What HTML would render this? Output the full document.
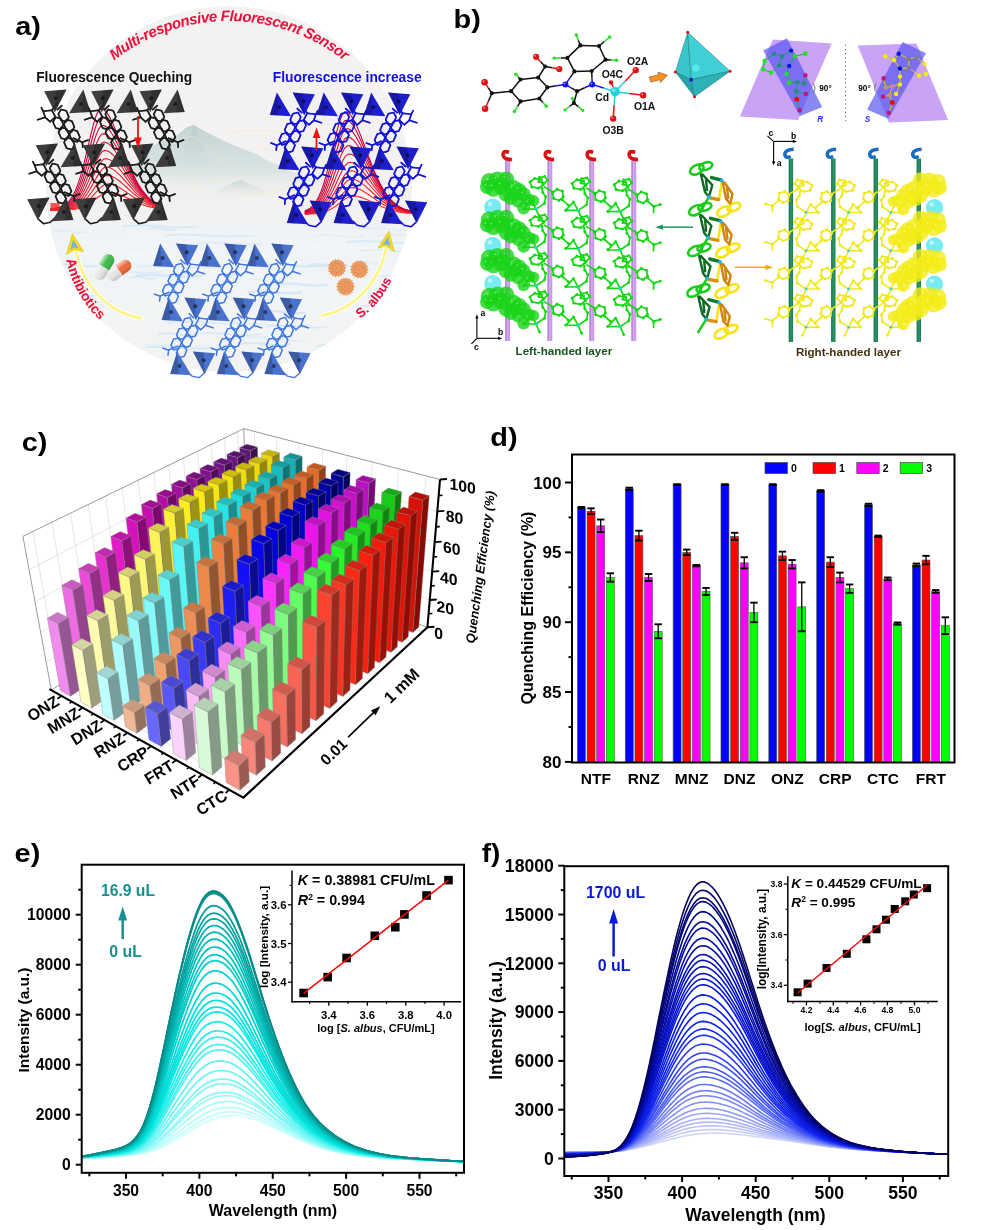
<!DOCTYPE html>
<html><head><meta charset="utf-8"><title>Figure</title>
<style>html,body{margin:0;padding:0;background:#fff;}svg{display:block;font-family:"Liberation Sans",sans-serif;}</style>
</head><body>
<svg width="986" height="1230" viewBox="0 0 986 1230">
<defs>
<clipPath id="clipE"><rect x="81.7" y="864.7" width="382.3" height="308.1"/></clipPath>
<clipPath id="clipF"><rect x="564.3" y="866.2" width="383.9" height="309.8"/></clipPath>
<clipPath id="clipA"><circle cx="229" cy="189" r="183"/></clipPath>
<linearGradient id="gA" x1="0" y1="0" x2="0" y2="1"><stop offset="0" stop-color="#f4f3f2"/><stop offset="1" stop-color="#f1f0ee"/></linearGradient>
<linearGradient id="gM" x1="0" y1="0" x2="0" y2="1"><stop offset="0" stop-color="#bfd2d1" stop-opacity="0.95"/><stop offset="0.6" stop-color="#d3e0df" stop-opacity="0.8"/><stop offset="1" stop-color="#eef1f0" stop-opacity="0"/></linearGradient>
<linearGradient id="gM2" x1="0" y1="0" x2="0" y2="1"><stop offset="0" stop-color="#b4cac9" stop-opacity="0.9"/><stop offset="1" stop-color="#e6eceb" stop-opacity="0"/></linearGradient>
<linearGradient id="gW" x1="0" y1="0" x2="0" y2="1"><stop offset="0" stop-color="#eef4f8" stop-opacity="0"/><stop offset="0.15" stop-color="#f0f4f6" stop-opacity="1"/><stop offset="0.7" stop-color="#f2f4f5" stop-opacity="1"/><stop offset="1" stop-color="#f3f2f1" stop-opacity="1"/></linearGradient>
<g id="lk" fill="none" stroke-linejoin="round" stroke-linecap="round"><polygon points="-11.7,-0.5 -3,-1.5 0.5,5.1 -4.6,10.1 -9.6,5.6"/><polygon points="0.78,5.55 6.05,6.86 8.69,12.91 6.06,17.66 0.8,16.35 -1.84,10.3"/><polygon points="6.3,15.7 11.56,17 14.2,23.06 11.58,27.8 6.32,26.5 3.68,20.44"/><polygon points="11.82,25.84 17.08,27.15 19.72,33.2 17.1,37.95 11.84,36.64 9.2,30.59"/><polygon points="6.12,-2.23 11.38,-0.93 14.02,5.13 11.4,9.87 6.14,8.57 3.5,2.51"/><polygon points="11.64,7.91 16.9,9.22 19.54,15.27 16.92,20.02 11.65,18.71 9.01,12.66"/><polygon points="17.15,18.06 22.42,19.36 25.06,25.42 22.43,30.16 17.17,28.86 14.53,22.8"/><path d="M-9.6 5.6 L-17.2 8.1 M-11.7 -0.5 L-13.5 -4 M18.5 26.5 L27.5 30.5 L33.3 28.4 M27.5 30.5 L28 35.5 M-3 -1.5 L2 -8 M2.5 -2 L7 -6"/></g>
<g id="dT" stroke="none"><polygon points="0,1.7 22.3,0 10.65,22.6"/><polygon points="11.6,0.8 22.3,0 10.65,22.6" fill="#000" opacity="0.2"/><circle cx="11.45" cy="8.59" r="2" fill="#000" opacity="0.5"/></g>
<g id="uT" stroke="none"><polygon points="13.65,0 20.8,22.4 -0.5,23.6"/><polygon points="13.65,0 20.8,22.4 12.27,22.9" fill="#000" opacity="0.2"/><circle cx="11.35" cy="14.46" r="2" fill="#000" opacity="0.5"/></g>
<g id="fw"><use href="#lk" x="10.65" y="22.1"/><use href="#lk" x="57.65" y="22.1"/><use href="#lk" x="106.05" y="22.1"/><use href="#lk" x="2.15" y="76.1"/><use href="#lk" x="49.15" y="76.1"/><use href="#lk" x="97.55" y="76.1"/><path d="M-5.85 129.6 l5 4.5 l7 -1.5 l4.5 -4.5 M41.15 129.6 l5 4.5 l7 -1.5 l4.5 -4.5 M89.55 129.6 l5 4.5 l7 -1.5 l4.5 -4.5" fill="none" stroke-linejoin="round"/><use href="#dT" x="0" y="0"/><use href="#dT" x="47" y="0"/><use href="#dT" x="95.4" y="0"/><use href="#uT" x="25.4" y="0"/><use href="#uT" x="72.9" y="0"/><use href="#uT" x="119.7" y="0"/><use href="#dT" x="-8.5" y="54"/><use href="#dT" x="38.5" y="54"/><use href="#dT" x="86.9" y="54"/><use href="#uT" x="16.9" y="54"/><use href="#uT" x="64.4" y="54"/><use href="#uT" x="111.2" y="54"/><use href="#dT" x="-17" y="108"/><use href="#dT" x="30" y="108"/><use href="#dT" x="78.4" y="108"/><use href="#uT" x="8.4" y="108"/><use href="#uT" x="55.9" y="108"/><use href="#uT" x="102.7" y="108"/><use href="#lk" x="10.65" y="22.1" opacity="0.6"/><use href="#lk" x="57.65" y="22.1" opacity="0.6"/><use href="#lk" x="106.05" y="22.1" opacity="0.6"/><use href="#lk" x="2.15" y="76.1" opacity="0.6"/><use href="#lk" x="49.15" y="76.1" opacity="0.6"/><use href="#lk" x="97.55" y="76.1" opacity="0.6"/></g>
<path id="arcT" d="M 112.33 61.86 A 187 187 0 0 1 345.67 61.86"/>
<path id="arcL" d="M66 258.5 Q 73.5 296 101 321"/>
<path id="arcR" d="M357.8 320.6 Q 382 303 393 277"/>
<linearGradient id="gPill" x1="0" y1="0" x2="0" y2="1"><stop offset="0" stop-color="#ffffff" stop-opacity="0.65"/><stop offset="0.45" stop-color="#ffffff" stop-opacity="0"/><stop offset="1" stop-color="#000" stop-opacity="0.18"/></linearGradient>
<linearGradient id="gRodP" x1="0" y1="0" x2="1" y2="0"><stop offset="0" stop-color="#9a68c4"/><stop offset="0.45" stop-color="#d9a8f2"/><stop offset="1" stop-color="#c48ee0"/></linearGradient>
<linearGradient id="gRodG" x1="0" y1="0" x2="1" y2="0"><stop offset="0" stop-color="#146a44"/><stop offset="0.5" stop-color="#2a9a68"/><stop offset="1" stop-color="#1a7a50"/></linearGradient>
<marker id="mG" markerWidth="4" markerHeight="4" refX="2" refY="2" markerUnits="userSpaceOnUse"><circle cx="2" cy="2" r="1.45" fill="#14d814"/></marker><marker id="mY" markerWidth="4" markerHeight="4" refX="2" refY="2" markerUnits="userSpaceOnUse"><circle cx="2" cy="2" r="1.4" fill="#f0e81a"/></marker>
<g id="uc" fill="none" stroke-linejoin="round" stroke-linecap="round"><polygon points="7.23,-24.54 2.45,-20.89 -4.18,-22.15 -6.03,-27.06 -1.25,-30.71 5.38,-29.45"/><polygon points="11.61,-28.84 7.91,-25.63 2.81,-27.36 3.37,-31.63 8.8,-32.55"/><polygon points="-14.75,-13.55 -19.12,-9.89 -24.47,-11.84 -25.45,-17.45 -21.08,-21.11 -15.73,-19.16"/><path d="M0 0 L8.5 -5.7 L9.7 -12.4 L6.7 -16.7 L6 -21 M0 0 L3.5 8 M-12.2 -0.2 L-4.6 -8.4 L0 0 Z M-9.7 -5.1 L-15.8 -10.6 M-25.4 -18.4 L-33.5 -23.4"/></g>
<g id="ue" fill="none" stroke-linejoin="round" stroke-linecap="round"><polygon points="-14.75,-13.55 -19.12,-9.89 -24.47,-11.84 -25.45,-17.45 -21.08,-21.11 -15.73,-19.16"/><path d="M-25.4 -18.4 L-33.5 -23.4 M-15 -12 L-8.5 -6.5 L-2 -8.5 M-8.5 -6.5 L-8.8 -0.5"/></g>
<g id="bl" stroke="none"><circle cx="-46.6" cy="-27.6" r="8.6" fill-opacity="0.8"/><circle cx="-38.4" cy="-28.8" r="8.8" fill-opacity="0.8"/><circle cx="-42.5" cy="-21" r="8.6" fill-opacity="0.8"/><circle cx="-34.3" cy="-23" r="8.6" fill-opacity="0.8"/><circle cx="-29.7" cy="-29.6" r="8" fill-opacity="0.8"/><circle cx="-49" cy="-22" r="7" fill-opacity="0.8"/><circle cx="-22.4" cy="-21.2" r="8" fill-opacity="0.8"/><circle cx="-16.9" cy="-18.5" r="7.6" fill-opacity="0.8"/><circle cx="-12.4" cy="-14.8" r="7" fill-opacity="0.8"/><circle cx="-25.2" cy="-11" r="7" fill-opacity="0.8"/><circle cx="-6.9" cy="-9.4" r="6.2" fill-opacity="0.8"/><circle cx="-2.3" cy="-8.4" r="5.6" fill-opacity="0.8"/><circle cx="-12.4" cy="-1.1" r="6.4" fill-opacity="0.8"/><circle cx="-30" cy="-15" r="7.5" fill-opacity="0.8"/><circle cx="-18" cy="-8" r="6.5" fill-opacity="0.8"/><circle cx="-48.75" cy="-30.18" r="0.7" fill="#fff" opacity="0.6"/><circle cx="-40.6" cy="-31.44" r="0.7" fill="#fff" opacity="0.6"/><circle cx="-44.65" cy="-23.58" r="0.7" fill="#fff" opacity="0.6"/><circle cx="-36.45" cy="-25.58" r="0.7" fill="#fff" opacity="0.6"/><circle cx="-31.7" cy="-32" r="0.7" fill="#fff" opacity="0.6"/><circle cx="-50.75" cy="-24.1" r="0.7" fill="#fff" opacity="0.6"/><circle cx="-24.4" cy="-23.6" r="0.7" fill="#fff" opacity="0.6"/><circle cx="-18.8" cy="-20.78" r="0.7" fill="#fff" opacity="0.6"/><circle cx="-14.15" cy="-16.9" r="0.7" fill="#fff" opacity="0.6"/></g>
<g id="curl" fill="none" stroke-linecap="butt"><path d="M7.5 2.2 Q1.2 0.2 1.6 5.2 Q2.2 9.2 10.4 9.6" stroke-width="3.6"/><polygon points="6.2,-1.8 11.6,2.3 6.4,5.8" stroke="none"/></g>
<g id="hx" fill="none" stroke-linecap="round" stroke-linejoin="round"><g stroke="#1ccc1c" stroke-width="2.6"><ellipse cx="26.8" cy="19.5" rx="7.4" ry="4.3" transform="rotate(-28 26.8 19.5)"/><ellipse cx="35.8" cy="16.2" rx="6.8" ry="3.6" transform="rotate(-18 35.8 16.2)"/><path d="M39 47 L31 60"/></g><path d="M31 24.5 L35 42 L39 47 M32.5 24.5 L42.3 35 L39 47 M36 30 L37 40" stroke="#0d6a22" stroke-width="2.4"/><path d="M41.5 27.6 L51 30" stroke="#0f7a2a" stroke-width="3.4"/><g stroke="#f6e418" stroke-width="2.6"><ellipse cx="54" cy="61.5" rx="7.4" ry="4.3" transform="rotate(-28 54 61.5)"/><ellipse cx="64" cy="57" rx="6.8" ry="3.6" transform="rotate(-22 64 57)"/><path d="M52 31 L49 49"/></g><path d="M52.8 32.5 L56 49 L60.2 53.6 M54.5 32.5 L62.5 44 L60.2 53.6 M57 38 L58.3 48" stroke="#cf840c" stroke-width="2.4"/><path d="M40.6 48 L48.8 49.6" stroke="#d8900e" stroke-width="3.4"/><circle cx="51.8" cy="30.6" r="1.9" fill="#1fb4f0" stroke="none"/><circle cx="39" cy="47" r="1.9" fill="#1fb4f0" stroke="none"/></g>
</defs>
<rect width="986" height="1230" fill="#fff"/>
<g style="will-change:opacity" opacity="0.9999">
<circle cx="229" cy="189" r="183" fill="url(#gA)" stroke="none" stroke-width="1" />
<g clip-path="url(#clipA)">
<path d="M95 200 L130 168 L158 142 L176 136 L187 127 L194 125 L204 131 L214 136 L226 142 L233 145 L246 150 L258 155 L268 161 L280 166 L292 172 L310 178 L335 186 L360 200 Z" fill="url(#gM)"/>
<path d="M172 200 L184 150 L194 125 L203 146 L212 172 L226 200 Z" fill="url(#gM2)" opacity="0.6"/>
<path d="M205 200 L222 188 L234 182 L241 180 L250 184 L262 189 L280 200 Z" fill="url(#gM2)" opacity="0.7"/>
<path d="M165 150 Q185 132 196 138 T230 170 T262 190" fill="none" stroke="#f5e6c8" stroke-width="0.8" opacity="0.8"/>
<path d="M230 132 Q260 128 300 134" fill="none" stroke="#f5e6c8" stroke-width="0.8" opacity="0.8"/>
<path d="M190 190 Q215 170 232 186 T290 186" fill="none" stroke="#f5e6c8" stroke-width="0.8" opacity="0.8"/>
<path d="M262 150 Q290 152 312 150" fill="none" stroke="#f5e6c8" stroke-width="0.8" opacity="0.8"/>
<rect x="40" y="212" width="380" height="160" fill="url(#gW)" stroke="none" stroke-width="0" />
<path d="M127.9 239 q11.7 -2 23.39 0 t23.39 0" fill="none" stroke="#f6f7f7" stroke-width="1.13" opacity="0.75"/>
<path d="M56.54 295.22 q10.23 -2 20.46 0 t20.46 0" fill="none" stroke="#d3e7f5" stroke-width="1.31" opacity="0.75"/>
<path d="M227.1 260.86 q8.62 -2 17.25 0 t17.25 0" fill="none" stroke="#d3e7f5" stroke-width="1.37" opacity="0.75"/>
<path d="M361.18 229.23 q15.06 -2 30.12 0 t30.12 0" fill="none" stroke="#dcecf7" stroke-width="2.12" opacity="0.75"/>
<path d="M113.83 265.04 q14.87 -2 29.74 0 t29.74 0" fill="none" stroke="#dcecf7" stroke-width="1.12" opacity="0.75"/>
<path d="M249.93 310.63 q13.21 -2 26.41 0 t26.41 0" fill="none" stroke="#f6f7f7" stroke-width="1.35" opacity="0.75"/>
<path d="M142.4 345.02 q17.5 -2 34.99 0 t34.99 0" fill="none" stroke="#dcecf7" stroke-width="1.01" opacity="0.75"/>
<path d="M146.34 314.82 q10.54 -2 21.07 0 t21.07 0" fill="none" stroke="#f6f7f7" stroke-width="1.58" opacity="0.75"/>
<path d="M247.64 280.31 q8.47 -2 16.94 0 t16.94 0" fill="none" stroke="#dcecf7" stroke-width="1.36" opacity="0.75"/>
<path d="M313.14 236.22 q12.61 -2 25.22 0 t25.22 0" fill="none" stroke="#dcecf7" stroke-width="1.73" opacity="0.75"/>
<path d="M263.84 314.31 q8.24 -2 16.49 0 t16.49 0" fill="none" stroke="#f6f7f7" stroke-width="1.09" opacity="0.75"/>
<path d="M351.47 306.01 q12.32 -2 24.63 0 t24.63 0" fill="none" stroke="#f6f7f7" stroke-width="1.5" opacity="0.75"/>
<path d="M296.49 266.4 q13.93 -2 27.86 0 t27.86 0" fill="none" stroke="#dcecf7" stroke-width="1.14" opacity="0.75"/>
<path d="M70.33 254.84 q16.77 -2 33.54 0 t33.54 0" fill="none" stroke="#f6f7f7" stroke-width="1.17" opacity="0.75"/>
<path d="M358.41 262.66 q6.6 -2 13.21 0 t13.21 0" fill="none" stroke="#dcecf7" stroke-width="1.98" opacity="0.75"/>
<path d="M345.66 346.3 q16.35 -2 32.71 0 t32.71 0" fill="none" stroke="#dcecf7" stroke-width="1.03" opacity="0.75"/>
<path d="M145.37 347.72 q16.91 -2 33.82 0 t33.82 0" fill="none" stroke="#cfe4f4" stroke-width="2.21" opacity="0.75"/>
<path d="M336.94 311.69 q7.32 -2 14.64 0 t14.64 0" fill="none" stroke="#f6f7f7" stroke-width="2.25" opacity="0.75"/>
<path d="M146.36 257.51 q14.48 -2 28.97 0 t28.97 0" fill="none" stroke="#f6f7f7" stroke-width="1.46" opacity="0.75"/>
<path d="M53.1 231.64 q8.58 -2 17.16 0 t17.16 0" fill="none" stroke="#dcecf7" stroke-width="2.4" opacity="0.75"/>
<path d="M238.58 281.36 q9.1 -2 18.2 0 t18.2 0" fill="none" stroke="#f6f7f7" stroke-width="1.16" opacity="0.75"/>
<path d="M70.53 318.88 q14.44 -2 28.88 0 t28.88 0" fill="none" stroke="#f6f7f7" stroke-width="1.85" opacity="0.75"/>
<path d="M230.26 299.42 q10.67 -2 21.34 0 t21.34 0" fill="none" stroke="#d3e7f5" stroke-width="1.17" opacity="0.75"/>
<path d="M224.65 323.5 q11.88 -2 23.76 0 t23.76 0" fill="none" stroke="#f6f7f7" stroke-width="1.67" opacity="0.75"/>
<path d="M129.81 277.74 q6.76 -2 13.51 0 t13.51 0" fill="none" stroke="#cfe4f4" stroke-width="1.62" opacity="0.75"/>
<path d="M263.65 279.91 q9.22 -2 18.43 0 t18.43 0" fill="none" stroke="#f6f7f7" stroke-width="1.04" opacity="0.75"/>
<path d="M133.95 256.54 q9.11 -2 18.22 0 t18.22 0" fill="none" stroke="#f6f7f7" stroke-width="1.58" opacity="0.75"/>
<path d="M136.36 266.95 q18.5 -2 37 0 t37 0" fill="none" stroke="#dcecf7" stroke-width="1.79" opacity="0.75"/>
<path d="M376.89 276.77 q18.64 -2 37.28 0 t37.28 0" fill="none" stroke="#d3e7f5" stroke-width="1.69" opacity="0.75"/>
<path d="M80.66 252.58 q18.26 -2 36.53 0 t36.53 0" fill="none" stroke="#f6f7f7" stroke-width="1.47" opacity="0.75"/>
<path d="M266.78 326.74 q15.08 -2 30.17 0 t30.17 0" fill="none" stroke="#cfe4f4" stroke-width="1.74" opacity="0.75"/>
<path d="M266.06 312.43 q9.94 -2 19.88 0 t19.88 0" fill="none" stroke="#cfe4f4" stroke-width="2.34" opacity="0.75"/>
<path d="M74.55 348.36 q19.47 -2 38.95 0 t38.95 0" fill="none" stroke="#f6f7f7" stroke-width="1.06" opacity="0.75"/>
<path d="M346.66 242.08 q19.57 -2 39.13 0 t39.13 0" fill="none" stroke="#d3e7f5" stroke-width="2.22" opacity="0.75"/>
<path d="M276.99 284.54 q12.74 -2 25.49 0 t25.49 0" fill="none" stroke="#cfe4f4" stroke-width="2.3" opacity="0.75"/>
<path d="M122.12 226.41 q18.93 -2 37.86 0 t37.86 0" fill="none" stroke="#d3e7f5" stroke-width="1.85" opacity="0.75"/>
<path d="M134.92 275.87 q16.83 -2 33.67 0 t33.67 0" fill="none" stroke="#cfe4f4" stroke-width="2.23" opacity="0.75"/>
<path d="M231.7 336.72 q9.02 -2 18.05 0 t18.05 0" fill="none" stroke="#dcecf7" stroke-width="2.15" opacity="0.75"/>
<path d="M235.58 324.83 q18.83 -2 37.67 0 t37.67 0" fill="none" stroke="#cfe4f4" stroke-width="1.04" opacity="0.75"/>
<path d="M61.28 300.91 q12.97 -2 25.94 0 t25.94 0" fill="none" stroke="#dcecf7" stroke-width="1.85" opacity="0.75"/>
<path d="M95.79 271.68 q16.8 -2 33.61 0 t33.61 0" fill="none" stroke="#d3e7f5" stroke-width="1.42" opacity="0.75"/>
<path d="M164.48 235.42 q19.45 -2 38.9 0 t38.9 0" fill="none" stroke="#cfe4f4" stroke-width="1.53" opacity="0.75"/>
<path d="M309.84 265.21 q9.46 -2 18.93 0 t18.93 0" fill="none" stroke="#cfe4f4" stroke-width="2.2" opacity="0.75"/>
<path d="M182.02 235.73 q18.84 -2 37.68 0 t37.68 0" fill="none" stroke="#dcecf7" stroke-width="1.72" opacity="0.75"/>
<path d="M193.2 334.09 q16.93 -2 33.86 0 t33.86 0" fill="none" stroke="#d3e7f5" stroke-width="1.88" opacity="0.75"/>
<path d="M360.44 306.25 q19.03 -2 38.07 0 t38.07 0" fill="none" stroke="#cfe4f4" stroke-width="1.59" opacity="0.75"/>
<path d="M313.46 247.09 q18.27 -2 36.54 0 t36.54 0" fill="none" stroke="#f6f7f7" stroke-width="1.99" opacity="0.75"/>
<path d="M157.76 334.34 q9.81 -2 19.61 0 t19.61 0" fill="none" stroke="#d3e7f5" stroke-width="1.99" opacity="0.75"/>
<path d="M51.84 265.29 q13.74 -2 27.49 0 t27.49 0" fill="none" stroke="#cfe4f4" stroke-width="2.1" opacity="0.75"/>
<path d="M248.33 292.31 q13.41 -2 26.82 0 t26.82 0" fill="none" stroke="#cfe4f4" stroke-width="2.19" opacity="0.75"/>
<path d="M167.74 322.6 q19.8 -2 39.61 0 t39.61 0" fill="none" stroke="#d3e7f5" stroke-width="1.95" opacity="0.75"/>
<path d="M251.15 265.47 q18.8 -2 37.6 0 t37.6 0" fill="none" stroke="#cfe4f4" stroke-width="2.1" opacity="0.75"/>
<path d="M237.55 344.03 q13.22 -2 26.43 0 t26.43 0" fill="none" stroke="#cfe4f4" stroke-width="1.86" opacity="0.75"/>
<path d="M195.88 243.72 q16.85 -2 33.7 0 t33.7 0" fill="none" stroke="#dcecf7" stroke-width="2.38" opacity="0.75"/>
<path d="M162.21 280.61 q14.58 -2 29.15 0 t29.15 0" fill="none" stroke="#f6f7f7" stroke-width="1.4" opacity="0.75"/>
<path d="M360.04 250.88 q17.17 -2 34.33 0 t34.33 0" fill="none" stroke="#d3e7f5" stroke-width="1.11" opacity="0.75"/>
<path d="M263.08 339.94 q10.78 -2 21.57 0 t21.57 0" fill="none" stroke="#dcecf7" stroke-width="1.46" opacity="0.75"/>
<path d="M149.19 228.92 q6.53 -2 13.05 0 t13.05 0" fill="none" stroke="#d3e7f5" stroke-width="2.12" opacity="0.75"/>
<path d="M316.39 346.12 q8.43 -2 16.86 0 t16.86 0" fill="none" stroke="#cfe4f4" stroke-width="1.93" opacity="0.75"/>
<path d="M377.53 235.69 q18.98 -2 37.96 0 t37.96 0" fill="none" stroke="#d3e7f5" stroke-width="1.24" opacity="0.75"/>
</g>
<path d="M50.5 210.3 L53.2 210.3 L55.9 210.2 L58.6 210.2 L61.2 210.1 L63.9 210.1 L66.6 209.9 L69.3 209.8 L72 209.5 L74.7 209.1 L77.4 208.6 L80.1 207.9 L82.8 207 L85.4 205.8 L88.1 204.3 L90.8 202.5 L93.5 200.6 L96.2 198.5 L98.9 196.5 L101.6 194.6 L104.2 193.1 L106.9 192.3 L109.6 192.2 L112.3 192.5 L115 193 L117.7 193.8 L120.4 194.9 L123.1 196 L125.8 197.2 L128.4 198.5 L131.1 199.8 L133.8 201.1 L136.5 202.3 L139.2 203.4 L141.9 204.4 L144.6 205.4 L147.2 206.2 L149.9 206.9 L152.6 207.5 L155.3 208.1 L158 208.5" fill="none" stroke="#ff2828" stroke-width="1.1"/>
<path d="M50.5 210.2 L53.2 210.1 L55.9 210.1 L58.6 210 L61.2 209.9 L63.9 209.8 L66.6 209.6 L69.3 209.3 L72 208.9 L74.7 208.3 L77.4 207.5 L80.1 206.4 L82.8 204.9 L85.4 203 L88.1 200.8 L90.8 198.1 L93.5 195.2 L96.2 192.2 L98.9 189.3 L101.6 186.7 L104.2 184.8 L106.9 183.8 L109.6 183.9 L112.3 184.4 L115 185.4 L117.7 186.6 L120.4 188.2 L123.1 189.9 L125.8 191.7 L128.4 193.6 L131.1 195.5 L133.8 197.3 L136.5 199 L139.2 200.6 L141.9 202 L144.6 203.4 L147.2 204.5 L149.9 205.5 L152.6 206.4 L155.3 207.1 L158 207.8" fill="none" stroke="#f9242a" stroke-width="1.1"/>
<path d="M50.5 210 L53.2 210 L55.9 209.9 L58.6 209.8 L61.2 209.7 L63.9 209.5 L66.6 209.3 L69.3 208.8 L72 208.3 L74.7 207.4 L77.4 206.2 L80.1 204.6 L82.8 202.5 L85.4 199.9 L88.1 196.8 L90.8 193.2 L93.5 189.4 L96.2 185.4 L98.9 181.6 L101.6 178.4 L104.2 176.2 L106.9 175.4 L109.6 175.7 L112.3 176.6 L115 177.9 L117.7 179.7 L120.4 181.8 L123.1 184.1 L125.8 186.5 L128.4 189 L131.1 191.4 L133.8 193.8 L136.5 196 L139.2 198 L141.9 199.9 L144.6 201.6 L147.2 203.1 L149.9 204.3 L152.6 205.4 L155.3 206.3 L158 207.1" fill="none" stroke="#f3202c" stroke-width="1.1"/>
<path d="M50.5 209.9 L53.2 209.9 L55.9 209.8 L58.6 209.6 L61.2 209.5 L63.9 209.2 L66.6 208.8 L69.3 208.3 L72 207.5 L74.7 206.3 L77.4 204.7 L80.1 202.5 L82.8 199.8 L85.4 196.4 L88.1 192.3 L90.8 187.8 L93.5 183 L96.2 178.1 L98.9 173.6 L101.6 169.9 L104.2 167.6 L106.9 167.1 L109.6 167.6 L112.3 168.9 L115 170.7 L117.7 173.1 L120.4 175.7 L123.1 178.6 L125.8 181.7 L128.4 184.7 L131.1 187.7 L133.8 190.6 L136.5 193.3 L139.2 195.7 L141.9 198 L144.6 200 L147.2 201.8 L149.9 203.3 L152.6 204.6 L155.3 205.6 L158 206.5" fill="none" stroke="#ed1c2e" stroke-width="1.1"/>
<path d="M50.5 209.8 L53.2 209.7 L55.9 209.6 L58.6 209.4 L61.2 209.2 L63.9 208.9 L66.6 208.4 L69.3 207.6 L72 206.5 L74.7 205 L77.4 202.9 L80.1 200.2 L82.8 196.7 L85.4 192.4 L88.1 187.4 L90.8 181.9 L93.5 176 L96.2 170.3 L98.9 165.1 L101.6 161.1 L104.2 158.9 L106.9 158.8 L109.6 159.7 L112.3 161.4 L115 163.8 L117.7 166.7 L120.4 170 L123.1 173.5 L125.8 177.1 L128.4 180.8 L131.1 184.3 L133.8 187.6 L136.5 190.8 L139.2 193.7 L141.9 196.3 L144.6 198.6 L147.2 200.6 L149.9 202.3 L152.6 203.8 L155.3 205 L158 206" fill="none" stroke="#e71830" stroke-width="1.1"/>
<path d="M50.5 209.7 L53.2 209.5 L55.9 209.4 L58.6 209.2 L61.2 208.9 L63.9 208.5 L66.6 207.8 L69.3 206.8 L72 205.5 L74.7 203.5 L77.4 200.9 L80.1 197.4 L82.8 193.1 L85.4 187.9 L88.1 181.9 L90.8 175.3 L93.5 168.5 L96.2 162 L98.9 156.3 L101.6 152.2 L104.2 150.4 L106.9 150.7 L109.6 152 L112.3 154.2 L115 157.2 L117.7 160.7 L120.4 164.6 L123.1 168.7 L125.8 172.9 L128.4 177.1 L131.1 181.2 L133.8 185 L136.5 188.6 L139.2 191.8 L141.9 194.8 L144.6 197.4 L147.2 199.6 L149.9 201.5 L152.6 203.1 L155.3 204.5 L158 205.6" fill="none" stroke="#e11432" stroke-width="1.1"/>
<path d="M50.5 209.5 L53.2 209.4 L55.9 209.2 L58.6 208.9 L61.2 208.5 L63.9 208 L66.6 207.2 L69.3 205.9 L72 204.2 L74.7 201.8 L77.4 198.5 L80.1 194.4 L82.8 189.1 L85.4 182.9 L88.1 175.9 L90.8 168.3 L93.5 160.6 L96.2 153.3 L98.9 147.2 L101.6 143.2 L104.2 142 L106.9 142.7 L109.6 144.5 L112.3 147.2 L115 150.8 L117.7 155 L120.4 159.5 L123.1 164.2 L125.8 169 L128.4 173.8 L131.1 178.3 L133.8 182.6 L136.5 186.6 L139.2 190.2 L141.9 193.4 L144.6 196.3 L147.2 198.7 L149.9 200.8 L152.6 202.6 L155.3 204 L158 205.2" fill="none" stroke="#db1034" stroke-width="1.1"/>
<path d="M50.5 209.3 L53.2 209.2 L55.9 209 L58.6 208.6 L61.2 208.2 L63.9 207.5 L66.6 206.4 L69.3 204.9 L72 202.8 L74.7 199.8 L77.4 195.9 L80.1 190.9 L82.8 184.7 L85.4 177.5 L88.1 169.3 L90.8 160.7 L93.5 152.1 L96.2 144.2 L98.9 138 L101.6 134.3 L104.2 133.7 L106.9 134.8 L109.6 137.2 L112.3 140.6 L115 144.8 L117.7 149.6 L120.4 154.8 L123.1 160.1 L125.8 165.5 L128.4 170.8 L131.1 175.8 L133.8 180.5 L136.5 184.9 L139.2 188.8 L141.9 192.3 L144.6 195.4 L147.2 198 L149.9 200.2 L152.6 202.1 L155.3 203.6 L158 204.9" fill="none" stroke="#d50c36" stroke-width="1.1"/>
<path d="M50.5 209.2 L53.2 209 L55.9 208.7 L58.6 208.3 L61.2 207.7 L63.9 206.8 L66.6 205.6 L69.3 203.7 L72 201.1 L74.7 197.5 L77.4 192.9 L80.1 186.9 L82.8 179.8 L85.4 171.4 L88.1 162.2 L90.8 152.6 L93.5 143.2 L96.2 134.9 L98.9 128.6 L101.6 125.5 L104.2 125.5 L106.9 127.2 L109.6 130.2 L112.3 134.2 L115 139.1 L117.7 144.5 L120.4 150.3 L123.1 156.3 L125.8 162.2 L128.4 168 L131.1 173.5 L133.8 178.7 L136.5 183.4 L139.2 187.6 L141.9 191.3 L144.6 194.6 L147.2 197.4 L149.9 199.7 L152.6 201.7 L155.3 203.3 L158 204.6" fill="none" stroke="#cf0838" stroke-width="1.1"/>
<path d="M50.5 209 L53.2 208.8 L55.9 208.4 L58.6 207.9 L61.2 207.2 L63.9 206.1 L66.6 204.6 L69.3 202.3 L72 199.2 L74.7 195 L77.4 189.5 L80.1 182.6 L82.8 174.3 L85.4 164.8 L88.1 154.5 L90.8 144 L93.5 133.9 L96.2 125.3 L98.9 119.2 L101.6 116.9 L104.2 117.6 L106.9 119.8 L109.6 123.4 L112.3 128.1 L115 133.7 L117.7 139.8 L120.4 146.3 L123.1 152.8 L125.8 159.3 L128.4 165.6 L131.1 171.5 L133.8 177 L136.5 182 L139.2 186.5 L141.9 190.5 L144.6 193.9 L147.2 196.8 L149.9 199.3 L152.6 201.3 L155.3 203 L158 204.4" fill="none" stroke="#c9043a" stroke-width="1.1"/>
<path d="M50.5 208.8 L53.2 208.5 L55.9 208.1 L58.6 207.5 L61.2 206.6 L63.9 205.3 L66.6 203.5 L69.3 200.8 L72 197 L74.7 192 L77.4 185.6 L80.1 177.7 L82.8 168.3 L85.4 157.7 L88.1 146.3 L90.8 134.9 L93.5 124.2 L96.2 115.5 L98.9 109.9 L101.6 108.5 L104.2 109.8 L106.9 112.7 L109.6 117 L112.3 122.4 L115 128.7 L117.7 135.4 L120.4 142.5 L123.1 149.7 L125.8 156.7 L128.4 163.4 L131.1 169.8 L133.8 175.6 L136.5 180.9 L139.2 185.7 L141.9 189.8 L144.6 193.4 L147.2 196.4 L149.9 199 L152.6 201.1 L155.3 202.8 L158 204.2" fill="none" stroke="#c4003c" stroke-width="1.1"/>
<path d="M304.8 214.1 L307.5 214.1 L310.2 214 L312.8 213.8 L315.5 213.6 L318.2 213.3 L320.9 212.8 L323.6 212.2 L326.2 211.3 L328.9 210.1 L331.6 208.7 L334.3 207.1 L337 205.2 L339.6 203.1 L342.3 201 L345 199.1 L347.7 197.4 L350.4 196.3 L353 196 L355.7 196.2 L358.4 196.7 L361.1 197.4 L363.8 198.4 L366.4 199.5 L369.1 200.7 L371.8 202 L374.5 203.3 L377.2 204.6 L379.8 205.8 L382.5 207 L385.2 208 L387.9 209 L390.6 209.9 L393.2 210.7 L395.9 211.3 L398.6 211.9 L401.3 212.4 L404 212.7 L406.6 213.1 L409.3 213.3 L412 213.5" fill="none" stroke="#ff2828" stroke-width="1.1"/>
<path d="M304.8 214 L307.5 213.8 L310.2 213.7 L312.8 213.4 L315.5 213.1 L318.2 212.5 L320.9 211.8 L323.6 210.8 L326.2 209.4 L328.9 207.6 L331.6 205.5 L334.3 202.9 L337 200.1 L339.6 197.1 L342.3 194.1 L345 191.3 L347.7 189.1 L350.4 187.8 L353 187.6 L355.7 188 L358.4 188.8 L361.1 190 L363.8 191.5 L366.4 193.2 L369.1 195 L371.8 196.9 L374.5 198.7 L377.2 200.6 L379.8 202.3 L382.5 204 L385.2 205.5 L387.9 206.9 L390.6 208.1 L393.2 209.2 L395.9 210.1 L398.6 210.9 L401.3 211.6 L404 212.1 L406.6 212.5 L409.3 212.9 L412 213.2" fill="none" stroke="#f9242a" stroke-width="1.1"/>
<path d="M304.8 213.8 L307.5 213.6 L310.2 213.3 L312.8 213 L315.5 212.5 L318.2 211.7 L320.9 210.6 L323.6 209.1 L326.2 207.2 L328.9 204.7 L331.6 201.8 L334.3 198.3 L337 194.5 L339.6 190.5 L342.3 186.6 L345 183.1 L347.7 180.5 L350.4 179.2 L353 179.3 L355.7 180 L358.4 181.2 L361.1 182.9 L363.8 184.9 L366.4 187.1 L369.1 189.5 L371.8 192 L374.5 194.5 L377.2 196.9 L379.8 199.2 L382.5 201.3 L385.2 203.2 L387.9 205 L390.6 206.5 L393.2 207.9 L395.9 209.1 L398.6 210 L401.3 210.8 L404 211.5 L406.6 212.1 L409.3 212.5 L412 212.8" fill="none" stroke="#f3202c" stroke-width="1.1"/>
<path d="M304.8 213.5 L307.5 213.3 L310.2 213 L312.8 212.5 L315.5 211.7 L318.2 210.7 L320.9 209.2 L323.6 207.2 L326.2 204.7 L328.9 201.4 L331.6 197.6 L334.3 193.1 L337 188.3 L339.6 183.4 L342.3 178.7 L345 174.6 L347.7 171.8 L350.4 170.7 L353 171 L355.7 172.1 L358.4 173.8 L361.1 176 L363.8 178.6 L366.4 181.4 L369.1 184.5 L371.8 187.5 L374.5 190.6 L377.2 193.5 L379.8 196.3 L382.5 198.8 L385.2 201.2 L387.9 203.3 L390.6 205.1 L393.2 206.7 L395.9 208.1 L398.6 209.3 L401.3 210.2 L404 211 L406.6 211.6 L409.3 212.1 L412 212.5" fill="none" stroke="#ed1c2e" stroke-width="1.1"/>
<path d="M304.8 213.3 L307.5 213 L310.2 212.5 L312.8 211.9 L315.5 210.9 L318.2 209.5 L320.9 207.6 L323.6 205.1 L326.2 201.8 L328.9 197.7 L331.6 192.9 L334.3 187.5 L337 181.6 L339.6 175.8 L342.3 170.3 L345 165.8 L347.7 163 L350.4 162.3 L353 162.9 L355.7 164.4 L358.4 166.6 L361.1 169.4 L363.8 172.6 L366.4 176.1 L369.1 179.7 L371.8 183.4 L374.5 186.9 L377.2 190.4 L379.8 193.6 L382.5 196.6 L385.2 199.4 L387.9 201.8 L390.6 203.9 L393.2 205.7 L395.9 207.3 L398.6 208.6 L401.3 209.7 L404 210.6 L406.6 211.3 L409.3 211.8 L412 212.3" fill="none" stroke="#e71830" stroke-width="1.1"/>
<path d="M304.8 213 L307.5 212.6 L310.2 212 L312.8 211.2 L315.5 209.9 L318.2 208.2 L320.9 205.7 L323.6 202.6 L326.2 198.5 L328.9 193.5 L331.6 187.7 L334.3 181.2 L337 174.4 L339.6 167.7 L342.3 161.6 L345 156.8 L347.7 154.2 L350.4 154 L353 155 L355.7 157 L358.4 159.7 L361.1 163.1 L363.8 166.9 L366.4 171 L369.1 175.3 L371.8 179.5 L374.5 183.6 L377.2 187.6 L379.8 191.3 L382.5 194.7 L385.2 197.7 L387.9 200.5 L390.6 202.8 L393.2 204.9 L395.9 206.6 L398.6 208 L401.3 209.2 L404 210.2 L406.6 210.9 L409.3 211.6 L412 212" fill="none" stroke="#e11432" stroke-width="1.1"/>
<path d="M304.8 212.7 L307.5 212.2 L310.2 211.4 L312.8 210.4 L315.5 208.8 L318.2 206.6 L320.9 203.6 L323.6 199.7 L326.2 194.8 L328.9 188.8 L331.6 182 L334.3 174.5 L337 166.7 L339.6 159.1 L342.3 152.5 L345 147.7 L347.7 145.5 L350.4 145.8 L353 147.2 L355.7 149.8 L358.4 153.1 L361.1 157.1 L363.8 161.6 L366.4 166.3 L369.1 171.2 L371.8 176 L374.5 180.6 L377.2 185.1 L379.8 189.2 L382.5 192.9 L385.2 196.3 L387.9 199.3 L390.6 201.9 L393.2 204.1 L395.9 206 L398.6 207.5 L401.3 208.8 L404 209.8 L406.6 210.7 L409.3 211.3 L412 211.8" fill="none" stroke="#db1034" stroke-width="1.1"/>
<path d="M304.8 212.3 L307.5 211.7 L310.2 210.8 L312.8 209.4 L315.5 207.5 L318.2 204.8 L320.9 201.2 L323.6 196.5 L326.2 190.6 L328.9 183.6 L331.6 175.7 L334.3 167.1 L337 158.4 L339.6 150.1 L342.3 143.2 L345 138.5 L347.7 137 L350.4 137.7 L353 139.7 L355.7 142.8 L358.4 146.8 L361.1 151.5 L363.8 156.6 L366.4 162 L369.1 167.4 L371.8 172.8 L374.5 177.9 L377.2 182.8 L379.8 187.3 L382.5 191.4 L385.2 195.1 L387.9 198.3 L390.6 201.1 L393.2 203.5 L395.9 205.5 L398.6 207.1 L401.3 208.4 L404 209.5 L406.6 210.4 L409.3 211.1 L412 211.6" fill="none" stroke="#d50c36" stroke-width="1.1"/>
<path d="M304.8 211.9 L307.5 211.1 L310.2 210 L312.8 208.3 L315.5 206 L318.2 202.7 L320.9 198.4 L323.6 192.8 L326.2 186 L328.9 177.9 L331.6 168.9 L334.3 159.3 L337 149.6 L339.6 140.8 L342.3 133.7 L345 129.4 L347.7 128.6 L350.4 129.9 L353 132.4 L355.7 136.2 L358.4 140.9 L361.1 146.2 L363.8 152 L366.4 157.9 L369.1 164 L371.8 169.8 L374.5 175.5 L377.2 180.8 L379.8 185.7 L382.5 190.1 L385.2 194 L387.9 197.4 L390.6 200.4 L393.2 202.9 L395.9 205 L398.6 206.7 L401.3 208.2 L404 209.3 L406.6 210.2 L409.3 210.9 L412 211.5" fill="none" stroke="#cf0838" stroke-width="1.1"/>
<path d="M304.8 211.5 L307.5 210.5 L310.2 209.1 L312.8 207.1 L315.5 204.2 L318.2 200.3 L320.9 195.2 L323.6 188.7 L326.2 180.8 L328.9 171.7 L331.6 161.5 L334.3 150.9 L337 140.4 L339.6 131.1 L342.3 124.1 L345 120.5 L347.7 120.4 L350.4 122.2 L353 125.4 L355.7 129.8 L358.4 135.2 L361.1 141.2 L363.8 147.7 L366.4 154.3 L369.1 160.8 L371.8 167.2 L374.5 173.3 L377.2 179 L379.8 184.3 L382.5 189 L385.2 193.1 L387.9 196.7 L390.6 199.8 L393.2 202.5 L395.9 204.7 L398.6 206.5 L401.3 207.9 L404 209.1 L406.6 210 L409.3 210.7 L412 211.3" fill="none" stroke="#c9043a" stroke-width="1.1"/>
<path d="M304.8 210.9 L307.5 209.8 L310.2 208.1 L312.8 205.7 L315.5 202.3 L318.2 197.7 L320.9 191.7 L323.6 184.2 L326.2 175.2 L328.9 164.8 L331.6 153.5 L334.3 141.9 L337 130.8 L339.6 121.3 L342.3 114.5 L345 111.7 L347.7 112.4 L350.4 114.8 L353 118.7 L355.7 123.8 L358.4 129.9 L361.1 136.6 L363.8 143.7 L366.4 150.9 L369.1 158 L371.8 164.9 L374.5 171.4 L377.2 177.5 L379.8 183 L382.5 188 L385.2 192.4 L387.9 196.2 L390.6 199.4 L393.2 202.1 L395.9 204.4 L398.6 206.2 L401.3 207.7 L404 208.9 L406.6 209.9 L409.3 210.6 L412 211.2" fill="none" stroke="#c4003c" stroke-width="1.1"/>
<rect x="50.5" y="203" width="9" height="7.5" fill="#ff2a2a" stroke="none" stroke-width="0" opacity="0.8"/>
<use href="#fw" transform="translate(44.2 89.6) scale(1 1)" fill="#3d3d3d" stroke="#1a1a1a" stroke-width="1.6"/>
<use href="#fw" transform="translate(410.3 92.6) scale(-1 1)" fill="#1e1ecc" stroke="#1212d8" stroke-width="1.6"/>
<use href="#fw" transform="translate(293.6 243.6) scale(-1 1)" fill="#4a72cf" stroke="#3f78e2" stroke-width="1.3"/>
<line x1="138" y1="116" x2="138" y2="140" stroke="#f01010" stroke-width="1.8" />
<polygon points="138,148 134.2,137.5 141.8,137.5" fill="#f01010" stroke="none" stroke-width="1" />
<line x1="316.5" y1="150.5" x2="316.5" y2="136" stroke="#f01010" stroke-width="1.8" />
<polygon points="316.5,127.5 312.7,138 320.3,138" fill="#f01010" stroke="none" stroke-width="1" />
<text x="36.2" y="82.3" font-size="13.75" font-weight="bold" font-style="normal" text-anchor="start" fill="#101010" >Fluorescence Queching</text>
<text x="272.8" y="82.3" font-size="13.8" font-weight="bold" font-style="normal" text-anchor="start" fill="#1010e6" >Fluorescence increase</text>
<text font-size="15" letter-spacing="-0.47" font-weight="bold" font-style="italic" fill="#e8103a"><textPath href="#arcT" startOffset="50%" text-anchor="middle">Multi-responsive Fluorescent Sensor</textPath></text>
<path d="M141 318.2 C 112 313, 82 290, 75 246" fill="none" stroke="#fff" stroke-width="5" opacity="0.8" stroke-linecap="round"/>
<path d="M141 318.2 C 112 313, 82 290, 75 246" fill="none" stroke="#fdf48c" stroke-width="2.8" stroke-linecap="round"/>
<path d="M321.8 315.6 C 352 310, 380 285, 386.8 244" fill="none" stroke="#fff" stroke-width="5" opacity="0.8" stroke-linecap="round"/>
<path d="M321.8 315.6 C 352 310, 380 285, 386.8 244" fill="none" stroke="#fdf48c" stroke-width="2.8" stroke-linecap="round"/>
<polygon points="72.4,233.8 83.6,251.6 74.4,249.7 66.5,254.3" fill="#f4dc1e" stroke="#d8b800" stroke-width="0.5" />
<polygon points="73.18,239.64 78.78,248.54 74.18,247.59 70.22,249.89" fill="#7fb0e6" stroke="none" stroke-width="1" />
<polygon points="389,231.2 394.3,251.6 385.7,245.7 377.8,248.3" fill="#f4dc1e" stroke="#d8b800" stroke-width="0.5" />
<polygon points="387.96,236.74 390.61,246.94 386.31,243.99 382.36,245.29" fill="#7fb0e6" stroke="none" stroke-width="1" />
<text font-size="13.6" font-weight="bold" fill="#e8102e"><textPath href="#arcL" startOffset="50%" text-anchor="middle">Antibiotics</textPath></text>
<text font-size="13.2" font-weight="bold" fill="#e01040"><textPath href="#arcR" startOffset="50%" text-anchor="middle">S. albus</textPath></text>
<g transform="translate(99.8 274) rotate(-58.37)">
<rect x="-6" y="-6" width="28.21" height="12" rx="6" fill="#e4e4e2"/>
<path d="M8.1 -6 H16.21 A6 6 0 0 1 16.21 6 H8.1 Z" fill="#3dbb4a"/>
<rect x="-6" y="-6" width="28.21" height="12" rx="6" fill="url(#gPill)"/>
</g>
<g transform="translate(113 275) rotate(-36.57)">
<rect x="-6" y="-6" width="27.44" height="12" rx="6" fill="#e4e4e2"/>
<path d="M7.72 -6 H15.44 A6 6 0 0 1 15.44 6 H7.72 Z" fill="#ea6a3a"/>
<rect x="-6" y="-6" width="27.44" height="12" rx="6" fill="url(#gPill)"/>
</g>
<polygon points="346.5,268.1 344.38,269.42 345.92,271.38 343.48,271.9 344.25,274.27 341.79,273.92 341.7,276.41 339.5,275.24 338.57,277.55 336.9,275.7 335.23,277.55 334.3,275.24 332.1,276.41 332.01,273.92 329.55,274.27 330.32,271.9 327.88,271.38 329.42,269.42 327.3,268.1 329.42,266.78 327.88,264.82 330.32,264.3 329.55,261.93 332.01,262.28 332.1,259.79 334.3,260.96 335.23,258.65 336.9,260.5 338.57,258.65 339.5,260.96 341.7,259.79 341.79,262.28 344.25,261.93 343.48,264.3 345.92,264.82 344.38,266.78" fill="#e9975c" stroke="none" stroke-width="1" />
<circle cx="336.9" cy="268.1" r="7.8" fill="#ea9a60" stroke="none" stroke-width="1" />
<circle cx="341.29" cy="269.46" r="0.55" fill="#c9733a" stroke="none" stroke-width="1" />
<circle cx="339.39" cy="271.97" r="0.55" fill="#c9733a" stroke="none" stroke-width="1" />
<circle cx="336.32" cy="272.66" r="0.55" fill="#c9733a" stroke="none" stroke-width="1" />
<circle cx="333.53" cy="271.23" r="0.55" fill="#c9733a" stroke="none" stroke-width="1" />
<circle cx="332.31" cy="268.33" r="0.55" fill="#c9733a" stroke="none" stroke-width="1" />
<circle cx="333.24" cy="265.32" r="0.55" fill="#c9733a" stroke="none" stroke-width="1" />
<circle cx="335.88" cy="263.61" r="0.55" fill="#c9733a" stroke="none" stroke-width="1" />
<circle cx="339" cy="264.01" r="0.55" fill="#c9733a" stroke="none" stroke-width="1" />
<circle cx="341.14" cy="266.32" r="0.55" fill="#c9733a" stroke="none" stroke-width="1" />
<circle cx="336.9" cy="268.1" r="0.55" fill="#c9733a" stroke="none" stroke-width="1" />
<polygon points="368.9,269.4 366.78,270.72 368.32,272.68 365.88,273.2 366.65,275.57 364.19,275.22 364.1,277.71 361.9,276.54 360.97,278.85 359.3,277 357.63,278.85 356.7,276.54 354.5,277.71 354.41,275.22 351.95,275.57 352.72,273.2 350.28,272.68 351.82,270.72 349.7,269.4 351.82,268.08 350.28,266.12 352.72,265.6 351.95,263.23 354.41,263.58 354.5,261.09 356.7,262.26 357.63,259.95 359.3,261.8 360.97,259.95 361.9,262.26 364.1,261.09 364.19,263.58 366.65,263.23 365.88,265.6 368.32,266.12 366.78,268.08" fill="#e9975c" stroke="none" stroke-width="1" />
<circle cx="359.3" cy="269.4" r="7.8" fill="#ea9a60" stroke="none" stroke-width="1" />
<circle cx="363.69" cy="270.76" r="0.55" fill="#c9733a" stroke="none" stroke-width="1" />
<circle cx="361.79" cy="273.27" r="0.55" fill="#c9733a" stroke="none" stroke-width="1" />
<circle cx="358.72" cy="273.96" r="0.55" fill="#c9733a" stroke="none" stroke-width="1" />
<circle cx="355.93" cy="272.53" r="0.55" fill="#c9733a" stroke="none" stroke-width="1" />
<circle cx="354.71" cy="269.63" r="0.55" fill="#c9733a" stroke="none" stroke-width="1" />
<circle cx="355.64" cy="266.62" r="0.55" fill="#c9733a" stroke="none" stroke-width="1" />
<circle cx="358.28" cy="264.91" r="0.55" fill="#c9733a" stroke="none" stroke-width="1" />
<circle cx="361.4" cy="265.31" r="0.55" fill="#c9733a" stroke="none" stroke-width="1" />
<circle cx="363.54" cy="267.62" r="0.55" fill="#c9733a" stroke="none" stroke-width="1" />
<circle cx="359.3" cy="269.4" r="0.55" fill="#c9733a" stroke="none" stroke-width="1" />
<polygon points="355.1,286.6 352.98,287.92 354.52,289.88 352.08,290.4 352.85,292.77 350.39,292.42 350.3,294.91 348.1,293.74 347.17,296.05 345.5,294.2 343.83,296.05 342.9,293.74 340.7,294.91 340.61,292.42 338.15,292.77 338.92,290.4 336.48,289.88 338.02,287.92 335.9,286.6 338.02,285.28 336.48,283.32 338.92,282.8 338.15,280.43 340.61,280.78 340.7,278.29 342.9,279.46 343.83,277.15 345.5,279 347.17,277.15 348.1,279.46 350.3,278.29 350.39,280.78 352.85,280.43 352.08,282.8 354.52,283.32 352.98,285.28" fill="#e9975c" stroke="none" stroke-width="1" />
<circle cx="345.5" cy="286.6" r="7.8" fill="#ea9a60" stroke="none" stroke-width="1" />
<circle cx="349.89" cy="287.96" r="0.55" fill="#c9733a" stroke="none" stroke-width="1" />
<circle cx="347.99" cy="290.47" r="0.55" fill="#c9733a" stroke="none" stroke-width="1" />
<circle cx="344.92" cy="291.16" r="0.55" fill="#c9733a" stroke="none" stroke-width="1" />
<circle cx="342.13" cy="289.73" r="0.55" fill="#c9733a" stroke="none" stroke-width="1" />
<circle cx="340.91" cy="286.83" r="0.55" fill="#c9733a" stroke="none" stroke-width="1" />
<circle cx="341.84" cy="283.82" r="0.55" fill="#c9733a" stroke="none" stroke-width="1" />
<circle cx="344.48" cy="282.11" r="0.55" fill="#c9733a" stroke="none" stroke-width="1" />
<circle cx="347.6" cy="282.51" r="0.55" fill="#c9733a" stroke="none" stroke-width="1" />
<circle cx="349.74" cy="284.82" r="0.55" fill="#c9733a" stroke="none" stroke-width="1" />
<circle cx="345.5" cy="286.6" r="0.55" fill="#c9733a" stroke="none" stroke-width="1" />
<text transform="translate(15.2 34.8) scale(1.1 1)" font-size="26.3" font-weight="bold" font-style="normal" text-anchor="start" fill="#000" >a)</text>
<text transform="translate(453.6 27.6) scale(1.1 1)" font-size="26.3" font-weight="bold" font-style="normal" text-anchor="start" fill="#000" >b)</text>
<line x1="484.6" y1="82.3" x2="488.25" y2="87.8" stroke="#e01010" stroke-width="1.5" />
<line x1="488.25" y1="87.8" x2="491.9" y2="93.3" stroke="#111" stroke-width="1.5" />
<line x1="485.1" y1="108.7" x2="488.5" y2="101" stroke="#e01010" stroke-width="1.5" />
<line x1="488.5" y1="101" x2="491.9" y2="93.3" stroke="#111" stroke-width="1.5" />
<line x1="491.9" y1="93.3" x2="511.1" y2="91.2" stroke="#111" stroke-width="1.5" />
<line x1="511.1" y1="91.2" x2="520.6" y2="79.5" stroke="#111" stroke-width="1.5" />
<line x1="520.6" y1="79.5" x2="538.2" y2="77.6" stroke="#111" stroke-width="1.5" />
<line x1="538.2" y1="77.6" x2="547.4" y2="87.3" stroke="#111" stroke-width="1.5" />
<line x1="547.4" y1="87.3" x2="539.3" y2="98.5" stroke="#111" stroke-width="1.5" />
<line x1="539.3" y1="98.5" x2="520.6" y2="101.4" stroke="#111" stroke-width="1.5" />
<line x1="520.6" y1="101.4" x2="511.1" y2="91.2" stroke="#111" stroke-width="1.5" />
<line x1="520.6" y1="79.5" x2="518.2" y2="76.9" stroke="#111" stroke-width="1.5" />
<line x1="518.2" y1="76.9" x2="515.8" y2="74.3" stroke="#22e022" stroke-width="1.5" />
<line x1="520.6" y1="101.4" x2="517.55" y2="106.45" stroke="#111" stroke-width="1.5" />
<line x1="517.55" y1="106.45" x2="514.5" y2="111.5" stroke="#22e022" stroke-width="1.5" />
<line x1="539.3" y1="98.5" x2="542.8" y2="102.4" stroke="#111" stroke-width="1.5" />
<line x1="542.8" y1="102.4" x2="546.3" y2="106.3" stroke="#22e022" stroke-width="1.5" />
<line x1="538.2" y1="77.6" x2="545.2" y2="66.5" stroke="#111" stroke-width="1.5" />
<line x1="545.2" y1="66.5" x2="540.65" y2="61.65" stroke="#111" stroke-width="1.5" />
<line x1="540.65" y1="61.65" x2="536.1" y2="56.8" stroke="#e01010" stroke-width="1.5" />
<line x1="545.2" y1="66.5" x2="552.25" y2="67.75" stroke="#111" stroke-width="1.5" />
<line x1="552.25" y1="67.75" x2="559.3" y2="69" stroke="#e01010" stroke-width="1.5" />
<line x1="547.4" y1="87.3" x2="556.4" y2="85.85" stroke="#111" stroke-width="1.5" />
<line x1="556.4" y1="85.85" x2="565.4" y2="84.4" stroke="#1010f0" stroke-width="1.5" />
<line x1="565.4" y1="84.4" x2="569.9" y2="77.9" stroke="#1010f0" stroke-width="1.5" />
<line x1="569.9" y1="77.9" x2="574.4" y2="71.4" stroke="#111" stroke-width="1.5" />
<line x1="574.4" y1="71.4" x2="591.7" y2="71" stroke="#111" stroke-width="1.5" />
<line x1="591.7" y1="71" x2="591.95" y2="77.7" stroke="#111" stroke-width="1.5" />
<line x1="591.95" y1="77.7" x2="592.2" y2="84.4" stroke="#1010f0" stroke-width="1.5" />
<line x1="592.2" y1="84.4" x2="584.65" y2="87.8" stroke="#1010f0" stroke-width="1.5" />
<line x1="584.65" y1="87.8" x2="577.1" y2="91.2" stroke="#111" stroke-width="1.5" />
<line x1="577.1" y1="91.2" x2="571.25" y2="87.8" stroke="#111" stroke-width="1.5" />
<line x1="571.25" y1="87.8" x2="565.4" y2="84.4" stroke="#1010f0" stroke-width="1.5" />
<line x1="577.1" y1="91.2" x2="573.9" y2="103" stroke="#111" stroke-width="1.5" />
<line x1="573.9" y1="103" x2="569.45" y2="106.5" stroke="#111" stroke-width="1.5" />
<line x1="569.45" y1="106.5" x2="565" y2="110" stroke="#22e022" stroke-width="1.5" />
<line x1="573.9" y1="103" x2="578.35" y2="106.65" stroke="#111" stroke-width="1.5" />
<line x1="578.35" y1="106.65" x2="582.8" y2="110.3" stroke="#22e022" stroke-width="1.5" />
<line x1="573.9" y1="103" x2="573.1" y2="100.6" stroke="#111" stroke-width="1.5" />
<line x1="573.1" y1="100.6" x2="572.3" y2="98.2" stroke="#22e022" stroke-width="1.5" />
<line x1="574.4" y1="71.4" x2="567.4" y2="57.9" stroke="#111" stroke-width="1.5" />
<line x1="567.4" y1="57.9" x2="580.4" y2="45.4" stroke="#111" stroke-width="1.5" />
<line x1="580.4" y1="45.4" x2="599" y2="46" stroke="#111" stroke-width="1.5" />
<line x1="599" y1="46" x2="605.5" y2="59.7" stroke="#111" stroke-width="1.5" />
<line x1="605.5" y1="59.7" x2="591.7" y2="71" stroke="#111" stroke-width="1.5" />
<line x1="567.4" y1="57.9" x2="560.75" y2="58" stroke="#111" stroke-width="1.5" />
<line x1="560.75" y1="58" x2="554.1" y2="58.1" stroke="#22e022" stroke-width="1.5" />
<line x1="580.4" y1="45.4" x2="578.35" y2="40.15" stroke="#111" stroke-width="1.5" />
<line x1="578.35" y1="40.15" x2="576.3" y2="34.9" stroke="#22e022" stroke-width="1.5" />
<line x1="599" y1="46" x2="604.35" y2="41.5" stroke="#111" stroke-width="1.5" />
<line x1="604.35" y1="41.5" x2="609.7" y2="37" stroke="#22e022" stroke-width="1.5" />
<line x1="605.5" y1="59.7" x2="611" y2="60" stroke="#111" stroke-width="1.5" />
<line x1="611" y1="60" x2="616.5" y2="60.3" stroke="#22e022" stroke-width="1.5" />
<line x1="592.2" y1="84.4" x2="603.65" y2="88.05" stroke="#1010f0" stroke-width="1.5" />
<line x1="603.65" y1="88.05" x2="615.1" y2="91.7" stroke="#22d0dc" stroke-width="1.5" />
<line x1="615.1" y1="91.7" x2="613.05" y2="87.05" stroke="#22d0dc" stroke-width="1.5" />
<line x1="613.05" y1="87.05" x2="611" y2="82.4" stroke="#e01010" stroke-width="1.5" />
<line x1="615.1" y1="91.7" x2="625.4" y2="80.9" stroke="#22d0dc" stroke-width="1.5" />
<line x1="625.4" y1="80.9" x2="635.7" y2="70.1" stroke="#e01010" stroke-width="1.5" />
<line x1="615.1" y1="91.7" x2="629.1" y2="93.5" stroke="#22d0dc" stroke-width="1.5" />
<line x1="629.1" y1="93.5" x2="643.1" y2="95.3" stroke="#e01010" stroke-width="1.5" />
<line x1="615.1" y1="91.7" x2="614.15" y2="105.15" stroke="#22d0dc" stroke-width="1.5" />
<line x1="614.15" y1="105.15" x2="613.2" y2="118.6" stroke="#e01010" stroke-width="1.5" />
<circle cx="484.6" cy="82.3" r="3.3" fill="#e01010" stroke="none" stroke-width="1" />
<circle cx="483.61" cy="81.31" r="1.15" fill="#fff" stroke="none" stroke-width="0" opacity="0.45"/>
<circle cx="485.1" cy="108.7" r="3.3" fill="#e01010" stroke="none" stroke-width="1" />
<circle cx="484.11" cy="107.71" r="1.15" fill="#fff" stroke="none" stroke-width="0" opacity="0.45"/>
<circle cx="491.9" cy="93.3" r="2" fill="#111" stroke="none" stroke-width="1" />
<circle cx="511.1" cy="91.2" r="2.1" fill="#111" stroke="none" stroke-width="1" />
<circle cx="520.6" cy="79.5" r="2.1" fill="#111" stroke="none" stroke-width="1" />
<circle cx="538.2" cy="77.6" r="2.1" fill="#111" stroke="none" stroke-width="1" />
<circle cx="547.4" cy="87.3" r="2.1" fill="#111" stroke="none" stroke-width="1" />
<circle cx="539.3" cy="98.5" r="2.1" fill="#111" stroke="none" stroke-width="1" />
<circle cx="520.6" cy="101.4" r="2.1" fill="#111" stroke="none" stroke-width="1" />
<circle cx="515.8" cy="74.3" r="1.7" fill="#22e022" stroke="none" stroke-width="1" />
<circle cx="514.5" cy="111.5" r="1.7" fill="#22e022" stroke="none" stroke-width="1" />
<circle cx="546.3" cy="106.3" r="1.7" fill="#22e022" stroke="none" stroke-width="1" />
<circle cx="545.2" cy="66.5" r="2" fill="#111" stroke="none" stroke-width="1" />
<circle cx="536.1" cy="56.8" r="3.1" fill="#e01010" stroke="none" stroke-width="1" />
<circle cx="535.17" cy="55.87" r="1.08" fill="#fff" stroke="none" stroke-width="0" opacity="0.45"/>
<circle cx="559.3" cy="69" r="3.1" fill="#e01010" stroke="none" stroke-width="1" />
<circle cx="558.37" cy="68.07" r="1.08" fill="#fff" stroke="none" stroke-width="0" opacity="0.45"/>
<circle cx="565.4" cy="84.4" r="3" fill="#1010f0" stroke="none" stroke-width="1" />
<circle cx="564.5" cy="83.5" r="1.05" fill="#fff" stroke="none" stroke-width="0" opacity="0.45"/>
<circle cx="592.2" cy="84.4" r="3" fill="#1010f0" stroke="none" stroke-width="1" />
<circle cx="591.3" cy="83.5" r="1.05" fill="#fff" stroke="none" stroke-width="0" opacity="0.45"/>
<circle cx="574.4" cy="71.4" r="2.1" fill="#111" stroke="none" stroke-width="1" />
<circle cx="591.7" cy="71" r="2.1" fill="#111" stroke="none" stroke-width="1" />
<circle cx="577.1" cy="91.2" r="2.1" fill="#111" stroke="none" stroke-width="1" />
<circle cx="573.9" cy="103" r="2" fill="#111" stroke="none" stroke-width="1" />
<circle cx="565" cy="110" r="1.6" fill="#22e022" stroke="none" stroke-width="1" />
<circle cx="582.8" cy="110.3" r="1.6" fill="#22e022" stroke="none" stroke-width="1" />
<circle cx="572.3" cy="98.2" r="1.5" fill="#22e022" stroke="none" stroke-width="1" />
<circle cx="567.4" cy="57.9" r="2.1" fill="#111" stroke="none" stroke-width="1" />
<circle cx="580.4" cy="45.4" r="2.1" fill="#111" stroke="none" stroke-width="1" />
<circle cx="599" cy="46" r="2.1" fill="#111" stroke="none" stroke-width="1" />
<circle cx="605.5" cy="59.7" r="2.1" fill="#111" stroke="none" stroke-width="1" />
<circle cx="554.1" cy="58.1" r="1.7" fill="#22e022" stroke="none" stroke-width="1" />
<circle cx="576.3" cy="34.9" r="1.7" fill="#22e022" stroke="none" stroke-width="1" />
<circle cx="609.7" cy="37" r="1.7" fill="#22e022" stroke="none" stroke-width="1" />
<circle cx="616.5" cy="60.3" r="1.7" fill="#22e022" stroke="none" stroke-width="1" />
<circle cx="615.1" cy="91.7" r="4.8" fill="#22d0dc" stroke="none" stroke-width="1" />
<circle cx="613.66" cy="90.26" r="1.68" fill="#fff" stroke="none" stroke-width="0" opacity="0.45"/>
<circle cx="611" cy="82.4" r="2.2" fill="#e01010" stroke="none" stroke-width="1" />
<circle cx="635.7" cy="70.1" r="3.2" fill="#e01010" stroke="none" stroke-width="1" />
<circle cx="634.74" cy="69.14" r="1.12" fill="#fff" stroke="none" stroke-width="0" opacity="0.45"/>
<circle cx="643.1" cy="95.3" r="3.2" fill="#e01010" stroke="none" stroke-width="1" />
<circle cx="642.14" cy="94.34" r="1.12" fill="#fff" stroke="none" stroke-width="0" opacity="0.45"/>
<circle cx="613.2" cy="118.6" r="3.2" fill="#e01010" stroke="none" stroke-width="1" />
<circle cx="612.24" cy="117.64" r="1.12" fill="#fff" stroke="none" stroke-width="0" opacity="0.45"/>
<text x="637.6" y="64.9" font-size="10.4" font-weight="bold" font-style="normal" text-anchor="middle" fill="#111" >O2A</text>
<text x="612.4" y="77.7" font-size="10.4" font-weight="bold" font-style="normal" text-anchor="middle" fill="#111" >O4C</text>
<text x="602.3" y="101" font-size="10.4" font-weight="bold" font-style="normal" text-anchor="middle" fill="#111" >Cd</text>
<text x="644.7" y="110.1" font-size="10.4" font-weight="bold" font-style="normal" text-anchor="middle" fill="#111" >O1A</text>
<text x="613.2" y="134.2" font-size="10.4" font-weight="bold" font-style="normal" text-anchor="middle" fill="#111" >O3B</text>
<g transform="translate(650 79.6) rotate(-14)"><polygon points="0,-2.6 9.5,-2.6 9.5,-5.4 18,0 9.5,5.4 9.5,2.6 0,2.6" fill="#f5921e" stroke="#7a4a10" stroke-width="0.5"/></g>
<polygon points="687.7,32.3 675.4,72 691.2,79.7" fill="#38c6cc" stroke="#1a6f74" stroke-width="0.5" />
<polygon points="687.7,32.3 691.2,79.7 730.1,71.2" fill="#3fd0d6" stroke="#1a6f74" stroke-width="0.5" />
<polygon points="675.4,72 691.2,79.7 694.5,96.7" fill="#27a3a9" stroke="#1a6f74" stroke-width="0.5" />
<polygon points="691.2,79.7 730.1,71.2 694.5,96.7" fill="#2db2b8" stroke="#1a6f74" stroke-width="0.5" />
<circle cx="695.9" cy="67.9" r="3.6" fill="#5ae6ee" stroke="none" stroke-width="1" />
<circle cx="687.7" cy="32.3" r="1.5" fill="#e01010" stroke="none" stroke-width="1" />
<circle cx="675.4" cy="72" r="1.5" fill="#e01010" stroke="none" stroke-width="1" />
<circle cx="730.1" cy="71.2" r="1.5" fill="#e01010" stroke="none" stroke-width="1" />
<circle cx="694.5" cy="96.7" r="1.5" fill="#e01010" stroke="none" stroke-width="1" />
<circle cx="691.2" cy="79.7" r="1.9" fill="#1010e0" stroke="none" stroke-width="1" />
<polygon points="772.8,39.5 831.8,43.4 798,120 739.9,116.6" fill="#c9a3f6" stroke="none" stroke-width="1" />
<polygon points="763.2,50.6 787.1,38.2 822.2,107 800.1,116.1" fill="#5b5bf0" stroke="none" stroke-width="0" opacity="0.72"/>
<polygon points="857.7,45.4 916.4,43.4 948.1,120 888.9,122.5" fill="#c9a3f6" stroke="none" stroke-width="1" />
<polygon points="902.6,42.1 926,53.2 888.4,118.7 867.1,109.6" fill="#5b5bf0" stroke="none" stroke-width="0" opacity="0.72"/>
<line x1="764.5" y1="61" x2="763.2" y2="69.3" stroke="#1aa84a" stroke-width="1" />
<line x1="763.2" y1="69.3" x2="771" y2="72.7" stroke="#1aa84a" stroke-width="1" />
<line x1="771" y1="72.7" x2="779.3" y2="65.4" stroke="#1aa84a" stroke-width="1" />
<line x1="779.3" y1="65.4" x2="781.9" y2="56.3" stroke="#1aa84a" stroke-width="1" />
<line x1="781.9" y1="56.3" x2="774.1" y2="53.7" stroke="#1aa84a" stroke-width="1" />
<line x1="774.1" y1="53.7" x2="764.5" y2="61" stroke="#1aa84a" stroke-width="1" />
<line x1="781.9" y1="56.3" x2="791" y2="50.6" stroke="#1aa84a" stroke-width="1" />
<line x1="791" y1="50.6" x2="794.9" y2="56.3" stroke="#1aa84a" stroke-width="1" />
<line x1="794.9" y1="56.3" x2="805.3" y2="53.7" stroke="#1aa84a" stroke-width="1" />
<line x1="794.9" y1="56.3" x2="789.2" y2="66" stroke="#1aa84a" stroke-width="1" />
<line x1="789.2" y1="66" x2="779.3" y2="65.4" stroke="#1aa84a" stroke-width="1" />
<line x1="789.2" y1="66" x2="786.6" y2="74" stroke="#1aa84a" stroke-width="1" />
<line x1="786.6" y1="74" x2="789.2" y2="82.8" stroke="#1aa84a" stroke-width="1" />
<line x1="789.2" y1="82.8" x2="797.5" y2="82.3" stroke="#1aa84a" stroke-width="1" />
<line x1="797.5" y1="82.3" x2="804" y2="83.6" stroke="#1aa84a" stroke-width="1" />
<line x1="804" y1="83.6" x2="805.3" y2="75.3" stroke="#1aa84a" stroke-width="1" />
<line x1="797.5" y1="82.3" x2="796.2" y2="91.4" stroke="#1aa84a" stroke-width="1" />
<line x1="796.2" y1="91.4" x2="805.8" y2="94" stroke="#1aa84a" stroke-width="1" />
<line x1="796.2" y1="91.4" x2="796.7" y2="99.2" stroke="#1aa84a" stroke-width="1" />
<line x1="796.7" y1="99.2" x2="799.6" y2="110.3" stroke="#1aa84a" stroke-width="1" />
<circle cx="764.5" cy="61" r="2.2" fill="#22e022" stroke="none" stroke-width="1" />
<circle cx="763.2" cy="69.3" r="2.2" fill="#22e022" stroke="none" stroke-width="1" />
<circle cx="771" cy="72.7" r="2.2" fill="#22e022" stroke="none" stroke-width="1" />
<circle cx="779.3" cy="65.4" r="2.2" fill="#2a8a8a" stroke="none" stroke-width="1" />
<circle cx="781.9" cy="56.3" r="2.2" fill="#2a8a8a" stroke="none" stroke-width="1" />
<circle cx="774.1" cy="53.7" r="2.2" fill="#2a8a8a" stroke="none" stroke-width="1" />
<circle cx="791" cy="50.6" r="2.2" fill="#1010e0" stroke="none" stroke-width="1" />
<circle cx="794.9" cy="56.3" r="2.2" fill="#22e022" stroke="none" stroke-width="1" />
<circle cx="805.3" cy="53.7" r="2.4" fill="#22e022" stroke="none" stroke-width="1" />
<circle cx="789.2" cy="66" r="2.2" fill="#1010e0" stroke="none" stroke-width="1" />
<circle cx="786.6" cy="74" r="2.2" fill="#22e022" stroke="none" stroke-width="1" />
<circle cx="789.2" cy="82.8" r="2.2" fill="#22e022" stroke="none" stroke-width="1" />
<circle cx="797.5" cy="82.3" r="2.3" fill="#2a8a8a" stroke="none" stroke-width="1" />
<circle cx="804" cy="83.6" r="2.3" fill="#2a8a8a" stroke="none" stroke-width="1" />
<circle cx="796.2" cy="91.4" r="2.3" fill="#2a8a8a" stroke="none" stroke-width="1" />
<circle cx="805.3" cy="75.3" r="2.3" fill="#c0187a" stroke="none" stroke-width="1" />
<circle cx="805.8" cy="94" r="2.3" fill="#c0187a" stroke="none" stroke-width="1" />
<circle cx="796.7" cy="99.2" r="2.5" fill="#e01010" stroke="none" stroke-width="1" />
<circle cx="799.6" cy="110.3" r="2.3" fill="#c0187a" stroke="none" stroke-width="1" />
<line x1="885.2" y1="56.3" x2="894.1" y2="60.2" stroke="#d8c818" stroke-width="1" />
<line x1="894.1" y1="60.2" x2="898.7" y2="53.7" stroke="#d8c818" stroke-width="1" />
<line x1="898.7" y1="53.7" x2="908.6" y2="58.9" stroke="#d8c818" stroke-width="1" />
<line x1="908.6" y1="58.9" x2="916.4" y2="57.1" stroke="#d8c818" stroke-width="1" />
<line x1="916.4" y1="57.1" x2="924.7" y2="64.1" stroke="#d8c818" stroke-width="1" />
<line x1="924.7" y1="64.1" x2="926" y2="74" stroke="#d8c818" stroke-width="1" />
<line x1="926" y1="74" x2="919" y2="75.8" stroke="#d8c818" stroke-width="1" />
<line x1="919" y1="75.8" x2="909.1" y2="68" stroke="#d8c818" stroke-width="1" />
<line x1="909.1" y1="68" x2="908.6" y2="58.9" stroke="#d8c818" stroke-width="1" />
<line x1="909.1" y1="68" x2="900" y2="68.5" stroke="#d8c818" stroke-width="1" />
<line x1="900" y1="68.5" x2="894.1" y2="60.2" stroke="#d8c818" stroke-width="1" />
<line x1="900" y1="68.5" x2="900" y2="76.6" stroke="#d8c818" stroke-width="1" />
<line x1="900" y1="76.6" x2="900" y2="84.4" stroke="#d8c818" stroke-width="1" />
<line x1="900" y1="84.4" x2="896.1" y2="94" stroke="#d8c818" stroke-width="1" />
<line x1="900" y1="84.4" x2="892.3" y2="86.2" stroke="#d8c818" stroke-width="1" />
<line x1="892.3" y1="86.2" x2="885.8" y2="87.5" stroke="#d8c818" stroke-width="1" />
<line x1="885.8" y1="87.5" x2="883.7" y2="78.4" stroke="#d8c818" stroke-width="1" />
<line x1="892.3" y1="86.2" x2="889.7" y2="95.3" stroke="#d8c818" stroke-width="1" />
<line x1="889.7" y1="95.3" x2="883.2" y2="96.6" stroke="#d8c818" stroke-width="1" />
<line x1="889.7" y1="95.3" x2="892.3" y2="102.6" stroke="#d8c818" stroke-width="1" />
<line x1="892.3" y1="102.6" x2="888.9" y2="112.7" stroke="#d8c818" stroke-width="1" />
<circle cx="885.2" cy="56.3" r="2.2" fill="#f2ea10" stroke="none" stroke-width="1" />
<circle cx="894.1" cy="60.2" r="2.2" fill="#f2ea10" stroke="none" stroke-width="1" />
<circle cx="898.7" cy="53.7" r="2.2" fill="#1010e0" stroke="none" stroke-width="1" />
<circle cx="908.6" cy="58.9" r="2.2" fill="#7d7d88" stroke="none" stroke-width="1" />
<circle cx="916.4" cy="57.1" r="2.2" fill="#7d7d88" stroke="none" stroke-width="1" />
<circle cx="924.7" cy="64.1" r="2.2" fill="#f2ea10" stroke="none" stroke-width="1" />
<circle cx="926" cy="74" r="2.2" fill="#f2ea10" stroke="none" stroke-width="1" />
<circle cx="919" cy="75.8" r="2.2" fill="#f2ea10" stroke="none" stroke-width="1" />
<circle cx="909.1" cy="68" r="2.2" fill="#7d7d88" stroke="none" stroke-width="1" />
<circle cx="900" cy="68.5" r="2.2" fill="#1010e0" stroke="none" stroke-width="1" />
<circle cx="900" cy="76.6" r="2.2" fill="#f2ea10" stroke="none" stroke-width="1" />
<circle cx="900" cy="84.4" r="2.2" fill="#f2ea10" stroke="none" stroke-width="1" />
<circle cx="896.1" cy="94" r="2.2" fill="#f2ea10" stroke="none" stroke-width="1" />
<circle cx="892.3" cy="86.2" r="2.3" fill="#c78a9a" stroke="none" stroke-width="1" />
<circle cx="885.8" cy="87.5" r="2.3" fill="#c78a9a" stroke="none" stroke-width="1" />
<circle cx="889.7" cy="95.3" r="2.3" fill="#c78a9a" stroke="none" stroke-width="1" />
<circle cx="883.7" cy="78.4" r="2.3" fill="#c0187a" stroke="none" stroke-width="1" />
<circle cx="883.2" cy="96.6" r="2.3" fill="#c0187a" stroke="none" stroke-width="1" />
<circle cx="892.3" cy="102.6" r="2.5" fill="#e01010" stroke="none" stroke-width="1" />
<circle cx="888.9" cy="112.7" r="2.3" fill="#c0187a" stroke="none" stroke-width="1" />
<text x="825.5" y="91.2" font-size="8.2" font-weight="bold" font-style="normal" text-anchor="middle" fill="#000" >90°</text>
<text x="864.5" y="91.2" font-size="8.2" font-weight="bold" font-style="normal" text-anchor="middle" fill="#000" >90°</text>
<path d="M813.2 83.5 q3.6 4.5 0 9" fill="none" stroke="#222" stroke-width="0.6"/><path d="M876.3 83.5 q-3.6 4.5 0 9" fill="none" stroke="#222" stroke-width="0.6"/>
<text x="820.3" y="122.4" font-size="8.2" font-weight="bold" font-style="italic" text-anchor="middle" fill="#2a2aff" >R</text>
<text x="867.6" y="122.4" font-size="8.2" font-weight="bold" font-style="italic" text-anchor="middle" fill="#2a2aff" >S</text>
<line x1="845.5" y1="44.7" x2="845.5" y2="121" stroke="#333" stroke-width="0.9" stroke-dasharray="1 3.2"/>
<line x1="773.6" y1="141.4" x2="794.48" y2="141.4" stroke="#000" stroke-width="1.1" />
<polygon points="797,141.4 792.8,139.8 792.8,143" fill="#000" stroke="none" stroke-width="1" />
<line x1="773.6" y1="141.4" x2="773.6" y2="162.98" stroke="#000" stroke-width="1.1" />
<polygon points="773.6,165.5 775.2,161.3 772,161.3" fill="#000" stroke="none" stroke-width="1" />
<line x1="773.6" y1="141.4" x2="767.4" y2="135.8" stroke="#000" stroke-width="1.1" />
<text x="770.9" y="136.2" font-size="8.6" font-weight="bold" font-style="normal" text-anchor="middle" fill="#000" >c</text>
<text x="793.6" y="139.2" font-size="8.6" font-weight="bold" font-style="normal" text-anchor="middle" fill="#000" >b</text>
<text x="779.2" y="165.6" font-size="8.6" font-weight="bold" font-style="normal" text-anchor="middle" fill="#000" >a</text>
<line x1="476.9" y1="338.3" x2="476.9" y2="316.72" stroke="#000" stroke-width="1.1" />
<polygon points="476.9,314.2 475.3,318.4 478.5,318.4" fill="#000" stroke="none" stroke-width="1" />
<line x1="476.9" y1="338.3" x2="499.68" y2="338.3" stroke="#000" stroke-width="1.1" />
<polygon points="502.2,338.3 498,336.7 498,339.9" fill="#000" stroke="none" stroke-width="1" />
<line x1="476.9" y1="338.3" x2="471.4" y2="343.8" stroke="#000" stroke-width="1.1" />
<text x="482.9" y="316.2" font-size="8.6" font-weight="bold" font-style="normal" text-anchor="middle" fill="#000" >a</text>
<text x="500.6" y="335.2" font-size="8.6" font-weight="bold" font-style="normal" text-anchor="middle" fill="#000" >b</text>
<text x="476.3" y="349.5" font-size="8.6" font-weight="bold" font-style="normal" text-anchor="middle" fill="#000" >c</text>
<circle cx="492.8" cy="207" r="8.6" fill="#5fe8f0" stroke="none" stroke-width="0" opacity="0.85"/>
<circle cx="490" cy="204" r="2.2" fill="#fff" stroke="none" stroke-width="0" opacity="0.5"/>
<circle cx="492.8" cy="245.3" r="8.6" fill="#5fe8f0" stroke="none" stroke-width="0" opacity="0.85"/>
<circle cx="490" cy="242.3" r="2.2" fill="#fff" stroke="none" stroke-width="0" opacity="0.5"/>
<circle cx="492.8" cy="283.6" r="8.6" fill="#5fe8f0" stroke="none" stroke-width="0" opacity="0.85"/>
<circle cx="490" cy="280.6" r="2.2" fill="#fff" stroke="none" stroke-width="0" opacity="0.5"/>
<rect x="505.3" y="158" width="4.8" height="183" fill="url(#gRodP)" stroke="none" stroke-width="1" />
<rect x="547.5" y="158" width="4.8" height="183" fill="url(#gRodP)" stroke="none" stroke-width="1" />
<rect x="589.4" y="158" width="4.8" height="183" fill="url(#gRodP)" stroke="none" stroke-width="1" />
<rect x="631.4" y="158" width="4.8" height="183" fill="url(#gRodP)" stroke="none" stroke-width="1" />
<use href="#uc" x="536" y="209.1" stroke="#14d814" stroke-width="1.7" marker-start="url(#mG)" marker-mid="url(#mG)"/>
<circle cx="536" cy="209.1" r="1.3" fill="#22d8ee" stroke="none" stroke-width="1" />
<use href="#uc" x="578.1" y="210.4" stroke="#14d814" stroke-width="1.7" marker-start="url(#mG)" marker-mid="url(#mG)"/>
<circle cx="578.1" cy="210.4" r="1.3" fill="#22d8ee" stroke="none" stroke-width="1" />
<use href="#uc" x="620.2" y="211.7" stroke="#14d814" stroke-width="1.7" marker-start="url(#mG)" marker-mid="url(#mG)"/>
<circle cx="620.2" cy="211.7" r="1.3" fill="#22d8ee" stroke="none" stroke-width="1" />
<use href="#ue" x="662.3" y="213" stroke="#14d814" stroke-width="1.7" marker-start="url(#mG)" marker-mid="url(#mG)"/>
<use href="#uc" x="0" y="0" stroke="#14d814" stroke-width="1.7" opacity="0"/>
<use href="#bl" x="536" y="209.1" fill="#19d419"/>
<use href="#uc" x="536" y="247.4" stroke="#14d814" stroke-width="1.7" marker-start="url(#mG)" marker-mid="url(#mG)"/>
<circle cx="536" cy="247.4" r="1.3" fill="#22d8ee" stroke="none" stroke-width="1" />
<use href="#uc" x="578.1" y="248.7" stroke="#14d814" stroke-width="1.7" marker-start="url(#mG)" marker-mid="url(#mG)"/>
<circle cx="578.1" cy="248.7" r="1.3" fill="#22d8ee" stroke="none" stroke-width="1" />
<use href="#uc" x="620.2" y="250" stroke="#14d814" stroke-width="1.7" marker-start="url(#mG)" marker-mid="url(#mG)"/>
<circle cx="620.2" cy="250" r="1.3" fill="#22d8ee" stroke="none" stroke-width="1" />
<use href="#ue" x="662.3" y="251.3" stroke="#14d814" stroke-width="1.7" marker-start="url(#mG)" marker-mid="url(#mG)"/>
<use href="#uc" x="0" y="0" stroke="#14d814" stroke-width="1.7" opacity="0"/>
<use href="#bl" x="536" y="247.4" fill="#19d419"/>
<use href="#uc" x="536" y="285.7" stroke="#14d814" stroke-width="1.7" marker-start="url(#mG)" marker-mid="url(#mG)"/>
<circle cx="536" cy="285.7" r="1.3" fill="#22d8ee" stroke="none" stroke-width="1" />
<use href="#uc" x="578.1" y="287" stroke="#14d814" stroke-width="1.7" marker-start="url(#mG)" marker-mid="url(#mG)"/>
<circle cx="578.1" cy="287" r="1.3" fill="#22d8ee" stroke="none" stroke-width="1" />
<use href="#uc" x="620.2" y="288.3" stroke="#14d814" stroke-width="1.7" marker-start="url(#mG)" marker-mid="url(#mG)"/>
<circle cx="620.2" cy="288.3" r="1.3" fill="#22d8ee" stroke="none" stroke-width="1" />
<use href="#ue" x="662.3" y="289.6" stroke="#14d814" stroke-width="1.7" marker-start="url(#mG)" marker-mid="url(#mG)"/>
<use href="#uc" x="0" y="0" stroke="#14d814" stroke-width="1.7" opacity="0"/>
<use href="#bl" x="536" y="285.7" fill="#19d419"/>
<use href="#uc" x="536" y="324" stroke="#14d814" stroke-width="1.7" marker-start="url(#mG)" marker-mid="url(#mG)"/>
<circle cx="536" cy="324" r="1.3" fill="#22d8ee" stroke="none" stroke-width="1" />
<use href="#uc" x="578.1" y="325.3" stroke="#14d814" stroke-width="1.7" marker-start="url(#mG)" marker-mid="url(#mG)"/>
<circle cx="578.1" cy="325.3" r="1.3" fill="#22d8ee" stroke="none" stroke-width="1" />
<use href="#uc" x="620.2" y="326.6" stroke="#14d814" stroke-width="1.7" marker-start="url(#mG)" marker-mid="url(#mG)"/>
<circle cx="620.2" cy="326.6" r="1.3" fill="#22d8ee" stroke="none" stroke-width="1" />
<use href="#ue" x="662.3" y="327.9" stroke="#14d814" stroke-width="1.7" marker-start="url(#mG)" marker-mid="url(#mG)"/>
<use href="#uc" x="0" y="0" stroke="#14d814" stroke-width="1.7" opacity="0"/>
<use href="#bl" x="536" y="324" fill="#19d419"/>
<use href="#curl" x="501.5" y="150" stroke="#d81010" fill="#d81010"/>
<use href="#curl" x="543.7" y="150" stroke="#d81010" fill="#d81010"/>
<use href="#curl" x="585.6" y="150" stroke="#d81010" fill="#d81010"/>
<use href="#curl" x="627.6" y="150" stroke="#d81010" fill="#d81010"/>
<text x="563.9" y="355.3" font-size="11.6" font-weight="bold" font-style="normal" text-anchor="middle" fill="#17541f" >Left-handed layer</text>
<circle cx="934.5" cy="207.5" r="8.6" fill="#5fe8f0" stroke="none" stroke-width="0" opacity="0.85"/>
<circle cx="931.7" cy="204.5" r="2.2" fill="#fff" stroke="none" stroke-width="0" opacity="0.5"/>
<circle cx="934.5" cy="245.8" r="8.6" fill="#5fe8f0" stroke="none" stroke-width="0" opacity="0.85"/>
<circle cx="931.7" cy="242.8" r="2.2" fill="#fff" stroke="none" stroke-width="0" opacity="0.5"/>
<circle cx="934.5" cy="284.1" r="8.6" fill="#5fe8f0" stroke="none" stroke-width="0" opacity="0.85"/>
<circle cx="931.7" cy="281.1" r="2.2" fill="#fff" stroke="none" stroke-width="0" opacity="0.5"/>
<rect x="788.7" y="158.5" width="4.4" height="183.5" fill="url(#gRodG)" stroke="none" stroke-width="1" />
<rect x="831.1" y="158.5" width="4.4" height="183.5" fill="url(#gRodG)" stroke="none" stroke-width="1" />
<rect x="873.6" y="158.5" width="4.4" height="183.5" fill="url(#gRodG)" stroke="none" stroke-width="1" />
<rect x="916.6" y="158.5" width="4.4" height="183.5" fill="url(#gRodG)" stroke="none" stroke-width="1" />
<use href="#uc" transform="translate(890.9 212.5) scale(-1 1)" stroke="#f0e81a" stroke-width="1.6" marker-start="url(#mY)" marker-mid="url(#mY)"/>
<circle cx="890.9" cy="212.5" r="1.3" fill="#22d8ee" stroke="none" stroke-width="1" />
<use href="#uc" transform="translate(848.5 212.5) scale(-1 1)" stroke="#f0e81a" stroke-width="1.6" marker-start="url(#mY)" marker-mid="url(#mY)"/>
<circle cx="848.5" cy="212.5" r="1.3" fill="#22d8ee" stroke="none" stroke-width="1" />
<use href="#uc" transform="translate(806.1 212.5) scale(-1 1)" stroke="#f0e81a" stroke-width="1.6" marker-start="url(#mY)" marker-mid="url(#mY)"/>
<circle cx="806.1" cy="212.5" r="1.3" fill="#22d8ee" stroke="none" stroke-width="1" />
<use href="#ue" transform="translate(763.7 212.5) scale(-1 1)" stroke="#f0e81a" stroke-width="1.6" marker-start="url(#mY)" marker-mid="url(#mY)"/>
<use href="#bl" transform="translate(890.9 210) scale(-1 1)" fill="#f4ec18"/>
<use href="#uc" transform="translate(890.9 250.8) scale(-1 1)" stroke="#f0e81a" stroke-width="1.6" marker-start="url(#mY)" marker-mid="url(#mY)"/>
<circle cx="890.9" cy="250.8" r="1.3" fill="#22d8ee" stroke="none" stroke-width="1" />
<use href="#uc" transform="translate(848.5 250.8) scale(-1 1)" stroke="#f0e81a" stroke-width="1.6" marker-start="url(#mY)" marker-mid="url(#mY)"/>
<circle cx="848.5" cy="250.8" r="1.3" fill="#22d8ee" stroke="none" stroke-width="1" />
<use href="#uc" transform="translate(806.1 250.8) scale(-1 1)" stroke="#f0e81a" stroke-width="1.6" marker-start="url(#mY)" marker-mid="url(#mY)"/>
<circle cx="806.1" cy="250.8" r="1.3" fill="#22d8ee" stroke="none" stroke-width="1" />
<use href="#ue" transform="translate(763.7 250.8) scale(-1 1)" stroke="#f0e81a" stroke-width="1.6" marker-start="url(#mY)" marker-mid="url(#mY)"/>
<use href="#bl" transform="translate(890.9 248.3) scale(-1 1)" fill="#f4ec18"/>
<use href="#uc" transform="translate(890.9 289) scale(-1 1)" stroke="#f0e81a" stroke-width="1.6" marker-start="url(#mY)" marker-mid="url(#mY)"/>
<circle cx="890.9" cy="289" r="1.3" fill="#22d8ee" stroke="none" stroke-width="1" />
<use href="#uc" transform="translate(848.5 289) scale(-1 1)" stroke="#f0e81a" stroke-width="1.6" marker-start="url(#mY)" marker-mid="url(#mY)"/>
<circle cx="848.5" cy="289" r="1.3" fill="#22d8ee" stroke="none" stroke-width="1" />
<use href="#uc" transform="translate(806.1 289) scale(-1 1)" stroke="#f0e81a" stroke-width="1.6" marker-start="url(#mY)" marker-mid="url(#mY)"/>
<circle cx="806.1" cy="289" r="1.3" fill="#22d8ee" stroke="none" stroke-width="1" />
<use href="#ue" transform="translate(763.7 289) scale(-1 1)" stroke="#f0e81a" stroke-width="1.6" marker-start="url(#mY)" marker-mid="url(#mY)"/>
<use href="#bl" transform="translate(890.9 286.5) scale(-1 1)" fill="#f4ec18"/>
<use href="#uc" transform="translate(890.9 327.3) scale(-1 1)" stroke="#f0e81a" stroke-width="1.6" marker-start="url(#mY)" marker-mid="url(#mY)"/>
<circle cx="890.9" cy="327.3" r="1.3" fill="#22d8ee" stroke="none" stroke-width="1" />
<use href="#uc" transform="translate(848.5 327.3) scale(-1 1)" stroke="#f0e81a" stroke-width="1.6" marker-start="url(#mY)" marker-mid="url(#mY)"/>
<circle cx="848.5" cy="327.3" r="1.3" fill="#22d8ee" stroke="none" stroke-width="1" />
<use href="#uc" transform="translate(806.1 327.3) scale(-1 1)" stroke="#f0e81a" stroke-width="1.6" marker-start="url(#mY)" marker-mid="url(#mY)"/>
<circle cx="806.1" cy="327.3" r="1.3" fill="#22d8ee" stroke="none" stroke-width="1" />
<use href="#ue" transform="translate(763.7 327.3) scale(-1 1)" stroke="#f0e81a" stroke-width="1.6" marker-start="url(#mY)" marker-mid="url(#mY)"/>
<use href="#bl" transform="translate(890.9 324.8) scale(-1 1)" fill="#f4ec18"/>
<use href="#curl" transform="translate(783.3 158.8) scale(1 -1)" stroke="#1a6ec0" fill="#1a6ec0"/>
<use href="#curl" transform="translate(825.7 158.8) scale(1 -1)" stroke="#1a6ec0" fill="#1a6ec0"/>
<use href="#curl" transform="translate(868.2 158.8) scale(1 -1)" stroke="#1a6ec0" fill="#1a6ec0"/>
<use href="#curl" transform="translate(911.2 158.8) scale(1 -1)" stroke="#1a6ec0" fill="#1a6ec0"/>
<text x="848.4" y="355.6" font-size="11.6" font-weight="bold" font-style="normal" text-anchor="middle" fill="#45320f" >Right-handed layer</text>
<line x1="693" y1="227.2" x2="661" y2="227.2" stroke="#1f9a5e" stroke-width="1.5" />
<polygon points="655.2,227.2 663,224.6 663,229.8" fill="#1f9a5e" stroke="none" stroke-width="1" />
<line x1="734.8" y1="267.3" x2="767" y2="267.3" stroke="#f0a818" stroke-width="1.5" />
<polygon points="773.2,267.3 765.4,264.7 765.4,269.9" fill="#f0a818" stroke="none" stroke-width="1" />
<use href="#hx" x="670" y="150"/>
<use href="#hx" x="669.1" y="190.7"/>
<use href="#hx" x="668.2" y="231.4"/>
<use href="#hx" x="667.3" y="272.1"/>
<text transform="translate(21.7 450.6) scale(1.1 1)" font-size="26.3" font-weight="bold" font-style="normal" text-anchor="start" fill="#000" >c)</text>
<polygon points="51.33,690.18 243.39,797.6 427.43,627.3 248.71,561.94" fill="#fff" stroke="none" stroke-width="1" />
<line x1="59.97" y1="684.57" x2="32.78" y2="531.55" stroke="#d4d4d4" stroke-width="0.6" />
<line x1="59.97" y1="684.57" x2="251.72" y2="789.89" stroke="#d4d4d4" stroke-width="0.6" />
<line x1="76.82" y1="673.62" x2="51.96" y2="522.19" stroke="#d4d4d4" stroke-width="0.6" />
<line x1="76.82" y1="673.62" x2="267.89" y2="774.93" stroke="#d4d4d4" stroke-width="0.6" />
<line x1="93.13" y1="663.02" x2="70.46" y2="513.18" stroke="#d4d4d4" stroke-width="0.6" />
<line x1="93.13" y1="663.02" x2="283.44" y2="760.54" stroke="#d4d4d4" stroke-width="0.6" />
<line x1="108.92" y1="652.77" x2="88.31" y2="504.47" stroke="#d4d4d4" stroke-width="0.6" />
<line x1="108.92" y1="652.77" x2="298.42" y2="746.68" stroke="#d4d4d4" stroke-width="0.6" />
<line x1="124.21" y1="642.83" x2="105.54" y2="496.07" stroke="#d4d4d4" stroke-width="0.6" />
<line x1="124.21" y1="642.83" x2="312.84" y2="733.33" stroke="#d4d4d4" stroke-width="0.6" />
<line x1="139.03" y1="633.2" x2="122.18" y2="487.96" stroke="#d4d4d4" stroke-width="0.6" />
<line x1="139.03" y1="633.2" x2="326.75" y2="720.46" stroke="#d4d4d4" stroke-width="0.6" />
<line x1="153.41" y1="623.86" x2="138.27" y2="480.11" stroke="#d4d4d4" stroke-width="0.6" />
<line x1="153.41" y1="623.86" x2="340.17" y2="708.05" stroke="#d4d4d4" stroke-width="0.6" />
<line x1="167.35" y1="614.8" x2="153.83" y2="472.53" stroke="#d4d4d4" stroke-width="0.6" />
<line x1="167.35" y1="614.8" x2="353.12" y2="696.07" stroke="#d4d4d4" stroke-width="0.6" />
<line x1="180.88" y1="606.01" x2="168.89" y2="465.18" stroke="#d4d4d4" stroke-width="0.6" />
<line x1="180.88" y1="606.01" x2="365.62" y2="684.49" stroke="#d4d4d4" stroke-width="0.6" />
<line x1="194.02" y1="597.48" x2="183.47" y2="458.08" stroke="#d4d4d4" stroke-width="0.6" />
<line x1="194.02" y1="597.48" x2="377.71" y2="673.31" stroke="#d4d4d4" stroke-width="0.6" />
<line x1="206.78" y1="589.18" x2="197.59" y2="451.19" stroke="#d4d4d4" stroke-width="0.6" />
<line x1="206.78" y1="589.18" x2="389.4" y2="662.49" stroke="#d4d4d4" stroke-width="0.6" />
<line x1="219.19" y1="581.13" x2="211.28" y2="444.52" stroke="#d4d4d4" stroke-width="0.6" />
<line x1="219.19" y1="581.13" x2="400.71" y2="652.03" stroke="#d4d4d4" stroke-width="0.6" />
<line x1="231.24" y1="573.29" x2="224.55" y2="438.05" stroke="#d4d4d4" stroke-width="0.6" />
<line x1="231.24" y1="573.29" x2="411.65" y2="641.9" stroke="#d4d4d4" stroke-width="0.6" />
<line x1="242.97" y1="565.67" x2="237.42" y2="431.77" stroke="#d4d4d4" stroke-width="0.6" />
<line x1="242.97" y1="565.67" x2="422.26" y2="632.09" stroke="#d4d4d4" stroke-width="0.6" />
<line x1="258.55" y1="565.54" x2="254.39" y2="431.46" stroke="#d4d4d4" stroke-width="0.6" />
<line x1="61.55" y1="695.9" x2="258.55" y2="565.54" stroke="#d4d4d4" stroke-width="0.6" />
<line x1="278.69" y1="572.9" x2="276.29" y2="437.13" stroke="#d4d4d4" stroke-width="0.6" />
<line x1="82.62" y1="707.68" x2="278.69" y2="572.9" stroke="#d4d4d4" stroke-width="0.6" />
<line x1="299.5" y1="580.51" x2="298.99" y2="442.99" stroke="#d4d4d4" stroke-width="0.6" />
<line x1="104.56" y1="719.95" x2="299.5" y2="580.51" stroke="#d4d4d4" stroke-width="0.6" />
<line x1="321.01" y1="588.38" x2="322.51" y2="449.08" stroke="#d4d4d4" stroke-width="0.6" />
<line x1="127.41" y1="732.74" x2="321.01" y2="588.38" stroke="#d4d4d4" stroke-width="0.6" />
<line x1="343.25" y1="596.51" x2="346.92" y2="455.39" stroke="#d4d4d4" stroke-width="0.6" />
<line x1="151.25" y1="746.07" x2="343.25" y2="596.51" stroke="#d4d4d4" stroke-width="0.6" />
<line x1="366.26" y1="604.93" x2="372.25" y2="461.94" stroke="#d4d4d4" stroke-width="0.6" />
<line x1="176.13" y1="759.98" x2="366.26" y2="604.93" stroke="#d4d4d4" stroke-width="0.6" />
<line x1="390.08" y1="613.64" x2="398.57" y2="468.75" stroke="#d4d4d4" stroke-width="0.6" />
<line x1="202.13" y1="774.52" x2="390.08" y2="613.64" stroke="#d4d4d4" stroke-width="0.6" />
<line x1="414.76" y1="622.66" x2="425.93" y2="475.83" stroke="#d4d4d4" stroke-width="0.6" />
<line x1="229.32" y1="789.73" x2="414.76" y2="622.66" stroke="#d4d4d4" stroke-width="0.6" />
<line x1="46.11" y1="661.94" x2="247.78" y2="537.06" stroke="#d4d4d4" stroke-width="0.6" />
<line x1="247.78" y1="537.06" x2="429.76" y2="599.98" stroke="#d4d4d4" stroke-width="0.6" />
<line x1="40.68" y1="632.52" x2="246.82" y2="511.34" stroke="#d4d4d4" stroke-width="0.6" />
<line x1="246.82" y1="511.34" x2="432.18" y2="571.61" stroke="#d4d4d4" stroke-width="0.6" />
<line x1="35.01" y1="601.84" x2="245.82" y2="484.74" stroke="#d4d4d4" stroke-width="0.6" />
<line x1="245.82" y1="484.74" x2="434.69" y2="542.11" stroke="#d4d4d4" stroke-width="0.6" />
<line x1="29.1" y1="569.82" x2="244.79" y2="457.21" stroke="#d4d4d4" stroke-width="0.6" />
<line x1="244.79" y1="457.21" x2="437.3" y2="511.42" stroke="#d4d4d4" stroke-width="0.6" />
<line x1="22.92" y1="536.36" x2="243.72" y2="428.7" stroke="#707070" stroke-width="0.7" />
<line x1="243.72" y1="428.7" x2="440.02" y2="479.47" stroke="#707070" stroke-width="0.7" />
<line x1="51.33" y1="690.18" x2="22.92" y2="536.36" stroke="#707070" stroke-width="0.7" />
<line x1="248.71" y1="561.94" x2="243.72" y2="428.7" stroke="#707070" stroke-width="0.7" />
<line x1="51.33" y1="690.18" x2="248.71" y2="561.94" stroke="#707070" stroke-width="0.7" />
<line x1="248.71" y1="561.94" x2="427.43" y2="627.3" stroke="#707070" stroke-width="0.7" />
<polygon points="244.63,569.62 254.58,573.33 250.43,450.69 239.71,447.74" fill="#601678" stroke="#808080" stroke-width="0.35" stroke-linejoin="round"/>
<polygon points="254.58,573.33 261.02,569.03 257.43,447.06 250.43,450.69" fill="#3c0e4a" stroke="#808080" stroke-width="0.35" stroke-linejoin="round"/>
<polygon points="239.71,447.74 250.43,450.69 257.43,447.06 246.73,444.17" fill="#511265" stroke="#909090" stroke-width="0.35" stroke-linejoin="round"/>
<polygon points="232.84,577.35 242.83,581.18 237.64,457.61 226.87,454.56" fill="#6b1581" stroke="#808080" stroke-width="0.35" stroke-linejoin="round"/>
<polygon points="242.83,581.18 249.45,576.76 244.85,453.87 237.64,457.61" fill="#420d50" stroke="#808080" stroke-width="0.35" stroke-linejoin="round"/>
<polygon points="226.87,454.56 237.64,457.61 244.85,453.87 234.11,450.88" fill="#5a126d" stroke="#909090" stroke-width="0.35" stroke-linejoin="round"/>
<polygon points="220.7,585.31 230.74,589.26 224.48,465.04 213.66,461.87" fill="#76148a" stroke="#808080" stroke-width="0.35" stroke-linejoin="round"/>
<polygon points="230.74,589.26 237.55,584.71 231.91,461.18 224.48,465.04" fill="#490c56" stroke="#808080" stroke-width="0.35" stroke-linejoin="round"/>
<polygon points="213.66,461.87 224.48,465.04 231.91,461.18 221.12,458.08" fill="#631174" stroke="#909090" stroke-width="0.35" stroke-linejoin="round"/>
<polygon points="208.22,593.49 218.29,597.57 210.85,471.8 199.99,468.52" fill="#841290" stroke="#808080" stroke-width="0.35" stroke-linejoin="round"/>
<polygon points="218.29,597.57 225.31,592.88 218.53,467.82 210.85,471.8" fill="#520b59" stroke="#808080" stroke-width="0.35" stroke-linejoin="round"/>
<polygon points="199.99,468.52 210.85,471.8 218.53,467.82 207.69,464.61" fill="#6e1079" stroke="#909090" stroke-width="0.35" stroke-linejoin="round"/>
<polygon points="195.37,601.92 205.48,606.13 196.84,479.54 185.94,476.14" fill="#911194" stroke="#808080" stroke-width="0.35" stroke-linejoin="round"/>
<polygon points="205.48,606.13 212.7,601.3 204.76,475.43 196.84,479.54" fill="#5a0a5c" stroke="#808080" stroke-width="0.35" stroke-linejoin="round"/>
<polygon points="185.94,476.14 196.84,479.54 204.76,475.43 193.88,472.1" fill="#7a0e7d" stroke="#909090" stroke-width="0.35" stroke-linejoin="round"/>
<polygon points="182.14,610.59 192.29,614.94 182.4,487.83 171.46,484.3" fill="#a20f9c" stroke="#808080" stroke-width="0.35" stroke-linejoin="round"/>
<polygon points="192.29,614.94 199.73,609.97 190.57,483.59 182.4,487.83" fill="#650a61" stroke="#808080" stroke-width="0.35" stroke-linejoin="round"/>
<polygon points="171.46,484.3 182.4,487.83 190.57,483.59 179.66,480.12" fill="#880d83" stroke="#909090" stroke-width="0.35" stroke-linejoin="round"/>
<polygon points="168.51,619.53 178.69,624.02 167.59,497.48 156.63,493.8" fill="#b50ea5" stroke="#808080" stroke-width="0.35" stroke-linejoin="round"/>
<polygon points="178.69,624.02 186.36,618.9 176.02,493.08 167.59,497.48" fill="#700967" stroke="#808080" stroke-width="0.35" stroke-linejoin="round"/>
<polygon points="156.63,493.8 167.59,497.48 176.02,493.08 165.08,489.48" fill="#980c8b" stroke="#909090" stroke-width="0.35" stroke-linejoin="round"/>
<polygon points="154.47,628.74 164.68,633.38 152.41,508.37 141.43,504.53" fill="#c60fb0" stroke="#808080" stroke-width="0.35" stroke-linejoin="round"/>
<polygon points="164.68,633.38 172.58,628.1 161.11,503.8 152.41,508.37" fill="#7b096d" stroke="#808080" stroke-width="0.35" stroke-linejoin="round"/>
<polygon points="141.43,504.53 152.41,508.37 161.11,503.8 150.15,500.04" fill="#a70d94" stroke="#909090" stroke-width="0.35" stroke-linejoin="round"/>
<polygon points="139.98,638.23 150.22,643.04 137.03,521.94 126.05,517.92" fill="#d711bc" stroke="#808080" stroke-width="0.35" stroke-linejoin="round"/>
<polygon points="150.22,643.04 158.37,637.59 145.99,517.18 137.03,521.94" fill="#850a75" stroke="#808080" stroke-width="0.35" stroke-linejoin="round"/>
<polygon points="126.05,517.92 137.03,521.94 145.99,517.18 135.03,513.25" fill="#b50e9e" stroke="#909090" stroke-width="0.35" stroke-linejoin="round"/>
<polygon points="125.04,648.03 135.31,653 121.81,540.77 110.86,536.52" fill="#e41ac7" stroke="#808080" stroke-width="0.35" stroke-linejoin="round"/>
<polygon points="135.31,653 143.72,647.38 131.01,535.78 121.81,540.77" fill="#8d107b" stroke="#808080" stroke-width="0.35" stroke-linejoin="round"/>
<polygon points="110.86,536.52 121.81,540.77 131.01,535.78 120.08,531.62" fill="#bf16a7" stroke="#909090" stroke-width="0.35" stroke-linejoin="round"/>
<polygon points="109.62,658.14 119.91,663.29 105.88,557.18 94.96,552.71" fill="#e832cf" stroke="#808080" stroke-width="0.35" stroke-linejoin="round"/>
<polygon points="119.91,663.29 128.59,657.49 115.35,551.97 105.88,557.18" fill="#901f80" stroke="#808080" stroke-width="0.35" stroke-linejoin="round"/>
<polygon points="94.96,552.71 105.88,557.18 115.35,551.97 104.45,547.6" fill="#c32aae" stroke="#909090" stroke-width="0.35" stroke-linejoin="round"/>
<polygon points="93.69,668.58 104,673.91 89.46,573.38 78.56,568.69" fill="#ec4bd8" stroke="#808080" stroke-width="0.35" stroke-linejoin="round"/>
<polygon points="104,673.91 112.97,667.92 99.22,567.95 89.46,573.38" fill="#932f86" stroke="#808080" stroke-width="0.35" stroke-linejoin="round"/>
<polygon points="78.56,568.69 89.46,573.38 99.22,567.95 88.33,563.35" fill="#c63fb5" stroke="#909090" stroke-width="0.35" stroke-linejoin="round"/>
<polygon points="77.24,679.37 87.56,684.9 72.62,590.18 61.76,585.25" fill="#ee6ce3" stroke="#808080" stroke-width="0.35" stroke-linejoin="round"/>
<polygon points="87.56,684.9 96.83,678.7 82.67,584.5 72.62,590.18" fill="#94438d" stroke="#808080" stroke-width="0.35" stroke-linejoin="round"/>
<polygon points="61.76,585.25 72.62,590.18 82.67,584.5 71.81,579.68" fill="#c85abf" stroke="#909090" stroke-width="0.35" stroke-linejoin="round"/>
<polygon points="60.23,690.52 70.56,696.25 58.09,623.51 47.35,618.23" fill="#f08cee" stroke="#808080" stroke-width="0.35" stroke-linejoin="round"/>
<polygon points="70.56,696.25 80.15,689.84 68.31,617.49 58.09,623.51" fill="#955794" stroke="#808080" stroke-width="0.35" stroke-linejoin="round"/>
<polygon points="47.35,618.23 58.09,623.51 68.31,617.49 57.57,612.32" fill="#ca76c8" stroke="#909090" stroke-width="0.35" stroke-linejoin="round"/>
<polygon points="264.69,577.1 274.97,580.94 272.44,456.45 261.33,453.4" fill="#ecd60a" stroke="#808080" stroke-width="0.35" stroke-linejoin="round"/>
<polygon points="274.97,580.94 281.35,576.51 279.38,452.71 272.44,456.45" fill="#928506" stroke="#808080" stroke-width="0.35" stroke-linejoin="round"/>
<polygon points="261.33,453.4 272.44,456.45 279.38,452.71 268.3,449.72" fill="#c6b408" stroke="#909090" stroke-width="0.35" stroke-linejoin="round"/>
<polygon points="252.98,585.07 263.31,589.03 259.76,463.59 248.59,460.42" fill="#eeda09" stroke="#808080" stroke-width="0.35" stroke-linejoin="round"/>
<polygon points="263.31,589.03 269.88,584.47 266.91,459.73 259.76,463.59" fill="#938706" stroke="#808080" stroke-width="0.35" stroke-linejoin="round"/>
<polygon points="248.59,460.42 259.76,463.59 266.91,459.73 255.78,456.63" fill="#c8b708" stroke="#909090" stroke-width="0.35" stroke-linejoin="round"/>
<polygon points="240.94,593.27 251.31,597.36 246.64,469.74 235.41,466.47" fill="#f0dd08" stroke="#808080" stroke-width="0.35" stroke-linejoin="round"/>
<polygon points="251.31,597.36 258.07,592.66 254.02,465.76 246.64,469.74" fill="#958905" stroke="#808080" stroke-width="0.35" stroke-linejoin="round"/>
<polygon points="235.41,466.47 246.64,469.74 254.02,465.76 242.83,462.56" fill="#c9ba07" stroke="#909090" stroke-width="0.35" stroke-linejoin="round"/>
<polygon points="228.54,601.71 238.96,605.93 233.12,477.01 221.84,473.62" fill="#f4e209" stroke="#808080" stroke-width="0.35" stroke-linejoin="round"/>
<polygon points="238.96,605.93 245.92,601.1 240.74,472.91 233.12,477.01" fill="#978c05" stroke="#808080" stroke-width="0.35" stroke-linejoin="round"/>
<polygon points="221.84,473.62 233.12,477.01 240.74,472.91 229.49,469.59" fill="#cdbe07" stroke="#909090" stroke-width="0.35" stroke-linejoin="round"/>
<polygon points="215.77,610.41 226.24,614.76 219.17,484.84 207.84,481.32" fill="#f8e60a" stroke="#808080" stroke-width="0.35" stroke-linejoin="round"/>
<polygon points="226.24,614.76 233.41,609.78 227.04,480.6 219.17,484.84" fill="#9a8f06" stroke="#808080" stroke-width="0.35" stroke-linejoin="round"/>
<polygon points="207.84,481.32 219.17,484.84 227.04,480.6 215.74,477.15" fill="#d1c208" stroke="#909090" stroke-width="0.35" stroke-linejoin="round"/>
<polygon points="202.62,619.36 213.13,623.86 204.71,491.98 193.33,488.33" fill="#fbea13" stroke="#808080" stroke-width="0.35" stroke-linejoin="round"/>
<polygon points="213.13,623.86 220.52,618.73 212.85,487.6 204.71,491.98" fill="#9b910c" stroke="#808080" stroke-width="0.35" stroke-linejoin="round"/>
<polygon points="193.33,488.33 204.71,491.98 212.85,487.6 201.49,484.03" fill="#d3c510" stroke="#909090" stroke-width="0.35" stroke-linejoin="round"/>
<polygon points="189.06,628.59 199.61,633.25 189.95,502.22 178.54,498.41" fill="#fcee21" stroke="#808080" stroke-width="0.35" stroke-linejoin="round"/>
<polygon points="199.61,633.25 207.23,627.96 198.36,497.68 189.95,502.22" fill="#9c9415" stroke="#808080" stroke-width="0.35" stroke-linejoin="round"/>
<polygon points="178.54,498.41 189.95,502.22 198.36,497.68 186.97,493.95" fill="#d3c81c" stroke="#909090" stroke-width="0.35" stroke-linejoin="round"/>
<polygon points="175.08,638.11 185.67,642.92 174.76,513.09 163.32,509.13" fill="#fcf138" stroke="#808080" stroke-width="0.35" stroke-linejoin="round"/>
<polygon points="185.67,642.92 193.53,637.47 183.44,508.38 174.76,513.09" fill="#9c9623" stroke="#808080" stroke-width="0.35" stroke-linejoin="round"/>
<polygon points="163.32,509.13 174.76,513.09 183.44,508.38 172.02,504.5" fill="#d3cb2f" stroke="#909090" stroke-width="0.35" stroke-linejoin="round"/>
<polygon points="160.65,647.93 171.28,652.91 159.84,532.3 148.44,528.1" fill="#fbf458" stroke="#808080" stroke-width="0.35" stroke-linejoin="round"/>
<polygon points="171.28,652.91 179.39,647.28 168.75,527.35 159.84,532.3" fill="#9b9737" stroke="#808080" stroke-width="0.35" stroke-linejoin="round"/>
<polygon points="148.44,528.1 159.84,532.3 168.75,527.35 157.37,523.24" fill="#d3cd4a" stroke="#909090" stroke-width="0.35" stroke-linejoin="round"/>
<polygon points="145.77,658.06 156.42,663.22 145.4,559.33 134.07,554.83" fill="#faf774" stroke="#808080" stroke-width="0.35" stroke-linejoin="round"/>
<polygon points="156.42,663.22 164.8,657.41 154.5,554.09 145.4,559.33" fill="#9b9948" stroke="#808080" stroke-width="0.35" stroke-linejoin="round"/>
<polygon points="134.07,554.83 145.4,559.33 154.5,554.09 143.19,549.69" fill="#d2cf62" stroke="#909090" stroke-width="0.35" stroke-linejoin="round"/>
<polygon points="130.39,668.53 141.08,673.88 129.67,577.15 118.36,572.42" fill="#fbf887" stroke="#808080" stroke-width="0.35" stroke-linejoin="round"/>
<polygon points="141.08,673.88 149.73,667.87 139.03,571.67 129.67,577.15" fill="#9c9a53" stroke="#808080" stroke-width="0.35" stroke-linejoin="round"/>
<polygon points="118.36,572.42 129.67,577.15 139.03,571.67 127.74,567.04" fill="#d3d171" stroke="#909090" stroke-width="0.35" stroke-linejoin="round"/>
<polygon points="114.5,679.35 125.21,684.89 114.2,600.41 102.95,595.4" fill="#fcfa9a" stroke="#808080" stroke-width="0.35" stroke-linejoin="round"/>
<polygon points="125.21,684.89 134.16,678.68 123.8,594.66 114.2,600.41" fill="#9c9b5f" stroke="#808080" stroke-width="0.35" stroke-linejoin="round"/>
<polygon points="102.95,595.4 114.2,600.41 123.8,594.66 112.56,589.76" fill="#d4d281" stroke="#909090" stroke-width="0.35" stroke-linejoin="round"/>
<polygon points="98.08,690.53 108.81,696.27 97.99,620.84 86.78,615.56" fill="#fefdaf" stroke="#808080" stroke-width="0.35" stroke-linejoin="round"/>
<polygon points="108.81,696.27 118.06,689.85 107.85,614.82 97.99,620.84" fill="#9d9d6c" stroke="#808080" stroke-width="0.35" stroke-linejoin="round"/>
<polygon points="86.78,615.56 97.99,620.84 107.85,614.82 96.66,609.65" fill="#d5d493" stroke="#909090" stroke-width="0.35" stroke-linejoin="round"/>
<polygon points="81.09,702.09 91.84,708.06 82.76,650.35 71.66,644.74" fill="#ffffc4" stroke="#808080" stroke-width="0.35" stroke-linejoin="round"/>
<polygon points="91.84,708.06 101.41,701.41 92.83,644 82.76,650.35" fill="#9e9e7a" stroke="#808080" stroke-width="0.35" stroke-linejoin="round"/>
<polygon points="71.66,644.74 82.76,650.35 92.83,644 81.74,638.51" fill="#d6d6a5" stroke="#909090" stroke-width="0.35" stroke-linejoin="round"/>
<polygon points="285.41,584.84 296.03,588.8 295.25,460.02 283.71,456.88" fill="#14b0b4" stroke="#808080" stroke-width="0.35" stroke-linejoin="round"/>
<polygon points="296.03,588.8 302.35,584.23 302.12,456.18 295.25,460.02" fill="#0c6d70" stroke="#808080" stroke-width="0.35" stroke-linejoin="round"/>
<polygon points="283.71,456.88 295.25,460.02 302.12,456.18 290.63,453.09" fill="#119497" stroke="#909090" stroke-width="0.35" stroke-linejoin="round"/>
<polygon points="273.81,593.05 284.49,597.14 282.67,467.66 271.08,464.4" fill="#16bbbf" stroke="#808080" stroke-width="0.35" stroke-linejoin="round"/>
<polygon points="284.49,597.14 290.99,592.44 289.76,463.69 282.67,467.66" fill="#0e7476" stroke="#808080" stroke-width="0.35" stroke-linejoin="round"/>
<polygon points="271.08,464.4 282.67,467.66 289.76,463.69 278.21,460.49" fill="#129da1" stroke="#909090" stroke-width="0.35" stroke-linejoin="round"/>
<polygon points="261.86,601.51 272.6,605.73 269.78,479.22 258.15,475.81" fill="#18c6ca" stroke="#808080" stroke-width="0.35" stroke-linejoin="round"/>
<polygon points="272.6,605.73 279.3,600.89 277.08,475.09 269.78,479.22" fill="#0f7b7d" stroke="#808080" stroke-width="0.35" stroke-linejoin="round"/>
<polygon points="258.15,475.81 269.78,479.22 277.08,475.09 265.49,471.75" fill="#14a6aa" stroke="#909090" stroke-width="0.35" stroke-linejoin="round"/>
<polygon points="249.56,610.22 260.35,614.58 256.45,488.01 244.76,484.46" fill="#1ad1d4" stroke="#808080" stroke-width="0.35" stroke-linejoin="round"/>
<polygon points="260.35,614.58 267.25,609.6 263.98,483.74 256.45,488.01" fill="#108284" stroke="#808080" stroke-width="0.35" stroke-linejoin="round"/>
<polygon points="244.76,484.46 256.45,488.01 263.98,483.74 252.33,480.26" fill="#16b0b2" stroke="#909090" stroke-width="0.35" stroke-linejoin="round"/>
<polygon points="236.89,619.19 247.73,623.7 242.66,496.3 230.92,492.62" fill="#1ddcdf" stroke="#808080" stroke-width="0.35" stroke-linejoin="round"/>
<polygon points="247.73,623.7 254.84,618.56 250.44,491.89 242.66,496.3" fill="#12898a" stroke="#808080" stroke-width="0.35" stroke-linejoin="round"/>
<polygon points="230.92,492.62 242.66,496.3 250.44,491.89 238.74,488.28" fill="#18b9bb" stroke="#909090" stroke-width="0.35" stroke-linejoin="round"/>
<polygon points="223.82,628.44 234.71,633.11 228.43,505.34 216.64,501.51" fill="#27e5e6" stroke="#808080" stroke-width="0.35" stroke-linejoin="round"/>
<polygon points="234.71,633.11 242.05,627.81 236.48,500.77 228.43,505.34" fill="#188e8f" stroke="#808080" stroke-width="0.35" stroke-linejoin="round"/>
<polygon points="216.64,501.51 228.43,505.34 236.48,500.77 224.72,497.02" fill="#21c0c1" stroke="#909090" stroke-width="0.35" stroke-linejoin="round"/>
<polygon points="210.35,637.98 221.29,642.81 213.87,516.91 202.04,512.9" fill="#35eced" stroke="#808080" stroke-width="0.35" stroke-linejoin="round"/>
<polygon points="221.29,642.81 228.86,637.34 222.17,512.16 213.87,516.91" fill="#219393" stroke="#808080" stroke-width="0.35" stroke-linejoin="round"/>
<polygon points="202.04,512.9 213.87,516.91 222.17,512.16 210.38,508.24" fill="#2dc6c7" stroke="#909090" stroke-width="0.35" stroke-linejoin="round"/>
<polygon points="196.45,647.83 207.44,652.82 198.84,528.51 186.98,524.33" fill="#45f2f2" stroke="#808080" stroke-width="0.35" stroke-linejoin="round"/>
<polygon points="207.44,652.82 215.25,647.18 207.41,523.57 198.84,528.51" fill="#2b9696" stroke="#808080" stroke-width="0.35" stroke-linejoin="round"/>
<polygon points="186.98,524.33 198.84,528.51 207.41,523.57 195.59,519.48" fill="#3acbcb" stroke="#909090" stroke-width="0.35" stroke-linejoin="round"/>
<polygon points="182.1,657.99 193.13,663.16 183.8,546.42 171.96,542.01" fill="#58f6f6" stroke="#808080" stroke-width="0.35" stroke-linejoin="round"/>
<polygon points="193.13,663.16 201.2,657.33 192.63,541.25 183.8,546.42" fill="#369898" stroke="#808080" stroke-width="0.35" stroke-linejoin="round"/>
<polygon points="171.96,542.01 183.8,546.42 192.63,541.25 180.81,536.93" fill="#4acece" stroke="#909090" stroke-width="0.35" stroke-linejoin="round"/>
<polygon points="167.28,668.48 178.35,673.84 169.78,579.82 158.06,575.06" fill="#6cf8f8" stroke="#808080" stroke-width="0.35" stroke-linejoin="round"/>
<polygon points="178.35,673.84 186.69,667.81 178.76,574.31 169.78,579.82" fill="#439a9a" stroke="#808080" stroke-width="0.35" stroke-linejoin="round"/>
<polygon points="158.06,575.06 169.78,579.82 178.76,574.31 167.06,569.65" fill="#5ad1d1" stroke="#909090" stroke-width="0.35" stroke-linejoin="round"/>
<polygon points="151.97,679.32 163.07,684.88 154.64,602.97 142.97,597.93" fill="#83f9f9" stroke="#808080" stroke-width="0.35" stroke-linejoin="round"/>
<polygon points="163.07,684.88 171.69,678.65 163.85,597.19 154.64,602.97" fill="#519b9b" stroke="#808080" stroke-width="0.35" stroke-linejoin="round"/>
<polygon points="142.97,597.93 154.64,602.97 163.85,597.19 152.2,592.25" fill="#6ed1d1" stroke="#909090" stroke-width="0.35" stroke-linejoin="round"/>
<polygon points="136.13,690.54 147.27,696.3 138.56,620.8 126.91,615.51" fill="#99fafa" stroke="#808080" stroke-width="0.35" stroke-linejoin="round"/>
<polygon points="147.27,696.3 156.19,689.85 148.05,614.76 138.56,620.8" fill="#5f9b9b" stroke="#808080" stroke-width="0.35" stroke-linejoin="round"/>
<polygon points="126.91,615.51 138.56,620.8 148.05,614.76 136.41,609.58" fill="#81d2d2" stroke="#909090" stroke-width="0.35" stroke-linejoin="round"/>
<polygon points="119.75,702.13 130.92,708.11 122.85,645.31 111.26,639.72" fill="#acfdfd" stroke="#808080" stroke-width="0.35" stroke-linejoin="round"/>
<polygon points="130.92,708.11 140.15,701.45 132.59,638.97 122.85,645.31" fill="#6a9d9d" stroke="#808080" stroke-width="0.35" stroke-linejoin="round"/>
<polygon points="111.26,639.72 122.85,645.31 132.59,638.97 121.01,633.5" fill="#90d4d4" stroke="#909090" stroke-width="0.35" stroke-linejoin="round"/>
<polygon points="102.8,714.14 113.99,720.35 108.06,678.64 96.59,672.68" fill="#beffff" stroke="#808080" stroke-width="0.35" stroke-linejoin="round"/>
<polygon points="113.99,720.35 123.54,713.44 117.97,671.95 108.06,678.64" fill="#769e9e" stroke="#808080" stroke-width="0.35" stroke-linejoin="round"/>
<polygon points="96.59,672.68 108.06,678.64 117.97,671.95 106.51,666.12" fill="#a0d6d6" stroke="#909090" stroke-width="0.35" stroke-linejoin="round"/>
<polygon points="306.83,592.83 317.82,596.93 318.92,470.29 306.99,467" fill="#e86a24" stroke="#808080" stroke-width="0.35" stroke-linejoin="round"/>
<polygon points="317.82,596.93 324.07,592.22 325.7,466.29 318.92,470.29" fill="#904216" stroke="#808080" stroke-width="0.35" stroke-linejoin="round"/>
<polygon points="306.99,467 318.92,470.29 325.7,466.29 313.8,463.07" fill="#c3591e" stroke="#909090" stroke-width="0.35" stroke-linejoin="round"/>
<polygon points="295.35,601.3 306.4,605.54 306.51,478.52 294.51,475.1" fill="#e96d28" stroke="#808080" stroke-width="0.35" stroke-linejoin="round"/>
<polygon points="306.4,605.54 312.83,600.68 313.5,474.39 306.51,478.52" fill="#904319" stroke="#808080" stroke-width="0.35" stroke-linejoin="round"/>
<polygon points="294.51,475.1 306.51,478.52 313.5,474.39 301.54,471.04" fill="#c45b21" stroke="#909090" stroke-width="0.35" stroke-linejoin="round"/>
<polygon points="283.52,610.03 294.63,614.4 293.7,485.16 281.62,481.62" fill="#ea702b" stroke="#808080" stroke-width="0.35" stroke-linejoin="round"/>
<polygon points="294.63,614.4 301.26,609.41 300.93,480.9 293.7,485.16" fill="#91451b" stroke="#808080" stroke-width="0.35" stroke-linejoin="round"/>
<polygon points="281.62,481.62 293.7,485.16 300.93,480.9 288.88,477.43" fill="#c45e24" stroke="#909090" stroke-width="0.35" stroke-linejoin="round"/>
<polygon points="271.33,619.03 282.5,623.55 280.45,492.81 268.3,489.14" fill="#eb732f" stroke="#808080" stroke-width="0.35" stroke-linejoin="round"/>
<polygon points="282.5,623.55 289.34,618.39 287.92,488.4 280.45,492.81" fill="#92471d" stroke="#808080" stroke-width="0.35" stroke-linejoin="round"/>
<polygon points="268.3,489.14 280.45,492.81 287.92,488.4 275.81,484.81" fill="#c56128" stroke="#909090" stroke-width="0.35" stroke-linejoin="round"/>
<polygon points="258.76,628.3 270,632.97 266.75,500.4 254.52,496.6" fill="#ec7733" stroke="#808080" stroke-width="0.35" stroke-linejoin="round"/>
<polygon points="270,632.97 277.05,627.66 274.48,495.85 266.75,500.4" fill="#924a1f" stroke="#808080" stroke-width="0.35" stroke-linejoin="round"/>
<polygon points="254.52,496.6 266.75,500.4 274.48,495.85 262.28,492.13" fill="#c6642b" stroke="#909090" stroke-width="0.35" stroke-linejoin="round"/>
<polygon points="245.8,637.86 257.1,642.69 252.62,510.2 240.33,506.23" fill="#ec7a38" stroke="#808080" stroke-width="0.35" stroke-linejoin="round"/>
<polygon points="257.1,642.69 264.37,637.21 260.61,505.48 252.62,510.2" fill="#924c23" stroke="#808080" stroke-width="0.35" stroke-linejoin="round"/>
<polygon points="240.33,506.23 252.62,510.2 260.61,505.48 248.36,501.6" fill="#c6672f" stroke="#909090" stroke-width="0.35" stroke-linejoin="round"/>
<polygon points="232.43,647.72 243.78,652.73 238.26,525.65 225.96,521.47" fill="#ec7e3d" stroke="#808080" stroke-width="0.35" stroke-linejoin="round"/>
<polygon points="243.78,652.73 251.29,647.07 246.49,520.72 238.26,525.65" fill="#924e26" stroke="#808080" stroke-width="0.35" stroke-linejoin="round"/>
<polygon points="225.96,521.47 238.26,525.65 246.49,520.72 234.23,516.63" fill="#c66a33" stroke="#909090" stroke-width="0.35" stroke-linejoin="round"/>
<polygon points="218.63,657.91 230.03,663.09 223.63,543.61 211.33,539.2" fill="#ec8344" stroke="#808080" stroke-width="0.35" stroke-linejoin="round"/>
<polygon points="230.03,663.09 237.79,657.25 232.1,538.44 223.63,543.61" fill="#93512a" stroke="#808080" stroke-width="0.35" stroke-linejoin="round"/>
<polygon points="211.33,539.2 223.63,543.61 232.1,538.44 219.84,534.13" fill="#c76e39" stroke="#909090" stroke-width="0.35" stroke-linejoin="round"/>
<polygon points="204.37,668.43 215.82,673.8 208.96,566.81 196.7,562.13" fill="#ed884b" stroke="#808080" stroke-width="0.35" stroke-linejoin="round"/>
<polygon points="215.82,673.8 223.84,667.76 217.65,561.38 208.96,566.81" fill="#93552f" stroke="#808080" stroke-width="0.35" stroke-linejoin="round"/>
<polygon points="196.7,562.13 208.96,566.81 217.65,561.38 205.42,556.8" fill="#c7723f" stroke="#909090" stroke-width="0.35" stroke-linejoin="round"/>
<polygon points="189.63,679.3 201.14,684.87 195.71,612.81 183.66,607.69" fill="#ee8f55" stroke="#808080" stroke-width="0.35" stroke-linejoin="round"/>
<polygon points="201.14,684.87 209.42,678.63 204.47,606.96 195.71,612.81" fill="#945934" stroke="#808080" stroke-width="0.35" stroke-linejoin="round"/>
<polygon points="183.66,607.69 195.71,612.81 204.47,606.96 192.46,601.94" fill="#c87847" stroke="#909090" stroke-width="0.35" stroke-linejoin="round"/>
<polygon points="174.4,690.54 185.95,696.32 180.91,638.52 168.93,633.09" fill="#ef9862" stroke="#808080" stroke-width="0.35" stroke-linejoin="round"/>
<polygon points="185.95,696.32 194.52,689.86 189.89,632.36 180.91,638.52" fill="#945e3d" stroke="#808080" stroke-width="0.35" stroke-linejoin="round"/>
<polygon points="168.93,633.09 180.91,638.52 189.89,632.36 177.94,627.05" fill="#c98053" stroke="#909090" stroke-width="0.35" stroke-linejoin="round"/>
<polygon points="158.63,702.17 170.22,708.17 165.85,664.16 153.93,658.43" fill="#f0a271" stroke="#808080" stroke-width="0.35" stroke-linejoin="round"/>
<polygon points="170.22,708.17 179.1,701.48 175.05,657.7 165.85,664.16" fill="#956446" stroke="#808080" stroke-width="0.35" stroke-linejoin="round"/>
<polygon points="153.93,658.43 165.85,664.16 175.05,657.7 163.15,652.09" fill="#ca885f" stroke="#909090" stroke-width="0.35" stroke-linejoin="round"/>
<polygon points="142.31,714.21 153.94,720.44 150.02,685.56 138.13,679.54" fill="#f0ad84" stroke="#808080" stroke-width="0.35" stroke-linejoin="round"/>
<polygon points="153.94,720.44 163.13,713.52 159.48,678.81 150.02,685.56" fill="#956b52" stroke="#808080" stroke-width="0.35" stroke-linejoin="round"/>
<polygon points="138.13,679.54 150.02,685.56 159.48,678.81 147.62,672.92" fill="#ca916e" stroke="#909090" stroke-width="0.35" stroke-linejoin="round"/>
<polygon points="125.41,726.69 137.07,733.16 134.47,712.53 122.66,706.18" fill="#f0b896" stroke="#808080" stroke-width="0.35" stroke-linejoin="round"/>
<polygon points="137.07,733.16 146.6,725.98 144.16,705.45 134.47,712.53" fill="#95725d" stroke="#808080" stroke-width="0.35" stroke-linejoin="round"/>
<polygon points="122.66,706.18 134.47,712.53 144.16,705.45 132.37,699.24" fill="#ca9b7e" stroke="#909090" stroke-width="0.35" stroke-linejoin="round"/>
<polygon points="328.99,601.1 340.36,605.34 343.47,476.74 331.08,473.33" fill="#000096" stroke="#808080" stroke-width="0.35" stroke-linejoin="round"/>
<polygon points="340.36,605.34 346.53,600.48 350.15,472.61 343.47,476.74" fill="#00005d" stroke="#808080" stroke-width="0.35" stroke-linejoin="round"/>
<polygon points="331.08,473.33 343.47,476.74 350.15,472.61 337.81,469.27" fill="#00007e" stroke="#909090" stroke-width="0.35" stroke-linejoin="round"/>
<polygon points="317.64,609.84 329.08,614.23 331.2,485.71 318.74,482.16" fill="#0000a4" stroke="#808080" stroke-width="0.35" stroke-linejoin="round"/>
<polygon points="329.08,614.23 335.43,609.22 338.1,481.43 331.2,485.71" fill="#000066" stroke="#808080" stroke-width="0.35" stroke-linejoin="round"/>
<polygon points="318.74,482.16 331.2,485.71 338.1,481.43 325.69,477.95" fill="#00008a" stroke="#909090" stroke-width="0.35" stroke-linejoin="round"/>
<polygon points="305.94,618.86 317.45,623.39 318.54,496.05 306.01,492.35" fill="#0000b2" stroke="#808080" stroke-width="0.35" stroke-linejoin="round"/>
<polygon points="317.45,623.39 324,618.22 325.66,491.62 318.54,496.05" fill="#00006e" stroke="#808080" stroke-width="0.35" stroke-linejoin="round"/>
<polygon points="306.01,492.35 318.54,496.05 325.66,491.62 313.18,487.99" fill="#000095" stroke="#909090" stroke-width="0.35" stroke-linejoin="round"/>
<polygon points="293.88,628.15 305.46,632.83 305.49,505.13 292.89,501.28" fill="#0000c1" stroke="#808080" stroke-width="0.35" stroke-linejoin="round"/>
<polygon points="305.46,632.83 312.22,627.51 312.85,500.54 305.49,505.13" fill="#000078" stroke="#808080" stroke-width="0.35" stroke-linejoin="round"/>
<polygon points="292.89,501.28 305.49,505.13 312.85,500.54 300.29,496.77" fill="#0000a3" stroke="#909090" stroke-width="0.35" stroke-linejoin="round"/>
<polygon points="281.44,637.73 293.08,642.58 292.02,516.75 279.36,512.73" fill="#0000d2" stroke="#808080" stroke-width="0.35" stroke-linejoin="round"/>
<polygon points="293.08,642.58 300.06,637.08 299.62,511.98 292.02,516.75" fill="#000082" stroke="#808080" stroke-width="0.35" stroke-linejoin="round"/>
<polygon points="279.36,512.73 292.02,516.75 299.62,511.98 287.01,508.04" fill="#0000b0" stroke="#909090" stroke-width="0.35" stroke-linejoin="round"/>
<polygon points="268.6,647.62 280.31,652.64 278.17,530.34 265.47,526.12" fill="#0303df" stroke="#808080" stroke-width="0.35" stroke-linejoin="round"/>
<polygon points="280.31,652.64 287.52,646.97 286.01,525.37 278.17,530.34" fill="#02028a" stroke="#808080" stroke-width="0.35" stroke-linejoin="round"/>
<polygon points="265.47,526.12 278.17,530.34 286.01,525.37 273.35,521.24" fill="#0303bb" stroke="#909090" stroke-width="0.35" stroke-linejoin="round"/>
<polygon points="255.34,657.83 267.13,663.03 263.89,543.68 251.15,539.26" fill="#0808ea" stroke="#808080" stroke-width="0.35" stroke-linejoin="round"/>
<polygon points="267.13,663.03 274.56,657.17 271.99,538.5 263.89,543.68" fill="#050591" stroke="#808080" stroke-width="0.35" stroke-linejoin="round"/>
<polygon points="251.15,539.26 263.89,543.68 271.99,538.5 259.29,534.18" fill="#0606c5" stroke="#909090" stroke-width="0.35" stroke-linejoin="round"/>
<polygon points="241.65,668.38 253.5,673.76 249.44,564.21 236.71,559.54" fill="#1111f1" stroke="#808080" stroke-width="0.35" stroke-linejoin="round"/>
<polygon points="253.5,673.76 261.19,667.71 257.76,558.78 249.44,564.21" fill="#0a0a96" stroke="#808080" stroke-width="0.35" stroke-linejoin="round"/>
<polygon points="236.71,559.54 249.44,564.21 257.76,558.78 245.07,554.2" fill="#0e0ecb" stroke="#909090" stroke-width="0.35" stroke-linejoin="round"/>
<polygon points="227.5,679.28 239.41,684.86 234.95,591.11 222.28,586.12" fill="#1f1ff3" stroke="#808080" stroke-width="0.35" stroke-linejoin="round"/>
<polygon points="239.41,684.86 247.36,678.6 243.47,585.36 234.95,591.11" fill="#131397" stroke="#808080" stroke-width="0.35" stroke-linejoin="round"/>
<polygon points="222.28,586.12 234.95,591.11 243.47,585.36 230.85,580.49" fill="#1a1acd" stroke="#909090" stroke-width="0.35" stroke-linejoin="round"/>
<polygon points="212.87,690.55 224.84,696.34 220.55,623.22 207.99,617.89" fill="#2d2df6" stroke="#808080" stroke-width="0.35" stroke-linejoin="round"/>
<polygon points="224.84,696.34 233.06,689.87 229.25,617.14 220.55,623.22" fill="#1c1c98" stroke="#808080" stroke-width="0.35" stroke-linejoin="round"/>
<polygon points="207.99,617.89 220.55,623.22 229.25,617.14 216.73,611.92" fill="#2525ce" stroke="#909090" stroke-width="0.35" stroke-linejoin="round"/>
<polygon points="197.73,702.21 209.75,708.23 205.12,642.41 192.57,636.8" fill="#3a3af8" stroke="#808080" stroke-width="0.35" stroke-linejoin="round"/>
<polygon points="209.75,708.23 218.26,701.52 214.09,636.05 205.12,642.41" fill="#24249a" stroke="#808080" stroke-width="0.35" stroke-linejoin="round"/>
<polygon points="192.57,636.8 205.12,642.41 214.09,636.05 201.57,630.57" fill="#3131d0" stroke="#909090" stroke-width="0.35" stroke-linejoin="round"/>
<polygon points="182.05,714.29 194.13,720.53 189.17,660.53 176.62,654.65" fill="#4949fa" stroke="#808080" stroke-width="0.35" stroke-linejoin="round"/>
<polygon points="194.13,720.53 202.95,713.59 198.43,653.9 189.17,660.53" fill="#2d2d9b" stroke="#808080" stroke-width="0.35" stroke-linejoin="round"/>
<polygon points="176.62,654.65 189.17,660.53 198.43,653.9 185.91,648.15" fill="#3d3dd2" stroke="#909090" stroke-width="0.35" stroke-linejoin="round"/>
<polygon points="165.82,726.8 177.94,733.29 173.66,688.5 161.18,682.27" fill="#5858fa" stroke="#808080" stroke-width="0.35" stroke-linejoin="round"/>
<polygon points="177.94,733.29 187.08,726.09 183.15,681.52 173.66,688.5" fill="#37379b" stroke="#808080" stroke-width="0.35" stroke-linejoin="round"/>
<polygon points="161.18,682.27 173.66,688.5 183.15,681.52 170.69,675.44" fill="#4a4ad2" stroke="#909090" stroke-width="0.35" stroke-linejoin="round"/>
<polygon points="148.98,739.76 161.15,746.51 157.6,713.98 145.17,707.42" fill="#6868fa" stroke="#808080" stroke-width="0.35" stroke-linejoin="round"/>
<polygon points="161.15,746.51 170.63,739.05 167.34,706.67 157.6,713.98" fill="#40409b" stroke="#808080" stroke-width="0.35" stroke-linejoin="round"/>
<polygon points="145.17,707.42 157.6,713.98 167.34,706.67 154.94,700.26" fill="#5757d2" stroke="#909090" stroke-width="0.35" stroke-linejoin="round"/>
<polygon points="351.92,609.65 363.69,614.04 368.98,483.14 356.11,479.6" fill="#be0ec4" stroke="#808080" stroke-width="0.35" stroke-linejoin="round"/>
<polygon points="363.69,614.04 369.77,609.02 375.56,478.87 368.98,483.14" fill="#76097a" stroke="#808080" stroke-width="0.35" stroke-linejoin="round"/>
<polygon points="356.11,479.6 368.98,483.14 375.56,478.87 362.75,475.4" fill="#a00ca5" stroke="#909090" stroke-width="0.35" stroke-linejoin="round"/>
<polygon points="340.72,618.69 352.57,623.23 356.84,493.49 343.9,489.79" fill="#c90fcc" stroke="#808080" stroke-width="0.35" stroke-linejoin="round"/>
<polygon points="352.57,623.23 358.84,618.05 363.63,489.06 356.84,493.49" fill="#7d097f" stroke="#808080" stroke-width="0.35" stroke-linejoin="round"/>
<polygon points="343.9,489.79 356.84,493.49 363.63,489.06 350.74,485.44" fill="#a90dac" stroke="#909090" stroke-width="0.35" stroke-linejoin="round"/>
<polygon points="329.16,628 341.09,632.69 344.36,503.04 331.33,499.19" fill="#d410d5" stroke="#808080" stroke-width="0.35" stroke-linejoin="round"/>
<polygon points="341.09,632.69 347.56,627.36 351.38,498.45 344.36,503.04" fill="#840a84" stroke="#808080" stroke-width="0.35" stroke-linejoin="round"/>
<polygon points="331.33,499.19 344.36,503.04 351.38,498.45 338.4,494.69" fill="#b20db3" stroke="#909090" stroke-width="0.35" stroke-linejoin="round"/>
<polygon points="317.25,637.6 329.26,642.46 331.46,512.91 318.35,508.9" fill="#e012e0" stroke="#808080" stroke-width="0.35" stroke-linejoin="round"/>
<polygon points="329.26,642.46 335.93,636.95 338.72,508.15 331.46,512.91" fill="#8b0b8b" stroke="#808080" stroke-width="0.35" stroke-linejoin="round"/>
<polygon points="318.35,508.9 331.46,512.91 338.72,508.15 325.66,504.23" fill="#bc0fbc" stroke="#909090" stroke-width="0.35" stroke-linejoin="round"/>
<polygon points="304.95,647.52 317.04,652.55 318.12,525.7 304.94,521.5" fill="#ec13ec" stroke="#808080" stroke-width="0.35" stroke-linejoin="round"/>
<polygon points="317.04,652.55 323.93,646.86 325.61,520.74 318.12,525.7" fill="#920c92" stroke="#808080" stroke-width="0.35" stroke-linejoin="round"/>
<polygon points="304.94,521.5 318.12,525.7 325.61,520.74 312.49,516.64" fill="#c610c6" stroke="#909090" stroke-width="0.35" stroke-linejoin="round"/>
<polygon points="292.25,657.75 304.42,662.96 304.37,547.46 291.21,543.01" fill="#f41af4" stroke="#808080" stroke-width="0.35" stroke-linejoin="round"/>
<polygon points="304.42,662.96 311.54,657.09 312.07,542.25 304.37,547.46" fill="#971097" stroke="#808080" stroke-width="0.35" stroke-linejoin="round"/>
<polygon points="291.21,543.01 304.37,547.46 312.07,542.25 298.96,537.89" fill="#cd16cd" stroke="#909090" stroke-width="0.35" stroke-linejoin="round"/>
<polygon points="279.14,668.33 291.38,673.73 290.3,564.34 277.12,559.65" fill="#fb23fb" stroke="#808080" stroke-width="0.35" stroke-linejoin="round"/>
<polygon points="291.38,673.73 298.73,667.65 298.24,558.89 290.3,564.34" fill="#9b169b" stroke="#808080" stroke-width="0.35" stroke-linejoin="round"/>
<polygon points="277.12,559.65 290.3,564.34 298.24,558.89 285.11,554.3" fill="#d31ed3" stroke="#909090" stroke-width="0.35" stroke-linejoin="round"/>
<polygon points="265.58,679.25 277.89,684.85 275.9,583.6 262.71,578.66" fill="#fe36fd" stroke="#808080" stroke-width="0.35" stroke-linejoin="round"/>
<polygon points="277.89,684.85 285.5,678.58 284.08,577.89 275.9,583.6" fill="#9d219d" stroke="#808080" stroke-width="0.35" stroke-linejoin="round"/>
<polygon points="262.71,578.66 275.9,583.6 284.08,577.89 270.94,573.05" fill="#d52dd5" stroke="#909090" stroke-width="0.35" stroke-linejoin="round"/>
<polygon points="251.55,690.56 263.94,696.37 261.24,606.55 248.08,601.31" fill="#fd52fb" stroke="#808080" stroke-width="0.35" stroke-linejoin="round"/>
<polygon points="263.94,696.37 271.81,689.87 269.65,600.55 261.24,606.55" fill="#9d339c" stroke="#808080" stroke-width="0.35" stroke-linejoin="round"/>
<polygon points="248.08,601.31 261.24,606.55 269.65,600.55 256.53,595.42" fill="#d444d3" stroke="#909090" stroke-width="0.35" stroke-linejoin="round"/>
<polygon points="237.04,702.25 249.5,708.28 246.39,632.34 233.28,626.78" fill="#fc6df9" stroke="#808080" stroke-width="0.35" stroke-linejoin="round"/>
<polygon points="249.5,708.28 257.65,701.56 255.02,626.02 246.39,632.34" fill="#9c449b" stroke="#808080" stroke-width="0.35" stroke-linejoin="round"/>
<polygon points="233.28,626.78 246.39,632.34 255.02,626.02 241.95,620.59" fill="#d35cd1" stroke="#909090" stroke-width="0.35" stroke-linejoin="round"/>
<polygon points="222.02,714.36 234.55,720.63 231.06,654.15 217.96,648.3" fill="#fb89f8" stroke="#808080" stroke-width="0.35" stroke-linejoin="round"/>
<polygon points="234.55,720.63 242.99,713.66 239.95,647.53 231.06,654.15" fill="#9b5599" stroke="#808080" stroke-width="0.35" stroke-linejoin="round"/>
<polygon points="217.96,648.3 231.06,654.15 239.95,647.53 226.89,641.81" fill="#d373d0" stroke="#909090" stroke-width="0.35" stroke-linejoin="round"/>
<polygon points="206.46,726.91 219.04,733.42 215.41,677.26 202.34,671.09" fill="#faa4f6" stroke="#808080" stroke-width="0.35" stroke-linejoin="round"/>
<polygon points="219.04,733.42 227.79,726.2 224.57,670.33 215.41,677.26" fill="#9b6699" stroke="#808080" stroke-width="0.35" stroke-linejoin="round"/>
<polygon points="202.34,671.09 215.41,677.26 224.57,670.33 211.53,664.3" fill="#d28acf" stroke="#909090" stroke-width="0.35" stroke-linejoin="round"/>
<polygon points="190.32,739.92 202.97,746.69 199.08,696.5 186,690.02" fill="#fabcf8" stroke="#808080" stroke-width="0.35" stroke-linejoin="round"/>
<polygon points="202.97,746.69 212.04,739.2 208.54,689.26 199.08,696.5" fill="#9b759a" stroke="#808080" stroke-width="0.35" stroke-linejoin="round"/>
<polygon points="186,690.02 199.08,696.5 208.54,689.26 195.49,682.94" fill="#d29ed0" stroke="#909090" stroke-width="0.35" stroke-linejoin="round"/>
<polygon points="173.58,753.41 186.28,760.46 182.53,719.29 169.47,712.48" fill="#fad4fa" stroke="#808080" stroke-width="0.35" stroke-linejoin="round"/>
<polygon points="186.28,760.46 195.7,752.69 192.29,711.71 182.53,719.29" fill="#9b839b" stroke="#808080" stroke-width="0.35" stroke-linejoin="round"/>
<polygon points="169.47,712.48 182.53,719.29 192.29,711.71 179.26,705.06" fill="#d2b2d2" stroke="#909090" stroke-width="0.35" stroke-linejoin="round"/>
<polygon points="375.67,618.51 387.86,623.06 395.16,496.11 381.83,492.39" fill="#16cc16" stroke="#808080" stroke-width="0.35" stroke-linejoin="round"/>
<polygon points="387.86,623.06 393.84,617.88 401.59,491.66 395.16,496.11" fill="#0e7e0e" stroke="#808080" stroke-width="0.35" stroke-linejoin="round"/>
<polygon points="381.83,492.39 395.16,496.11 401.59,491.66 388.33,488.02" fill="#12ab12" stroke="#909090" stroke-width="0.35" stroke-linejoin="round"/>
<polygon points="364.63,627.85 376.91,632.55 382.99,511.42 369.62,507.51" fill="#19d619" stroke="#808080" stroke-width="0.35" stroke-linejoin="round"/>
<polygon points="376.91,632.55 383.09,627.2 389.63,506.77 382.99,511.42" fill="#0f850f" stroke="#808080" stroke-width="0.35" stroke-linejoin="round"/>
<polygon points="369.62,507.51 382.99,511.42 389.63,506.77 376.31,502.93" fill="#15b415" stroke="#909090" stroke-width="0.35" stroke-linejoin="round"/>
<polygon points="353.24,637.47 365.62,642.35 370.64,524.42 357.2,520.32" fill="#1ce01c" stroke="#808080" stroke-width="0.35" stroke-linejoin="round"/>
<polygon points="365.62,642.35 371.99,636.82 377.49,519.57 370.64,524.42" fill="#118b11" stroke="#808080" stroke-width="0.35" stroke-linejoin="round"/>
<polygon points="357.2,520.32 370.64,524.42 377.49,519.57 364.11,515.56" fill="#17bc17" stroke="#909090" stroke-width="0.35" stroke-linejoin="round"/>
<polygon points="341.49,647.41 353.95,652.45 357.99,535.88 344.47,531.6" fill="#21eb21" stroke="#808080" stroke-width="0.35" stroke-linejoin="round"/>
<polygon points="353.95,652.45 360.53,646.75 365.07,530.84 357.99,535.88" fill="#149214" stroke="#808080" stroke-width="0.35" stroke-linejoin="round"/>
<polygon points="344.47,531.6 357.99,535.88 365.07,530.84 351.6,526.66" fill="#1bc61b" stroke="#909090" stroke-width="0.35" stroke-linejoin="round"/>
<polygon points="329.36,657.67 341.91,662.9 344.91,548.83 331.31,544.36" fill="#26f626" stroke="#808080" stroke-width="0.35" stroke-linejoin="round"/>
<polygon points="341.91,662.9 348.7,657.01 352.22,543.6 344.91,548.83" fill="#189918" stroke="#808080" stroke-width="0.35" stroke-linejoin="round"/>
<polygon points="331.31,544.36 344.91,548.83 352.22,543.6 338.68,539.22" fill="#20cf20" stroke="#909090" stroke-width="0.35" stroke-linejoin="round"/>
<polygon points="316.82,668.27 329.46,673.69 331.4,563.01 317.74,558.32" fill="#37fb37" stroke="#808080" stroke-width="0.35" stroke-linejoin="round"/>
<polygon points="329.46,673.69 336.48,667.6 338.96,557.55 331.4,563.01" fill="#229c22" stroke="#808080" stroke-width="0.35" stroke-linejoin="round"/>
<polygon points="317.74,558.32 331.4,563.01 338.96,557.55 325.36,552.96" fill="#2fd32f" stroke="#909090" stroke-width="0.35" stroke-linejoin="round"/>
<polygon points="303.86,679.23 316.59,684.85 317.49,577.12 303.77,572.21" fill="#4efd4e" stroke="#808080" stroke-width="0.35" stroke-linejoin="round"/>
<polygon points="316.59,684.85 323.85,678.55 325.3,571.44 317.49,577.12" fill="#319d31" stroke="#808080" stroke-width="0.35" stroke-linejoin="round"/>
<polygon points="303.77,572.21 317.49,577.12 325.3,571.44 311.64,566.63" fill="#42d542" stroke="#909090" stroke-width="0.35" stroke-linejoin="round"/>
<polygon points="290.45,690.56 303.27,696.39 303.13,593.81 289.37,588.65" fill="#66fe66" stroke="#808080" stroke-width="0.35" stroke-linejoin="round"/>
<polygon points="303.27,696.39 310.78,689.88 311.21,587.88 303.13,593.81" fill="#3f9d3f" stroke="#808080" stroke-width="0.35" stroke-linejoin="round"/>
<polygon points="289.37,588.65 303.13,593.81 311.21,587.88 297.5,582.83" fill="#55d555" stroke="#909090" stroke-width="0.35" stroke-linejoin="round"/>
<polygon points="276.58,702.29 289.48,708.34 288.4,614.43 274.63,608.99" fill="#7dfd7d" stroke="#808080" stroke-width="0.35" stroke-linejoin="round"/>
<polygon points="289.48,708.34 297.26,701.6 296.73,608.21 288.4,614.43" fill="#4d9d4d" stroke="#808080" stroke-width="0.35" stroke-linejoin="round"/>
<polygon points="274.63,608.99 288.4,614.43 296.73,608.21 283.01,602.88" fill="#69d469" stroke="#909090" stroke-width="0.35" stroke-linejoin="round"/>
<polygon points="262.22,714.44 275.2,720.72 273.29,635.07 259.51,629.33" fill="#93fc93" stroke="#808080" stroke-width="0.35" stroke-linejoin="round"/>
<polygon points="275.2,720.72 283.26,713.74 281.88,628.55 273.29,635.07" fill="#5b9c5b" stroke="#808080" stroke-width="0.35" stroke-linejoin="round"/>
<polygon points="259.51,629.33 273.29,635.07 281.88,628.55 268.16,622.94" fill="#7bd37b" stroke="#909090" stroke-width="0.35" stroke-linejoin="round"/>
<polygon points="247.33,727.02 260.39,733.56 257.69,652.98 243.88,646.95" fill="#a7fba7" stroke="#808080" stroke-width="0.35" stroke-linejoin="round"/>
<polygon points="260.39,733.56 268.75,726.31 266.57,646.16 257.69,652.98" fill="#689b68" stroke="#808080" stroke-width="0.35" stroke-linejoin="round"/>
<polygon points="243.88,646.95 257.69,652.98 266.57,646.16 252.81,640.28" fill="#8cd38c" stroke="#909090" stroke-width="0.35" stroke-linejoin="round"/>
<polygon points="231.9,740.07 245.04,746.87 241.52,669.8 227.67,663.48" fill="#bafaba" stroke="#808080" stroke-width="0.35" stroke-linejoin="round"/>
<polygon points="245.04,746.87 253.7,739.35 250.73,662.69 241.52,669.8" fill="#749b74" stroke="#808080" stroke-width="0.35" stroke-linejoin="round"/>
<polygon points="227.67,663.48 241.52,669.8 250.73,662.69 236.92,656.52" fill="#9dd29d" stroke="#909090" stroke-width="0.35" stroke-linejoin="round"/>
<polygon points="215.89,753.61 229.1,760.68 225.08,691.79 211.23,685.14" fill="#c9fac9" stroke="#808080" stroke-width="0.35" stroke-linejoin="round"/>
<polygon points="229.1,760.68 238.1,752.88 234.6,684.34 225.08,691.79" fill="#7d9b7d" stroke="#808080" stroke-width="0.35" stroke-linejoin="round"/>
<polygon points="211.23,685.14 225.08,691.79 234.6,684.34 220.79,677.85" fill="#a9d2a9" stroke="#909090" stroke-width="0.35" stroke-linejoin="round"/>
<polygon points="199.27,767.66 212.54,775.03 208.01,711.93 194.15,704.94" fill="#d8fad8" stroke="#808080" stroke-width="0.35" stroke-linejoin="round"/>
<polygon points="212.54,775.03 221.89,766.93 217.87,704.14 208.01,711.93" fill="#869b86" stroke="#808080" stroke-width="0.35" stroke-linejoin="round"/>
<polygon points="194.15,704.94 208.01,711.93 217.87,704.14 204.04,697.32" fill="#b5d2b5" stroke="#909090" stroke-width="0.35" stroke-linejoin="round"/>
<polygon points="400.27,627.7 412.91,632.41 422.87,500.25 408.98,496.41" fill="#d61206" stroke="#808080" stroke-width="0.35" stroke-linejoin="round"/>
<polygon points="412.91,632.41 418.79,627.05 429.19,495.66 422.87,500.25" fill="#850b04" stroke="#808080" stroke-width="0.35" stroke-linejoin="round"/>
<polygon points="408.98,496.41 422.87,500.25 429.19,495.66 415.36,491.9" fill="#b40f05" stroke="#909090" stroke-width="0.35" stroke-linejoin="round"/>
<polygon points="389.42,637.35 402.16,642.23 410.8,515.79 396.85,511.75" fill="#e01507" stroke="#808080" stroke-width="0.35" stroke-linejoin="round"/>
<polygon points="402.16,642.23 408.23,636.69 417.31,510.99 410.8,515.79" fill="#8b0d04" stroke="#808080" stroke-width="0.35" stroke-linejoin="round"/>
<polygon points="396.85,511.75 410.8,515.79 417.31,510.99 403.43,507.03" fill="#bc1106" stroke="#909090" stroke-width="0.35" stroke-linejoin="round"/>
<polygon points="378.22,647.31 391.06,652.36 398.57,529.16 384.54,524.91" fill="#ea1808" stroke="#808080" stroke-width="0.35" stroke-linejoin="round"/>
<polygon points="391.06,652.36 397.32,646.65 405.3,524.15 398.57,529.16" fill="#910f05" stroke="#808080" stroke-width="0.35" stroke-linejoin="round"/>
<polygon points="384.54,524.91 398.57,529.16 405.3,524.15 391.34,520" fill="#c51407" stroke="#909090" stroke-width="0.35" stroke-linejoin="round"/>
<polygon points="366.66,657.59 379.6,662.83 386,542.43 371.89,537.98" fill="#f21c0b" stroke="#808080" stroke-width="0.35" stroke-linejoin="round"/>
<polygon points="379.6,662.83 386.07,656.92 392.96,537.22 386,542.43" fill="#961107" stroke="#808080" stroke-width="0.35" stroke-linejoin="round"/>
<polygon points="371.89,537.98 386,542.43 392.96,537.22 378.91,532.87" fill="#cb1709" stroke="#909090" stroke-width="0.35" stroke-linejoin="round"/>
<polygon points="354.7,668.22 367.75,673.65 373.09,555.29 358.89,550.64" fill="#fa200f" stroke="#808080" stroke-width="0.35" stroke-linejoin="round"/>
<polygon points="367.75,673.65 374.43,667.54 380.28,549.86 373.09,555.29" fill="#9b1409" stroke="#808080" stroke-width="0.35" stroke-linejoin="round"/>
<polygon points="358.89,550.64 373.09,555.29 380.28,549.86 366.15,545.32" fill="#d21b0c" stroke="#909090" stroke-width="0.35" stroke-linejoin="round"/>
<polygon points="342.35,679.21 355.49,684.84 359.67,570.71 345.4,565.83" fill="#fb2a17" stroke="#808080" stroke-width="0.35" stroke-linejoin="round"/>
<polygon points="355.49,684.84 362.41,678.52 367.1,565.05 359.67,570.71" fill="#9c1a0e" stroke="#808080" stroke-width="0.35" stroke-linejoin="round"/>
<polygon points="345.4,565.83 359.67,570.71 367.1,565.05 352.91,560.28" fill="#d32314" stroke="#909090" stroke-width="0.35" stroke-linejoin="round"/>
<polygon points="329.57,690.57 342.81,696.41 345.89,584.95 331.54,579.84" fill="#fa3622" stroke="#808080" stroke-width="0.35" stroke-linejoin="round"/>
<polygon points="342.81,696.41 349.97,689.88 353.59,579.05 345.89,584.95" fill="#9b2115" stroke="#808080" stroke-width="0.35" stroke-linejoin="round"/>
<polygon points="331.54,579.84 345.89,584.95 353.59,579.05 339.31,574.05" fill="#d22d1d" stroke="#909090" stroke-width="0.35" stroke-linejoin="round"/>
<polygon points="316.34,702.33 329.68,708.4 331.74,595.29 317.27,589.97" fill="#fa4431" stroke="#808080" stroke-width="0.35" stroke-linejoin="round"/>
<polygon points="329.68,708.4 337.09,701.64 339.74,589.17 331.74,595.29" fill="#9b2a1f" stroke="#808080" stroke-width="0.35" stroke-linejoin="round"/>
<polygon points="317.27,589.97 331.74,595.29 339.74,589.17 325.34,583.97" fill="#d23929" stroke="#909090" stroke-width="0.35" stroke-linejoin="round"/>
<polygon points="302.64,714.52 316.08,720.82 316.85,627.35 302.48,621.64" fill="#f95544" stroke="#808080" stroke-width="0.35" stroke-linejoin="round"/>
<polygon points="316.08,720.82 323.76,713.81 325.05,620.85 316.85,627.35" fill="#9a352a" stroke="#808080" stroke-width="0.35" stroke-linejoin="round"/>
<polygon points="302.48,621.64 316.85,627.35 325.05,620.85 310.74,615.28" fill="#d14739" stroke="#909090" stroke-width="0.35" stroke-linejoin="round"/>
<polygon points="288.45,727.14 301.98,733.69 301.84,669.71 287.66,663.55" fill="#f86454" stroke="#808080" stroke-width="0.35" stroke-linejoin="round"/>
<polygon points="301.98,733.69 309.94,726.42 310.17,662.78 301.84,669.71" fill="#9a3e34" stroke="#808080" stroke-width="0.35" stroke-linejoin="round"/>
<polygon points="287.66,663.55 301.84,669.71 310.17,662.78 296.06,656.76" fill="#d05447" stroke="#909090" stroke-width="0.35" stroke-linejoin="round"/>
<polygon points="273.73,740.23 287.36,747.04 286.66,695.44 272.52,688.94" fill="#f86f60" stroke="#808080" stroke-width="0.35" stroke-linejoin="round"/>
<polygon points="287.36,747.04 295.61,739.51 295.25,688.16 286.66,695.44" fill="#9a453c" stroke="#808080" stroke-width="0.35" stroke-linejoin="round"/>
<polygon points="272.52,688.94 286.66,695.44 295.25,688.16 281.16,681.81" fill="#d05d51" stroke="#909090" stroke-width="0.35" stroke-linejoin="round"/>
<polygon points="258.46,753.81 272.18,760.9 271.2,722.32 257.09,715.45" fill="#f87a6c" stroke="#808080" stroke-width="0.35" stroke-linejoin="round"/>
<polygon points="272.18,760.9 280.75,753.08 280.04,714.68 271.2,722.32" fill="#9a4c43" stroke="#808080" stroke-width="0.35" stroke-linejoin="round"/>
<polygon points="257.09,715.45 271.2,722.32 280.04,714.68 265.98,707.97" fill="#d0665b" stroke="#909090" stroke-width="0.35" stroke-linejoin="round"/>
<polygon points="242.6,767.91 256.4,775.3 255.17,742.53 241.03,735.33" fill="#f9867a" stroke="#808080" stroke-width="0.35" stroke-linejoin="round"/>
<polygon points="256.4,775.3 265.31,767.17 264.31,734.56 255.17,742.53" fill="#9a534c" stroke="#808080" stroke-width="0.35" stroke-linejoin="round"/>
<polygon points="241.03,735.33 255.17,742.53 264.31,734.56 250.22,727.52" fill="#d17167" stroke="#909090" stroke-width="0.35" stroke-linejoin="round"/>
<polygon points="226.12,782.56 240.01,790.27 238.76,765.72 224.62,758.15" fill="#fa9288" stroke="#808080" stroke-width="0.35" stroke-linejoin="round"/>
<polygon points="240.01,790.27 249.27,781.82 248.21,757.38 238.76,765.72" fill="#9b5b54" stroke="#808080" stroke-width="0.35" stroke-linejoin="round"/>
<polygon points="224.62,758.15 238.76,765.72 248.21,757.38 234.12,749.99" fill="#d27b72" stroke="#909090" stroke-width="0.35" stroke-linejoin="round"/>
<path d="M49.39 689.09 L243.39 797.6 L427.43 627.3 L440.02 479.47" fill="none" stroke="#000" stroke-width="2.1" stroke-linejoin="miter"/>
<line x1="61.55" y1="695.9" x2="57.38" y2="698.66" stroke="#000" stroke-width="1.8" />
<text transform="translate(56.97 698.93) rotate(-31.5)" font-size="16" font-weight="bold" text-anchor="end" y="6.3">ONZ</text>
<line x1="71.98" y1="701.73" x2="69.66" y2="703.3" stroke="#000" stroke-width="1.5" />
<line x1="82.62" y1="707.68" x2="78.5" y2="710.52" stroke="#000" stroke-width="1.8" />
<text transform="translate(78.09 710.8) rotate(-31.5)" font-size="16" font-weight="bold" text-anchor="end" y="6.3">MNZ</text>
<line x1="93.48" y1="713.75" x2="91.19" y2="715.36" stroke="#000" stroke-width="1.5" />
<line x1="104.56" y1="719.95" x2="100.49" y2="722.86" stroke="#000" stroke-width="1.8" />
<text transform="translate(100.08 723.15) rotate(-31.5)" font-size="16" font-weight="bold" text-anchor="end" y="6.3">DNZ</text>
<line x1="115.87" y1="726.28" x2="113.61" y2="727.93" stroke="#000" stroke-width="1.5" />
<line x1="127.41" y1="732.74" x2="123.41" y2="735.72" stroke="#000" stroke-width="1.8" />
<text transform="translate(123.01 736.02) rotate(-31.5)" font-size="16" font-weight="bold" text-anchor="end" y="6.3">RNZ</text>
<line x1="139.21" y1="739.33" x2="136.98" y2="741.03" stroke="#000" stroke-width="1.5" />
<line x1="151.25" y1="746.07" x2="147.31" y2="749.14" stroke="#000" stroke-width="1.8" />
<text transform="translate(146.91 749.45) rotate(-31.5)" font-size="16" font-weight="bold" text-anchor="end" y="6.3">CRP</text>
<line x1="163.56" y1="752.95" x2="161.37" y2="754.7" stroke="#000" stroke-width="1.5" />
<line x1="176.13" y1="759.98" x2="172.26" y2="763.14" stroke="#000" stroke-width="1.8" />
<text transform="translate(171.87 763.46) rotate(-31.5)" font-size="16" font-weight="bold" text-anchor="end" y="6.3">FRT</text>
<line x1="188.99" y1="767.17" x2="186.84" y2="768.97" stroke="#000" stroke-width="1.5" />
<line x1="202.13" y1="774.52" x2="198.33" y2="777.78" stroke="#000" stroke-width="1.8" />
<text transform="translate(197.95 778.1) rotate(-31.5)" font-size="16" font-weight="bold" text-anchor="end" y="6.3">NTF</text>
<line x1="215.57" y1="782.04" x2="213.47" y2="783.89" stroke="#000" stroke-width="1.5" />
<line x1="229.32" y1="789.73" x2="225.61" y2="793.08" stroke="#000" stroke-width="1.8" />
<text transform="translate(225.24 793.41) rotate(-31.5)" font-size="16" font-weight="bold" text-anchor="end" y="6.3">CTC</text>
<line x1="427.43" y1="627.3" x2="434.43" y2="626.8" stroke="#000" stroke-width="1.9" />
<text transform="translate(438.7 633.2) skewY(11)" font-size="15.8" font-weight="bold" text-anchor="middle" y="5.6">0</text>
<line x1="428.59" y1="613.77" x2="432.39" y2="613.47" stroke="#000" stroke-width="1.6" />
<line x1="429.76" y1="599.98" x2="436.76" y2="599.48" stroke="#000" stroke-width="1.9" />
<text transform="translate(445.2 607.6) skewY(11)" font-size="15.8" font-weight="bold" text-anchor="middle" y="5.6">20</text>
<line x1="430.96" y1="585.93" x2="434.76" y2="585.63" stroke="#000" stroke-width="1.6" />
<line x1="432.18" y1="571.61" x2="439.18" y2="571.11" stroke="#000" stroke-width="1.9" />
<text transform="translate(448.8 578.4) skewY(11)" font-size="15.8" font-weight="bold" text-anchor="middle" y="5.6">40</text>
<line x1="433.42" y1="557" x2="437.22" y2="556.7" stroke="#000" stroke-width="1.6" />
<line x1="434.69" y1="542.11" x2="441.69" y2="541.61" stroke="#000" stroke-width="1.9" />
<text transform="translate(451.7 548.1) skewY(11)" font-size="15.8" font-weight="bold" text-anchor="middle" y="5.6">60</text>
<line x1="435.98" y1="526.92" x2="439.78" y2="526.62" stroke="#000" stroke-width="1.6" />
<line x1="437.3" y1="511.42" x2="444.3" y2="510.92" stroke="#000" stroke-width="1.9" />
<text transform="translate(454.5 517.2) skewY(11)" font-size="15.8" font-weight="bold" text-anchor="middle" y="5.6">80</text>
<line x1="438.65" y1="495.61" x2="442.45" y2="495.31" stroke="#000" stroke-width="1.6" />
<line x1="440.02" y1="479.47" x2="447.02" y2="478.97" stroke="#000" stroke-width="1.9" />
<text transform="translate(462.6 486) skewY(11)" font-size="15.8" font-weight="bold" text-anchor="middle" y="5.6">100</text>
<text transform="translate(480.6 567) rotate(-82.3)" font-size="12.75" font-weight="bold" font-style="italic" text-anchor="middle" y="4.3">Quenching Efficiency (%)</text>
<g transform="translate(333.4 751.5) rotate(-44.1)">
<text x="0" y="5.8" font-size="15.6" font-weight="bold" text-anchor="middle">0.01</text>
<line x1="20.6" y1="0" x2="58" y2="0" stroke="#000" stroke-width="1.6" />
<polygon points="65.2,0 55.5,-3.4 55.5,3.4" fill="#000" stroke="none" stroke-width="1" />
<text x="94.8" y="5.8" font-size="16.4" font-weight="bold" text-anchor="middle">1 mM</text>
</g>
<text transform="translate(490.3 446.3) scale(1.1 1)" font-size="26.3" font-weight="bold" font-style="normal" text-anchor="start" fill="#000" >d)</text>
<rect x="577.4" y="507.65" width="8" height="254.85" fill="#0000ff" stroke="#555" stroke-width="0.6" />
<line x1="581.4" y1="506.95" x2="581.4" y2="508.34" stroke="#000" stroke-width="1.3" />
<line x1="577.7" y1="506.95" x2="585.1" y2="506.95" stroke="#000" stroke-width="1.9" />
<line x1="577.7" y1="508.34" x2="585.1" y2="508.34" stroke="#000" stroke-width="1.9" />
<rect x="587.05" y="511.14" width="8" height="251.36" fill="#ff0000" stroke="#555" stroke-width="0.6" />
<line x1="591.05" y1="508.34" x2="591.05" y2="513.93" stroke="#000" stroke-width="1.3" />
<line x1="587.35" y1="508.34" x2="594.75" y2="508.34" stroke="#000" stroke-width="1.9" />
<line x1="587.35" y1="513.93" x2="594.75" y2="513.93" stroke="#000" stroke-width="1.9" />
<rect x="596.7" y="525.81" width="8" height="236.69" fill="#ff00ff" stroke="#555" stroke-width="0.6" />
<line x1="600.7" y1="519.52" x2="600.7" y2="532.09" stroke="#000" stroke-width="1.3" />
<line x1="597" y1="519.52" x2="604.4" y2="519.52" stroke="#000" stroke-width="1.9" />
<line x1="597" y1="532.09" x2="604.4" y2="532.09" stroke="#000" stroke-width="1.9" />
<rect x="606.35" y="577.5" width="8" height="185" fill="#00ff00" stroke="#555" stroke-width="0.6" />
<line x1="610.35" y1="573.31" x2="610.35" y2="581.69" stroke="#000" stroke-width="1.3" />
<line x1="606.65" y1="573.31" x2="614.05" y2="573.31" stroke="#000" stroke-width="1.9" />
<line x1="606.65" y1="581.69" x2="614.05" y2="581.69" stroke="#000" stroke-width="1.9" />
<rect x="625.25" y="488.79" width="8" height="273.71" fill="#0000ff" stroke="#555" stroke-width="0.6" />
<line x1="629.25" y1="487.67" x2="629.25" y2="489.9" stroke="#000" stroke-width="1.3" />
<line x1="625.55" y1="487.67" x2="632.95" y2="487.67" stroke="#000" stroke-width="1.9" />
<line x1="625.55" y1="489.9" x2="632.95" y2="489.9" stroke="#000" stroke-width="1.9" />
<rect x="634.9" y="535.59" width="8" height="226.91" fill="#ff0000" stroke="#555" stroke-width="0.6" />
<line x1="638.9" y1="530.7" x2="638.9" y2="540.48" stroke="#000" stroke-width="1.3" />
<line x1="635.2" y1="530.7" x2="642.6" y2="530.7" stroke="#000" stroke-width="1.9" />
<line x1="635.2" y1="540.48" x2="642.6" y2="540.48" stroke="#000" stroke-width="1.9" />
<rect x="644.55" y="577.5" width="8" height="185" fill="#ff00ff" stroke="#555" stroke-width="0.6" />
<line x1="648.55" y1="574" x2="648.55" y2="580.99" stroke="#000" stroke-width="1.3" />
<line x1="644.85" y1="574" x2="652.25" y2="574" stroke="#000" stroke-width="1.9" />
<line x1="644.85" y1="580.99" x2="652.25" y2="580.99" stroke="#000" stroke-width="1.9" />
<rect x="654.2" y="631.28" width="8" height="131.22" fill="#00ff00" stroke="#555" stroke-width="0.6" />
<line x1="658.2" y1="624.3" x2="658.2" y2="638.27" stroke="#000" stroke-width="1.3" />
<line x1="654.5" y1="624.3" x2="661.9" y2="624.3" stroke="#000" stroke-width="1.9" />
<line x1="654.5" y1="638.27" x2="661.9" y2="638.27" stroke="#000" stroke-width="1.9" />
<rect x="673.1" y="484.6" width="8" height="277.9" fill="#0000ff" stroke="#555" stroke-width="0.6" />
<line x1="677.1" y1="484.18" x2="677.1" y2="485.01" stroke="#000" stroke-width="1.3" />
<line x1="673.4" y1="484.18" x2="680.8" y2="484.18" stroke="#000" stroke-width="1.9" />
<line x1="673.4" y1="485.01" x2="680.8" y2="485.01" stroke="#000" stroke-width="1.9" />
<rect x="682.75" y="552.35" width="8" height="210.15" fill="#ff0000" stroke="#555" stroke-width="0.6" />
<line x1="686.75" y1="549.56" x2="686.75" y2="555.14" stroke="#000" stroke-width="1.3" />
<line x1="683.05" y1="549.56" x2="690.45" y2="549.56" stroke="#000" stroke-width="1.9" />
<line x1="683.05" y1="555.14" x2="690.45" y2="555.14" stroke="#000" stroke-width="1.9" />
<rect x="692.4" y="565.62" width="8" height="196.88" fill="#ff00ff" stroke="#555" stroke-width="0.6" />
<line x1="696.4" y1="564.92" x2="696.4" y2="566.32" stroke="#000" stroke-width="1.3" />
<line x1="692.7" y1="564.92" x2="700.1" y2="564.92" stroke="#000" stroke-width="1.9" />
<line x1="692.7" y1="566.32" x2="700.1" y2="566.32" stroke="#000" stroke-width="1.9" />
<rect x="702.05" y="591.47" width="8" height="171.03" fill="#00ff00" stroke="#555" stroke-width="0.6" />
<line x1="706.05" y1="587.97" x2="706.05" y2="594.96" stroke="#000" stroke-width="1.3" />
<line x1="702.35" y1="587.97" x2="709.75" y2="587.97" stroke="#000" stroke-width="1.9" />
<line x1="702.35" y1="594.96" x2="709.75" y2="594.96" stroke="#000" stroke-width="1.9" />
<rect x="720.95" y="484.6" width="8" height="277.9" fill="#0000ff" stroke="#555" stroke-width="0.6" />
<line x1="724.95" y1="484.18" x2="724.95" y2="485.01" stroke="#000" stroke-width="1.3" />
<line x1="721.25" y1="484.18" x2="728.65" y2="484.18" stroke="#000" stroke-width="1.9" />
<line x1="721.25" y1="485.01" x2="728.65" y2="485.01" stroke="#000" stroke-width="1.9" />
<rect x="730.6" y="536.28" width="8" height="226.22" fill="#ff0000" stroke="#555" stroke-width="0.6" />
<line x1="734.6" y1="532.79" x2="734.6" y2="539.78" stroke="#000" stroke-width="1.3" />
<line x1="730.9" y1="532.79" x2="738.3" y2="532.79" stroke="#000" stroke-width="1.9" />
<line x1="730.9" y1="539.78" x2="738.3" y2="539.78" stroke="#000" stroke-width="1.9" />
<rect x="740.25" y="562.83" width="8" height="199.67" fill="#ff00ff" stroke="#555" stroke-width="0.6" />
<line x1="744.25" y1="557.24" x2="744.25" y2="568.42" stroke="#000" stroke-width="1.3" />
<line x1="740.55" y1="557.24" x2="747.95" y2="557.24" stroke="#000" stroke-width="1.9" />
<line x1="740.55" y1="568.42" x2="747.95" y2="568.42" stroke="#000" stroke-width="1.9" />
<rect x="749.9" y="612.42" width="8" height="150.08" fill="#00ff00" stroke="#555" stroke-width="0.6" />
<line x1="753.9" y1="602.64" x2="753.9" y2="622.2" stroke="#000" stroke-width="1.3" />
<line x1="750.2" y1="602.64" x2="757.6" y2="602.64" stroke="#000" stroke-width="1.9" />
<line x1="750.2" y1="622.2" x2="757.6" y2="622.2" stroke="#000" stroke-width="1.9" />
<rect x="768.8" y="484.6" width="8" height="277.9" fill="#0000ff" stroke="#555" stroke-width="0.6" />
<line x1="772.8" y1="484.18" x2="772.8" y2="485.01" stroke="#000" stroke-width="1.3" />
<line x1="769.1" y1="484.18" x2="776.5" y2="484.18" stroke="#000" stroke-width="1.9" />
<line x1="769.1" y1="485.01" x2="776.5" y2="485.01" stroke="#000" stroke-width="1.9" />
<rect x="778.45" y="555.84" width="8" height="206.66" fill="#ff0000" stroke="#555" stroke-width="0.6" />
<line x1="782.45" y1="551.65" x2="782.45" y2="560.03" stroke="#000" stroke-width="1.3" />
<line x1="778.75" y1="551.65" x2="786.15" y2="551.65" stroke="#000" stroke-width="1.9" />
<line x1="778.75" y1="560.03" x2="786.15" y2="560.03" stroke="#000" stroke-width="1.9" />
<rect x="788.1" y="564.22" width="8" height="198.28" fill="#ff00ff" stroke="#555" stroke-width="0.6" />
<line x1="792.1" y1="560.03" x2="792.1" y2="568.42" stroke="#000" stroke-width="1.3" />
<line x1="788.4" y1="560.03" x2="795.8" y2="560.03" stroke="#000" stroke-width="1.9" />
<line x1="788.4" y1="568.42" x2="795.8" y2="568.42" stroke="#000" stroke-width="1.9" />
<rect x="797.75" y="606.83" width="8" height="155.67" fill="#00ff00" stroke="#555" stroke-width="0.6" />
<line x1="801.75" y1="582.39" x2="801.75" y2="631.28" stroke="#000" stroke-width="1.3" />
<line x1="798.05" y1="582.39" x2="805.45" y2="582.39" stroke="#000" stroke-width="1.9" />
<line x1="798.05" y1="631.28" x2="805.45" y2="631.28" stroke="#000" stroke-width="1.9" />
<rect x="816.65" y="490.88" width="8" height="271.62" fill="#0000ff" stroke="#555" stroke-width="0.6" />
<line x1="820.65" y1="490.18" x2="820.65" y2="491.58" stroke="#000" stroke-width="1.3" />
<line x1="816.95" y1="490.18" x2="824.35" y2="490.18" stroke="#000" stroke-width="1.9" />
<line x1="816.95" y1="491.58" x2="824.35" y2="491.58" stroke="#000" stroke-width="1.9" />
<rect x="826.3" y="562.13" width="8" height="200.37" fill="#ff0000" stroke="#555" stroke-width="0.6" />
<line x1="830.3" y1="557.24" x2="830.3" y2="567.02" stroke="#000" stroke-width="1.3" />
<line x1="826.6" y1="557.24" x2="834" y2="557.24" stroke="#000" stroke-width="1.9" />
<line x1="826.6" y1="567.02" x2="834" y2="567.02" stroke="#000" stroke-width="1.9" />
<rect x="835.95" y="577.5" width="8" height="185" fill="#ff00ff" stroke="#555" stroke-width="0.6" />
<line x1="839.95" y1="572.61" x2="839.95" y2="582.39" stroke="#000" stroke-width="1.3" />
<line x1="836.25" y1="572.61" x2="843.65" y2="572.61" stroke="#000" stroke-width="1.9" />
<line x1="836.25" y1="582.39" x2="843.65" y2="582.39" stroke="#000" stroke-width="1.9" />
<rect x="845.6" y="588.67" width="8" height="173.83" fill="#00ff00" stroke="#555" stroke-width="0.6" />
<line x1="849.6" y1="584.48" x2="849.6" y2="592.86" stroke="#000" stroke-width="1.3" />
<line x1="845.9" y1="584.48" x2="853.3" y2="584.48" stroke="#000" stroke-width="1.9" />
<line x1="845.9" y1="592.86" x2="853.3" y2="592.86" stroke="#000" stroke-width="1.9" />
<rect x="864.5" y="504.85" width="8" height="257.65" fill="#0000ff" stroke="#555" stroke-width="0.6" />
<line x1="868.5" y1="503.73" x2="868.5" y2="505.97" stroke="#000" stroke-width="1.3" />
<line x1="864.8" y1="503.73" x2="872.2" y2="503.73" stroke="#000" stroke-width="1.9" />
<line x1="864.8" y1="505.97" x2="872.2" y2="505.97" stroke="#000" stroke-width="1.9" />
<rect x="874.15" y="536.28" width="8" height="226.22" fill="#ff0000" stroke="#555" stroke-width="0.6" />
<line x1="878.15" y1="535.59" x2="878.15" y2="536.98" stroke="#000" stroke-width="1.3" />
<line x1="874.45" y1="535.59" x2="881.85" y2="535.59" stroke="#000" stroke-width="1.9" />
<line x1="874.45" y1="536.98" x2="881.85" y2="536.98" stroke="#000" stroke-width="1.9" />
<rect x="883.8" y="578.89" width="8" height="183.61" fill="#ff00ff" stroke="#555" stroke-width="0.6" />
<line x1="887.8" y1="577.5" x2="887.8" y2="580.29" stroke="#000" stroke-width="1.3" />
<line x1="884.1" y1="577.5" x2="891.5" y2="577.5" stroke="#000" stroke-width="1.9" />
<line x1="884.1" y1="580.29" x2="891.5" y2="580.29" stroke="#000" stroke-width="1.9" />
<rect x="893.45" y="623.6" width="8" height="138.9" fill="#00ff00" stroke="#555" stroke-width="0.6" />
<line x1="897.45" y1="622.48" x2="897.45" y2="624.71" stroke="#000" stroke-width="1.3" />
<line x1="893.75" y1="622.48" x2="901.15" y2="622.48" stroke="#000" stroke-width="1.9" />
<line x1="893.75" y1="624.71" x2="901.15" y2="624.71" stroke="#000" stroke-width="1.9" />
<rect x="912.35" y="564.92" width="8" height="197.58" fill="#0000ff" stroke="#555" stroke-width="0.6" />
<line x1="916.35" y1="563.53" x2="916.35" y2="566.32" stroke="#000" stroke-width="1.3" />
<line x1="912.65" y1="563.53" x2="920.05" y2="563.53" stroke="#000" stroke-width="1.9" />
<line x1="912.65" y1="566.32" x2="920.05" y2="566.32" stroke="#000" stroke-width="1.9" />
<rect x="922" y="560.03" width="8" height="202.47" fill="#ff0000" stroke="#555" stroke-width="0.6" />
<line x1="926" y1="555.84" x2="926" y2="564.22" stroke="#000" stroke-width="1.3" />
<line x1="922.3" y1="555.84" x2="929.7" y2="555.84" stroke="#000" stroke-width="1.9" />
<line x1="922.3" y1="564.22" x2="929.7" y2="564.22" stroke="#000" stroke-width="1.9" />
<rect x="931.65" y="591.47" width="8" height="171.03" fill="#ff00ff" stroke="#555" stroke-width="0.6" />
<line x1="935.65" y1="590.07" x2="935.65" y2="592.86" stroke="#000" stroke-width="1.3" />
<line x1="931.95" y1="590.07" x2="939.35" y2="590.07" stroke="#000" stroke-width="1.9" />
<line x1="931.95" y1="592.86" x2="939.35" y2="592.86" stroke="#000" stroke-width="1.9" />
<rect x="941.3" y="625.69" width="8" height="136.81" fill="#00ff00" stroke="#555" stroke-width="0.6" />
<line x1="945.3" y1="617.31" x2="945.3" y2="634.07" stroke="#000" stroke-width="1.3" />
<line x1="941.6" y1="617.31" x2="949" y2="617.31" stroke="#000" stroke-width="1.9" />
<line x1="941.6" y1="634.07" x2="949" y2="634.07" stroke="#000" stroke-width="1.9" />
<rect x="572" y="454.5" width="382.5" height="308" fill="none" stroke="#000" stroke-width="2" />
<line x1="565" y1="761.9" x2="572" y2="761.9" stroke="#000" stroke-width="2" />
<text x="561.5" y="768" font-size="17" font-weight="bold" font-style="normal" text-anchor="end" fill="#000" >80</text>
<line x1="565" y1="692.05" x2="572" y2="692.05" stroke="#000" stroke-width="2" />
<text x="561.5" y="698.15" font-size="17" font-weight="bold" font-style="normal" text-anchor="end" fill="#000" >85</text>
<line x1="565" y1="622.2" x2="572" y2="622.2" stroke="#000" stroke-width="2" />
<text x="561.5" y="628.3" font-size="17" font-weight="bold" font-style="normal" text-anchor="end" fill="#000" >90</text>
<line x1="565" y1="552.35" x2="572" y2="552.35" stroke="#000" stroke-width="2" />
<text x="561.5" y="558.45" font-size="17" font-weight="bold" font-style="normal" text-anchor="end" fill="#000" >95</text>
<line x1="565" y1="482.5" x2="572" y2="482.5" stroke="#000" stroke-width="2" />
<text x="561.5" y="488.6" font-size="17" font-weight="bold" font-style="normal" text-anchor="end" fill="#000" >100</text>
<line x1="568.5" y1="726.98" x2="572" y2="726.98" stroke="#000" stroke-width="2" />
<line x1="568.5" y1="657.12" x2="572" y2="657.12" stroke="#000" stroke-width="2" />
<line x1="568.5" y1="587.27" x2="572" y2="587.27" stroke="#000" stroke-width="2" />
<line x1="568.5" y1="517.42" x2="572" y2="517.42" stroke="#000" stroke-width="2" />
<text x="595.88" y="784.3" font-size="15.5" font-weight="bold" font-style="normal" text-anchor="middle" fill="#000" >NTF</text>
<text x="643.73" y="784.3" font-size="15.5" font-weight="bold" font-style="normal" text-anchor="middle" fill="#000" >RNZ</text>
<text x="691.58" y="784.3" font-size="15.5" font-weight="bold" font-style="normal" text-anchor="middle" fill="#000" >MNZ</text>
<text x="739.43" y="784.3" font-size="15.5" font-weight="bold" font-style="normal" text-anchor="middle" fill="#000" >DNZ</text>
<text x="787.27" y="784.3" font-size="15.5" font-weight="bold" font-style="normal" text-anchor="middle" fill="#000" >ONZ</text>
<text x="835.12" y="784.3" font-size="15.5" font-weight="bold" font-style="normal" text-anchor="middle" fill="#000" >CRP</text>
<text x="882.98" y="784.3" font-size="15.5" font-weight="bold" font-style="normal" text-anchor="middle" fill="#000" >CTC</text>
<text x="930.82" y="784.3" font-size="15.5" font-weight="bold" font-style="normal" text-anchor="middle" fill="#000" >FRT</text>
<text x="532.5" y="608" font-size="16" font-weight="bold" font-style="normal" text-anchor="middle" fill="#000" transform="rotate(-90 532.5 608)" >Quenching Efficiency (%)</text>
<rect x="765" y="462.6" width="22.4" height="11" fill="#0000ff" stroke="#444" stroke-width="0.7" />
<text x="791" y="472.1" font-size="10.5" font-weight="bold" font-style="normal" text-anchor="start" fill="#000" >0</text>
<rect x="813" y="462.6" width="22.4" height="11" fill="#ff0000" stroke="#444" stroke-width="0.7" />
<text x="839" y="472.1" font-size="10.5" font-weight="bold" font-style="normal" text-anchor="start" fill="#000" >1</text>
<rect x="856.8" y="462.6" width="22.4" height="11" fill="#ff00ff" stroke="#444" stroke-width="0.7" />
<text x="882.8" y="472.1" font-size="10.5" font-weight="bold" font-style="normal" text-anchor="start" fill="#000" >2</text>
<rect x="900.2" y="462.6" width="22.4" height="11" fill="#00ff00" stroke="#444" stroke-width="0.7" />
<text x="926.2" y="472.1" font-size="10.5" font-weight="bold" font-style="normal" text-anchor="start" fill="#000" >3</text>
<g clip-path="url(#clipE)">
<path d="M82 1157.8 L84.9 1157.8 L87.8 1157.8 L90.8 1157.7 L93.7 1157.6 L96.6 1157.5 L99.6 1157.4 L102.5 1157.3 L105.5 1157.1 L108.4 1157 L111.3 1156.8 L114.3 1156.6 L117.2 1156.4 L120.1 1156.2 L123.1 1156 L126 1155.7 L128.9 1155.4 L131.9 1155.1 L134.8 1154.7 L137.7 1154.3 L140.7 1153.7 L143.6 1153.1 L146.5 1152.4 L149.5 1151.7 L152.4 1150.8 L155.4 1149.8 L158.3 1148.7 L161.2 1147.4 L164.2 1146 L167.1 1144.5 L170 1142.9 L173 1141.2 L175.9 1139.5 L178.8 1137.8 L181.8 1136.1 L184.7 1134.3 L187.6 1132.4 L190.6 1130.6 L193.5 1128.7 L196.4 1127 L199.4 1125.3 L202.3 1123.7 L205.2 1122.3 L208.2 1120.9 L211.1 1119.6 L214 1118.6 L217 1117.7 L219.9 1116.9 L222.9 1116.3 L225.8 1115.8 L228.7 1115.5 L231.7 1115.3 L234.6 1115.3 L237.5 1115.6 L240.5 1116 L243.4 1116.5 L246.3 1117.2 L249.3 1117.9 L252.2 1118.7 L255.1 1119.7 L258.1 1120.7 L261 1121.8 L263.9 1123.1 L266.9 1124.4 L269.8 1125.8 L272.8 1127.2 L275.7 1128.6 L278.6 1130 L281.6 1131.3 L284.5 1132.7 L287.4 1134.1 L290.4 1135.4 L293.3 1136.8 L296.2 1138.2 L299.2 1139.6 L302.1 1140.9 L305 1142.2 L308 1143.3 L310.9 1144.5 L313.8 1145.5 L316.8 1146.5 L319.7 1147.5 L322.6 1148.5 L325.6 1149.4 L328.5 1150.2 L331.5 1151 L334.4 1151.7 L337.3 1152.3 L340.3 1152.9 L343.2 1153.4 L346.1 1154 L349.1 1154.4 L352 1154.9 L354.9 1155.3 L357.9 1155.7 L360.8 1156 L363.7 1156.3 L366.7 1156.6 L369.6 1156.9 L372.5 1157.1 L375.5 1157.3 L378.4 1157.5 L381.3 1157.7 L384.3 1157.9 L387.2 1158.1 L390.2 1158.3 L393.1 1158.4 L396 1158.6 L399 1158.7 L401.9 1158.9 L404.8 1159 L407.8 1159.2 L410.7 1159.3 L413.6 1159.5 L416.6 1159.6 L419.5 1159.8 L422.4 1159.9 L425.4 1160 L428.3 1160.2 L431.2 1160.3 L434.2 1160.4 L437.1 1160.6 L440 1160.7 L443 1160.8 L445.9 1160.9 L448.8 1161 L451.8 1161.2 L454.7 1161.3 L457.7 1161.4 L460.6 1161.4 L463.5 1161.5" fill="none" stroke="#d0fffd" stroke-width="1.75" stroke-linejoin="round"/>
<path d="M82 1157.8 L84.9 1157.8 L87.8 1157.7 L90.8 1157.6 L93.7 1157.6 L96.6 1157.5 L99.6 1157.3 L102.5 1157.2 L105.5 1157.1 L108.4 1156.9 L111.3 1156.7 L114.3 1156.5 L117.2 1156.3 L120.1 1156.1 L123.1 1155.8 L126 1155.6 L128.9 1155.3 L131.9 1154.9 L134.8 1154.5 L137.7 1153.9 L140.7 1153.3 L143.6 1152.6 L146.5 1151.8 L149.5 1150.9 L152.4 1149.9 L155.4 1148.8 L158.3 1147.5 L161.2 1146 L164.2 1144.4 L167.1 1142.6 L170 1140.8 L173 1138.9 L175.9 1137.1 L178.8 1135.2 L181.8 1133.2 L184.7 1131.3 L187.6 1129.3 L190.6 1127.3 L193.5 1125.3 L196.4 1123.5 L199.4 1121.7 L202.3 1120 L205.2 1118.5 L208.2 1117.1 L211.1 1115.9 L214 1114.8 L217 1113.9 L219.9 1113.2 L222.9 1112.6 L225.8 1112.2 L228.7 1112 L231.7 1111.9 L234.6 1112 L237.5 1112.4 L240.5 1112.9 L243.4 1113.6 L246.3 1114.4 L249.3 1115.2 L252.2 1116.2 L255.1 1117.2 L258.1 1118.4 L261 1119.7 L263.9 1121.1 L266.9 1122.5 L269.8 1124 L272.8 1125.6 L275.7 1127.1 L278.6 1128.6 L281.6 1130 L284.5 1131.5 L287.4 1133 L290.4 1134.4 L293.3 1135.9 L296.2 1137.4 L299.2 1138.8 L302.1 1140.2 L305 1141.5 L308 1142.8 L310.9 1143.9 L313.8 1145 L316.8 1146.1 L319.7 1147.1 L322.6 1148.1 L325.6 1149 L328.5 1149.9 L331.5 1150.7 L334.4 1151.4 L337.3 1152.1 L340.3 1152.7 L343.2 1153.2 L346.1 1153.8 L349.1 1154.3 L352 1154.7 L354.9 1155.2 L357.9 1155.5 L360.8 1155.9 L363.7 1156.2 L366.7 1156.5 L369.6 1156.8 L372.5 1157 L375.5 1157.2 L378.4 1157.5 L381.3 1157.7 L384.3 1157.9 L387.2 1158 L390.2 1158.2 L393.1 1158.4 L396 1158.6 L399 1158.7 L401.9 1158.9 L404.8 1159 L407.8 1159.2 L410.7 1159.3 L413.6 1159.5 L416.6 1159.6 L419.5 1159.7 L422.4 1159.9 L425.4 1160 L428.3 1160.2 L431.2 1160.3 L434.2 1160.4 L437.1 1160.6 L440 1160.7 L443 1160.8 L445.9 1160.9 L448.8 1161 L451.8 1161.2 L454.7 1161.3 L457.7 1161.4 L460.6 1161.4 L463.5 1161.5" fill="none" stroke="#c4fefc" stroke-width="1.75" stroke-linejoin="round"/>
<path d="M82 1157.7 L84.9 1157.7 L87.8 1157.7 L90.8 1157.6 L93.7 1157.5 L96.6 1157.4 L99.6 1157.2 L102.5 1157.1 L105.5 1156.9 L108.4 1156.8 L111.3 1156.6 L114.3 1156.4 L117.2 1156.1 L120.1 1155.9 L123.1 1155.6 L126 1155.3 L128.9 1155 L131.9 1154.6 L134.8 1154.1 L137.7 1153.5 L140.7 1152.8 L143.6 1152 L146.5 1151.1 L149.5 1150 L152.4 1148.8 L155.4 1147.4 L158.3 1145.8 L161.2 1144.1 L164.2 1142.2 L167.1 1140.2 L170 1138.1 L173 1135.9 L175.9 1133.8 L178.8 1131.7 L181.8 1129.5 L184.7 1127.3 L187.6 1125.1 L190.6 1122.9 L193.5 1120.8 L196.4 1118.8 L199.4 1116.9 L202.3 1115.2 L205.2 1113.6 L208.2 1112.1 L211.1 1110.9 L214 1109.8 L217 1109 L219.9 1108.3 L222.9 1107.8 L225.8 1107.5 L228.7 1107.3 L231.7 1107.4 L234.6 1107.6 L237.5 1108.1 L240.5 1108.8 L243.4 1109.6 L246.3 1110.6 L249.3 1111.6 L252.2 1112.8 L255.1 1114 L258.1 1115.4 L261 1116.9 L263.9 1118.4 L266.9 1120.1 L269.8 1121.7 L272.8 1123.4 L275.7 1125.1 L278.6 1126.7 L281.6 1128.4 L284.5 1129.9 L287.4 1131.5 L290.4 1133.1 L293.3 1134.7 L296.2 1136.3 L299.2 1137.8 L302.1 1139.3 L305 1140.7 L308 1142 L310.9 1143.2 L313.8 1144.4 L316.8 1145.5 L319.7 1146.6 L322.6 1147.6 L325.6 1148.5 L328.5 1149.4 L331.5 1150.3 L334.4 1151 L337.3 1151.7 L340.3 1152.4 L343.2 1153 L346.1 1153.5 L349.1 1154 L352 1154.5 L354.9 1155 L357.9 1155.4 L360.8 1155.7 L363.7 1156.1 L366.7 1156.4 L369.6 1156.6 L372.5 1156.9 L375.5 1157.1 L378.4 1157.4 L381.3 1157.6 L384.3 1157.8 L387.2 1158 L390.2 1158.2 L393.1 1158.3 L396 1158.5 L399 1158.7 L401.9 1158.8 L404.8 1159 L407.8 1159.1 L410.7 1159.3 L413.6 1159.4 L416.6 1159.6 L419.5 1159.7 L422.4 1159.9 L425.4 1160 L428.3 1160.1 L431.2 1160.3 L434.2 1160.4 L437.1 1160.5 L440 1160.7 L443 1160.8 L445.9 1160.9 L448.8 1161 L451.8 1161.1 L454.7 1161.3 L457.7 1161.4 L460.6 1161.4 L463.5 1161.5" fill="none" stroke="#b8fdfa" stroke-width="1.75" stroke-linejoin="round"/>
<path d="M82 1157.7 L84.9 1157.7 L87.8 1157.6 L90.8 1157.5 L93.7 1157.4 L96.6 1157.3 L99.6 1157.1 L102.5 1157 L105.5 1156.8 L108.4 1156.6 L111.3 1156.4 L114.3 1156.2 L117.2 1155.9 L120.1 1155.7 L123.1 1155.4 L126 1155.1 L128.9 1154.7 L131.9 1154.3 L134.8 1153.7 L137.7 1153 L140.7 1152.2 L143.6 1151.2 L146.5 1150.1 L149.5 1148.8 L152.4 1147.3 L155.4 1145.7 L158.3 1143.8 L161.2 1141.7 L164.2 1139.5 L167.1 1137.1 L170 1134.7 L173 1132.2 L175.9 1129.7 L178.8 1127.3 L181.8 1124.8 L184.7 1122.4 L187.6 1119.9 L190.6 1117.5 L193.5 1115.2 L196.4 1113 L199.4 1110.9 L202.3 1109.1 L205.2 1107.4 L208.2 1105.9 L211.1 1104.7 L214 1103.6 L217 1102.8 L219.9 1102.2 L222.9 1101.8 L225.8 1101.6 L228.7 1101.5 L231.7 1101.7 L234.6 1102.1 L237.5 1102.8 L240.5 1103.7 L243.4 1104.7 L246.3 1105.9 L249.3 1107.2 L252.2 1108.5 L255.1 1110 L258.1 1111.6 L261 1113.3 L263.9 1115.1 L266.9 1117 L269.8 1118.9 L272.8 1120.7 L275.7 1122.6 L278.6 1124.4 L281.6 1126.2 L284.5 1128 L287.4 1129.8 L290.4 1131.5 L293.3 1133.2 L296.2 1134.9 L299.2 1136.6 L302.1 1138.1 L305 1139.6 L308 1141 L310.9 1142.3 L313.8 1143.6 L316.8 1144.8 L319.7 1145.9 L322.6 1147 L325.6 1148 L328.5 1148.9 L331.5 1149.8 L334.4 1150.6 L337.3 1151.3 L340.3 1152 L343.2 1152.6 L346.1 1153.2 L349.1 1153.7 L352 1154.3 L354.9 1154.7 L357.9 1155.2 L360.8 1155.5 L363.7 1155.9 L366.7 1156.2 L369.6 1156.5 L372.5 1156.8 L375.5 1157 L378.4 1157.3 L381.3 1157.5 L384.3 1157.7 L387.2 1157.9 L390.2 1158.1 L393.1 1158.3 L396 1158.5 L399 1158.6 L401.9 1158.8 L404.8 1158.9 L407.8 1159.1 L410.7 1159.2 L413.6 1159.4 L416.6 1159.5 L419.5 1159.7 L422.4 1159.8 L425.4 1160 L428.3 1160.1 L431.2 1160.3 L434.2 1160.4 L437.1 1160.5 L440 1160.7 L443 1160.8 L445.9 1160.9 L448.8 1161 L451.8 1161.1 L454.7 1161.2 L457.7 1161.3 L460.6 1161.4 L463.5 1161.5" fill="none" stroke="#abfcf9" stroke-width="1.75" stroke-linejoin="round"/>
<path d="M82 1157.7 L84.9 1157.6 L87.8 1157.5 L90.8 1157.4 L93.7 1157.3 L96.6 1157.2 L99.6 1157 L102.5 1156.8 L105.5 1156.6 L108.4 1156.4 L111.3 1156.2 L114.3 1156 L117.2 1155.7 L120.1 1155.5 L123.1 1155.1 L126 1154.8 L128.9 1154.4 L131.9 1153.9 L134.8 1153.3 L137.7 1152.5 L140.7 1151.6 L143.6 1150.5 L146.5 1149.1 L149.5 1147.6 L152.4 1145.9 L155.4 1143.9 L158.3 1141.7 L161.2 1139.3 L164.2 1136.7 L167.1 1134 L170 1131.3 L173 1128.5 L175.9 1125.7 L178.8 1122.9 L181.8 1120.2 L184.7 1117.4 L187.6 1114.7 L190.6 1112.1 L193.5 1109.5 L196.4 1107.1 L199.4 1105 L202.3 1103 L205.2 1101.3 L208.2 1099.7 L211.1 1098.5 L214 1097.5 L217 1096.7 L219.9 1096.1 L222.9 1095.8 L225.8 1095.7 L228.7 1095.7 L231.7 1096.1 L234.6 1096.7 L237.5 1097.5 L240.5 1098.6 L243.4 1099.8 L246.3 1101.2 L249.3 1102.7 L252.2 1104.3 L255.1 1106 L258.1 1107.9 L261 1109.8 L263.9 1111.8 L266.9 1113.9 L269.8 1116 L272.8 1118.1 L275.7 1120.1 L278.6 1122.2 L281.6 1124.1 L284.5 1126.1 L287.4 1128 L290.4 1129.9 L293.3 1131.7 L296.2 1133.5 L299.2 1135.3 L302.1 1137 L305 1138.6 L308 1140.1 L310.9 1141.5 L313.8 1142.8 L316.8 1144 L319.7 1145.2 L322.6 1146.3 L325.6 1147.4 L328.5 1148.4 L331.5 1149.3 L334.4 1150.1 L337.3 1150.9 L340.3 1151.6 L343.2 1152.3 L346.1 1152.9 L349.1 1153.5 L352 1154 L354.9 1154.5 L357.9 1154.9 L360.8 1155.3 L363.7 1155.7 L366.7 1156 L369.6 1156.3 L372.5 1156.6 L375.5 1156.9 L378.4 1157.1 L381.3 1157.4 L384.3 1157.6 L387.2 1157.8 L390.2 1158 L393.1 1158.2 L396 1158.4 L399 1158.6 L401.9 1158.7 L404.8 1158.9 L407.8 1159 L410.7 1159.2 L413.6 1159.4 L416.6 1159.5 L419.5 1159.7 L422.4 1159.8 L425.4 1159.9 L428.3 1160.1 L431.2 1160.2 L434.2 1160.4 L437.1 1160.5 L440 1160.6 L443 1160.8 L445.9 1160.9 L448.8 1161 L451.8 1161.1 L454.7 1161.2 L457.7 1161.3 L460.6 1161.4 L463.5 1161.5" fill="none" stroke="#9ffaf8" stroke-width="1.75" stroke-linejoin="round"/>
<path d="M82 1157.6 L84.9 1157.6 L87.8 1157.5 L90.8 1157.4 L93.7 1157.3 L96.6 1157.1 L99.6 1156.9 L102.5 1156.8 L105.5 1156.6 L108.4 1156.3 L111.3 1156.1 L114.3 1155.9 L117.2 1155.6 L120.1 1155.3 L123.1 1155 L126 1154.6 L128.9 1154.2 L131.9 1153.7 L134.8 1153 L137.7 1152.2 L140.7 1151.2 L143.6 1150 L146.5 1148.6 L149.5 1146.9 L152.4 1145 L155.4 1142.9 L158.3 1140.5 L161.2 1137.9 L164.2 1135.1 L167.1 1132.2 L170 1129.3 L173 1126.3 L175.9 1123.3 L178.8 1120.3 L181.8 1117.4 L184.7 1114.5 L187.6 1111.7 L190.6 1108.9 L193.5 1106.2 L196.4 1103.7 L199.4 1101.4 L202.3 1099.4 L205.2 1097.6 L208.2 1096.1 L211.1 1094.8 L214 1093.8 L217 1093.1 L219.9 1092.6 L222.9 1092.3 L225.8 1092.2 L228.7 1092.3 L231.7 1092.8 L234.6 1093.4 L237.5 1094.4 L240.5 1095.6 L243.4 1096.9 L246.3 1098.5 L249.3 1100.1 L252.2 1101.8 L255.1 1103.7 L258.1 1105.6 L261 1107.7 L263.9 1109.9 L266.9 1112.1 L269.8 1114.3 L272.8 1116.5 L275.7 1118.7 L278.6 1120.8 L281.6 1122.9 L284.5 1124.9 L287.4 1126.9 L290.4 1128.9 L293.3 1130.8 L296.2 1132.7 L299.2 1134.6 L302.1 1136.3 L305 1138 L308 1139.5 L310.9 1141 L313.8 1142.3 L316.8 1143.6 L319.7 1144.8 L322.6 1146 L325.6 1147.1 L328.5 1148.1 L331.5 1149 L334.4 1149.9 L337.3 1150.7 L340.3 1151.4 L343.2 1152.1 L346.1 1152.7 L349.1 1153.3 L352 1153.8 L354.9 1154.3 L357.9 1154.8 L360.8 1155.2 L363.7 1155.6 L366.7 1155.9 L369.6 1156.3 L372.5 1156.5 L375.5 1156.8 L378.4 1157.1 L381.3 1157.3 L384.3 1157.6 L387.2 1157.8 L390.2 1158 L393.1 1158.2 L396 1158.4 L399 1158.5 L401.9 1158.7 L404.8 1158.9 L407.8 1159 L410.7 1159.2 L413.6 1159.3 L416.6 1159.5 L419.5 1159.6 L422.4 1159.8 L425.4 1159.9 L428.3 1160.1 L431.2 1160.2 L434.2 1160.4 L437.1 1160.5 L440 1160.6 L443 1160.8 L445.9 1160.9 L448.8 1161 L451.8 1161.1 L454.7 1161.2 L457.7 1161.3 L460.6 1161.4 L463.5 1161.5" fill="none" stroke="#93f9f6" stroke-width="1.75" stroke-linejoin="round"/>
<path d="M82 1157.6 L84.9 1157.5 L87.8 1157.4 L90.8 1157.3 L93.7 1157.1 L96.6 1157 L99.6 1156.8 L102.5 1156.6 L105.5 1156.3 L108.4 1156.1 L111.3 1155.9 L114.3 1155.6 L117.2 1155.3 L120.1 1155 L123.1 1154.7 L126 1154.3 L128.9 1153.8 L131.9 1153.2 L134.8 1152.4 L137.7 1151.5 L140.7 1150.3 L143.6 1148.9 L146.5 1147.2 L149.5 1145.2 L152.4 1143 L155.4 1140.4 L158.3 1137.6 L161.2 1134.6 L164.2 1131.3 L167.1 1127.9 L170 1124.5 L173 1121 L175.9 1117.6 L178.8 1114.2 L181.8 1110.8 L184.7 1107.6 L187.6 1104.3 L190.6 1101.2 L193.5 1098.3 L196.4 1095.5 L199.4 1093 L202.3 1090.8 L205.2 1088.9 L208.2 1087.3 L211.1 1086.1 L214 1085.1 L217 1084.4 L219.9 1084 L222.9 1083.8 L225.8 1083.9 L228.7 1084.2 L231.7 1084.8 L234.6 1085.7 L237.5 1086.9 L240.5 1088.4 L243.4 1090 L246.3 1091.9 L249.3 1093.8 L252.2 1095.9 L255.1 1098 L258.1 1100.3 L261 1102.7 L263.9 1105.2 L266.9 1107.7 L269.8 1110.3 L272.8 1112.8 L275.7 1115.2 L278.6 1117.6 L281.6 1119.9 L284.5 1122.2 L287.4 1124.4 L290.4 1126.6 L293.3 1128.7 L296.2 1130.8 L299.2 1132.8 L302.1 1134.7 L305 1136.5 L308 1138.2 L310.9 1139.7 L313.8 1141.2 L316.8 1142.6 L319.7 1143.9 L322.6 1145.1 L325.6 1146.2 L328.5 1147.3 L331.5 1148.3 L334.4 1149.2 L337.3 1150.1 L340.3 1150.9 L343.2 1151.6 L346.1 1152.3 L349.1 1152.9 L352 1153.5 L354.9 1154 L357.9 1154.5 L360.8 1154.9 L363.7 1155.3 L366.7 1155.7 L369.6 1156 L372.5 1156.4 L375.5 1156.6 L378.4 1156.9 L381.3 1157.2 L384.3 1157.4 L387.2 1157.7 L390.2 1157.9 L393.1 1158.1 L396 1158.3 L399 1158.5 L401.9 1158.6 L404.8 1158.8 L407.8 1159 L410.7 1159.1 L413.6 1159.3 L416.6 1159.4 L419.5 1159.6 L422.4 1159.7 L425.4 1159.9 L428.3 1160 L431.2 1160.2 L434.2 1160.3 L437.1 1160.5 L440 1160.6 L443 1160.7 L445.9 1160.9 L448.8 1161 L451.8 1161.1 L454.7 1161.2 L457.7 1161.3 L460.6 1161.4 L463.5 1161.5" fill="none" stroke="#86f8f5" stroke-width="1.75" stroke-linejoin="round"/>
<path d="M82 1157.5 L84.9 1157.5 L87.8 1157.3 L90.8 1157.2 L93.7 1157 L96.6 1156.9 L99.6 1156.7 L102.5 1156.5 L105.5 1156.2 L108.4 1156 L111.3 1155.7 L114.3 1155.5 L117.2 1155.2 L120.1 1154.8 L123.1 1154.5 L126 1154 L128.9 1153.5 L131.9 1152.9 L134.8 1152.1 L137.7 1151.1 L140.7 1149.8 L143.6 1148.3 L146.5 1146.5 L149.5 1144.3 L152.4 1141.9 L155.4 1139.1 L158.3 1136 L161.2 1132.7 L164.2 1129.2 L167.1 1125.5 L170 1121.8 L173 1118.1 L175.9 1114.4 L178.8 1110.7 L181.8 1107.2 L184.7 1103.7 L187.6 1100.3 L190.6 1097 L193.5 1093.8 L196.4 1090.9 L199.4 1088.3 L202.3 1086 L205.2 1084.1 L208.2 1082.5 L211.1 1081.2 L214 1080.2 L217 1079.6 L219.9 1079.2 L222.9 1079.1 L225.8 1079.2 L228.7 1079.6 L231.7 1080.4 L234.6 1081.4 L237.5 1082.7 L240.5 1084.4 L243.4 1086.2 L246.3 1088.2 L249.3 1090.3 L252.2 1092.5 L255.1 1094.9 L258.1 1097.4 L261 1100 L263.9 1102.6 L266.9 1105.3 L269.8 1108 L272.8 1110.7 L275.7 1113.3 L278.6 1115.8 L281.6 1118.3 L284.5 1120.6 L287.4 1123 L290.4 1125.3 L293.3 1127.5 L296.2 1129.7 L299.2 1131.8 L302.1 1133.8 L305 1135.7 L308 1137.4 L310.9 1139 L313.8 1140.5 L316.8 1142 L319.7 1143.3 L322.6 1144.6 L325.6 1145.8 L328.5 1146.9 L331.5 1147.9 L334.4 1148.9 L337.3 1149.8 L340.3 1150.6 L343.2 1151.3 L346.1 1152 L349.1 1152.7 L352 1153.3 L354.9 1153.8 L357.9 1154.3 L360.8 1154.8 L363.7 1155.2 L366.7 1155.6 L369.6 1155.9 L372.5 1156.2 L375.5 1156.6 L378.4 1156.8 L381.3 1157.1 L384.3 1157.4 L387.2 1157.6 L390.2 1157.8 L393.1 1158 L396 1158.2 L399 1158.4 L401.9 1158.6 L404.8 1158.8 L407.8 1158.9 L410.7 1159.1 L413.6 1159.3 L416.6 1159.4 L419.5 1159.6 L422.4 1159.7 L425.4 1159.9 L428.3 1160 L431.2 1160.2 L434.2 1160.3 L437.1 1160.5 L440 1160.6 L443 1160.7 L445.9 1160.9 L448.8 1161 L451.8 1161.1 L454.7 1161.2 L457.7 1161.3 L460.6 1161.4 L463.5 1161.5" fill="none" stroke="#7af7f3" stroke-width="1.75" stroke-linejoin="round"/>
<path d="M82 1157.5 L84.9 1157.4 L87.8 1157.2 L90.8 1157.1 L93.7 1156.9 L96.6 1156.7 L99.6 1156.5 L102.5 1156.3 L105.5 1156 L108.4 1155.8 L111.3 1155.5 L114.3 1155.2 L117.2 1154.9 L120.1 1154.5 L123.1 1154.1 L126 1153.7 L128.9 1153.1 L131.9 1152.4 L134.8 1151.5 L137.7 1150.3 L140.7 1148.9 L143.6 1147.2 L146.5 1145.1 L149.5 1142.6 L152.4 1139.8 L155.4 1136.6 L158.3 1133.1 L161.2 1129.3 L164.2 1125.3 L167.1 1121.2 L170 1117 L173 1112.8 L175.9 1108.7 L178.8 1104.6 L181.8 1100.6 L184.7 1096.7 L187.6 1092.9 L190.6 1089.3 L193.5 1085.9 L196.4 1082.7 L199.4 1079.9 L202.3 1077.5 L205.2 1075.4 L208.2 1073.7 L211.1 1072.4 L214 1071.5 L217 1070.9 L219.9 1070.6 L222.9 1070.6 L225.8 1070.9 L228.7 1071.5 L231.7 1072.4 L234.6 1073.7 L237.5 1075.3 L240.5 1077.2 L243.4 1079.3 L246.3 1081.6 L249.3 1084 L252.2 1086.6 L255.1 1089.3 L258.1 1092.1 L261 1095 L263.9 1098 L266.9 1101 L269.8 1104 L272.8 1106.9 L275.7 1109.8 L278.6 1112.6 L281.6 1115.3 L284.5 1117.9 L287.4 1120.5 L290.4 1123 L293.3 1125.4 L296.2 1127.8 L299.2 1130 L302.1 1132.2 L305 1134.2 L308 1136.1 L310.9 1137.8 L313.8 1139.4 L316.8 1140.9 L319.7 1142.4 L322.6 1143.7 L325.6 1145 L328.5 1146.2 L331.5 1147.2 L334.4 1148.3 L337.3 1149.2 L340.3 1150 L343.2 1150.8 L346.1 1151.6 L349.1 1152.3 L352 1152.9 L354.9 1153.5 L357.9 1154 L360.8 1154.5 L363.7 1154.9 L366.7 1155.3 L369.6 1155.7 L372.5 1156.1 L375.5 1156.4 L378.4 1156.7 L381.3 1157 L384.3 1157.2 L387.2 1157.5 L390.2 1157.7 L393.1 1157.9 L396 1158.1 L399 1158.3 L401.9 1158.5 L404.8 1158.7 L407.8 1158.9 L410.7 1159 L413.6 1159.2 L416.6 1159.4 L419.5 1159.5 L422.4 1159.7 L425.4 1159.8 L428.3 1160 L431.2 1160.1 L434.2 1160.3 L437.1 1160.4 L440 1160.6 L443 1160.7 L445.9 1160.8 L448.8 1161 L451.8 1161.1 L454.7 1161.2 L457.7 1161.3 L460.6 1161.4 L463.5 1161.5" fill="none" stroke="#6ef6f2" stroke-width="1.75" stroke-linejoin="round"/>
<path d="M82 1157.4 L84.9 1157.3 L87.8 1157.1 L90.8 1157 L93.7 1156.8 L96.6 1156.5 L99.6 1156.3 L102.5 1156.1 L105.5 1155.8 L108.4 1155.5 L111.3 1155.2 L114.3 1154.9 L117.2 1154.6 L120.1 1154.2 L123.1 1153.7 L126 1153.2 L128.9 1152.6 L131.9 1151.8 L134.8 1150.8 L137.7 1149.5 L140.7 1147.9 L143.6 1146 L146.5 1143.6 L149.5 1140.8 L152.4 1137.5 L155.4 1133.9 L158.3 1129.9 L161.2 1125.6 L164.2 1121 L167.1 1116.3 L170 1111.6 L173 1106.9 L175.9 1102.2 L178.8 1097.6 L181.8 1093.2 L184.7 1088.9 L187.6 1084.7 L190.6 1080.7 L193.5 1076.9 L196.4 1073.5 L199.4 1070.4 L202.3 1067.8 L205.2 1065.6 L208.2 1063.9 L211.1 1062.5 L214 1061.6 L217 1061.1 L219.9 1060.9 L222.9 1061.1 L225.8 1061.5 L228.7 1062.3 L231.7 1063.5 L234.6 1065 L237.5 1066.9 L240.5 1069 L243.4 1071.5 L246.3 1074.1 L249.3 1076.9 L252.2 1079.8 L255.1 1082.9 L258.1 1086.1 L261 1089.4 L263.9 1092.7 L266.9 1096.1 L269.8 1099.4 L272.8 1102.7 L275.7 1105.9 L278.6 1108.9 L281.6 1111.9 L284.5 1114.8 L287.4 1117.6 L290.4 1120.4 L293.3 1123 L296.2 1125.6 L299.2 1128.1 L302.1 1130.4 L305 1132.5 L308 1134.5 L310.9 1136.4 L313.8 1138.1 L316.8 1139.8 L319.7 1141.3 L322.6 1142.7 L325.6 1144.1 L328.5 1145.3 L331.5 1146.5 L334.4 1147.5 L337.3 1148.5 L340.3 1149.4 L343.2 1150.3 L346.1 1151.1 L349.1 1151.8 L352 1152.5 L354.9 1153.1 L357.9 1153.7 L360.8 1154.2 L363.7 1154.7 L366.7 1155.1 L369.6 1155.5 L372.5 1155.8 L375.5 1156.2 L378.4 1156.5 L381.3 1156.8 L384.3 1157.1 L387.2 1157.4 L390.2 1157.6 L393.1 1157.8 L396 1158 L399 1158.2 L401.9 1158.4 L404.8 1158.6 L407.8 1158.8 L410.7 1159 L413.6 1159.1 L416.6 1159.3 L419.5 1159.5 L422.4 1159.6 L425.4 1159.8 L428.3 1160 L431.2 1160.1 L434.2 1160.3 L437.1 1160.4 L440 1160.5 L443 1160.7 L445.9 1160.8 L448.8 1160.9 L451.8 1161.1 L454.7 1161.2 L457.7 1161.3 L460.6 1161.4 L463.5 1161.5" fill="none" stroke="#60f4f0" stroke-width="1.75" stroke-linejoin="round"/>
<path d="M82 1157.3 L84.9 1157.2 L87.8 1157 L90.8 1156.8 L93.7 1156.6 L96.6 1156.4 L99.6 1156.1 L102.5 1155.8 L105.5 1155.5 L108.4 1155.2 L111.3 1154.9 L114.3 1154.6 L117.2 1154.2 L120.1 1153.8 L123.1 1153.3 L126 1152.7 L128.9 1152 L131.9 1151.2 L134.8 1150 L137.7 1148.6 L140.7 1146.8 L143.6 1144.6 L146.5 1141.8 L149.5 1138.6 L152.4 1134.9 L155.4 1130.7 L158.3 1126.2 L161.2 1121.3 L164.2 1116.1 L167.1 1110.8 L170 1105.5 L173 1100.1 L175.9 1094.9 L178.8 1089.8 L181.8 1084.8 L184.7 1080 L187.6 1075.3 L190.6 1070.9 L193.5 1066.7 L196.4 1063 L199.4 1059.7 L202.3 1056.8 L205.2 1054.5 L208.2 1052.7 L211.1 1051.4 L214 1050.5 L217 1050 L219.9 1050 L222.9 1050.2 L225.8 1050.8 L228.7 1051.9 L231.7 1053.3 L234.6 1055.1 L237.5 1057.3 L240.5 1059.8 L243.4 1062.6 L246.3 1065.7 L249.3 1068.9 L252.2 1072.2 L255.1 1075.7 L258.1 1079.3 L261 1083 L263.9 1086.8 L266.9 1090.5 L269.8 1094.2 L272.8 1097.9 L275.7 1101.4 L278.6 1104.8 L281.6 1108.1 L284.5 1111.3 L287.4 1114.4 L290.4 1117.4 L293.3 1120.3 L296.2 1123.1 L299.2 1125.8 L302.1 1128.3 L305 1130.6 L308 1132.8 L310.9 1134.8 L313.8 1136.7 L316.8 1138.4 L319.7 1140.1 L322.6 1141.6 L325.6 1143 L328.5 1144.4 L331.5 1145.6 L334.4 1146.7 L337.3 1147.8 L340.3 1148.8 L343.2 1149.7 L346.1 1150.5 L349.1 1151.3 L352 1152 L354.9 1152.7 L357.9 1153.3 L360.8 1153.8 L363.7 1154.3 L366.7 1154.8 L369.6 1155.2 L372.5 1155.6 L375.5 1156 L378.4 1156.3 L381.3 1156.6 L384.3 1156.9 L387.2 1157.2 L390.2 1157.5 L393.1 1157.7 L396 1157.9 L399 1158.1 L401.9 1158.4 L404.8 1158.5 L407.8 1158.7 L410.7 1158.9 L413.6 1159.1 L416.6 1159.3 L419.5 1159.4 L422.4 1159.6 L425.4 1159.8 L428.3 1159.9 L431.2 1160.1 L434.2 1160.2 L437.1 1160.4 L440 1160.5 L443 1160.7 L445.9 1160.8 L448.8 1160.9 L451.8 1161.1 L454.7 1161.2 L457.7 1161.3 L460.6 1161.4 L463.5 1161.4" fill="none" stroke="#52f2ee" stroke-width="1.75" stroke-linejoin="round"/>
<path d="M82 1157.3 L84.9 1157.1 L87.8 1157 L90.8 1156.8 L93.7 1156.5 L96.6 1156.3 L99.6 1156 L102.5 1155.7 L105.5 1155.4 L108.4 1155.1 L111.3 1154.7 L114.3 1154.4 L117.2 1154 L120.1 1153.6 L123.1 1153.1 L126 1152.5 L128.9 1151.8 L131.9 1150.8 L134.8 1149.7 L137.7 1148.1 L140.7 1146.2 L143.6 1143.9 L146.5 1141 L149.5 1137.6 L152.4 1133.6 L155.4 1129.2 L158.3 1124.4 L161.2 1119.2 L164.2 1113.7 L167.1 1108.1 L170 1102.5 L173 1096.8 L175.9 1091.3 L178.8 1085.9 L181.8 1080.7 L184.7 1075.6 L187.6 1070.7 L190.6 1066.1 L193.5 1061.8 L196.4 1057.8 L199.4 1054.4 L202.3 1051.4 L205.2 1049 L208.2 1047.2 L211.1 1045.9 L214 1045 L217 1044.6 L219.9 1044.6 L222.9 1044.9 L225.8 1045.6 L228.7 1046.8 L231.7 1048.3 L234.6 1050.3 L237.5 1052.6 L240.5 1055.3 L243.4 1058.3 L246.3 1061.5 L249.3 1064.9 L252.2 1068.5 L255.1 1072.2 L258.1 1076 L261 1079.9 L263.9 1083.9 L266.9 1087.8 L269.8 1091.7 L272.8 1095.5 L275.7 1099.2 L278.6 1102.8 L281.6 1106.3 L284.5 1109.6 L287.4 1112.8 L290.4 1116 L293.3 1119 L296.2 1121.9 L299.2 1124.7 L302.1 1127.3 L305 1129.7 L308 1132 L310.9 1134 L313.8 1136 L316.8 1137.8 L319.7 1139.5 L322.6 1141 L325.6 1142.5 L328.5 1143.9 L331.5 1145.2 L334.4 1146.3 L337.3 1147.4 L340.3 1148.4 L343.2 1149.4 L346.1 1150.2 L349.1 1151 L352 1151.8 L354.9 1152.4 L357.9 1153.1 L360.8 1153.6 L363.7 1154.2 L366.7 1154.6 L369.6 1155.1 L372.5 1155.5 L375.5 1155.9 L378.4 1156.2 L381.3 1156.5 L384.3 1156.8 L387.2 1157.1 L390.2 1157.4 L393.1 1157.7 L396 1157.9 L399 1158.1 L401.9 1158.3 L404.8 1158.5 L407.8 1158.7 L410.7 1158.9 L413.6 1159.1 L416.6 1159.2 L419.5 1159.4 L422.4 1159.6 L425.4 1159.7 L428.3 1159.9 L431.2 1160.1 L434.2 1160.2 L437.1 1160.4 L440 1160.5 L443 1160.7 L445.9 1160.8 L448.8 1160.9 L451.8 1161 L454.7 1161.2 L457.7 1161.3 L460.6 1161.4 L463.5 1161.4" fill="none" stroke="#45f1ec" stroke-width="1.75" stroke-linejoin="round"/>
<path d="M82 1157.2 L84.9 1157.1 L87.8 1156.9 L90.8 1156.7 L93.7 1156.4 L96.6 1156.1 L99.6 1155.8 L102.5 1155.5 L105.5 1155.2 L108.4 1154.9 L111.3 1154.5 L114.3 1154.2 L117.2 1153.8 L120.1 1153.3 L123.1 1152.8 L126 1152.2 L128.9 1151.4 L131.9 1150.4 L134.8 1149.1 L137.7 1147.5 L140.7 1145.5 L143.6 1142.9 L146.5 1139.8 L149.5 1136.2 L152.4 1131.9 L155.4 1127.1 L158.3 1121.9 L161.2 1116.3 L164.2 1110.5 L167.1 1104.5 L170 1098.4 L173 1092.4 L175.9 1086.4 L178.8 1080.7 L181.8 1075.1 L184.7 1069.7 L187.6 1064.5 L190.6 1059.6 L193.5 1055 L196.4 1050.9 L199.4 1047.2 L202.3 1044.2 L205.2 1041.7 L208.2 1039.8 L211.1 1038.4 L214 1037.6 L217 1037.2 L219.9 1037.3 L222.9 1037.7 L225.8 1038.6 L228.7 1039.8 L231.7 1041.6 L234.6 1043.7 L237.5 1046.3 L240.5 1049.2 L243.4 1052.4 L246.3 1055.9 L249.3 1059.6 L252.2 1063.4 L255.1 1067.4 L258.1 1071.5 L261 1075.7 L263.9 1079.9 L266.9 1084.1 L269.8 1088.3 L272.8 1092.3 L275.7 1096.3 L278.6 1100.1 L281.6 1103.7 L284.5 1107.3 L287.4 1110.7 L290.4 1114 L293.3 1117.2 L296.2 1120.3 L299.2 1123.2 L302.1 1125.9 L305 1128.5 L308 1130.8 L310.9 1133 L313.8 1135 L316.8 1136.9 L319.7 1138.6 L322.6 1140.3 L325.6 1141.8 L328.5 1143.3 L331.5 1144.6 L334.4 1145.8 L337.3 1146.9 L340.3 1148 L343.2 1148.9 L346.1 1149.8 L349.1 1150.7 L352 1151.4 L354.9 1152.2 L357.9 1152.8 L360.8 1153.4 L363.7 1153.9 L366.7 1154.4 L369.6 1154.9 L372.5 1155.3 L375.5 1155.7 L378.4 1156.1 L381.3 1156.4 L384.3 1156.7 L387.2 1157 L390.2 1157.3 L393.1 1157.6 L396 1157.8 L399 1158 L401.9 1158.2 L404.8 1158.4 L407.8 1158.6 L410.7 1158.8 L413.6 1159 L416.6 1159.2 L419.5 1159.4 L422.4 1159.5 L425.4 1159.7 L428.3 1159.9 L431.2 1160 L434.2 1160.2 L437.1 1160.3 L440 1160.5 L443 1160.6 L445.9 1160.8 L448.8 1160.9 L451.8 1161 L454.7 1161.2 L457.7 1161.3 L460.6 1161.4 L463.5 1161.4" fill="none" stroke="#37efea" stroke-width="1.75" stroke-linejoin="round"/>
<path d="M82 1157.2 L84.9 1157 L87.8 1156.8 L90.8 1156.6 L93.7 1156.3 L96.6 1156 L99.6 1155.7 L102.5 1155.4 L105.5 1155.1 L108.4 1154.7 L111.3 1154.4 L114.3 1154 L117.2 1153.6 L120.1 1153.1 L123.1 1152.6 L126 1151.9 L128.9 1151.1 L131.9 1150 L134.8 1148.7 L137.7 1147 L140.7 1144.8 L143.6 1142.1 L146.5 1138.9 L149.5 1134.9 L152.4 1130.4 L155.4 1125.3 L158.3 1119.8 L161.2 1113.9 L164.2 1107.7 L167.1 1101.3 L170 1094.9 L173 1088.5 L175.9 1082.2 L178.8 1076.1 L181.8 1070.3 L184.7 1064.6 L187.6 1059.2 L190.6 1054 L193.5 1049.2 L196.4 1044.9 L199.4 1041.1 L202.3 1037.9 L205.2 1035.3 L208.2 1033.4 L211.1 1032 L214 1031.2 L217 1030.9 L219.9 1031 L222.9 1031.5 L225.8 1032.5 L228.7 1033.9 L231.7 1035.7 L234.6 1038 L237.5 1040.8 L240.5 1043.9 L243.4 1047.4 L246.3 1051.1 L249.3 1055 L252.2 1059 L255.1 1063.3 L258.1 1067.6 L261 1072 L263.9 1076.5 L266.9 1080.9 L269.8 1085.3 L272.8 1089.6 L275.7 1093.7 L278.6 1097.7 L281.6 1101.5 L284.5 1105.3 L287.4 1108.8 L290.4 1112.3 L293.3 1115.7 L296.2 1118.9 L299.2 1121.9 L302.1 1124.7 L305 1127.4 L308 1129.8 L310.9 1132.1 L313.8 1134.2 L316.8 1136.1 L319.7 1137.9 L322.6 1139.6 L325.6 1141.2 L328.5 1142.7 L331.5 1144.1 L334.4 1145.3 L337.3 1146.5 L340.3 1147.6 L343.2 1148.6 L346.1 1149.5 L349.1 1150.4 L352 1151.2 L354.9 1151.9 L357.9 1152.6 L360.8 1153.2 L363.7 1153.8 L366.7 1154.3 L369.6 1154.7 L372.5 1155.2 L375.5 1155.6 L378.4 1156 L381.3 1156.3 L384.3 1156.6 L387.2 1157 L390.2 1157.2 L393.1 1157.5 L396 1157.7 L399 1158 L401.9 1158.2 L404.8 1158.4 L407.8 1158.6 L410.7 1158.8 L413.6 1159 L416.6 1159.2 L419.5 1159.3 L422.4 1159.5 L425.4 1159.7 L428.3 1159.8 L431.2 1160 L434.2 1160.2 L437.1 1160.3 L440 1160.5 L443 1160.6 L445.9 1160.8 L448.8 1160.9 L451.8 1161 L454.7 1161.2 L457.7 1161.3 L460.6 1161.4 L463.5 1161.4" fill="none" stroke="#29ede8" stroke-width="1.75" stroke-linejoin="round"/>
<path d="M82 1157.1 L84.9 1156.9 L87.8 1156.7 L90.8 1156.5 L93.7 1156.2 L96.6 1155.9 L99.6 1155.5 L102.5 1155.2 L105.5 1154.8 L108.4 1154.5 L111.3 1154.1 L114.3 1153.7 L117.2 1153.3 L120.1 1152.8 L123.1 1152.2 L126 1151.5 L128.9 1150.6 L131.9 1149.5 L134.8 1148.1 L137.7 1146.2 L140.7 1143.9 L143.6 1141 L146.5 1137.4 L149.5 1133.2 L152.4 1128.3 L155.4 1122.8 L158.3 1116.7 L161.2 1110.3 L164.2 1103.6 L167.1 1096.7 L170 1089.8 L173 1083 L175.9 1076.2 L178.8 1069.6 L181.8 1063.3 L184.7 1057.2 L187.6 1051.4 L190.6 1045.9 L193.5 1040.8 L196.4 1036.2 L199.4 1032.2 L202.3 1028.8 L205.2 1026.1 L208.2 1024.1 L211.1 1022.8 L214 1022 L217 1021.7 L219.9 1021.9 L222.9 1022.6 L225.8 1023.7 L228.7 1025.2 L231.7 1027.3 L234.6 1029.9 L237.5 1032.9 L240.5 1036.3 L243.4 1040.1 L246.3 1044.1 L249.3 1048.3 L252.2 1052.7 L255.1 1057.3 L258.1 1062 L261 1066.8 L263.9 1071.6 L266.9 1076.3 L269.8 1081 L272.8 1085.6 L275.7 1090 L278.6 1094.3 L281.6 1098.4 L284.5 1102.4 L287.4 1106.2 L290.4 1109.9 L293.3 1113.4 L296.2 1116.8 L299.2 1120 L302.1 1123 L305 1125.8 L308 1128.4 L310.9 1130.8 L313.8 1133 L316.8 1135 L319.7 1136.9 L322.6 1138.7 L325.6 1140.4 L328.5 1141.9 L331.5 1143.4 L334.4 1144.7 L337.3 1145.9 L340.3 1147 L343.2 1148.1 L346.1 1149 L349.1 1149.9 L352 1150.8 L354.9 1151.5 L357.9 1152.3 L360.8 1152.9 L363.7 1153.5 L366.7 1154 L369.6 1154.5 L372.5 1155 L375.5 1155.4 L378.4 1155.8 L381.3 1156.2 L384.3 1156.5 L387.2 1156.8 L390.2 1157.1 L393.1 1157.4 L396 1157.7 L399 1157.9 L401.9 1158.1 L404.8 1158.3 L407.8 1158.5 L410.7 1158.7 L413.6 1158.9 L416.6 1159.1 L419.5 1159.3 L422.4 1159.5 L425.4 1159.6 L428.3 1159.8 L431.2 1160 L434.2 1160.1 L437.1 1160.3 L440 1160.5 L443 1160.6 L445.9 1160.7 L448.8 1160.9 L451.8 1161 L454.7 1161.1 L457.7 1161.3 L460.6 1161.4 L463.5 1161.4" fill="none" stroke="#1cece6" stroke-width="1.75" stroke-linejoin="round"/>
<path d="M82 1157 L84.9 1156.8 L87.8 1156.6 L90.8 1156.3 L93.7 1156 L96.6 1155.7 L99.6 1155.3 L102.5 1155 L105.5 1154.6 L108.4 1154.2 L111.3 1153.8 L114.3 1153.4 L117.2 1152.9 L120.1 1152.4 L123.1 1151.8 L126 1151.1 L128.9 1150.1 L131.9 1148.9 L134.8 1147.4 L137.7 1145.4 L140.7 1142.9 L143.6 1139.8 L146.5 1135.9 L149.5 1131.3 L152.4 1126 L155.4 1120 L158.3 1113.5 L161.2 1106.5 L164.2 1099.3 L167.1 1091.9 L170 1084.4 L173 1077 L175.9 1069.7 L178.8 1062.7 L181.8 1055.9 L184.7 1049.4 L187.6 1043.2 L190.6 1037.3 L193.5 1031.8 L196.4 1026.9 L199.4 1022.7 L202.3 1019.1 L205.2 1016.3 L208.2 1014.3 L211.1 1012.9 L214 1012.1 L217 1011.9 L219.9 1012.2 L222.9 1013 L225.8 1014.3 L228.7 1016 L231.7 1018.4 L234.6 1021.2 L237.5 1024.5 L240.5 1028.2 L243.4 1032.3 L246.3 1036.6 L249.3 1041.2 L252.2 1046 L255.1 1050.9 L258.1 1056 L261 1061.2 L263.9 1066.3 L266.9 1071.5 L269.8 1076.5 L272.8 1081.4 L275.7 1086.1 L278.6 1090.7 L281.6 1095 L284.5 1099.3 L287.4 1103.3 L290.4 1107.3 L293.3 1111 L296.2 1114.6 L299.2 1118 L302.1 1121.2 L305 1124.2 L308 1126.9 L310.9 1129.4 L313.8 1131.7 L316.8 1133.9 L319.7 1135.9 L322.6 1137.7 L325.6 1139.5 L328.5 1141.1 L331.5 1142.6 L334.4 1144 L337.3 1145.2 L340.3 1146.4 L343.2 1147.5 L346.1 1148.5 L349.1 1149.5 L352 1150.4 L354.9 1151.2 L357.9 1151.9 L360.8 1152.6 L363.7 1153.2 L366.7 1153.8 L369.6 1154.3 L372.5 1154.8 L375.5 1155.2 L378.4 1155.6 L381.3 1156 L384.3 1156.4 L387.2 1156.7 L390.2 1157 L393.1 1157.3 L396 1157.6 L399 1157.8 L401.9 1158 L404.8 1158.3 L407.8 1158.5 L410.7 1158.7 L413.6 1158.9 L416.6 1159.1 L419.5 1159.2 L422.4 1159.4 L425.4 1159.6 L428.3 1159.8 L431.2 1159.9 L434.2 1160.1 L437.1 1160.3 L440 1160.4 L443 1160.6 L445.9 1160.7 L448.8 1160.9 L451.8 1161 L454.7 1161.1 L457.7 1161.2 L460.6 1161.3 L463.5 1161.4" fill="none" stroke="#0eeae4" stroke-width="1.75" stroke-linejoin="round"/>
<path d="M82 1157 L84.9 1156.8 L87.8 1156.6 L90.8 1156.3 L93.7 1155.9 L96.6 1155.6 L99.6 1155.2 L102.5 1154.9 L105.5 1154.5 L108.4 1154.1 L111.3 1153.7 L114.3 1153.3 L117.2 1152.8 L120.1 1152.3 L123.1 1151.6 L126 1150.8 L128.9 1149.9 L131.9 1148.6 L134.8 1147 L137.7 1145 L140.7 1142.4 L143.6 1139.1 L146.5 1135.1 L149.5 1130.3 L152.4 1124.8 L155.4 1118.6 L158.3 1111.8 L161.2 1104.6 L164.2 1097.1 L167.1 1089.4 L170 1081.7 L173 1074 L175.9 1066.5 L178.8 1059.2 L181.8 1052.1 L184.7 1045.4 L187.6 1039 L190.6 1032.9 L193.5 1027.3 L196.4 1022.2 L199.4 1017.9 L202.3 1014.2 L205.2 1011.4 L208.2 1009.3 L211.1 1007.9 L214 1007.2 L217 1007 L219.9 1007.4 L222.9 1008.2 L225.8 1009.5 L228.7 1011.4 L231.7 1013.8 L234.6 1016.8 L237.5 1020.2 L240.5 1024.1 L243.4 1028.3 L246.3 1032.9 L249.3 1037.7 L252.2 1042.6 L255.1 1047.7 L258.1 1053 L261 1058.3 L263.9 1063.7 L266.9 1069 L269.8 1074.2 L272.8 1079.2 L275.7 1084.1 L278.6 1088.8 L281.6 1093.4 L284.5 1097.7 L287.4 1101.9 L290.4 1105.9 L293.3 1109.8 L296.2 1113.5 L299.2 1117 L302.1 1120.3 L305 1123.3 L308 1126.1 L310.9 1128.7 L313.8 1131.1 L316.8 1133.3 L319.7 1135.3 L322.6 1137.2 L325.6 1139 L328.5 1140.7 L331.5 1142.2 L334.4 1143.6 L337.3 1144.9 L340.3 1146.1 L343.2 1147.2 L346.1 1148.3 L349.1 1149.3 L352 1150.2 L354.9 1151 L357.9 1151.7 L360.8 1152.4 L363.7 1153 L366.7 1153.6 L369.6 1154.2 L372.5 1154.6 L375.5 1155.1 L378.4 1155.5 L381.3 1155.9 L384.3 1156.3 L387.2 1156.6 L390.2 1157 L393.1 1157.2 L396 1157.5 L399 1157.8 L401.9 1158 L404.8 1158.2 L407.8 1158.4 L410.7 1158.6 L413.6 1158.8 L416.6 1159 L419.5 1159.2 L422.4 1159.4 L425.4 1159.6 L428.3 1159.8 L431.2 1159.9 L434.2 1160.1 L437.1 1160.3 L440 1160.4 L443 1160.6 L445.9 1160.7 L448.8 1160.9 L451.8 1161 L454.7 1161.1 L457.7 1161.2 L460.6 1161.3 L463.5 1161.4" fill="none" stroke="#00e8e2" stroke-width="1.75" stroke-linejoin="round"/>
<path d="M82 1156.9 L84.9 1156.7 L87.8 1156.5 L90.8 1156.2 L93.7 1155.8 L96.6 1155.5 L99.6 1155.1 L102.5 1154.7 L105.5 1154.3 L108.4 1153.9 L111.3 1153.5 L114.3 1153.1 L117.2 1152.6 L120.1 1152 L123.1 1151.4 L126 1150.6 L128.9 1149.5 L131.9 1148.3 L134.8 1146.6 L137.7 1144.4 L140.7 1141.7 L143.6 1138.3 L146.5 1134.1 L149.5 1129.1 L152.4 1123.2 L155.4 1116.7 L158.3 1109.6 L161.2 1102 L164.2 1094.2 L167.1 1086.1 L170 1078 L173 1070 L175.9 1062.1 L178.8 1054.4 L181.8 1047.1 L184.7 1040.1 L187.6 1033.4 L190.6 1027 L193.5 1021.2 L196.4 1015.9 L199.4 1011.4 L202.3 1007.7 L205.2 1004.7 L208.2 1002.6 L211.1 1001.2 L214 1000.5 L217 1000.4 L219.9 1000.8 L222.9 1001.7 L225.8 1003.1 L228.7 1005.1 L231.7 1007.7 L234.6 1010.8 L237.5 1014.5 L240.5 1018.6 L243.4 1023 L246.3 1027.8 L249.3 1032.8 L252.2 1038 L255.1 1043.4 L258.1 1048.9 L261 1054.5 L263.9 1060.1 L266.9 1065.6 L269.8 1071.1 L272.8 1076.4 L275.7 1081.4 L278.6 1086.4 L281.6 1091.1 L284.5 1095.6 L287.4 1100 L290.4 1104.2 L293.3 1108.2 L296.2 1112 L299.2 1115.7 L302.1 1119 L305 1122.2 L308 1125.1 L310.9 1127.7 L313.8 1130.2 L316.8 1132.5 L319.7 1134.6 L322.6 1136.5 L325.6 1138.4 L328.5 1140.1 L331.5 1141.7 L334.4 1143.1 L337.3 1144.5 L340.3 1145.7 L343.2 1146.9 L346.1 1147.9 L349.1 1148.9 L352 1149.9 L354.9 1150.7 L357.9 1151.5 L360.8 1152.2 L363.7 1152.8 L366.7 1153.4 L369.6 1154 L372.5 1154.5 L375.5 1155 L378.4 1155.4 L381.3 1155.8 L384.3 1156.2 L387.2 1156.6 L390.2 1156.9 L393.1 1157.2 L396 1157.5 L399 1157.7 L401.9 1157.9 L404.8 1158.2 L407.8 1158.4 L410.7 1158.6 L413.6 1158.8 L416.6 1159 L419.5 1159.2 L422.4 1159.4 L425.4 1159.6 L428.3 1159.7 L431.2 1159.9 L434.2 1160.1 L437.1 1160.2 L440 1160.4 L443 1160.6 L445.9 1160.7 L448.8 1160.8 L451.8 1161 L454.7 1161.1 L457.7 1161.2 L460.6 1161.3 L463.5 1161.4" fill="none" stroke="#00e3dd" stroke-width="1.75" stroke-linejoin="round"/>
<path d="M82 1156.9 L84.9 1156.7 L87.8 1156.4 L90.8 1156.1 L93.7 1155.7 L96.6 1155.4 L99.6 1155 L102.5 1154.6 L105.5 1154.2 L108.4 1153.7 L111.3 1153.3 L114.3 1152.8 L117.2 1152.3 L120.1 1151.8 L123.1 1151.1 L126 1150.2 L128.9 1149.2 L131.9 1147.8 L134.8 1146.1 L137.7 1143.8 L140.7 1141 L143.6 1137.4 L146.5 1132.9 L149.5 1127.6 L152.4 1121.5 L155.4 1114.6 L158.3 1107.2 L161.2 1099.2 L164.2 1090.9 L167.1 1082.5 L170 1074 L173 1065.5 L175.9 1057.2 L178.8 1049.2 L181.8 1041.5 L184.7 1034.2 L187.6 1027.2 L190.6 1020.6 L193.5 1014.4 L196.4 1009 L199.4 1004.3 L202.3 1000.4 L205.2 997.3 L208.2 995.1 L211.1 993.7 L214 993.1 L217 993 L219.9 993.5 L222.9 994.5 L225.8 996.1 L228.7 998.2 L231.7 1001 L234.6 1004.3 L237.5 1008.1 L240.5 1012.5 L243.4 1017.2 L246.3 1022.2 L249.3 1027.5 L252.2 1033 L255.1 1038.6 L258.1 1044.4 L261 1050.3 L263.9 1056.2 L266.9 1062 L269.8 1067.6 L272.8 1073.2 L275.7 1078.5 L278.6 1083.6 L281.6 1088.5 L284.5 1093.3 L287.4 1097.8 L290.4 1102.2 L293.3 1106.4 L296.2 1110.4 L299.2 1114.2 L302.1 1117.7 L305 1120.9 L308 1123.9 L310.9 1126.7 L313.8 1129.2 L316.8 1131.6 L319.7 1133.8 L322.6 1135.8 L325.6 1137.7 L328.5 1139.4 L331.5 1141.1 L334.4 1142.6 L337.3 1144 L340.3 1145.3 L343.2 1146.5 L346.1 1147.6 L349.1 1148.6 L352 1149.6 L354.9 1150.4 L357.9 1151.2 L360.8 1152 L363.7 1152.6 L366.7 1153.2 L369.6 1153.8 L372.5 1154.3 L375.5 1154.8 L378.4 1155.3 L381.3 1155.7 L384.3 1156.1 L387.2 1156.5 L390.2 1156.8 L393.1 1157.1 L396 1157.4 L399 1157.6 L401.9 1157.9 L404.8 1158.1 L407.8 1158.3 L410.7 1158.6 L413.6 1158.8 L416.6 1159 L419.5 1159.1 L422.4 1159.3 L425.4 1159.5 L428.3 1159.7 L431.2 1159.9 L434.2 1160.1 L437.1 1160.2 L440 1160.4 L443 1160.5 L445.9 1160.7 L448.8 1160.8 L451.8 1161 L454.7 1161.1 L457.7 1161.2 L460.6 1161.3 L463.5 1161.4" fill="none" stroke="#00ded8" stroke-width="1.75" stroke-linejoin="round"/>
<path d="M82 1156.8 L84.9 1156.6 L87.8 1156.3 L90.8 1156 L93.7 1155.6 L96.6 1155.2 L99.6 1154.8 L102.5 1154.4 L105.5 1153.9 L108.4 1153.5 L111.3 1153 L114.3 1152.5 L117.2 1152 L120.1 1151.4 L123.1 1150.7 L126 1149.8 L128.9 1148.7 L131.9 1147.2 L134.8 1145.4 L137.7 1143 L140.7 1140 L143.6 1136.1 L146.5 1131.4 L149.5 1125.8 L152.4 1119.2 L155.4 1111.9 L158.3 1103.9 L161.2 1095.4 L164.2 1086.6 L167.1 1077.6 L170 1068.6 L173 1059.6 L175.9 1050.8 L178.8 1042.3 L181.8 1034.1 L184.7 1026.3 L187.6 1018.9 L190.6 1011.9 L193.5 1005.5 L196.4 999.7 L199.4 994.8 L202.3 990.7 L205.2 987.5 L208.2 985.3 L211.1 983.9 L214 983.2 L217 983.2 L219.9 983.8 L222.9 984.9 L225.8 986.7 L228.7 989 L231.7 992 L234.6 995.6 L237.5 999.7 L240.5 1004.3 L243.4 1009.4 L246.3 1014.8 L249.3 1020.4 L252.2 1026.3 L255.1 1032.3 L258.1 1038.4 L261 1044.7 L263.9 1050.9 L266.9 1057.1 L269.8 1063.1 L272.8 1068.9 L275.7 1074.6 L278.6 1080 L281.6 1085.2 L284.5 1090.2 L287.4 1095 L290.4 1099.6 L293.3 1104 L296.2 1108.2 L299.2 1112.2 L302.1 1115.9 L305 1119.3 L308 1122.4 L310.9 1125.3 L313.8 1127.9 L316.8 1130.4 L319.7 1132.7 L322.6 1134.8 L325.6 1136.8 L328.5 1138.6 L331.5 1140.3 L334.4 1141.9 L337.3 1143.3 L340.3 1144.7 L343.2 1145.9 L346.1 1147.1 L349.1 1148.1 L352 1149.1 L354.9 1150 L357.9 1150.9 L360.8 1151.6 L363.7 1152.3 L366.7 1153 L369.6 1153.6 L372.5 1154.1 L375.5 1154.6 L378.4 1155.1 L381.3 1155.5 L384.3 1155.9 L387.2 1156.3 L390.2 1156.7 L393.1 1157 L396 1157.3 L399 1157.6 L401.9 1157.8 L404.8 1158 L407.8 1158.3 L410.7 1158.5 L413.6 1158.7 L416.6 1158.9 L419.5 1159.1 L422.4 1159.3 L425.4 1159.5 L428.3 1159.7 L431.2 1159.8 L434.2 1160 L437.1 1160.2 L440 1160.4 L443 1160.5 L445.9 1160.7 L448.8 1160.8 L451.8 1161 L454.7 1161.1 L457.7 1161.2 L460.6 1161.3 L463.5 1161.4" fill="none" stroke="#00d8d3" stroke-width="1.75" stroke-linejoin="round"/>
<path d="M82 1156.7 L84.9 1156.5 L87.8 1156.2 L90.8 1155.8 L93.7 1155.4 L96.6 1155 L99.6 1154.5 L102.5 1154.1 L105.5 1153.6 L108.4 1153.2 L111.3 1152.7 L114.3 1152.2 L117.2 1151.6 L120.1 1151 L123.1 1150.2 L126 1149.3 L128.9 1148.1 L131.9 1146.5 L134.8 1144.5 L137.7 1142 L140.7 1138.7 L143.6 1134.6 L146.5 1129.5 L149.5 1123.4 L152.4 1116.3 L155.4 1108.4 L158.3 1099.8 L161.2 1090.7 L164.2 1081.2 L167.1 1071.5 L170 1061.8 L173 1052.1 L175.9 1042.7 L178.8 1033.5 L181.8 1024.8 L184.7 1016.5 L187.6 1008.5 L190.6 1001.1 L193.5 994.2 L196.4 988.1 L199.4 982.8 L202.3 978.5 L205.2 975.2 L208.2 972.9 L211.1 971.5 L214 970.8 L217 970.9 L219.9 971.6 L222.9 972.9 L225.8 974.9 L228.7 977.5 L231.7 980.7 L234.6 984.6 L237.5 989.1 L240.5 994.1 L243.4 999.6 L246.3 1005.4 L249.3 1011.5 L252.2 1017.8 L255.1 1024.3 L258.1 1030.9 L261 1037.6 L263.9 1044.3 L266.9 1050.9 L269.8 1057.4 L272.8 1063.6 L275.7 1069.6 L278.6 1075.4 L281.6 1081 L284.5 1086.3 L287.4 1091.4 L290.4 1096.3 L293.3 1101 L296.2 1105.5 L299.2 1109.7 L302.1 1113.6 L305 1117.2 L308 1120.5 L310.9 1123.5 L313.8 1126.3 L316.8 1128.9 L319.7 1131.3 L322.6 1133.6 L325.6 1135.6 L328.5 1137.5 L331.5 1139.3 L334.4 1141 L337.3 1142.5 L340.3 1143.9 L343.2 1145.2 L346.1 1146.4 L349.1 1147.6 L352 1148.6 L354.9 1149.6 L357.9 1150.4 L360.8 1151.2 L363.7 1152 L366.7 1152.6 L369.6 1153.3 L372.5 1153.8 L375.5 1154.4 L378.4 1154.9 L381.3 1155.3 L384.3 1155.8 L387.2 1156.2 L390.2 1156.5 L393.1 1156.9 L396 1157.2 L399 1157.4 L401.9 1157.7 L404.8 1158 L407.8 1158.2 L410.7 1158.4 L413.6 1158.6 L416.6 1158.8 L419.5 1159 L422.4 1159.2 L425.4 1159.4 L428.3 1159.6 L431.2 1159.8 L434.2 1160 L437.1 1160.2 L440 1160.3 L443 1160.5 L445.9 1160.6 L448.8 1160.8 L451.8 1160.9 L454.7 1161.1 L457.7 1161.2 L460.6 1161.3 L463.5 1161.4" fill="none" stroke="#00d3ce" stroke-width="1.75" stroke-linejoin="round"/>
<path d="M82 1156.6 L84.9 1156.4 L87.8 1156.1 L90.8 1155.7 L93.7 1155.3 L96.6 1154.8 L99.6 1154.3 L102.5 1153.9 L105.5 1153.4 L108.4 1152.9 L111.3 1152.4 L114.3 1151.9 L117.2 1151.3 L120.1 1150.6 L123.1 1149.8 L126 1148.8 L128.9 1147.6 L131.9 1145.9 L134.8 1143.8 L137.7 1141.1 L140.7 1137.7 L143.6 1133.3 L146.5 1127.9 L149.5 1121.5 L152.4 1114 L155.4 1105.6 L158.3 1096.4 L161.2 1086.8 L164.2 1076.7 L167.1 1066.5 L170 1056.2 L173 1046 L175.9 1036 L178.8 1026.4 L181.8 1017.1 L184.7 1008.4 L187.6 1000 L190.6 992.2 L193.5 985 L196.4 978.6 L199.4 973.1 L202.3 968.6 L205.2 965.1 L208.2 962.7 L211.1 961.3 L214 960.7 L217 960.9 L219.9 961.7 L222.9 963.1 L225.8 965.2 L228.7 968 L231.7 971.5 L234.6 975.7 L237.5 980.4 L240.5 985.8 L243.4 991.5 L246.3 997.7 L249.3 1004.2 L252.2 1010.9 L255.1 1017.7 L258.1 1024.8 L261 1031.8 L263.9 1038.9 L266.9 1045.9 L269.8 1052.7 L272.8 1059.2 L275.7 1065.6 L278.6 1071.7 L281.6 1077.5 L284.5 1083.1 L287.4 1088.5 L290.4 1093.6 L293.3 1098.6 L296.2 1103.2 L299.2 1107.6 L302.1 1111.7 L305 1115.5 L308 1118.9 L310.9 1122.1 L313.8 1125 L316.8 1127.7 L319.7 1130.2 L322.6 1132.5 L325.6 1134.7 L328.5 1136.7 L331.5 1138.5 L334.4 1140.2 L337.3 1141.8 L340.3 1143.3 L343.2 1144.7 L346.1 1145.9 L349.1 1147.1 L352 1148.2 L354.9 1149.2 L357.9 1150.1 L360.8 1150.9 L363.7 1151.7 L366.7 1152.4 L369.6 1153 L372.5 1153.6 L375.5 1154.2 L378.4 1154.7 L381.3 1155.2 L384.3 1155.6 L387.2 1156 L390.2 1156.4 L393.1 1156.8 L396 1157.1 L399 1157.4 L401.9 1157.6 L404.8 1157.9 L407.8 1158.1 L410.7 1158.4 L413.6 1158.6 L416.6 1158.8 L419.5 1159 L422.4 1159.2 L425.4 1159.4 L428.3 1159.6 L431.2 1159.8 L434.2 1160 L437.1 1160.1 L440 1160.3 L443 1160.5 L445.9 1160.6 L448.8 1160.8 L451.8 1160.9 L454.7 1161.1 L457.7 1161.2 L460.6 1161.3 L463.5 1161.4" fill="none" stroke="#00cec9" stroke-width="1.75" stroke-linejoin="round"/>
<path d="M82 1156.6 L84.9 1156.3 L87.8 1156 L90.8 1155.6 L93.7 1155.2 L96.6 1154.7 L99.6 1154.2 L102.5 1153.7 L105.5 1153.2 L108.4 1152.7 L111.3 1152.2 L114.3 1151.7 L117.2 1151.1 L120.1 1150.4 L123.1 1149.6 L126 1148.6 L128.9 1147.3 L131.9 1145.6 L134.8 1143.4 L137.7 1140.6 L140.7 1137.1 L143.6 1132.6 L146.5 1127 L149.5 1120.3 L152.4 1112.6 L155.4 1103.9 L158.3 1094.5 L161.2 1084.5 L164.2 1074.1 L167.1 1063.5 L170 1052.9 L173 1042.4 L175.9 1032.1 L178.8 1022.1 L181.8 1012.6 L184.7 1003.6 L187.6 995 L190.6 986.9 L193.5 979.5 L196.4 972.9 L199.4 967.3 L202.3 962.7 L205.2 959.2 L208.2 956.7 L211.1 955.3 L214 954.7 L217 954.9 L219.9 955.8 L222.9 957.3 L225.8 959.5 L228.7 962.4 L231.7 966 L234.6 970.4 L237.5 975.3 L240.5 980.8 L243.4 986.8 L246.3 993.2 L249.3 999.9 L252.2 1006.8 L255.1 1013.9 L258.1 1021.1 L261 1028.4 L263.9 1035.7 L266.9 1042.9 L269.8 1049.9 L272.8 1056.7 L275.7 1063.2 L278.6 1069.5 L281.6 1075.5 L284.5 1081.2 L287.4 1086.8 L290.4 1092 L293.3 1097.1 L296.2 1101.9 L299.2 1106.4 L302.1 1110.6 L305 1114.4 L308 1118 L310.9 1121.2 L313.8 1124.2 L316.8 1127 L319.7 1129.6 L322.6 1131.9 L325.6 1134.1 L328.5 1136.2 L331.5 1138.1 L334.4 1139.8 L337.3 1141.4 L340.3 1142.9 L343.2 1144.3 L346.1 1145.6 L349.1 1146.8 L352 1147.9 L354.9 1148.9 L357.9 1149.9 L360.8 1150.7 L363.7 1151.5 L366.7 1152.2 L369.6 1152.9 L372.5 1153.5 L375.5 1154.1 L378.4 1154.6 L381.3 1155.1 L384.3 1155.5 L387.2 1156 L390.2 1156.3 L393.1 1156.7 L396 1157 L399 1157.3 L401.9 1157.6 L404.8 1157.8 L407.8 1158.1 L410.7 1158.3 L413.6 1158.5 L416.6 1158.8 L419.5 1159 L422.4 1159.2 L425.4 1159.4 L428.3 1159.6 L431.2 1159.7 L434.2 1159.9 L437.1 1160.1 L440 1160.3 L443 1160.5 L445.9 1160.6 L448.8 1160.8 L451.8 1160.9 L454.7 1161.1 L457.7 1161.2 L460.6 1161.3 L463.5 1161.4" fill="none" stroke="#00c8c4" stroke-width="1.75" stroke-linejoin="round"/>
<path d="M82 1156.5 L84.9 1156.3 L87.8 1155.9 L90.8 1155.5 L93.7 1155 L96.6 1154.6 L99.6 1154.1 L102.5 1153.6 L105.5 1153.1 L108.4 1152.5 L111.3 1152 L114.3 1151.4 L117.2 1150.8 L120.1 1150.1 L123.1 1149.3 L126 1148.2 L128.9 1146.9 L131.9 1145.1 L134.8 1142.9 L137.7 1140 L140.7 1136.3 L143.6 1131.6 L146.5 1125.8 L149.5 1118.8 L152.4 1110.8 L155.4 1101.7 L158.3 1091.9 L161.2 1081.5 L164.2 1070.7 L167.1 1059.7 L170 1048.7 L173 1037.7 L175.9 1027 L178.8 1016.7 L181.8 1006.8 L184.7 997.4 L187.6 988.5 L190.6 980.2 L193.5 972.5 L196.4 965.7 L199.4 959.8 L202.3 955.1 L205.2 951.5 L208.2 949 L211.1 947.5 L214 947 L217 947.3 L219.9 948.2 L222.9 949.8 L225.8 952.1 L228.7 955.2 L231.7 959 L234.6 963.5 L237.5 968.7 L240.5 974.5 L243.4 980.7 L246.3 987.3 L249.3 994.3 L252.2 1001.5 L255.1 1008.9 L258.1 1016.4 L261 1024 L263.9 1031.6 L266.9 1039 L269.8 1046.3 L272.8 1053.3 L275.7 1060.1 L278.6 1066.6 L281.6 1072.8 L284.5 1078.8 L287.4 1084.5 L290.4 1090 L293.3 1095.2 L296.2 1100.2 L299.2 1104.8 L302.1 1109.1 L305 1113.1 L308 1116.8 L310.9 1120.2 L313.8 1123.2 L316.8 1126.1 L319.7 1128.7 L322.6 1131.1 L325.6 1133.4 L328.5 1135.5 L331.5 1137.4 L334.4 1139.3 L337.3 1140.9 L340.3 1142.5 L343.2 1143.9 L346.1 1145.2 L349.1 1146.5 L352 1147.6 L354.9 1148.6 L357.9 1149.6 L360.8 1150.5 L363.7 1151.3 L366.7 1152 L369.6 1152.7 L372.5 1153.3 L375.5 1153.9 L378.4 1154.4 L381.3 1155 L384.3 1155.4 L387.2 1155.9 L390.2 1156.2 L393.1 1156.6 L396 1156.9 L399 1157.2 L401.9 1157.5 L404.8 1157.8 L407.8 1158 L410.7 1158.3 L413.6 1158.5 L416.6 1158.7 L419.5 1158.9 L422.4 1159.1 L425.4 1159.3 L428.3 1159.5 L431.2 1159.7 L434.2 1159.9 L437.1 1160.1 L440 1160.3 L443 1160.4 L445.9 1160.6 L448.8 1160.8 L451.8 1160.9 L454.7 1161 L457.7 1161.2 L460.6 1161.3 L463.5 1161.4" fill="none" stroke="#00c3bf" stroke-width="1.75" stroke-linejoin="round"/>
<path d="M82 1156.5 L84.9 1156.2 L87.8 1155.8 L90.8 1155.4 L93.7 1154.9 L96.6 1154.4 L99.6 1153.9 L102.5 1153.4 L105.5 1152.9 L108.4 1152.3 L111.3 1151.8 L114.3 1151.2 L117.2 1150.6 L120.1 1149.8 L123.1 1149 L126 1147.9 L128.9 1146.5 L131.9 1144.7 L134.8 1142.3 L137.7 1139.3 L140.7 1135.5 L143.6 1130.6 L146.5 1124.6 L149.5 1117.3 L152.4 1108.9 L155.4 1099.5 L158.3 1089.3 L161.2 1078.5 L164.2 1067.2 L167.1 1055.8 L170 1044.3 L173 1033 L175.9 1021.9 L178.8 1011.1 L181.8 1000.9 L184.7 991.1 L187.6 981.9 L190.6 973.2 L193.5 965.3 L196.4 958.2 L199.4 952.2 L202.3 947.3 L205.2 943.6 L208.2 941.1 L211.1 939.6 L214 939.1 L217 939.4 L219.9 940.4 L222.9 942.1 L225.8 944.6 L228.7 947.8 L231.7 951.8 L234.6 956.5 L237.5 961.9 L240.5 967.9 L243.4 974.4 L246.3 981.4 L249.3 988.6 L252.2 996.1 L255.1 1003.8 L258.1 1011.6 L261 1019.5 L263.9 1027.4 L266.9 1035.1 L269.8 1042.6 L272.8 1049.9 L275.7 1057 L278.6 1063.7 L281.6 1070.1 L284.5 1076.3 L287.4 1082.2 L290.4 1087.9 L293.3 1093.3 L296.2 1098.4 L299.2 1103.2 L302.1 1107.7 L305 1111.8 L308 1115.6 L310.9 1119 L313.8 1122.2 L316.8 1125.1 L319.7 1127.8 L322.6 1130.3 L325.6 1132.7 L328.5 1134.8 L331.5 1136.8 L334.4 1138.7 L337.3 1140.4 L340.3 1142 L343.2 1143.4 L346.1 1144.8 L349.1 1146.1 L352 1147.3 L354.9 1148.3 L357.9 1149.3 L360.8 1150.2 L363.7 1151 L366.7 1151.8 L369.6 1152.5 L372.5 1153.1 L375.5 1153.7 L378.4 1154.3 L381.3 1154.8 L384.3 1155.3 L387.2 1155.8 L390.2 1156.2 L393.1 1156.5 L396 1156.9 L399 1157.2 L401.9 1157.5 L404.8 1157.7 L407.8 1158 L410.7 1158.2 L413.6 1158.4 L416.6 1158.7 L419.5 1158.9 L422.4 1159.1 L425.4 1159.3 L428.3 1159.5 L431.2 1159.7 L434.2 1159.9 L437.1 1160.1 L440 1160.3 L443 1160.4 L445.9 1160.6 L448.8 1160.7 L451.8 1160.9 L454.7 1161 L457.7 1161.2 L460.6 1161.3 L463.5 1161.3" fill="none" stroke="#00beba" stroke-width="1.75" stroke-linejoin="round"/>
<path d="M82 1156.4 L84.9 1156.1 L87.8 1155.8 L90.8 1155.3 L93.7 1154.8 L96.6 1154.3 L99.6 1153.8 L102.5 1153.2 L105.5 1152.7 L108.4 1152.2 L111.3 1151.6 L114.3 1151 L117.2 1150.3 L120.1 1149.6 L123.1 1148.7 L126 1147.6 L128.9 1146.1 L131.9 1144.3 L134.8 1141.9 L137.7 1138.8 L140.7 1134.8 L143.6 1129.7 L146.5 1123.5 L149.5 1116 L152.4 1107.3 L155.4 1097.6 L158.3 1087 L161.2 1075.8 L164.2 1064.2 L167.1 1052.4 L170 1040.5 L173 1028.8 L175.9 1017.3 L178.8 1006.2 L181.8 995.7 L184.7 985.6 L187.6 976.1 L190.6 967.2 L193.5 959 L196.4 951.7 L199.4 945.6 L202.3 940.5 L205.2 936.8 L208.2 934.2 L211.1 932.7 L214 932.2 L217 932.5 L219.9 933.6 L222.9 935.4 L225.8 938 L228.7 941.4 L231.7 945.5 L234.6 950.4 L237.5 956 L240.5 962.2 L243.4 969 L246.3 976.1 L249.3 983.6 L252.2 991.4 L255.1 999.3 L258.1 1007.4 L261 1015.6 L263.9 1023.7 L266.9 1031.7 L269.8 1039.5 L272.8 1047 L275.7 1054.2 L278.6 1061.1 L281.6 1067.8 L284.5 1074.2 L287.4 1080.3 L290.4 1086.1 L293.3 1091.6 L296.2 1096.9 L299.2 1101.8 L302.1 1106.4 L305 1110.6 L308 1114.5 L310.9 1118.1 L313.8 1121.3 L316.8 1124.3 L319.7 1127.1 L322.6 1129.7 L325.6 1132 L328.5 1134.2 L331.5 1136.3 L334.4 1138.2 L337.3 1139.9 L340.3 1141.6 L343.2 1143.1 L346.1 1144.5 L349.1 1145.8 L352 1147 L354.9 1148.1 L357.9 1149.1 L360.8 1150 L363.7 1150.8 L366.7 1151.6 L369.6 1152.3 L372.5 1153 L375.5 1153.6 L378.4 1154.2 L381.3 1154.7 L384.3 1155.2 L387.2 1155.7 L390.2 1156.1 L393.1 1156.4 L396 1156.8 L399 1157.1 L401.9 1157.4 L404.8 1157.7 L407.8 1157.9 L410.7 1158.2 L413.6 1158.4 L416.6 1158.6 L419.5 1158.9 L422.4 1159.1 L425.4 1159.3 L428.3 1159.5 L431.2 1159.7 L434.2 1159.9 L437.1 1160.1 L440 1160.2 L443 1160.4 L445.9 1160.6 L448.8 1160.7 L451.8 1160.9 L454.7 1161 L457.7 1161.2 L460.6 1161.3 L463.5 1161.3" fill="none" stroke="#01b8b4" stroke-width="1.75" stroke-linejoin="round"/>
<path d="M82 1156.4 L84.9 1156.1 L87.8 1155.7 L90.8 1155.2 L93.7 1154.7 L96.6 1154.2 L99.6 1153.7 L102.5 1153.1 L105.5 1152.5 L108.4 1152 L111.3 1151.4 L114.3 1150.8 L117.2 1150.1 L120.1 1149.4 L123.1 1148.4 L126 1147.3 L128.9 1145.8 L131.9 1143.9 L134.8 1141.4 L137.7 1138.2 L140.7 1134.1 L143.6 1128.9 L146.5 1122.5 L149.5 1114.7 L152.4 1105.7 L155.4 1095.7 L158.3 1084.8 L161.2 1073.2 L164.2 1061.2 L167.1 1049.1 L170 1036.9 L173 1024.8 L175.9 1012.9 L178.8 1001.5 L181.8 990.6 L184.7 980.3 L187.6 970.5 L190.6 961.3 L193.5 952.9 L196.4 945.5 L199.4 939.1 L202.3 934 L205.2 930.1 L208.2 927.4 L211.1 926 L214 925.5 L217 925.9 L219.9 927 L222.9 928.9 L225.8 931.6 L228.7 935.1 L231.7 939.4 L234.6 944.5 L237.5 950.3 L240.5 956.7 L243.4 963.7 L246.3 971.1 L249.3 978.8 L252.2 986.8 L255.1 995 L258.1 1003.4 L261 1011.8 L263.9 1020.1 L266.9 1028.3 L269.8 1036.4 L272.8 1044.1 L275.7 1051.5 L278.6 1058.7 L281.6 1065.5 L284.5 1072.1 L287.4 1078.3 L290.4 1084.3 L293.3 1090 L296.2 1095.4 L299.2 1100.5 L302.1 1105.2 L305 1109.5 L308 1113.5 L310.9 1117.1 L313.8 1120.5 L316.8 1123.5 L319.7 1126.4 L322.6 1129 L325.6 1131.4 L328.5 1133.7 L331.5 1135.8 L334.4 1137.7 L337.3 1139.5 L340.3 1141.1 L343.2 1142.7 L346.1 1144.1 L349.1 1145.5 L352 1146.7 L354.9 1147.8 L357.9 1148.8 L360.8 1149.8 L363.7 1150.6 L366.7 1151.4 L369.6 1152.2 L372.5 1152.8 L375.5 1153.5 L378.4 1154.1 L381.3 1154.6 L384.3 1155.1 L387.2 1155.6 L390.2 1156 L393.1 1156.4 L396 1156.7 L399 1157 L401.9 1157.3 L404.8 1157.6 L407.8 1157.9 L410.7 1158.1 L413.6 1158.4 L416.6 1158.6 L419.5 1158.8 L422.4 1159 L425.4 1159.2 L428.3 1159.5 L431.2 1159.7 L434.2 1159.8 L437.1 1160 L440 1160.2 L443 1160.4 L445.9 1160.6 L448.8 1160.7 L451.8 1160.9 L454.7 1161 L457.7 1161.1 L460.6 1161.3 L463.5 1161.3" fill="none" stroke="#02b1ad" stroke-width="1.75" stroke-linejoin="round"/>
<path d="M82 1156.3 L84.9 1156 L87.8 1155.6 L90.8 1155.1 L93.7 1154.6 L96.6 1154.1 L99.6 1153.5 L102.5 1153 L105.5 1152.4 L108.4 1151.8 L111.3 1151.2 L114.3 1150.6 L117.2 1149.9 L120.1 1149.1 L123.1 1148.2 L126 1147 L128.9 1145.5 L131.9 1143.5 L134.8 1140.9 L137.7 1137.6 L140.7 1133.4 L143.6 1128 L146.5 1121.4 L149.5 1113.4 L152.4 1104.2 L155.4 1093.8 L158.3 1082.6 L161.2 1070.7 L164.2 1058.3 L167.1 1045.8 L170 1033.2 L173 1020.7 L175.9 1008.5 L178.8 996.8 L181.8 985.6 L184.7 975 L187.6 964.9 L190.6 955.4 L193.5 946.8 L196.4 939.2 L199.4 932.6 L202.3 927.4 L205.2 923.4 L208.2 920.7 L211.1 919.2 L214 918.8 L217 919.2 L219.9 920.5 L222.9 922.4 L225.8 925.2 L228.7 928.9 L231.7 933.3 L234.6 938.6 L237.5 944.6 L240.5 951.2 L243.4 958.4 L246.3 966 L249.3 974 L252.2 982.2 L255.1 990.7 L258.1 999.3 L261 1008 L263.9 1016.6 L266.9 1025 L269.8 1033.3 L272.8 1041.2 L275.7 1048.9 L278.6 1056.2 L281.6 1063.2 L284.5 1069.9 L287.4 1076.4 L290.4 1082.5 L293.3 1088.4 L296.2 1093.9 L299.2 1099.1 L302.1 1103.9 L305 1108.4 L308 1112.4 L310.9 1116.2 L313.8 1119.6 L316.8 1122.7 L319.7 1125.6 L322.6 1128.3 L325.6 1130.8 L328.5 1133.1 L331.5 1135.2 L334.4 1137.2 L337.3 1139 L340.3 1140.7 L343.2 1142.3 L346.1 1143.8 L349.1 1145.1 L352 1146.4 L354.9 1147.5 L357.9 1148.6 L360.8 1149.6 L363.7 1150.4 L366.7 1151.3 L369.6 1152 L372.5 1152.7 L375.5 1153.3 L378.4 1153.9 L381.3 1154.5 L384.3 1155 L387.2 1155.5 L390.2 1155.9 L393.1 1156.3 L396 1156.7 L399 1157 L401.9 1157.3 L404.8 1157.6 L407.8 1157.8 L410.7 1158.1 L413.6 1158.3 L416.6 1158.6 L419.5 1158.8 L422.4 1159 L425.4 1159.2 L428.3 1159.4 L431.2 1159.6 L434.2 1159.8 L437.1 1160 L440 1160.2 L443 1160.4 L445.9 1160.5 L448.8 1160.7 L451.8 1160.9 L454.7 1161 L457.7 1161.1 L460.6 1161.2 L463.5 1161.3" fill="none" stroke="#04aaa6" stroke-width="1.75" stroke-linejoin="round"/>
<path d="M82 1156.3 L84.9 1156 L87.8 1155.6 L90.8 1155.1 L93.7 1154.5 L96.6 1154 L99.6 1153.4 L102.5 1152.8 L105.5 1152.3 L108.4 1151.7 L111.3 1151.1 L114.3 1150.4 L117.2 1149.7 L120.1 1148.9 L123.1 1147.9 L126 1146.7 L128.9 1145.2 L131.9 1143.2 L134.8 1140.6 L137.7 1137.2 L140.7 1132.8 L143.6 1127.3 L146.5 1120.5 L149.5 1112.3 L152.4 1102.9 L155.4 1092.2 L158.3 1080.7 L161.2 1068.5 L164.2 1055.8 L167.1 1043 L170 1030.1 L173 1017.3 L175.9 1004.8 L178.8 992.8 L181.8 981.3 L184.7 970.4 L187.6 960.1 L190.6 950.5 L193.5 941.6 L196.4 933.8 L199.4 927.2 L202.3 921.8 L205.2 917.8 L208.2 915 L211.1 913.5 L214 913.1 L217 913.6 L219.9 914.9 L222.9 916.9 L225.8 919.8 L228.7 923.5 L231.7 928.2 L234.6 933.6 L237.5 939.7 L240.5 946.5 L243.4 953.9 L246.3 961.7 L249.3 969.9 L252.2 978.3 L255.1 987 L258.1 995.9 L261 1004.7 L263.9 1013.5 L266.9 1022.2 L269.8 1030.6 L272.8 1038.8 L275.7 1046.6 L278.6 1054.1 L281.6 1061.3 L284.5 1068.2 L287.4 1074.7 L290.4 1081 L293.3 1087 L296.2 1092.7 L299.2 1098 L302.1 1102.9 L305 1107.4 L308 1111.6 L310.9 1115.4 L313.8 1118.8 L316.8 1122.1 L319.7 1125 L322.6 1127.7 L325.6 1130.3 L328.5 1132.6 L331.5 1134.8 L334.4 1136.8 L337.3 1138.7 L340.3 1140.4 L343.2 1142 L346.1 1143.5 L349.1 1144.9 L352 1146.1 L354.9 1147.3 L357.9 1148.4 L360.8 1149.4 L363.7 1150.3 L366.7 1151.1 L369.6 1151.9 L372.5 1152.6 L375.5 1153.2 L378.4 1153.8 L381.3 1154.4 L384.3 1154.9 L387.2 1155.4 L390.2 1155.8 L393.1 1156.2 L396 1156.6 L399 1156.9 L401.9 1157.2 L404.8 1157.5 L407.8 1157.8 L410.7 1158.1 L413.6 1158.3 L416.6 1158.5 L419.5 1158.8 L422.4 1159 L425.4 1159.2 L428.3 1159.4 L431.2 1159.6 L434.2 1159.8 L437.1 1160 L440 1160.2 L443 1160.4 L445.9 1160.5 L448.8 1160.7 L451.8 1160.9 L454.7 1161 L457.7 1161.1 L460.6 1161.2 L463.5 1161.3" fill="none" stroke="#05a4a0" stroke-width="1.75" stroke-linejoin="round"/>
<path d="M82 1156.2 L84.9 1155.9 L87.8 1155.5 L90.8 1155 L93.7 1154.4 L96.6 1153.9 L99.6 1153.3 L102.5 1152.7 L105.5 1152.1 L108.4 1151.5 L111.3 1150.9 L114.3 1150.2 L117.2 1149.5 L120.1 1148.7 L123.1 1147.7 L126 1146.4 L128.9 1144.8 L131.9 1142.7 L134.8 1140 L137.7 1136.6 L140.7 1132.1 L143.6 1126.4 L146.5 1119.4 L149.5 1110.9 L152.4 1101.1 L155.4 1090.1 L158.3 1078.2 L161.2 1065.6 L164.2 1052.6 L167.1 1039.3 L170 1026 L173 1012.8 L175.9 1000 L178.8 987.5 L181.8 975.7 L184.7 964.5 L187.6 953.9 L190.6 944 L193.5 934.9 L196.4 926.9 L199.4 920 L202.3 914.5 L205.2 910.4 L208.2 907.6 L211.1 906.1 L214 905.7 L217 906.2 L219.9 907.6 L222.9 909.7 L225.8 912.7 L228.7 916.6 L231.7 921.4 L234.6 927 L237.5 933.4 L240.5 940.4 L243.4 948 L246.3 956.1 L249.3 964.5 L252.2 973.3 L255.1 982.2 L258.1 991.4 L261 1000.5 L263.9 1009.6 L266.9 1018.5 L269.8 1027.2 L272.8 1035.6 L275.7 1043.6 L278.6 1051.4 L281.6 1058.8 L284.5 1065.8 L287.4 1072.6 L290.4 1079.1 L293.3 1085.2 L296.2 1091 L299.2 1096.5 L302.1 1101.5 L305 1106.1 L308 1110.4 L310.9 1114.3 L313.8 1117.9 L316.8 1121.2 L319.7 1124.2 L322.6 1127 L325.6 1129.6 L328.5 1132 L331.5 1134.2 L334.4 1136.3 L337.3 1138.2 L340.3 1139.9 L343.2 1141.6 L346.1 1143.1 L349.1 1144.5 L352 1145.8 L354.9 1147 L357.9 1148.1 L360.8 1149.1 L363.7 1150.1 L366.7 1150.9 L369.6 1151.7 L372.5 1152.4 L375.5 1153.1 L378.4 1153.7 L381.3 1154.3 L384.3 1154.8 L387.2 1155.3 L390.2 1155.8 L393.1 1156.2 L396 1156.5 L399 1156.9 L401.9 1157.2 L404.8 1157.5 L407.8 1157.8 L410.7 1158 L413.6 1158.3 L416.6 1158.5 L419.5 1158.7 L422.4 1158.9 L425.4 1159.2 L428.3 1159.4 L431.2 1159.6 L434.2 1159.8 L437.1 1160 L440 1160.2 L443 1160.4 L445.9 1160.5 L448.8 1160.7 L451.8 1160.8 L454.7 1161 L457.7 1161.1 L460.6 1161.2 L463.5 1161.3" fill="none" stroke="#069e9a" stroke-width="1.75" stroke-linejoin="round"/>
<path d="M82 1156.1 L84.9 1155.8 L87.8 1155.3 L90.8 1154.8 L93.7 1154.2 L96.6 1153.6 L99.6 1153 L102.5 1152.4 L105.5 1151.8 L108.4 1151.2 L111.3 1150.5 L114.3 1149.8 L117.2 1149.1 L120.1 1148.2 L123.1 1147.2 L126 1145.9 L128.9 1144.2 L131.9 1142 L134.8 1139.2 L137.7 1135.5 L140.7 1130.8 L143.6 1124.9 L146.5 1117.5 L149.5 1108.6 L152.4 1098.3 L155.4 1086.7 L158.3 1074.2 L161.2 1060.9 L164.2 1047.2 L167.1 1033.3 L170 1019.3 L173 1005.5 L175.9 992 L178.8 978.9 L181.8 966.5 L184.7 954.8 L187.6 943.7 L190.6 933.3 L193.5 923.8 L196.4 915.4 L199.4 908.2 L202.3 902.5 L205.2 898.2 L208.2 895.4 L211.1 893.8 L214 893.5 L217 894.1 L219.9 895.6 L222.9 897.9 L225.8 901.1 L228.7 905.2 L231.7 910.3 L234.6 916.2 L237.5 922.9 L240.5 930.3 L243.4 938.3 L246.3 946.8 L249.3 955.7 L252.2 964.9 L255.1 974.4 L258.1 983.9 L261 993.5 L263.9 1003.1 L266.9 1012.4 L269.8 1021.5 L272.8 1030.3 L275.7 1038.8 L278.6 1046.9 L281.6 1054.6 L284.5 1062 L287.4 1069.1 L290.4 1075.8 L293.3 1082.3 L296.2 1088.3 L299.2 1094 L302.1 1099.2 L305 1104.1 L308 1108.5 L310.9 1112.6 L313.8 1116.3 L316.8 1119.7 L319.7 1122.8 L322.6 1125.7 L325.6 1128.4 L328.5 1130.9 L331.5 1133.2 L334.4 1135.4 L337.3 1137.4 L340.3 1139.2 L343.2 1140.9 L346.1 1142.5 L349.1 1144 L352 1145.3 L354.9 1146.6 L357.9 1147.7 L360.8 1148.7 L363.7 1149.7 L366.7 1150.6 L369.6 1151.4 L372.5 1152.1 L375.5 1152.8 L378.4 1153.5 L381.3 1154.1 L384.3 1154.6 L387.2 1155.2 L390.2 1155.6 L393.1 1156 L396 1156.4 L399 1156.8 L401.9 1157.1 L404.8 1157.4 L407.8 1157.7 L410.7 1157.9 L413.6 1158.2 L416.6 1158.4 L419.5 1158.7 L422.4 1158.9 L425.4 1159.1 L428.3 1159.3 L431.2 1159.5 L434.2 1159.7 L437.1 1159.9 L440 1160.1 L443 1160.3 L445.9 1160.5 L448.8 1160.7 L451.8 1160.8 L454.7 1161 L457.7 1161.1 L460.6 1161.2 L463.5 1161.3" fill="none" stroke="#089793" stroke-width="1.75" stroke-linejoin="round"/>
<path d="M82 1156.1 L84.9 1155.8 L87.8 1155.3 L90.8 1154.8 L93.7 1154.2 L96.6 1153.6 L99.6 1153 L102.5 1152.4 L105.5 1151.8 L108.4 1151.1 L111.3 1150.5 L114.3 1149.8 L117.2 1149 L120.1 1148.2 L123.1 1147.1 L126 1145.8 L128.9 1144.1 L131.9 1142 L134.8 1139.1 L137.7 1135.4 L140.7 1130.7 L143.6 1124.7 L146.5 1117.3 L149.5 1108.4 L152.4 1098 L155.4 1086.4 L158.3 1073.8 L161.2 1060.4 L164.2 1046.6 L167.1 1032.6 L170 1018.6 L173 1004.7 L175.9 991.1 L178.8 978 L181.8 965.6 L184.7 953.8 L187.6 942.6 L190.6 932.1 L193.5 922.6 L196.4 914.2 L199.4 907 L202.3 901.3 L205.2 897 L208.2 894.1 L211.1 892.6 L214 892.2 L217 892.8 L219.9 894.3 L222.9 896.6 L225.8 899.9 L228.7 904 L231.7 909.1 L234.6 915.1 L237.5 921.8 L240.5 929.3 L243.4 937.3 L246.3 945.9 L249.3 954.8 L252.2 964.1 L255.1 973.5 L258.1 983.2 L261 992.8 L263.9 1002.4 L266.9 1011.8 L269.8 1020.9 L272.8 1029.8 L275.7 1038.3 L278.6 1046.4 L281.6 1054.2 L284.5 1061.6 L287.4 1068.7 L290.4 1075.5 L293.3 1081.9 L296.2 1088 L299.2 1093.7 L302.1 1099 L305 1103.9 L308 1108.3 L310.9 1112.4 L313.8 1116.1 L316.8 1119.6 L319.7 1122.7 L322.6 1125.6 L325.6 1128.3 L328.5 1130.8 L331.5 1133.1 L334.4 1135.3 L337.3 1137.3 L340.3 1139.1 L343.2 1140.8 L346.1 1142.4 L349.1 1143.9 L352 1145.3 L354.9 1146.5 L357.9 1147.6 L360.8 1148.7 L363.7 1149.7 L366.7 1150.5 L369.6 1151.4 L372.5 1152.1 L375.5 1152.8 L378.4 1153.5 L381.3 1154.1 L384.3 1154.6 L387.2 1155.1 L390.2 1155.6 L393.1 1156 L396 1156.4 L399 1156.8 L401.9 1157.1 L404.8 1157.4 L407.8 1157.7 L410.7 1157.9 L413.6 1158.2 L416.6 1158.4 L419.5 1158.7 L422.4 1158.9 L425.4 1159.1 L428.3 1159.3 L431.2 1159.5 L434.2 1159.7 L437.1 1159.9 L440 1160.1 L443 1160.3 L445.9 1160.5 L448.8 1160.7 L451.8 1160.8 L454.7 1161 L457.7 1161.1 L460.6 1161.2 L463.5 1161.3" fill="none" stroke="#09908c" stroke-width="1.75" stroke-linejoin="round"/>
<path d="M82 1156.1 L84.9 1155.8 L87.8 1155.3 L90.8 1154.8 L93.7 1154.2 L96.6 1153.6 L99.6 1153 L102.5 1152.4 L105.5 1151.7 L108.4 1151.1 L111.3 1150.4 L114.3 1149.8 L117.2 1149 L120.1 1148.1 L123.1 1147.1 L126 1145.8 L128.9 1144.1 L131.9 1141.9 L134.8 1139 L137.7 1135.3 L140.7 1130.6 L143.6 1124.6 L146.5 1117.1 L149.5 1108.1 L152.4 1097.7 L155.4 1086 L158.3 1073.3 L161.2 1059.9 L164.2 1046.1 L167.1 1032 L170 1017.9 L173 1003.9 L175.9 990.3 L178.8 977.1 L181.8 964.6 L184.7 952.7 L187.6 941.5 L190.6 931 L193.5 921.4 L196.4 913 L199.4 905.8 L202.3 900 L205.2 895.7 L208.2 892.8 L211.1 891.3 L214 890.9 L217 891.6 L219.9 893.1 L222.9 895.4 L225.8 898.6 L228.7 902.8 L231.7 908 L234.6 913.9 L237.5 920.7 L240.5 928.2 L243.4 936.3 L246.3 944.9 L249.3 953.9 L252.2 963.2 L255.1 972.7 L258.1 982.4 L261 992.1 L263.9 1001.7 L266.9 1011.2 L269.8 1020.4 L272.8 1029.2 L275.7 1037.8 L278.6 1045.9 L281.6 1053.7 L284.5 1061.2 L287.4 1068.3 L290.4 1075.2 L293.3 1081.6 L296.2 1087.7 L299.2 1093.5 L302.1 1098.8 L305 1103.7 L308 1108.1 L310.9 1112.2 L313.8 1116 L316.8 1119.4 L319.7 1122.6 L322.6 1125.5 L325.6 1128.2 L328.5 1130.7 L331.5 1133 L334.4 1135.2 L337.3 1137.2 L340.3 1139 L343.2 1140.8 L346.1 1142.4 L349.1 1143.8 L352 1145.2 L354.9 1146.5 L357.9 1147.6 L360.8 1148.7 L363.7 1149.6 L366.7 1150.5 L369.6 1151.3 L372.5 1152.1 L375.5 1152.8 L378.4 1153.4 L381.3 1154 L384.3 1154.6 L387.2 1155.1 L390.2 1155.6 L393.1 1156 L396 1156.4 L399 1156.7 L401.9 1157.1 L404.8 1157.4 L407.8 1157.7 L410.7 1157.9 L413.6 1158.2 L416.6 1158.4 L419.5 1158.7 L422.4 1158.9 L425.4 1159.1 L428.3 1159.3 L431.2 1159.5 L434.2 1159.7 L437.1 1159.9 L440 1160.1 L443 1160.3 L445.9 1160.5 L448.8 1160.7 L451.8 1160.8 L454.7 1161 L457.7 1161.1 L460.6 1161.2 L463.5 1161.3" fill="none" stroke="#0a8a86" stroke-width="1.75" stroke-linejoin="round"/>
</g>
<rect x="81.7" y="864.7" width="382.3" height="308.1" fill="none" stroke="#000" stroke-width="2" />
<line x1="75.7" y1="1164.7" x2="81.7" y2="1164.7" stroke="#000" stroke-width="2" />
<text x="70.7" y="1170.3" font-size="15.7" font-weight="bold" font-style="normal" text-anchor="end" fill="#000" >0</text>
<line x1="75.7" y1="1114.7" x2="81.7" y2="1114.7" stroke="#000" stroke-width="2" />
<text x="70.7" y="1120.3" font-size="15.7" font-weight="bold" font-style="normal" text-anchor="end" fill="#000" >2000</text>
<line x1="75.7" y1="1064.7" x2="81.7" y2="1064.7" stroke="#000" stroke-width="2" />
<text x="70.7" y="1070.3" font-size="15.7" font-weight="bold" font-style="normal" text-anchor="end" fill="#000" >4000</text>
<line x1="75.7" y1="1014.7" x2="81.7" y2="1014.7" stroke="#000" stroke-width="2" />
<text x="70.7" y="1020.3" font-size="15.7" font-weight="bold" font-style="normal" text-anchor="end" fill="#000" >6000</text>
<line x1="75.7" y1="964.7" x2="81.7" y2="964.7" stroke="#000" stroke-width="2" />
<text x="70.7" y="970.3" font-size="15.7" font-weight="bold" font-style="normal" text-anchor="end" fill="#000" >8000</text>
<line x1="75.7" y1="914.7" x2="81.7" y2="914.7" stroke="#000" stroke-width="2" />
<text x="70.7" y="920.3" font-size="15.7" font-weight="bold" font-style="normal" text-anchor="end" fill="#000" >10000</text>
<line x1="78.2" y1="1139.7" x2="81.7" y2="1139.7" stroke="#000" stroke-width="2" />
<line x1="78.2" y1="1089.7" x2="81.7" y2="1089.7" stroke="#000" stroke-width="2" />
<line x1="78.2" y1="1039.7" x2="81.7" y2="1039.7" stroke="#000" stroke-width="2" />
<line x1="78.2" y1="989.7" x2="81.7" y2="989.7" stroke="#000" stroke-width="2" />
<line x1="78.2" y1="939.7" x2="81.7" y2="939.7" stroke="#000" stroke-width="2" />
<line x1="78.2" y1="889.7" x2="81.7" y2="889.7" stroke="#000" stroke-width="2" />
<line x1="126" y1="1172.8" x2="126" y2="1178.8" stroke="#000" stroke-width="2" />
<text x="126" y="1195.5" font-size="15.7" font-weight="bold" font-style="normal" text-anchor="middle" fill="#000" >350</text>
<line x1="199.38" y1="1172.8" x2="199.38" y2="1178.8" stroke="#000" stroke-width="2" />
<text x="199.38" y="1195.5" font-size="15.7" font-weight="bold" font-style="normal" text-anchor="middle" fill="#000" >400</text>
<line x1="272.75" y1="1172.8" x2="272.75" y2="1178.8" stroke="#000" stroke-width="2" />
<text x="272.75" y="1195.5" font-size="15.7" font-weight="bold" font-style="normal" text-anchor="middle" fill="#000" >450</text>
<line x1="346.12" y1="1172.8" x2="346.12" y2="1178.8" stroke="#000" stroke-width="2" />
<text x="346.12" y="1195.5" font-size="15.7" font-weight="bold" font-style="normal" text-anchor="middle" fill="#000" >500</text>
<line x1="419.5" y1="1172.8" x2="419.5" y2="1178.8" stroke="#000" stroke-width="2" />
<text x="419.5" y="1195.5" font-size="15.7" font-weight="bold" font-style="normal" text-anchor="middle" fill="#000" >550</text>
<line x1="89.31" y1="1172.8" x2="89.31" y2="1176.3" stroke="#000" stroke-width="2" />
<line x1="162.69" y1="1172.8" x2="162.69" y2="1176.3" stroke="#000" stroke-width="2" />
<line x1="236.06" y1="1172.8" x2="236.06" y2="1176.3" stroke="#000" stroke-width="2" />
<line x1="309.44" y1="1172.8" x2="309.44" y2="1176.3" stroke="#000" stroke-width="2" />
<line x1="382.81" y1="1172.8" x2="382.81" y2="1176.3" stroke="#000" stroke-width="2" />
<line x1="456.19" y1="1172.8" x2="456.19" y2="1176.3" stroke="#000" stroke-width="2" />
<text x="273" y="1215.6" font-size="16" font-weight="bold" font-style="normal" text-anchor="middle" fill="#000" >Wavelength (nm)</text>
<text x="29" y="1020" font-size="15.5" font-weight="bold" font-style="normal" text-anchor="middle" fill="#000" transform="rotate(-90 29 1020)" >Intensity (a.u.)</text>
<text transform="translate(14.6 861.5) scale(1.1 1)" font-size="26.3" font-weight="bold" font-style="normal" text-anchor="start" fill="#000" >e)</text>
<text x="128" y="896.3" font-size="15.7" font-weight="bold" font-style="normal" text-anchor="middle" fill="#189090" >16.9 uL</text>
<text x="125.7" y="957.4" font-size="15.9" font-weight="bold" font-style="normal" text-anchor="middle" fill="#189090" >0 uL</text>
<line x1="122.7" y1="939" x2="122.7" y2="917" stroke="#189090" stroke-width="2.5" />
<polygon points="122.7,906.5 118.2,920.5 127.2,920.5" fill="#189090" stroke="none" stroke-width="1" />
<line x1="292" y1="870.5" x2="292" y2="1002.55" stroke="#000" stroke-width="1.5" />
<line x1="291.25" y1="1001.8" x2="461.2" y2="1001.8" stroke="#000" stroke-width="1.5" />
<line x1="328.8" y1="1001.8" x2="328.8" y2="1005.8" stroke="#000" stroke-width="1.3" />
<text x="328.8" y="1018.5" font-size="11.3" font-weight="bold" font-style="normal" text-anchor="middle" fill="#000" >3.4</text>
<line x1="367.3" y1="1001.8" x2="367.3" y2="1005.8" stroke="#000" stroke-width="1.3" />
<text x="367.3" y="1018.5" font-size="11.3" font-weight="bold" font-style="normal" text-anchor="middle" fill="#000" >3.6</text>
<line x1="405.8" y1="1001.8" x2="405.8" y2="1005.8" stroke="#000" stroke-width="1.3" />
<text x="405.8" y="1018.5" font-size="11.3" font-weight="bold" font-style="normal" text-anchor="middle" fill="#000" >3.8</text>
<line x1="444.1" y1="1001.8" x2="444.1" y2="1005.8" stroke="#000" stroke-width="1.3" />
<text x="444.1" y="1018.5" font-size="11.3" font-weight="bold" font-style="normal" text-anchor="middle" fill="#000" >4.0</text>
<line x1="309.6" y1="1001.8" x2="309.6" y2="1004.1" stroke="#000" stroke-width="1.1" />
<line x1="348" y1="1001.8" x2="348" y2="1004.1" stroke="#000" stroke-width="1.1" />
<line x1="386.5" y1="1001.8" x2="386.5" y2="1004.1" stroke="#000" stroke-width="1.1" />
<line x1="425" y1="1001.8" x2="425" y2="1004.1" stroke="#000" stroke-width="1.1" />
<line x1="288" y1="904.8" x2="292" y2="904.8" stroke="#000" stroke-width="1.3" />
<text x="286.5" y="908.87" font-size="11.3" font-weight="bold" font-style="normal" text-anchor="end" fill="#000" >3.6</text>
<line x1="288" y1="943.5" x2="292" y2="943.5" stroke="#000" stroke-width="1.3" />
<text x="286.5" y="947.57" font-size="11.3" font-weight="bold" font-style="normal" text-anchor="end" fill="#000" >3.5</text>
<line x1="288" y1="982.2" x2="292" y2="982.2" stroke="#000" stroke-width="1.3" />
<text x="286.5" y="986.27" font-size="11.3" font-weight="bold" font-style="normal" text-anchor="end" fill="#000" >3.4</text>
<line x1="289.7" y1="885.4" x2="292" y2="885.4" stroke="#000" stroke-width="1.1" />
<line x1="289.7" y1="924.1" x2="292" y2="924.1" stroke="#000" stroke-width="1.1" />
<line x1="289.7" y1="962.8" x2="292" y2="962.8" stroke="#000" stroke-width="1.1" />
<rect x="299.3" y="988.7" width="8.6" height="8.6" fill="#000" stroke="none" stroke-width="1" />
<rect x="323.4" y="972.8" width="8.6" height="8.6" fill="#000" stroke="none" stroke-width="1" />
<rect x="342.3" y="953.7" width="8.6" height="8.6" fill="#000" stroke="none" stroke-width="1" />
<rect x="370.5" y="931.5" width="8.6" height="8.6" fill="#000" stroke="none" stroke-width="1" />
<rect x="391" y="922.9" width="8.6" height="8.6" fill="#000" stroke="none" stroke-width="1" />
<rect x="400.1" y="910.1" width="8.6" height="8.6" fill="#000" stroke="none" stroke-width="1" />
<rect x="422.3" y="891.2" width="8.6" height="8.6" fill="#000" stroke="none" stroke-width="1" />
<rect x="444.2" y="875.8" width="8.6" height="8.6" fill="#000" stroke="none" stroke-width="1" />
<line x1="303.6" y1="993.4" x2="448.5" y2="880.1" stroke="#ff0000" stroke-width="1.4" />
<text x="297.8" y="885.2" font-size="14.3" font-weight="bold" font-style="normal" text-anchor="start" fill="#000" ><tspan font-style="italic">K</tspan> = 0.38981 CFU/mL</text>
<text x="297.8" y="905.2" font-size="14.3" font-weight="bold" font-style="normal" text-anchor="start" fill="#000" ><tspan font-style="italic">R</tspan><tspan font-size="8.5" dy="-5">2</tspan><tspan dy="5"> = 0.994</tspan></text>
<text x="376" y="1032" font-size="11" font-weight="bold" font-style="normal" text-anchor="middle" fill="#000" >log [<tspan font-style="italic">S. albus</tspan>, CFU/mL]</text>
<text x="268.2" y="937" font-size="11.66" font-weight="bold" font-style="normal" text-anchor="middle" fill="#000" transform="rotate(-90 268.2 937)" >log [Intensity, a.u.]</text>
<g clip-path="url(#clipF)">
<path d="M564.3 1152.1 L567.3 1152.1 L570.2 1152.1 L573.2 1152 L576.1 1152 L579.1 1152 L582 1152 L584.9 1152 L587.9 1152 L590.8 1151.9 L593.8 1151.9 L596.7 1151.9 L599.7 1151.9 L602.6 1151.8 L605.6 1151.8 L608.5 1151.7 L611.4 1151.6 L614.4 1151.5 L617.3 1151.3 L620.3 1151 L623.2 1150.6 L626.2 1150.1 L629.1 1149.6 L632.1 1149 L635 1148.4 L637.9 1147.8 L640.9 1147.2 L643.8 1146.5 L646.8 1145.7 L649.7 1144.9 L652.7 1144.2 L655.6 1143.4 L658.5 1142.6 L661.5 1141.8 L664.4 1141 L667.4 1140.2 L670.3 1139.4 L673.3 1138.6 L676.2 1137.9 L679.2 1137.2 L682.1 1136.5 L685 1135.9 L688 1135.4 L690.9 1134.9 L693.9 1134.5 L696.8 1134.1 L699.8 1133.8 L702.7 1133.6 L705.7 1133.4 L708.6 1133.3 L711.5 1133.2 L714.5 1133.1 L717.4 1133.1 L720.4 1133.2 L723.3 1133.3 L726.3 1133.4 L729.2 1133.6 L732.1 1133.9 L735.1 1134.1 L738 1134.4 L741 1134.7 L743.9 1135 L746.9 1135.4 L749.8 1135.8 L752.8 1136.2 L755.7 1136.5 L758.6 1136.9 L761.6 1137.3 L764.5 1137.7 L767.5 1138.1 L770.4 1138.5 L773.4 1138.9 L776.3 1139.3 L779.3 1139.7 L782.2 1140 L785.1 1140.4 L788.1 1140.8 L791 1141.2 L794 1141.7 L796.9 1142.1 L799.9 1142.5 L802.8 1142.9 L805.7 1143.4 L808.7 1143.9 L811.6 1144.3 L814.6 1144.8 L817.5 1145.2 L820.5 1145.7 L823.4 1146.1 L826.4 1146.5 L829.3 1146.8 L832.2 1147.2 L835.2 1147.5 L838.1 1147.8 L841.1 1148.1 L844 1148.4 L847 1148.7 L849.9 1148.9 L852.9 1149.2 L855.8 1149.4 L858.7 1149.6 L861.7 1149.8 L864.6 1150 L867.6 1150.2 L870.5 1150.4 L873.5 1150.6 L876.4 1150.8 L879.3 1151 L882.3 1151.1 L885.2 1151.3 L888.2 1151.5 L891.1 1151.6 L894.1 1151.8 L897 1152 L900 1152.1 L902.9 1152.3 L905.8 1152.4 L908.8 1152.6 L911.7 1152.7 L914.7 1152.8 L917.6 1153 L920.6 1153.1 L923.5 1153.3 L926.5 1153.4 L929.4 1153.5 L932.3 1153.7 L935.3 1153.8 L938.2 1153.9 L941.2 1154 L944.1 1154.1 L947.1 1154.2" fill="none" stroke="#d0d6fa" stroke-width="1.6" stroke-linejoin="round"/>
<path d="M564.3 1152.1 L567.3 1152.1 L570.2 1152.1 L573.2 1152.1 L576.1 1152.1 L579.1 1152.1 L582 1152.1 L584.9 1152 L587.9 1152 L590.8 1152 L593.8 1152 L596.7 1151.9 L599.7 1151.9 L602.6 1151.8 L605.6 1151.8 L608.5 1151.7 L611.4 1151.6 L614.4 1151.5 L617.3 1151.2 L620.3 1150.9 L623.2 1150.5 L626.2 1149.9 L629.1 1149.3 L632.1 1148.7 L635 1148 L637.9 1147.3 L640.9 1146.5 L643.8 1145.6 L646.8 1144.7 L649.7 1143.7 L652.7 1142.8 L655.6 1141.8 L658.5 1140.8 L661.5 1139.8 L664.4 1138.8 L667.4 1137.8 L670.3 1136.8 L673.3 1135.9 L676.2 1134.9 L679.2 1134.1 L682.1 1133.3 L685 1132.6 L688 1131.9 L690.9 1131.4 L693.9 1130.9 L696.8 1130.5 L699.8 1130.2 L702.7 1129.9 L705.7 1129.8 L708.6 1129.6 L711.5 1129.6 L714.5 1129.6 L717.4 1129.6 L720.4 1129.7 L723.3 1129.9 L726.3 1130.2 L729.2 1130.5 L732.1 1130.8 L735.1 1131.2 L738 1131.5 L741 1132 L743.9 1132.4 L746.9 1132.9 L749.8 1133.4 L752.8 1133.9 L755.7 1134.5 L758.6 1135 L761.6 1135.5 L764.5 1136 L767.5 1136.5 L770.4 1137 L773.4 1137.5 L776.3 1138 L779.3 1138.5 L782.2 1139 L785.1 1139.5 L788.1 1139.9 L791 1140.4 L794 1140.9 L796.9 1141.4 L799.9 1141.9 L802.8 1142.4 L805.7 1142.9 L808.7 1143.4 L811.6 1143.9 L814.6 1144.4 L817.5 1144.9 L820.5 1145.4 L823.4 1145.8 L826.4 1146.2 L829.3 1146.6 L832.2 1147 L835.2 1147.3 L838.1 1147.6 L841.1 1148 L844 1148.3 L847 1148.5 L849.9 1148.8 L852.9 1149.1 L855.8 1149.3 L858.7 1149.5 L861.7 1149.8 L864.6 1150 L867.6 1150.2 L870.5 1150.4 L873.5 1150.6 L876.4 1150.8 L879.3 1150.9 L882.3 1151.1 L885.2 1151.3 L888.2 1151.5 L891.1 1151.6 L894.1 1151.8 L897 1151.9 L900 1152.1 L902.9 1152.3 L905.8 1152.4 L908.8 1152.6 L911.7 1152.7 L914.7 1152.8 L917.6 1153 L920.6 1153.1 L923.5 1153.3 L926.5 1153.4 L929.4 1153.5 L932.3 1153.7 L935.3 1153.8 L938.2 1153.9 L941.2 1154 L944.1 1154.1 L947.1 1154.2" fill="none" stroke="#c5ccf9" stroke-width="1.6" stroke-linejoin="round"/>
<path d="M564.3 1152.2 L567.3 1152.2 L570.2 1152.2 L573.2 1152.2 L576.1 1152.2 L579.1 1152.1 L582 1152.1 L584.9 1152.1 L587.9 1152.1 L590.8 1152 L593.8 1152 L596.7 1152 L599.7 1151.9 L602.6 1151.9 L605.6 1151.8 L608.5 1151.7 L611.4 1151.6 L614.4 1151.5 L617.3 1151.2 L620.3 1150.8 L623.2 1150.4 L626.2 1149.8 L629.1 1149.1 L632.1 1148.4 L635 1147.6 L637.9 1146.7 L640.9 1145.7 L643.8 1144.7 L646.8 1143.6 L649.7 1142.5 L652.7 1141.3 L655.6 1140.1 L658.5 1138.9 L661.5 1137.8 L664.4 1136.6 L667.4 1135.4 L670.3 1134.2 L673.3 1133 L676.2 1131.9 L679.2 1130.9 L682.1 1130 L685 1129.1 L688 1128.4 L690.9 1127.8 L693.9 1127.2 L696.8 1126.7 L699.8 1126.4 L702.7 1126.1 L705.7 1126 L708.6 1125.9 L711.5 1125.9 L714.5 1125.9 L717.4 1126 L720.4 1126.2 L723.3 1126.5 L726.3 1126.8 L729.2 1127.2 L732.1 1127.6 L735.1 1128.1 L738 1128.6 L741 1129.2 L743.9 1129.8 L746.9 1130.4 L749.8 1131 L752.8 1131.7 L755.7 1132.3 L758.6 1133 L761.6 1133.6 L764.5 1134.3 L767.5 1134.9 L770.4 1135.5 L773.4 1136.1 L776.3 1136.7 L779.3 1137.3 L782.2 1137.9 L785.1 1138.5 L788.1 1139 L791 1139.6 L794 1140.1 L796.9 1140.7 L799.9 1141.2 L802.8 1141.8 L805.7 1142.4 L808.7 1142.9 L811.6 1143.5 L814.6 1144 L817.5 1144.5 L820.5 1145 L823.4 1145.5 L826.4 1146 L829.3 1146.4 L832.2 1146.8 L835.2 1147.1 L838.1 1147.5 L841.1 1147.8 L844 1148.1 L847 1148.4 L849.9 1148.7 L852.9 1149 L855.8 1149.2 L858.7 1149.5 L861.7 1149.7 L864.6 1149.9 L867.6 1150.1 L870.5 1150.3 L873.5 1150.5 L876.4 1150.7 L879.3 1150.9 L882.3 1151.1 L885.2 1151.3 L888.2 1151.4 L891.1 1151.6 L894.1 1151.8 L897 1151.9 L900 1152.1 L902.9 1152.2 L905.8 1152.4 L908.8 1152.5 L911.7 1152.7 L914.7 1152.8 L917.6 1153 L920.6 1153.1 L923.5 1153.3 L926.5 1153.4 L929.4 1153.5 L932.3 1153.6 L935.3 1153.8 L938.2 1153.9 L941.2 1154 L944.1 1154.1 L947.1 1154.2" fill="none" stroke="#bbc3f9" stroke-width="1.6" stroke-linejoin="round"/>
<path d="M564.3 1152.3 L567.3 1152.3 L570.2 1152.3 L573.2 1152.3 L576.1 1152.2 L579.1 1152.2 L582 1152.2 L584.9 1152.2 L587.9 1152.1 L590.8 1152.1 L593.8 1152 L596.7 1152 L599.7 1152 L602.6 1151.9 L605.6 1151.8 L608.5 1151.8 L611.4 1151.6 L614.4 1151.4 L617.3 1151.2 L620.3 1150.8 L623.2 1150.2 L626.2 1149.6 L629.1 1148.9 L632.1 1148 L635 1147.1 L637.9 1146.1 L640.9 1145 L643.8 1143.8 L646.8 1142.6 L649.7 1141.3 L652.7 1139.9 L655.6 1138.5 L658.5 1137.1 L661.5 1135.7 L664.4 1134.3 L667.4 1132.9 L670.3 1131.5 L673.3 1130.2 L676.2 1128.9 L679.2 1127.7 L682.1 1126.6 L685 1125.7 L688 1124.8 L690.9 1124.1 L693.9 1123.5 L696.8 1123 L699.8 1122.6 L702.7 1122.4 L705.7 1122.2 L708.6 1122.2 L711.5 1122.2 L714.5 1122.3 L717.4 1122.4 L720.4 1122.7 L723.3 1123 L726.3 1123.5 L729.2 1124 L732.1 1124.5 L735.1 1125.1 L738 1125.7 L741 1126.4 L743.9 1127.1 L746.9 1127.8 L749.8 1128.6 L752.8 1129.4 L755.7 1130.2 L758.6 1131 L761.6 1131.8 L764.5 1132.5 L767.5 1133.3 L770.4 1134 L773.4 1134.7 L776.3 1135.4 L779.3 1136.1 L782.2 1136.8 L785.1 1137.5 L788.1 1138.1 L791 1138.7 L794 1139.4 L796.9 1140 L799.9 1140.6 L802.8 1141.2 L805.7 1141.8 L808.7 1142.5 L811.6 1143.1 L814.6 1143.6 L817.5 1144.2 L820.5 1144.7 L823.4 1145.2 L826.4 1145.7 L829.3 1146.2 L832.2 1146.6 L835.2 1147 L838.1 1147.3 L841.1 1147.7 L844 1148 L847 1148.3 L849.9 1148.6 L852.9 1148.9 L855.8 1149.2 L858.7 1149.4 L861.7 1149.6 L864.6 1149.9 L867.6 1150.1 L870.5 1150.3 L873.5 1150.5 L876.4 1150.7 L879.3 1150.9 L882.3 1151.1 L885.2 1151.2 L888.2 1151.4 L891.1 1151.6 L894.1 1151.8 L897 1151.9 L900 1152.1 L902.9 1152.2 L905.8 1152.4 L908.8 1152.5 L911.7 1152.7 L914.7 1152.8 L917.6 1153 L920.6 1153.1 L923.5 1153.3 L926.5 1153.4 L929.4 1153.5 L932.3 1153.6 L935.3 1153.8 L938.2 1153.9 L941.2 1154 L944.1 1154.1 L947.1 1154.2" fill="none" stroke="#b0b9f8" stroke-width="1.6" stroke-linejoin="round"/>
<path d="M564.3 1152.4 L567.3 1152.4 L570.2 1152.3 L573.2 1152.3 L576.1 1152.3 L579.1 1152.3 L582 1152.2 L584.9 1152.2 L587.9 1152.2 L590.8 1152.1 L593.8 1152.1 L596.7 1152 L599.7 1152 L602.6 1151.9 L605.6 1151.9 L608.5 1151.8 L611.4 1151.6 L614.4 1151.4 L617.3 1151.1 L620.3 1150.7 L623.2 1150.1 L626.2 1149.4 L629.1 1148.6 L632.1 1147.7 L635 1146.7 L637.9 1145.5 L640.9 1144.3 L643.8 1143 L646.8 1141.5 L649.7 1140 L652.7 1138.5 L655.6 1136.9 L658.5 1135.2 L661.5 1133.6 L664.4 1132 L667.4 1130.4 L670.3 1128.9 L673.3 1127.3 L676.2 1125.9 L679.2 1124.5 L682.1 1123.3 L685 1122.2 L688 1121.3 L690.9 1120.5 L693.9 1119.8 L696.8 1119.2 L699.8 1118.8 L702.7 1118.6 L705.7 1118.4 L708.6 1118.4 L711.5 1118.5 L714.5 1118.6 L717.4 1118.8 L720.4 1119.2 L723.3 1119.6 L726.3 1120.1 L729.2 1120.7 L732.1 1121.3 L735.1 1122 L738 1122.8 L741 1123.6 L743.9 1124.4 L746.9 1125.3 L749.8 1126.2 L752.8 1127.2 L755.7 1128.1 L758.6 1129 L761.6 1129.9 L764.5 1130.8 L767.5 1131.7 L770.4 1132.5 L773.4 1133.3 L776.3 1134.1 L779.3 1134.9 L782.2 1135.7 L785.1 1136.5 L788.1 1137.2 L791 1137.9 L794 1138.6 L796.9 1139.3 L799.9 1140 L802.8 1140.6 L805.7 1141.3 L808.7 1142 L811.6 1142.6 L814.6 1143.3 L817.5 1143.9 L820.5 1144.4 L823.4 1145 L826.4 1145.5 L829.3 1145.9 L832.2 1146.4 L835.2 1146.8 L838.1 1147.2 L841.1 1147.5 L844 1147.9 L847 1148.2 L849.9 1148.5 L852.9 1148.8 L855.8 1149.1 L858.7 1149.3 L861.7 1149.6 L864.6 1149.8 L867.6 1150 L870.5 1150.2 L873.5 1150.5 L876.4 1150.7 L879.3 1150.9 L882.3 1151 L885.2 1151.2 L888.2 1151.4 L891.1 1151.6 L894.1 1151.7 L897 1151.9 L900 1152.1 L902.9 1152.2 L905.8 1152.4 L908.8 1152.5 L911.7 1152.7 L914.7 1152.8 L917.6 1153 L920.6 1153.1 L923.5 1153.2 L926.5 1153.4 L929.4 1153.5 L932.3 1153.6 L935.3 1153.8 L938.2 1153.9 L941.2 1154 L944.1 1154.1 L947.1 1154.2" fill="none" stroke="#a6b0f8" stroke-width="1.6" stroke-linejoin="round"/>
<path d="M564.3 1152.5 L567.3 1152.5 L570.2 1152.4 L573.2 1152.4 L576.1 1152.4 L579.1 1152.4 L582 1152.3 L584.9 1152.3 L587.9 1152.2 L590.8 1152.2 L593.8 1152.2 L596.7 1152.1 L599.7 1152 L602.6 1152 L605.6 1151.9 L608.5 1151.8 L611.4 1151.6 L614.4 1151.4 L617.3 1151.1 L620.3 1150.6 L623.2 1150 L626.2 1149.2 L629.1 1148.3 L632.1 1147.3 L635 1146.1 L637.9 1144.8 L640.9 1143.4 L643.8 1141.8 L646.8 1140.1 L649.7 1138.4 L652.7 1136.5 L655.6 1134.7 L658.5 1132.8 L661.5 1130.9 L664.4 1129 L667.4 1127.1 L670.3 1125.3 L673.3 1123.5 L676.2 1121.9 L679.2 1120.3 L682.1 1118.9 L685 1117.6 L688 1116.5 L690.9 1115.6 L693.9 1114.8 L696.8 1114.2 L699.8 1113.8 L702.7 1113.5 L705.7 1113.4 L708.6 1113.4 L711.5 1113.5 L714.5 1113.7 L717.4 1114 L720.4 1114.5 L723.3 1115 L726.3 1115.6 L729.2 1116.3 L732.1 1117.1 L735.1 1118 L738 1118.9 L741 1119.8 L743.9 1120.9 L746.9 1121.9 L749.8 1123 L752.8 1124.1 L755.7 1125.2 L758.6 1126.3 L761.6 1127.4 L764.5 1128.5 L767.5 1129.5 L770.4 1130.5 L773.4 1131.5 L776.3 1132.4 L779.3 1133.3 L782.2 1134.2 L785.1 1135.1 L788.1 1136 L791 1136.8 L794 1137.6 L796.9 1138.4 L799.9 1139.1 L802.8 1139.9 L805.7 1140.6 L808.7 1141.3 L811.6 1142.1 L814.6 1142.7 L817.5 1143.4 L820.5 1144 L823.4 1144.6 L826.4 1145.1 L829.3 1145.6 L832.2 1146.1 L835.2 1146.5 L838.1 1146.9 L841.1 1147.3 L844 1147.7 L847 1148.1 L849.9 1148.4 L852.9 1148.7 L855.8 1149 L858.7 1149.2 L861.7 1149.5 L864.6 1149.7 L867.6 1150 L870.5 1150.2 L873.5 1150.4 L876.4 1150.6 L879.3 1150.8 L882.3 1151 L885.2 1151.2 L888.2 1151.4 L891.1 1151.5 L894.1 1151.7 L897 1151.9 L900 1152 L902.9 1152.2 L905.8 1152.4 L908.8 1152.5 L911.7 1152.7 L914.7 1152.8 L917.6 1153 L920.6 1153.1 L923.5 1153.2 L926.5 1153.4 L929.4 1153.5 L932.3 1153.6 L935.3 1153.8 L938.2 1153.9 L941.2 1154 L944.1 1154.1 L947.1 1154.2" fill="none" stroke="#9ba6f7" stroke-width="1.6" stroke-linejoin="round"/>
<path d="M564.3 1152.6 L567.3 1152.6 L570.2 1152.5 L573.2 1152.5 L576.1 1152.5 L579.1 1152.4 L582 1152.4 L584.9 1152.4 L587.9 1152.3 L590.8 1152.3 L593.8 1152.2 L596.7 1152.2 L599.7 1152.1 L602.6 1152 L605.6 1151.9 L608.5 1151.8 L611.4 1151.6 L614.4 1151.4 L617.3 1151 L620.3 1150.5 L623.2 1149.8 L626.2 1149 L629.1 1148 L632.1 1146.8 L635 1145.5 L637.9 1144 L640.9 1142.4 L643.8 1140.6 L646.8 1138.7 L649.7 1136.7 L652.7 1134.6 L655.6 1132.5 L658.5 1130.3 L661.5 1128.1 L664.4 1126 L667.4 1123.8 L670.3 1121.7 L673.3 1119.7 L676.2 1117.8 L679.2 1116.1 L682.1 1114.5 L685 1113 L688 1111.8 L690.9 1110.8 L693.9 1109.9 L696.8 1109.2 L699.8 1108.7 L702.7 1108.5 L705.7 1108.4 L708.6 1108.4 L711.5 1108.6 L714.5 1108.8 L717.4 1109.2 L720.4 1109.8 L723.3 1110.4 L726.3 1111.1 L729.2 1112 L732.1 1112.9 L735.1 1113.9 L738 1115 L741 1116.1 L743.9 1117.3 L746.9 1118.5 L749.8 1119.8 L752.8 1121.1 L755.7 1122.4 L758.6 1123.7 L761.6 1124.9 L764.5 1126.1 L767.5 1127.3 L770.4 1128.5 L773.4 1129.6 L776.3 1130.7 L779.3 1131.8 L782.2 1132.8 L785.1 1133.8 L788.1 1134.7 L791 1135.7 L794 1136.6 L796.9 1137.4 L799.9 1138.3 L802.8 1139.1 L805.7 1139.9 L808.7 1140.7 L811.6 1141.5 L814.6 1142.2 L817.5 1142.9 L820.5 1143.6 L823.4 1144.2 L826.4 1144.8 L829.3 1145.3 L832.2 1145.8 L835.2 1146.3 L838.1 1146.7 L841.1 1147.1 L844 1147.5 L847 1147.9 L849.9 1148.2 L852.9 1148.6 L855.8 1148.9 L858.7 1149.1 L861.7 1149.4 L864.6 1149.7 L867.6 1149.9 L870.5 1150.1 L873.5 1150.4 L876.4 1150.6 L879.3 1150.8 L882.3 1151 L885.2 1151.2 L888.2 1151.3 L891.1 1151.5 L894.1 1151.7 L897 1151.9 L900 1152 L902.9 1152.2 L905.8 1152.3 L908.8 1152.5 L911.7 1152.7 L914.7 1152.8 L917.6 1153 L920.6 1153.1 L923.5 1153.2 L926.5 1153.4 L929.4 1153.5 L932.3 1153.6 L935.3 1153.8 L938.2 1153.9 L941.2 1154 L944.1 1154.1 L947.1 1154.2" fill="none" stroke="#909cf7" stroke-width="1.6" stroke-linejoin="round"/>
<path d="M564.3 1152.7 L567.3 1152.7 L570.2 1152.7 L573.2 1152.6 L576.1 1152.6 L579.1 1152.6 L582 1152.5 L584.9 1152.5 L587.9 1152.4 L590.8 1152.4 L593.8 1152.3 L596.7 1152.2 L599.7 1152.1 L602.6 1152.1 L605.6 1152 L608.5 1151.8 L611.4 1151.6 L614.4 1151.4 L617.3 1151 L620.3 1150.4 L623.2 1149.6 L626.2 1148.7 L629.1 1147.6 L632.1 1146.3 L635 1144.8 L637.9 1143.1 L640.9 1141.2 L643.8 1139.2 L646.8 1137 L649.7 1134.7 L652.7 1132.2 L655.6 1129.7 L658.5 1127.2 L661.5 1124.7 L664.4 1122.2 L667.4 1119.7 L670.3 1117.3 L673.3 1115 L676.2 1112.8 L679.2 1110.8 L682.1 1108.9 L685 1107.3 L688 1105.9 L690.9 1104.7 L693.9 1103.7 L696.8 1103 L699.8 1102.4 L702.7 1102.2 L705.7 1102.1 L708.6 1102.2 L711.5 1102.4 L714.5 1102.7 L717.4 1103.2 L720.4 1103.9 L723.3 1104.7 L726.3 1105.6 L729.2 1106.6 L732.1 1107.6 L735.1 1108.8 L738 1110.1 L741 1111.4 L743.9 1112.9 L746.9 1114.3 L749.8 1115.8 L752.8 1117.3 L755.7 1118.8 L758.6 1120.3 L761.6 1121.8 L764.5 1123.2 L767.5 1124.6 L770.4 1126 L773.4 1127.3 L776.3 1128.5 L779.3 1129.8 L782.2 1131 L785.1 1132.1 L788.1 1133.2 L791 1134.3 L794 1135.3 L796.9 1136.3 L799.9 1137.2 L802.8 1138.1 L805.7 1139.1 L808.7 1139.9 L811.6 1140.8 L814.6 1141.6 L817.5 1142.4 L820.5 1143.1 L823.4 1143.7 L826.4 1144.4 L829.3 1144.9 L832.2 1145.5 L835.2 1146 L838.1 1146.5 L841.1 1146.9 L844 1147.3 L847 1147.7 L849.9 1148.1 L852.9 1148.4 L855.8 1148.7 L858.7 1149 L861.7 1149.3 L864.6 1149.6 L867.6 1149.8 L870.5 1150.1 L873.5 1150.3 L876.4 1150.5 L879.3 1150.7 L882.3 1150.9 L885.2 1151.1 L888.2 1151.3 L891.1 1151.5 L894.1 1151.7 L897 1151.8 L900 1152 L902.9 1152.2 L905.8 1152.3 L908.8 1152.5 L911.7 1152.6 L914.7 1152.8 L917.6 1152.9 L920.6 1153.1 L923.5 1153.2 L926.5 1153.4 L929.4 1153.5 L932.3 1153.6 L935.3 1153.8 L938.2 1153.9 L941.2 1154 L944.1 1154.1 L947.1 1154.2" fill="none" stroke="#8693f6" stroke-width="1.6" stroke-linejoin="round"/>
<path d="M564.3 1152.8 L567.3 1152.8 L570.2 1152.8 L573.2 1152.7 L576.1 1152.7 L579.1 1152.7 L582 1152.6 L584.9 1152.6 L587.9 1152.5 L590.8 1152.4 L593.8 1152.4 L596.7 1152.3 L599.7 1152.2 L602.6 1152.1 L605.6 1152 L608.5 1151.8 L611.4 1151.6 L614.4 1151.3 L617.3 1150.9 L620.3 1150.3 L623.2 1149.5 L626.2 1148.4 L629.1 1147.2 L632.1 1145.7 L635 1144 L637.9 1142.1 L640.9 1140 L643.8 1137.7 L646.8 1135.2 L649.7 1132.6 L652.7 1129.8 L655.6 1127 L658.5 1124.1 L661.5 1121.3 L664.4 1118.4 L667.4 1115.6 L670.3 1112.9 L673.3 1110.2 L676.2 1107.8 L679.2 1105.5 L682.1 1103.4 L685 1101.6 L688 1100 L690.9 1098.6 L693.9 1097.5 L696.8 1096.7 L699.8 1096.1 L702.7 1095.8 L705.7 1095.8 L708.6 1095.9 L711.5 1096.2 L714.5 1096.6 L717.4 1097.3 L720.4 1098 L723.3 1098.9 L726.3 1100 L729.2 1101.1 L732.1 1102.4 L735.1 1103.8 L738 1105.2 L741 1106.8 L743.9 1108.4 L746.9 1110.1 L749.8 1111.8 L752.8 1113.6 L755.7 1115.3 L758.6 1117 L761.6 1118.7 L764.5 1120.3 L767.5 1121.9 L770.4 1123.5 L773.4 1125 L776.3 1126.4 L779.3 1127.8 L782.2 1129.1 L785.1 1130.4 L788.1 1131.7 L791 1132.9 L794 1134 L796.9 1135.1 L799.9 1136.1 L802.8 1137.2 L805.7 1138.2 L808.7 1139.1 L811.6 1140.1 L814.6 1140.9 L817.5 1141.8 L820.5 1142.5 L823.4 1143.3 L826.4 1143.9 L829.3 1144.6 L832.2 1145.1 L835.2 1145.7 L838.1 1146.2 L841.1 1146.7 L844 1147.1 L847 1147.5 L849.9 1147.9 L852.9 1148.3 L855.8 1148.6 L858.7 1148.9 L861.7 1149.2 L864.6 1149.5 L867.6 1149.7 L870.5 1150 L873.5 1150.2 L876.4 1150.4 L879.3 1150.7 L882.3 1150.9 L885.2 1151.1 L888.2 1151.3 L891.1 1151.5 L894.1 1151.6 L897 1151.8 L900 1152 L902.9 1152.2 L905.8 1152.3 L908.8 1152.5 L911.7 1152.6 L914.7 1152.8 L917.6 1152.9 L920.6 1153.1 L923.5 1153.2 L926.5 1153.4 L929.4 1153.5 L932.3 1153.6 L935.3 1153.8 L938.2 1153.9 L941.2 1154 L944.1 1154.1 L947.1 1154.2" fill="none" stroke="#7b89f6" stroke-width="1.6" stroke-linejoin="round"/>
<path d="M564.3 1152.9 L567.3 1152.9 L570.2 1152.9 L573.2 1152.8 L576.1 1152.8 L579.1 1152.7 L582 1152.7 L584.9 1152.6 L587.9 1152.6 L590.8 1152.5 L593.8 1152.4 L596.7 1152.4 L599.7 1152.3 L602.6 1152.1 L605.6 1152 L608.5 1151.9 L611.4 1151.7 L614.4 1151.3 L617.3 1150.9 L620.3 1150.2 L623.2 1149.3 L626.2 1148.2 L629.1 1146.8 L632.1 1145.3 L635 1143.4 L637.9 1141.4 L640.9 1139.1 L643.8 1136.5 L646.8 1133.8 L649.7 1130.9 L652.7 1127.9 L655.6 1124.8 L658.5 1121.7 L661.5 1118.5 L664.4 1115.4 L667.4 1112.3 L670.3 1109.3 L673.3 1106.5 L676.2 1103.7 L679.2 1101.2 L682.1 1099 L685 1097 L688 1095.2 L690.9 1093.8 L693.9 1092.6 L696.8 1091.7 L699.8 1091.1 L702.7 1090.8 L705.7 1090.8 L708.6 1090.9 L711.5 1091.3 L714.5 1091.8 L717.4 1092.5 L720.4 1093.3 L723.3 1094.3 L726.3 1095.5 L729.2 1096.8 L732.1 1098.2 L735.1 1099.7 L738 1101.3 L741 1103.1 L743.9 1104.9 L746.9 1106.7 L749.8 1108.6 L752.8 1110.6 L755.7 1112.5 L758.6 1114.3 L761.6 1116.2 L764.5 1118 L767.5 1119.8 L770.4 1121.5 L773.4 1123.1 L776.3 1124.7 L779.3 1126.2 L782.2 1127.7 L785.1 1129.1 L788.1 1130.4 L791 1131.7 L794 1133 L796.9 1134.2 L799.9 1135.3 L802.8 1136.4 L805.7 1137.5 L808.7 1138.5 L811.6 1139.5 L814.6 1140.4 L817.5 1141.3 L820.5 1142.1 L823.4 1142.9 L826.4 1143.6 L829.3 1144.3 L832.2 1144.9 L835.2 1145.4 L838.1 1146 L841.1 1146.5 L844 1146.9 L847 1147.4 L849.9 1147.8 L852.9 1148.2 L855.8 1148.5 L858.7 1148.8 L861.7 1149.1 L864.6 1149.4 L867.6 1149.7 L870.5 1149.9 L873.5 1150.2 L876.4 1150.4 L879.3 1150.6 L882.3 1150.8 L885.2 1151 L888.2 1151.2 L891.1 1151.4 L894.1 1151.6 L897 1151.8 L900 1152 L902.9 1152.1 L905.8 1152.3 L908.8 1152.5 L911.7 1152.6 L914.7 1152.8 L917.6 1152.9 L920.6 1153.1 L923.5 1153.2 L926.5 1153.4 L929.4 1153.5 L932.3 1153.6 L935.3 1153.8 L938.2 1153.9 L941.2 1154 L944.1 1154.1 L947.1 1154.2" fill="none" stroke="#717ff5" stroke-width="1.6" stroke-linejoin="round"/>
<path d="M564.3 1153 L567.3 1153 L570.2 1153 L573.2 1153 L576.1 1152.9 L579.1 1152.9 L582 1152.8 L584.9 1152.7 L587.9 1152.7 L590.8 1152.6 L593.8 1152.5 L596.7 1152.4 L599.7 1152.3 L602.6 1152.2 L605.6 1152.1 L608.5 1151.9 L611.4 1151.7 L614.4 1151.3 L617.3 1150.8 L620.3 1150.1 L623.2 1149.1 L626.2 1147.9 L629.1 1146.4 L632.1 1144.7 L635 1142.7 L637.9 1140.4 L640.9 1137.9 L643.8 1135.1 L646.8 1132.1 L649.7 1128.9 L652.7 1125.5 L655.6 1122.1 L658.5 1118.6 L661.5 1115.1 L664.4 1111.6 L667.4 1108.2 L670.3 1104.9 L673.3 1101.7 L676.2 1098.7 L679.2 1095.9 L682.1 1093.4 L685 1091.2 L688 1089.3 L690.9 1087.7 L693.9 1086.4 L696.8 1085.4 L699.8 1084.8 L702.7 1084.5 L705.7 1084.5 L708.6 1084.7 L711.5 1085.1 L714.5 1085.7 L717.4 1086.5 L720.4 1087.4 L723.3 1088.6 L726.3 1089.9 L729.2 1091.3 L732.1 1092.9 L735.1 1094.6 L738 1096.5 L741 1098.4 L743.9 1100.4 L746.9 1102.5 L749.8 1104.6 L752.8 1106.8 L755.7 1108.9 L758.6 1111 L761.6 1113.1 L764.5 1115.1 L767.5 1117 L770.4 1118.9 L773.4 1120.8 L776.3 1122.5 L779.3 1124.2 L782.2 1125.9 L785.1 1127.4 L788.1 1128.9 L791 1130.3 L794 1131.7 L796.9 1133 L799.9 1134.2 L802.8 1135.4 L805.7 1136.6 L808.7 1137.7 L811.6 1138.8 L814.6 1139.8 L817.5 1140.7 L820.5 1141.6 L823.4 1142.4 L826.4 1143.2 L829.3 1143.9 L832.2 1144.5 L835.2 1145.1 L838.1 1145.7 L841.1 1146.2 L844 1146.7 L847 1147.2 L849.9 1147.6 L852.9 1148 L855.8 1148.4 L858.7 1148.7 L861.7 1149 L864.6 1149.3 L867.6 1149.6 L870.5 1149.8 L873.5 1150.1 L876.4 1150.3 L879.3 1150.6 L882.3 1150.8 L885.2 1151 L888.2 1151.2 L891.1 1151.4 L894.1 1151.6 L897 1151.8 L900 1152 L902.9 1152.1 L905.8 1152.3 L908.8 1152.5 L911.7 1152.6 L914.7 1152.8 L917.6 1152.9 L920.6 1153.1 L923.5 1153.2 L926.5 1153.4 L929.4 1153.5 L932.3 1153.6 L935.3 1153.8 L938.2 1153.9 L941.2 1154 L944.1 1154.1 L947.1 1154.2" fill="none" stroke="#6676f5" stroke-width="1.6" stroke-linejoin="round"/>
<path d="M564.3 1153.2 L567.3 1153.2 L570.2 1153.1 L573.2 1153.1 L576.1 1153 L579.1 1153 L582 1152.9 L584.9 1152.9 L587.9 1152.8 L590.8 1152.7 L593.8 1152.6 L596.7 1152.5 L599.7 1152.4 L602.6 1152.3 L605.6 1152.1 L608.5 1151.9 L611.4 1151.7 L614.4 1151.3 L617.3 1150.7 L620.3 1149.9 L623.2 1148.9 L626.2 1147.6 L629.1 1146 L632.1 1144 L635 1141.8 L637.9 1139.3 L640.9 1136.4 L643.8 1133.3 L646.8 1130 L649.7 1126.4 L652.7 1122.7 L655.6 1118.8 L658.5 1114.9 L661.5 1111 L664.4 1107.1 L667.4 1103.3 L670.3 1099.6 L673.3 1096 L676.2 1092.7 L679.2 1089.6 L682.1 1086.8 L685 1084.3 L688 1082.2 L690.9 1080.4 L693.9 1079 L696.8 1077.9 L699.8 1077.2 L702.7 1076.9 L705.7 1076.9 L708.6 1077.2 L711.5 1077.7 L714.5 1078.4 L717.4 1079.3 L720.4 1080.4 L723.3 1081.7 L726.3 1083.2 L729.2 1084.8 L732.1 1086.6 L735.1 1088.6 L738 1090.6 L741 1092.8 L743.9 1095.1 L746.9 1097.4 L749.8 1099.8 L752.8 1102.2 L755.7 1104.6 L758.6 1107 L761.6 1109.3 L764.5 1111.6 L767.5 1113.8 L770.4 1115.9 L773.4 1118 L776.3 1120 L779.3 1121.9 L782.2 1123.7 L785.1 1125.4 L788.1 1127.1 L791 1128.6 L794 1130.1 L796.9 1131.6 L799.9 1133 L802.8 1134.3 L805.7 1135.6 L808.7 1136.8 L811.6 1137.9 L814.6 1139 L817.5 1140 L820.5 1141 L823.4 1141.9 L826.4 1142.7 L829.3 1143.4 L832.2 1144.1 L835.2 1144.8 L838.1 1145.4 L841.1 1145.9 L844 1146.5 L847 1147 L849.9 1147.4 L852.9 1147.8 L855.8 1148.2 L858.7 1148.6 L861.7 1148.9 L864.6 1149.2 L867.6 1149.5 L870.5 1149.8 L873.5 1150 L876.4 1150.3 L879.3 1150.5 L882.3 1150.7 L885.2 1151 L888.2 1151.2 L891.1 1151.4 L894.1 1151.6 L897 1151.7 L900 1151.9 L902.9 1152.1 L905.8 1152.3 L908.8 1152.4 L911.7 1152.6 L914.7 1152.8 L917.6 1152.9 L920.6 1153.1 L923.5 1153.2 L926.5 1153.4 L929.4 1153.5 L932.3 1153.6 L935.3 1153.8 L938.2 1153.9 L941.2 1154 L944.1 1154.1 L947.1 1154.2" fill="none" stroke="#5c6cf4" stroke-width="1.6" stroke-linejoin="round"/>
<path d="M564.3 1153.3 L567.3 1153.3 L570.2 1153.2 L573.2 1153.2 L576.1 1153.1 L579.1 1153.1 L582 1153 L584.9 1152.9 L587.9 1152.9 L590.8 1152.8 L593.8 1152.7 L596.7 1152.6 L599.7 1152.4 L602.6 1152.3 L605.6 1152.1 L608.5 1151.9 L611.4 1151.7 L614.4 1151.3 L617.3 1150.7 L620.3 1149.8 L623.2 1148.7 L626.2 1147.3 L629.1 1145.6 L632.1 1143.6 L635 1141.2 L637.9 1138.5 L640.9 1135.5 L643.8 1132.2 L646.8 1128.6 L649.7 1124.8 L652.7 1120.7 L655.6 1116.6 L658.5 1112.4 L661.5 1108.2 L664.4 1104.1 L667.4 1100 L670.3 1096 L673.3 1092.2 L676.2 1088.7 L679.2 1085.4 L682.1 1082.4 L685 1079.8 L688 1077.5 L690.9 1075.6 L693.9 1074.1 L696.8 1073 L699.8 1072.2 L702.7 1071.9 L705.7 1071.9 L708.6 1072.2 L711.5 1072.7 L714.5 1073.5 L717.4 1074.5 L720.4 1075.7 L723.3 1077.1 L726.3 1078.7 L729.2 1080.5 L732.1 1082.4 L735.1 1084.5 L738 1086.7 L741 1089.1 L743.9 1091.5 L746.9 1094.1 L749.8 1096.6 L752.8 1099.2 L755.7 1101.8 L758.6 1104.4 L761.6 1106.9 L764.5 1109.3 L767.5 1111.6 L770.4 1113.9 L773.4 1116.1 L776.3 1118.2 L779.3 1120.3 L782.2 1122.2 L785.1 1124.1 L788.1 1125.8 L791 1127.5 L794 1129.1 L796.9 1130.7 L799.9 1132.1 L802.8 1133.5 L805.7 1134.9 L808.7 1136.2 L811.6 1137.4 L814.6 1138.5 L817.5 1139.6 L820.5 1140.6 L823.4 1141.5 L826.4 1142.3 L829.3 1143.1 L832.2 1143.9 L835.2 1144.5 L838.1 1145.2 L841.1 1145.7 L844 1146.3 L847 1146.8 L849.9 1147.3 L852.9 1147.7 L855.8 1148.1 L858.7 1148.5 L861.7 1148.8 L864.6 1149.1 L867.6 1149.4 L870.5 1149.7 L873.5 1150 L876.4 1150.2 L879.3 1150.5 L882.3 1150.7 L885.2 1150.9 L888.2 1151.1 L891.1 1151.3 L894.1 1151.5 L897 1151.7 L900 1151.9 L902.9 1152.1 L905.8 1152.3 L908.8 1152.4 L911.7 1152.6 L914.7 1152.7 L917.6 1152.9 L920.6 1153.1 L923.5 1153.2 L926.5 1153.4 L929.4 1153.5 L932.3 1153.6 L935.3 1153.8 L938.2 1153.9 L941.2 1154 L944.1 1154.1 L947.1 1154.2" fill="none" stroke="#5262f4" stroke-width="1.6" stroke-linejoin="round"/>
<path d="M564.3 1153.4 L567.3 1153.4 L570.2 1153.3 L573.2 1153.3 L576.1 1153.2 L579.1 1153.2 L582 1153.1 L584.9 1153 L587.9 1152.9 L590.8 1152.8 L593.8 1152.7 L596.7 1152.6 L599.7 1152.5 L602.6 1152.3 L605.6 1152.2 L608.5 1152 L611.4 1151.7 L614.4 1151.2 L617.3 1150.6 L620.3 1149.8 L623.2 1148.6 L626.2 1147.1 L629.1 1145.3 L632.1 1143.2 L635 1140.6 L637.9 1137.8 L640.9 1134.5 L643.8 1131 L646.8 1127.2 L649.7 1123.1 L652.7 1118.8 L655.6 1114.4 L658.5 1109.9 L661.5 1105.5 L664.4 1101.1 L667.4 1096.7 L670.3 1092.5 L673.3 1088.4 L676.2 1084.6 L679.2 1081.1 L682.1 1077.9 L685 1075.2 L688 1072.8 L690.9 1070.8 L693.9 1069.1 L696.8 1067.9 L699.8 1067.2 L702.7 1066.8 L705.7 1066.9 L708.6 1067.2 L711.5 1067.8 L714.5 1068.6 L717.4 1069.7 L720.4 1071 L723.3 1072.5 L726.3 1074.3 L729.2 1076.2 L732.1 1078.2 L735.1 1080.4 L738 1082.8 L741 1085.3 L743.9 1088 L746.9 1090.7 L749.8 1093.4 L752.8 1096.2 L755.7 1099 L758.6 1101.7 L761.6 1104.4 L764.5 1107 L767.5 1109.5 L770.4 1111.9 L773.4 1114.3 L776.3 1116.5 L779.3 1118.7 L782.2 1120.8 L785.1 1122.7 L788.1 1124.6 L791 1126.4 L794 1128.1 L796.9 1129.7 L799.9 1131.3 L802.8 1132.8 L805.7 1134.2 L808.7 1135.5 L811.6 1136.8 L814.6 1138 L817.5 1139.1 L820.5 1140.2 L823.4 1141.1 L826.4 1142 L829.3 1142.8 L832.2 1143.6 L835.2 1144.3 L838.1 1144.9 L841.1 1145.6 L844 1146.1 L847 1146.7 L849.9 1147.1 L852.9 1147.6 L855.8 1148 L858.7 1148.4 L861.7 1148.7 L864.6 1149 L867.6 1149.3 L870.5 1149.6 L873.5 1149.9 L876.4 1150.2 L879.3 1150.4 L882.3 1150.7 L885.2 1150.9 L888.2 1151.1 L891.1 1151.3 L894.1 1151.5 L897 1151.7 L900 1151.9 L902.9 1152.1 L905.8 1152.2 L908.8 1152.4 L911.7 1152.6 L914.7 1152.7 L917.6 1152.9 L920.6 1153.1 L923.5 1153.2 L926.5 1153.3 L929.4 1153.5 L932.3 1153.6 L935.3 1153.8 L938.2 1153.9 L941.2 1154 L944.1 1154.1 L947.1 1154.2" fill="none" stroke="#4759f3" stroke-width="1.6" stroke-linejoin="round"/>
<path d="M564.3 1153.5 L567.3 1153.5 L570.2 1153.5 L573.2 1153.4 L576.1 1153.4 L579.1 1153.3 L582 1153.2 L584.9 1153.1 L587.9 1153 L590.8 1152.9 L593.8 1152.8 L596.7 1152.7 L599.7 1152.6 L602.6 1152.4 L605.6 1152.2 L608.5 1152 L611.4 1151.7 L614.4 1151.2 L617.3 1150.5 L620.3 1149.6 L623.2 1148.4 L626.2 1146.8 L629.1 1144.8 L632.1 1142.5 L635 1139.8 L637.9 1136.6 L640.9 1133.1 L643.8 1129.2 L646.8 1125.1 L649.7 1120.6 L652.7 1115.9 L655.6 1111.1 L658.5 1106.2 L661.5 1101.4 L664.4 1096.5 L667.4 1091.8 L670.3 1087.2 L673.3 1082.7 L676.2 1078.6 L679.2 1074.7 L682.1 1071.3 L685 1068.3 L688 1065.6 L690.9 1063.5 L693.9 1061.7 L696.8 1060.4 L699.8 1059.6 L702.7 1059.3 L705.7 1059.3 L708.6 1059.7 L711.5 1060.4 L714.5 1061.3 L717.4 1062.5 L720.4 1064 L723.3 1065.6 L726.3 1067.5 L729.2 1069.6 L732.1 1071.9 L735.1 1074.4 L738 1077 L741 1079.7 L743.9 1082.6 L746.9 1085.6 L749.8 1088.6 L752.8 1091.7 L755.7 1094.7 L758.6 1097.7 L761.6 1100.6 L764.5 1103.5 L767.5 1106.2 L770.4 1108.9 L773.4 1111.5 L776.3 1113.9 L779.3 1116.3 L782.2 1118.6 L785.1 1120.7 L788.1 1122.8 L791 1124.7 L794 1126.6 L796.9 1128.3 L799.9 1130 L802.8 1131.6 L805.7 1133.1 L808.7 1134.6 L811.6 1136 L814.6 1137.2 L817.5 1138.4 L820.5 1139.5 L823.4 1140.5 L826.4 1141.5 L829.3 1142.4 L832.2 1143.2 L835.2 1143.9 L838.1 1144.6 L841.1 1145.3 L844 1145.9 L847 1146.4 L849.9 1146.9 L852.9 1147.4 L855.8 1147.8 L858.7 1148.2 L861.7 1148.6 L864.6 1148.9 L867.6 1149.2 L870.5 1149.6 L873.5 1149.8 L876.4 1150.1 L879.3 1150.4 L882.3 1150.6 L885.2 1150.8 L888.2 1151.1 L891.1 1151.3 L894.1 1151.5 L897 1151.7 L900 1151.9 L902.9 1152 L905.8 1152.2 L908.8 1152.4 L911.7 1152.6 L914.7 1152.7 L917.6 1152.9 L920.6 1153 L923.5 1153.2 L926.5 1153.3 L929.4 1153.5 L932.3 1153.6 L935.3 1153.8 L938.2 1153.9 L941.2 1154 L944.1 1154.1 L947.1 1154.2" fill="none" stroke="#3d4ff2" stroke-width="1.6" stroke-linejoin="round"/>
<path d="M564.3 1153.7 L567.3 1153.6 L570.2 1153.6 L573.2 1153.5 L576.1 1153.5 L579.1 1153.4 L582 1153.3 L584.9 1153.2 L587.9 1153.1 L590.8 1153 L593.8 1152.9 L596.7 1152.8 L599.7 1152.6 L602.6 1152.4 L605.6 1152.2 L608.5 1152 L611.4 1151.7 L614.4 1151.2 L617.3 1150.5 L620.3 1149.5 L623.2 1148.2 L626.2 1146.5 L629.1 1144.4 L632.1 1141.9 L635 1139 L637.9 1135.7 L640.9 1131.9 L643.8 1127.8 L646.8 1123.3 L649.7 1118.6 L652.7 1113.6 L655.6 1108.4 L658.5 1103.2 L661.5 1097.9 L664.4 1092.7 L667.4 1087.7 L670.3 1082.7 L673.3 1078 L676.2 1073.5 L679.2 1069.5 L682.1 1065.8 L685 1062.5 L688 1059.7 L690.9 1057.4 L693.9 1055.5 L696.8 1054.2 L699.8 1053.3 L702.7 1053 L705.7 1053 L708.6 1053.4 L711.5 1054.2 L714.5 1055.2 L717.4 1056.5 L720.4 1058.1 L723.3 1059.9 L726.3 1061.9 L729.2 1064.2 L732.1 1066.6 L735.1 1069.3 L738 1072.1 L741 1075.1 L743.9 1078.2 L746.9 1081.4 L749.8 1084.6 L752.8 1087.9 L755.7 1091.2 L758.6 1094.4 L761.6 1097.5 L764.5 1100.6 L767.5 1103.5 L770.4 1106.4 L773.4 1109.1 L776.3 1111.8 L779.3 1114.3 L782.2 1116.8 L785.1 1119.1 L788.1 1121.2 L791 1123.3 L794 1125.3 L796.9 1127.1 L799.9 1128.9 L802.8 1130.6 L805.7 1132.3 L808.7 1133.8 L811.6 1135.2 L814.6 1136.6 L817.5 1137.8 L820.5 1139 L823.4 1140.1 L826.4 1141.1 L829.3 1142 L832.2 1142.8 L835.2 1143.6 L838.1 1144.3 L841.1 1145 L844 1145.7 L847 1146.2 L849.9 1146.8 L852.9 1147.3 L855.8 1147.7 L858.7 1148.1 L861.7 1148.5 L864.6 1148.8 L867.6 1149.2 L870.5 1149.5 L873.5 1149.8 L876.4 1150.1 L879.3 1150.3 L882.3 1150.6 L885.2 1150.8 L888.2 1151 L891.1 1151.2 L894.1 1151.5 L897 1151.7 L900 1151.8 L902.9 1152 L905.8 1152.2 L908.8 1152.4 L911.7 1152.6 L914.7 1152.7 L917.6 1152.9 L920.6 1153 L923.5 1153.2 L926.5 1153.3 L929.4 1153.5 L932.3 1153.6 L935.3 1153.8 L938.2 1153.9 L941.2 1154 L944.1 1154.1 L947.1 1154.2" fill="none" stroke="#3345f2" stroke-width="1.6" stroke-linejoin="round"/>
<path d="M564.3 1153.8 L567.3 1153.8 L570.2 1153.8 L573.2 1153.7 L576.1 1153.6 L579.1 1153.6 L582 1153.5 L584.9 1153.4 L587.9 1153.3 L590.8 1153.1 L593.8 1153 L596.7 1152.9 L599.7 1152.7 L602.6 1152.5 L605.6 1152.3 L608.5 1152 L611.4 1151.7 L614.4 1151.2 L617.3 1150.4 L620.3 1149.3 L623.2 1147.9 L626.2 1146.1 L629.1 1143.9 L632.1 1141.2 L635 1138 L637.9 1134.3 L640.9 1130.2 L643.8 1125.7 L646.8 1120.9 L649.7 1115.7 L652.7 1110.2 L655.6 1104.6 L658.5 1098.8 L661.5 1093.1 L664.4 1087.5 L667.4 1081.9 L670.3 1076.5 L673.3 1071.4 L676.2 1066.5 L679.2 1062.1 L682.1 1058 L685 1054.5 L688 1051.5 L690.9 1048.9 L693.9 1046.9 L696.8 1045.4 L699.8 1044.5 L702.7 1044.1 L705.7 1044.2 L708.6 1044.7 L711.5 1045.5 L714.5 1046.7 L717.4 1048.1 L720.4 1049.9 L723.3 1051.9 L726.3 1054.1 L729.2 1056.6 L732.1 1059.3 L735.1 1062.2 L738 1065.3 L741 1068.6 L743.9 1072 L746.9 1075.5 L749.8 1079.1 L752.8 1082.6 L755.7 1086.2 L758.6 1089.7 L761.6 1093.2 L764.5 1096.5 L767.5 1099.8 L770.4 1102.9 L773.4 1105.9 L776.3 1108.8 L779.3 1111.6 L782.2 1114.2 L785.1 1116.7 L788.1 1119.1 L791 1121.4 L794 1123.5 L796.9 1125.5 L799.9 1127.4 L802.8 1129.3 L805.7 1131 L808.7 1132.7 L811.6 1134.3 L814.6 1135.7 L817.5 1137 L820.5 1138.3 L823.4 1139.4 L826.4 1140.5 L829.3 1141.5 L832.2 1142.4 L835.2 1143.2 L838.1 1144 L841.1 1144.7 L844 1145.4 L847 1146 L849.9 1146.5 L852.9 1147.1 L855.8 1147.5 L858.7 1147.9 L861.7 1148.3 L864.6 1148.7 L867.6 1149 L870.5 1149.4 L873.5 1149.7 L876.4 1150 L879.3 1150.2 L882.3 1150.5 L885.2 1150.7 L888.2 1151 L891.1 1151.2 L894.1 1151.4 L897 1151.6 L900 1151.8 L902.9 1152 L905.8 1152.2 L908.8 1152.4 L911.7 1152.5 L914.7 1152.7 L917.6 1152.9 L920.6 1153 L923.5 1153.2 L926.5 1153.3 L929.4 1153.5 L932.3 1153.6 L935.3 1153.8 L938.2 1153.9 L941.2 1154 L944.1 1154.1 L947.1 1154.2" fill="none" stroke="#293bf1" stroke-width="1.6" stroke-linejoin="round"/>
<path d="M564.3 1154 L567.3 1154 L570.2 1153.9 L573.2 1153.9 L576.1 1153.8 L579.1 1153.7 L582 1153.6 L584.9 1153.5 L587.9 1153.4 L590.8 1153.3 L593.8 1153.1 L596.7 1153 L599.7 1152.8 L602.6 1152.6 L605.6 1152.4 L608.5 1152.1 L611.4 1151.7 L614.4 1151.1 L617.3 1150.3 L620.3 1149.2 L623.2 1147.7 L626.2 1145.7 L629.1 1143.3 L632.1 1140.4 L635 1137 L637.9 1133 L640.9 1128.6 L643.8 1123.7 L646.8 1118.4 L649.7 1112.8 L652.7 1106.8 L655.6 1100.7 L658.5 1094.5 L661.5 1088.3 L664.4 1082.2 L667.4 1076.1 L670.3 1070.3 L673.3 1064.7 L676.2 1059.5 L679.2 1054.6 L682.1 1050.3 L685 1046.4 L688 1043.2 L690.9 1040.4 L693.9 1038.3 L696.8 1036.7 L699.8 1035.7 L702.7 1035.3 L705.7 1035.4 L708.6 1036 L711.5 1036.9 L714.5 1038.1 L717.4 1039.7 L720.4 1041.6 L723.3 1043.8 L726.3 1046.3 L729.2 1049 L732.1 1051.9 L735.1 1055.1 L738 1058.5 L741 1062 L743.9 1065.7 L746.9 1069.6 L749.8 1073.4 L752.8 1077.3 L755.7 1081.2 L758.6 1085 L761.6 1088.8 L764.5 1092.4 L767.5 1096 L770.4 1099.4 L773.4 1102.6 L776.3 1105.8 L779.3 1108.8 L782.2 1111.6 L785.1 1114.4 L788.1 1117 L791 1119.4 L794 1121.7 L796.9 1123.9 L799.9 1126 L802.8 1127.9 L805.7 1129.8 L808.7 1131.6 L811.6 1133.3 L814.6 1134.8 L817.5 1136.2 L820.5 1137.5 L823.4 1138.8 L826.4 1139.9 L829.3 1140.9 L832.2 1141.9 L835.2 1142.8 L838.1 1143.6 L841.1 1144.4 L844 1145.1 L847 1145.7 L849.9 1146.3 L852.9 1146.8 L855.8 1147.3 L858.7 1147.8 L861.7 1148.2 L864.6 1148.6 L867.6 1148.9 L870.5 1149.3 L873.5 1149.6 L876.4 1149.9 L879.3 1150.2 L882.3 1150.4 L885.2 1150.7 L888.2 1150.9 L891.1 1151.2 L894.1 1151.4 L897 1151.6 L900 1151.8 L902.9 1152 L905.8 1152.2 L908.8 1152.3 L911.7 1152.5 L914.7 1152.7 L917.6 1152.9 L920.6 1153 L923.5 1153.2 L926.5 1153.3 L929.4 1153.5 L932.3 1153.6 L935.3 1153.8 L938.2 1153.9 L941.2 1154 L944.1 1154.1 L947.1 1154.2" fill="none" stroke="#1e32f1" stroke-width="1.6" stroke-linejoin="round"/>
<path d="M564.3 1154.1 L567.3 1154.1 L570.2 1154.1 L573.2 1154 L576.1 1153.9 L579.1 1153.8 L582 1153.7 L584.9 1153.6 L587.9 1153.5 L590.8 1153.3 L593.8 1153.2 L596.7 1153 L599.7 1152.8 L602.6 1152.6 L605.6 1152.4 L608.5 1152.1 L611.4 1151.7 L614.4 1151.1 L617.3 1150.3 L620.3 1149.1 L623.2 1147.5 L626.2 1145.4 L629.1 1142.9 L632.1 1139.8 L635 1136.2 L637.9 1132.1 L640.9 1127.4 L643.8 1122.2 L646.8 1116.7 L649.7 1110.7 L652.7 1104.5 L655.6 1098 L658.5 1091.4 L661.5 1084.9 L664.4 1078.4 L667.4 1072 L670.3 1065.9 L673.3 1060 L676.2 1054.4 L679.2 1049.3 L682.1 1044.7 L685 1040.7 L688 1037.3 L690.9 1034.4 L693.9 1032.1 L696.8 1030.4 L699.8 1029.4 L702.7 1029 L705.7 1029.1 L708.6 1029.7 L711.5 1030.7 L714.5 1032.1 L717.4 1033.8 L720.4 1035.8 L723.3 1038.1 L726.3 1040.7 L729.2 1043.6 L732.1 1046.7 L735.1 1050 L738 1053.6 L741 1057.4 L743.9 1061.3 L746.9 1065.4 L749.8 1069.5 L752.8 1073.6 L755.7 1077.7 L758.6 1081.7 L761.6 1085.7 L764.5 1089.5 L767.5 1093.3 L770.4 1096.9 L773.4 1100.3 L776.3 1103.6 L779.3 1106.8 L782.2 1109.8 L785.1 1112.7 L788.1 1115.4 L791 1118 L794 1120.4 L796.9 1122.7 L799.9 1124.9 L802.8 1127 L805.7 1129 L808.7 1130.8 L811.6 1132.6 L814.6 1134.2 L817.5 1135.7 L820.5 1137 L823.4 1138.3 L826.4 1139.5 L829.3 1140.6 L832.2 1141.6 L835.2 1142.5 L838.1 1143.3 L841.1 1144.1 L844 1144.8 L847 1145.5 L849.9 1146.1 L852.9 1146.7 L855.8 1147.2 L858.7 1147.7 L861.7 1148.1 L864.6 1148.5 L867.6 1148.8 L870.5 1149.2 L873.5 1149.5 L876.4 1149.8 L879.3 1150.1 L882.3 1150.4 L885.2 1150.7 L888.2 1150.9 L891.1 1151.1 L894.1 1151.4 L897 1151.6 L900 1151.8 L902.9 1152 L905.8 1152.1 L908.8 1152.3 L911.7 1152.5 L914.7 1152.7 L917.6 1152.8 L920.6 1153 L923.5 1153.2 L926.5 1153.3 L929.4 1153.5 L932.3 1153.6 L935.3 1153.8 L938.2 1153.9 L941.2 1154 L944.1 1154.1 L947.1 1154.2" fill="none" stroke="#1428f0" stroke-width="1.6" stroke-linejoin="round"/>
<path d="M564.3 1154.3 L567.3 1154.3 L570.2 1154.2 L573.2 1154.1 L576.1 1154 L579.1 1153.9 L582 1153.8 L584.9 1153.7 L587.9 1153.6 L590.8 1153.4 L593.8 1153.3 L596.7 1153.1 L599.7 1152.9 L602.6 1152.7 L605.6 1152.4 L608.5 1152.1 L611.4 1151.7 L614.4 1151.1 L617.3 1150.2 L620.3 1148.9 L623.2 1147.2 L626.2 1145.1 L629.1 1142.4 L632.1 1139.2 L635 1135.4 L637.9 1130.9 L640.9 1125.9 L643.8 1120.5 L646.8 1114.6 L649.7 1108.2 L652.7 1101.6 L655.6 1094.7 L658.5 1087.7 L661.5 1080.8 L664.4 1073.9 L667.4 1067.1 L670.3 1060.5 L673.3 1054.3 L676.2 1048.4 L679.2 1043 L682.1 1038.1 L685 1033.8 L688 1030.1 L690.9 1027.1 L693.9 1024.7 L696.8 1022.9 L699.8 1021.8 L702.7 1021.4 L705.7 1021.6 L708.6 1022.2 L711.5 1023.3 L714.5 1024.7 L717.4 1026.6 L720.4 1028.7 L723.3 1031.2 L726.3 1034 L729.2 1037 L732.1 1040.4 L735.1 1043.9 L738 1047.7 L741 1051.8 L743.9 1056 L746.9 1060.3 L749.8 1064.7 L752.8 1069 L755.7 1073.4 L758.6 1077.7 L761.6 1081.9 L764.5 1086 L767.5 1090 L770.4 1093.8 L773.4 1097.5 L776.3 1101 L779.3 1104.4 L782.2 1107.6 L785.1 1110.7 L788.1 1113.6 L791 1116.3 L794 1118.9 L796.9 1121.3 L799.9 1123.6 L802.8 1125.8 L805.7 1127.9 L808.7 1129.9 L811.6 1131.7 L814.6 1133.4 L817.5 1135 L820.5 1136.4 L823.4 1137.7 L826.4 1139 L829.3 1140.1 L832.2 1141.1 L835.2 1142.1 L838.1 1143 L841.1 1143.8 L844 1144.6 L847 1145.3 L849.9 1145.9 L852.9 1146.5 L855.8 1147 L858.7 1147.5 L861.7 1148 L864.6 1148.4 L867.6 1148.7 L870.5 1149.1 L873.5 1149.4 L876.4 1149.8 L879.3 1150.1 L882.3 1150.3 L885.2 1150.6 L888.2 1150.9 L891.1 1151.1 L894.1 1151.3 L897 1151.5 L900 1151.7 L902.9 1151.9 L905.8 1152.1 L908.8 1152.3 L911.7 1152.5 L914.7 1152.7 L917.6 1152.8 L920.6 1153 L923.5 1153.2 L926.5 1153.3 L929.4 1153.5 L932.3 1153.6 L935.3 1153.8 L938.2 1153.9 L941.2 1154 L944.1 1154.1 L947.1 1154.2" fill="none" stroke="#0e22ed" stroke-width="1.6" stroke-linejoin="round"/>
<path d="M564.3 1154.5 L567.3 1154.4 L570.2 1154.4 L573.2 1154.3 L576.1 1154.2 L579.1 1154.1 L582 1154 L584.9 1153.9 L587.9 1153.7 L590.8 1153.6 L593.8 1153.4 L596.7 1153.2 L599.7 1153 L602.6 1152.8 L605.6 1152.5 L608.5 1152.2 L611.4 1151.7 L614.4 1151 L617.3 1150.1 L620.3 1148.8 L623.2 1147 L626.2 1144.7 L629.1 1141.8 L632.1 1138.4 L635 1134.3 L637.9 1129.6 L640.9 1124.3 L643.8 1118.4 L646.8 1112.1 L649.7 1105.4 L652.7 1098.2 L655.6 1090.9 L658.5 1083.4 L661.5 1076 L664.4 1068.6 L667.4 1061.3 L670.3 1054.3 L673.3 1047.6 L676.2 1041.4 L679.2 1035.6 L682.1 1030.4 L685 1025.8 L688 1021.9 L690.9 1018.6 L693.9 1016 L696.8 1014.1 L699.8 1013 L702.7 1012.6 L705.7 1012.8 L708.6 1013.5 L711.5 1014.6 L714.5 1016.2 L717.4 1018.2 L720.4 1020.5 L723.3 1023.2 L726.3 1026.2 L729.2 1029.4 L732.1 1033 L735.1 1036.8 L738 1040.9 L741 1045.2 L743.9 1049.7 L746.9 1054.4 L749.8 1059.1 L752.8 1063.8 L755.7 1068.4 L758.6 1073.1 L761.6 1077.6 L764.5 1082 L767.5 1086.2 L770.4 1090.3 L773.4 1094.3 L776.3 1098 L779.3 1101.6 L782.2 1105.1 L785.1 1108.4 L788.1 1111.4 L791 1114.3 L794 1117.1 L796.9 1119.7 L799.9 1122.1 L802.8 1124.5 L805.7 1126.7 L808.7 1128.8 L811.6 1130.7 L814.6 1132.5 L817.5 1134.1 L820.5 1135.7 L823.4 1137.1 L826.4 1138.4 L829.3 1139.6 L832.2 1140.7 L835.2 1141.7 L838.1 1142.6 L841.1 1143.5 L844 1144.3 L847 1145 L849.9 1145.7 L852.9 1146.3 L855.8 1146.9 L858.7 1147.4 L861.7 1147.8 L864.6 1148.2 L867.6 1148.6 L870.5 1149 L873.5 1149.4 L876.4 1149.7 L879.3 1150 L882.3 1150.3 L885.2 1150.5 L888.2 1150.8 L891.1 1151 L894.1 1151.3 L897 1151.5 L900 1151.7 L902.9 1151.9 L905.8 1152.1 L908.8 1152.3 L911.7 1152.5 L914.7 1152.7 L917.6 1152.8 L920.6 1153 L923.5 1153.2 L926.5 1153.3 L929.4 1153.5 L932.3 1153.6 L935.3 1153.8 L938.2 1153.9 L941.2 1154 L944.1 1154.1 L947.1 1154.2" fill="none" stroke="#0d20e8" stroke-width="1.6" stroke-linejoin="round"/>
<path d="M564.3 1154.6 L567.3 1154.6 L570.2 1154.5 L573.2 1154.5 L576.1 1154.4 L579.1 1154.2 L582 1154.1 L584.9 1154 L587.9 1153.9 L590.8 1153.7 L593.8 1153.5 L596.7 1153.3 L599.7 1153.1 L602.6 1152.8 L605.6 1152.5 L608.5 1152.2 L611.4 1151.7 L614.4 1151 L617.3 1150 L620.3 1148.6 L623.2 1146.7 L626.2 1144.3 L629.1 1141.3 L632.1 1137.6 L635 1133.3 L637.9 1128.3 L640.9 1122.6 L643.8 1116.4 L646.8 1109.7 L649.7 1102.5 L652.7 1094.9 L655.6 1087 L658.5 1079.1 L661.5 1071.1 L664.4 1063.3 L667.4 1055.6 L670.3 1048.1 L673.3 1041 L676.2 1034.3 L679.2 1028.1 L682.1 1022.6 L685 1017.7 L688 1013.6 L690.9 1010.1 L693.9 1007.4 L696.8 1005.4 L699.8 1004.2 L702.7 1003.7 L705.7 1004 L708.6 1004.7 L711.5 1006 L714.5 1007.7 L717.4 1009.8 L720.4 1012.3 L723.3 1015.1 L726.3 1018.3 L729.2 1021.8 L732.1 1025.6 L735.1 1029.7 L738 1034.1 L741 1038.7 L743.9 1043.5 L746.9 1048.5 L749.8 1053.5 L752.8 1058.5 L755.7 1063.5 L758.6 1068.4 L761.6 1073.2 L764.5 1077.9 L767.5 1082.4 L770.4 1086.8 L773.4 1091 L776.3 1095 L779.3 1098.9 L782.2 1102.5 L785.1 1106 L788.1 1109.3 L791 1112.4 L794 1115.3 L796.9 1118 L799.9 1120.6 L802.8 1123.1 L805.7 1125.5 L808.7 1127.7 L811.6 1129.7 L814.6 1131.6 L817.5 1133.3 L820.5 1134.9 L823.4 1136.4 L826.4 1137.8 L829.3 1139 L832.2 1140.2 L835.2 1141.3 L838.1 1142.2 L841.1 1143.1 L844 1144 L847 1144.8 L849.9 1145.5 L852.9 1146.1 L855.8 1146.7 L858.7 1147.2 L861.7 1147.7 L864.6 1148.1 L867.6 1148.5 L870.5 1148.9 L873.5 1149.3 L876.4 1149.6 L879.3 1149.9 L882.3 1150.2 L885.2 1150.5 L888.2 1150.8 L891.1 1151 L894.1 1151.2 L897 1151.5 L900 1151.7 L902.9 1151.9 L905.8 1152.1 L908.8 1152.3 L911.7 1152.5 L914.7 1152.6 L917.6 1152.8 L920.6 1153 L923.5 1153.1 L926.5 1153.3 L929.4 1153.5 L932.3 1153.6 L935.3 1153.7 L938.2 1153.9 L941.2 1154 L944.1 1154.1 L947.1 1154.2" fill="none" stroke="#0c1ee2" stroke-width="1.6" stroke-linejoin="round"/>
<path d="M564.3 1154.8 L567.3 1154.8 L570.2 1154.7 L573.2 1154.6 L576.1 1154.5 L579.1 1154.4 L582 1154.3 L584.9 1154.1 L587.9 1154 L590.8 1153.8 L593.8 1153.6 L596.7 1153.4 L599.7 1153.2 L602.6 1152.9 L605.6 1152.6 L608.5 1152.2 L611.4 1151.7 L614.4 1151 L617.3 1149.9 L620.3 1148.4 L623.2 1146.5 L626.2 1143.9 L629.1 1140.7 L632.1 1136.9 L635 1132.3 L637.9 1126.9 L640.9 1120.9 L643.8 1114.3 L646.8 1107.2 L649.7 1099.6 L652.7 1091.5 L655.6 1083.2 L658.5 1074.8 L661.5 1066.3 L664.4 1058 L667.4 1049.8 L670.3 1041.9 L673.3 1034.4 L676.2 1027.3 L679.2 1020.7 L682.1 1014.9 L685 1009.7 L688 1005.3 L690.9 1001.6 L693.9 998.7 L696.8 996.6 L699.8 995.4 L702.7 994.9 L705.7 995.2 L708.6 996 L711.5 997.3 L714.5 999.1 L717.4 1001.4 L720.4 1004.1 L723.3 1007.1 L726.3 1010.5 L729.2 1014.2 L732.1 1018.3 L735.1 1022.6 L738 1027.3 L741 1032.2 L743.9 1037.3 L746.9 1042.5 L749.8 1047.9 L752.8 1053.2 L755.7 1058.5 L758.6 1063.7 L761.6 1068.9 L764.5 1073.8 L767.5 1078.7 L770.4 1083.3 L773.4 1087.7 L776.3 1092 L779.3 1096.1 L782.2 1100 L785.1 1103.7 L788.1 1107.1 L791 1110.4 L794 1113.5 L796.9 1116.4 L799.9 1119.2 L802.8 1121.8 L805.7 1124.3 L808.7 1126.6 L811.6 1128.7 L814.6 1130.7 L817.5 1132.5 L820.5 1134.2 L823.4 1135.8 L826.4 1137.2 L829.3 1138.5 L832.2 1139.7 L835.2 1140.8 L838.1 1141.9 L841.1 1142.8 L844 1143.7 L847 1144.5 L849.9 1145.2 L852.9 1145.9 L855.8 1146.5 L858.7 1147 L861.7 1147.5 L864.6 1148 L867.6 1148.4 L870.5 1148.8 L873.5 1149.2 L876.4 1149.5 L879.3 1149.8 L882.3 1150.1 L885.2 1150.4 L888.2 1150.7 L891.1 1151 L894.1 1151.2 L897 1151.4 L900 1151.7 L902.9 1151.9 L905.8 1152.1 L908.8 1152.3 L911.7 1152.4 L914.7 1152.6 L917.6 1152.8 L920.6 1153 L923.5 1153.1 L926.5 1153.3 L929.4 1153.5 L932.3 1153.6 L935.3 1153.7 L938.2 1153.9 L941.2 1154 L944.1 1154.1 L947.1 1154.2" fill="none" stroke="#0b1bdd" stroke-width="1.6" stroke-linejoin="round"/>
<path d="M564.3 1155 L567.3 1155 L570.2 1154.9 L573.2 1154.8 L576.1 1154.7 L579.1 1154.6 L582 1154.4 L584.9 1154.3 L587.9 1154.1 L590.8 1153.9 L593.8 1153.7 L596.7 1153.5 L599.7 1153.3 L602.6 1153 L605.6 1152.6 L608.5 1152.3 L611.4 1151.7 L614.4 1150.9 L617.3 1149.8 L620.3 1148.3 L623.2 1146.2 L626.2 1143.4 L629.1 1140.1 L632.1 1136 L635 1131.1 L637.9 1125.4 L640.9 1119 L643.8 1112 L646.8 1104.4 L649.7 1096.3 L652.7 1087.7 L655.6 1078.8 L658.5 1069.8 L661.5 1060.8 L664.4 1052 L667.4 1043.2 L670.3 1034.8 L673.3 1026.8 L676.2 1019.2 L679.2 1012.3 L682.1 1006 L685 1000.5 L688 995.8 L690.9 991.9 L693.9 988.8 L696.8 986.6 L699.8 985.3 L702.7 984.8 L705.7 985.1 L708.6 986 L711.5 987.4 L714.5 989.4 L717.4 991.8 L720.4 994.6 L723.3 997.9 L726.3 1001.6 L729.2 1005.5 L732.1 1009.9 L735.1 1014.5 L738 1019.5 L741 1024.7 L743.9 1030.2 L746.9 1035.8 L749.8 1041.5 L752.8 1047.2 L755.7 1052.8 L758.6 1058.4 L761.6 1063.9 L764.5 1069.2 L767.5 1074.3 L770.4 1079.3 L773.4 1084 L776.3 1088.6 L779.3 1092.9 L782.2 1097.1 L785.1 1101 L788.1 1104.7 L791 1108.2 L794 1111.4 L796.9 1114.5 L799.9 1117.5 L802.8 1120.2 L805.7 1122.9 L808.7 1125.3 L811.6 1127.6 L814.6 1129.7 L817.5 1131.6 L820.5 1133.4 L823.4 1135 L826.4 1136.5 L829.3 1137.9 L832.2 1139.2 L835.2 1140.4 L838.1 1141.4 L841.1 1142.4 L844 1143.3 L847 1144.2 L849.9 1145 L852.9 1145.7 L855.8 1146.3 L858.7 1146.8 L861.7 1147.3 L864.6 1147.8 L867.6 1148.3 L870.5 1148.7 L873.5 1149.1 L876.4 1149.4 L879.3 1149.8 L882.3 1150.1 L885.2 1150.4 L888.2 1150.6 L891.1 1150.9 L894.1 1151.2 L897 1151.4 L900 1151.6 L902.9 1151.8 L905.8 1152 L908.8 1152.2 L911.7 1152.4 L914.7 1152.6 L917.6 1152.8 L920.6 1153 L923.5 1153.1 L926.5 1153.3 L929.4 1153.5 L932.3 1153.6 L935.3 1153.7 L938.2 1153.9 L941.2 1154 L944.1 1154.1 L947.1 1154.2" fill="none" stroke="#0a19d8" stroke-width="1.6" stroke-linejoin="round"/>
<path d="M564.3 1155.1 L567.3 1155.1 L570.2 1155 L573.2 1154.9 L576.1 1154.8 L579.1 1154.7 L582 1154.5 L584.9 1154.4 L587.9 1154.2 L590.8 1154 L593.8 1153.8 L596.7 1153.6 L599.7 1153.3 L602.6 1153 L605.6 1152.7 L608.5 1152.3 L611.4 1151.7 L614.4 1150.9 L617.3 1149.8 L620.3 1148.1 L623.2 1146 L626.2 1143.2 L629.1 1139.7 L632.1 1135.5 L635 1130.4 L637.9 1124.5 L640.9 1117.9 L643.8 1110.7 L646.8 1102.8 L649.7 1094.4 L652.7 1085.5 L655.6 1076.3 L658.5 1067 L661.5 1057.7 L664.4 1048.5 L667.4 1039.5 L670.3 1030.7 L673.3 1022.4 L676.2 1014.6 L679.2 1007.4 L682.1 1000.9 L685 995.2 L688 990.4 L690.9 986.3 L693.9 983.2 L696.8 980.9 L699.8 979.5 L702.7 979 L705.7 979.3 L708.6 980.2 L711.5 981.7 L714.5 983.8 L717.4 986.3 L720.4 989.2 L723.3 992.6 L726.3 996.4 L729.2 1000.5 L732.1 1005 L735.1 1009.8 L738 1015 L741 1020.4 L743.9 1026.1 L746.9 1031.9 L749.8 1037.8 L752.8 1043.7 L755.7 1049.5 L758.6 1055.3 L761.6 1061 L764.5 1066.5 L767.5 1071.8 L770.4 1077 L773.4 1081.9 L776.3 1086.6 L779.3 1091.1 L782.2 1095.4 L785.1 1099.5 L788.1 1103.3 L791 1106.9 L794 1110.3 L796.9 1113.5 L799.9 1116.5 L802.8 1119.4 L805.7 1122.1 L808.7 1124.6 L811.6 1126.9 L814.6 1129.1 L817.5 1131.1 L820.5 1132.9 L823.4 1134.6 L826.4 1136.1 L829.3 1137.6 L832.2 1138.9 L835.2 1140.1 L838.1 1141.2 L841.1 1142.2 L844 1143.2 L847 1144 L849.9 1144.8 L852.9 1145.5 L855.8 1146.2 L858.7 1146.7 L861.7 1147.2 L864.6 1147.7 L867.6 1148.2 L870.5 1148.6 L873.5 1149 L876.4 1149.4 L879.3 1149.7 L882.3 1150 L885.2 1150.3 L888.2 1150.6 L891.1 1150.9 L894.1 1151.1 L897 1151.4 L900 1151.6 L902.9 1151.8 L905.8 1152 L908.8 1152.2 L911.7 1152.4 L914.7 1152.6 L917.6 1152.8 L920.6 1153 L923.5 1153.1 L926.5 1153.3 L929.4 1153.4 L932.3 1153.6 L935.3 1153.7 L938.2 1153.9 L941.2 1154 L944.1 1154.1 L947.1 1154.2" fill="none" stroke="#0917d2" stroke-width="1.6" stroke-linejoin="round"/>
<path d="M564.3 1155.2 L567.3 1155.2 L570.2 1155.1 L573.2 1155 L576.1 1154.9 L579.1 1154.8 L582 1154.6 L584.9 1154.5 L587.9 1154.3 L590.8 1154.1 L593.8 1153.9 L596.7 1153.6 L599.7 1153.4 L602.6 1153.1 L605.6 1152.7 L608.5 1152.3 L611.4 1151.7 L614.4 1150.9 L617.3 1149.7 L620.3 1148 L623.2 1145.8 L626.2 1142.9 L629.1 1139.3 L632.1 1135 L635 1129.8 L637.9 1123.7 L640.9 1116.9 L643.8 1109.4 L646.8 1101.2 L649.7 1092.6 L652.7 1083.4 L655.6 1073.9 L658.5 1064.3 L661.5 1054.7 L664.4 1045.2 L667.4 1035.9 L670.3 1026.8 L673.3 1018.2 L676.2 1010.2 L679.2 1002.7 L682.1 996 L685 990.2 L688 985.2 L690.9 981 L693.9 977.7 L696.8 975.4 L699.8 974 L702.7 973.5 L705.7 973.8 L708.6 974.8 L711.5 976.3 L714.5 978.4 L717.4 981 L720.4 984.1 L723.3 987.6 L726.3 991.5 L729.2 995.8 L732.1 1000.4 L735.1 1005.4 L738 1010.7 L741 1016.3 L743.9 1022.2 L746.9 1028.2 L749.8 1034.3 L752.8 1040.4 L755.7 1046.4 L758.6 1052.4 L761.6 1058.3 L764.5 1064 L767.5 1069.5 L770.4 1074.8 L773.4 1079.8 L776.3 1084.7 L779.3 1089.4 L782.2 1093.8 L785.1 1098 L788.1 1101.9 L791 1105.6 L794 1109.1 L796.9 1112.4 L799.9 1115.6 L802.8 1118.5 L805.7 1121.3 L808.7 1123.9 L811.6 1126.3 L814.6 1128.5 L817.5 1130.6 L820.5 1132.4 L823.4 1134.2 L826.4 1135.8 L829.3 1137.2 L832.2 1138.6 L835.2 1139.8 L838.1 1140.9 L841.1 1142 L844 1143 L847 1143.9 L849.9 1144.7 L852.9 1145.4 L855.8 1146 L858.7 1146.6 L861.7 1147.2 L864.6 1147.7 L867.6 1148.1 L870.5 1148.5 L873.5 1148.9 L876.4 1149.3 L879.3 1149.7 L882.3 1150 L885.2 1150.3 L888.2 1150.6 L891.1 1150.9 L894.1 1151.1 L897 1151.4 L900 1151.6 L902.9 1151.8 L905.8 1152 L908.8 1152.2 L911.7 1152.4 L914.7 1152.6 L917.6 1152.8 L920.6 1152.9 L923.5 1153.1 L926.5 1153.3 L929.4 1153.4 L932.3 1153.6 L935.3 1153.7 L938.2 1153.9 L941.2 1154 L944.1 1154.1 L947.1 1154.2" fill="none" stroke="#0815cd" stroke-width="1.6" stroke-linejoin="round"/>
<path d="M564.3 1155.4 L567.3 1155.3 L570.2 1155.2 L573.2 1155.1 L576.1 1155 L579.1 1154.9 L582 1154.7 L584.9 1154.6 L587.9 1154.4 L590.8 1154.2 L593.8 1154 L596.7 1153.7 L599.7 1153.4 L602.6 1153.1 L605.6 1152.8 L608.5 1152.3 L611.4 1151.7 L614.4 1150.9 L617.3 1149.6 L620.3 1147.9 L623.2 1145.6 L626.2 1142.6 L629.1 1138.9 L632.1 1134.4 L635 1129 L637.9 1122.7 L640.9 1115.6 L643.8 1107.8 L646.8 1099.3 L649.7 1090.3 L652.7 1080.8 L655.6 1070.9 L658.5 1060.9 L661.5 1051 L664.4 1041.1 L667.4 1031.4 L670.3 1022 L673.3 1013.1 L676.2 1004.7 L679.2 997 L682.1 990.1 L685 984 L688 978.8 L690.9 974.5 L693.9 971.1 L696.8 968.6 L699.8 967.1 L702.7 966.6 L705.7 967 L708.6 968 L711.5 969.6 L714.5 971.8 L717.4 974.5 L720.4 977.7 L723.3 981.4 L726.3 985.4 L729.2 989.9 L732.1 994.7 L735.1 999.9 L738 1005.4 L741 1011.3 L743.9 1017.4 L746.9 1023.6 L749.8 1029.9 L752.8 1036.3 L755.7 1042.6 L758.6 1048.8 L761.6 1054.9 L764.5 1060.8 L767.5 1066.5 L770.4 1072 L773.4 1077.3 L776.3 1082.4 L779.3 1087.2 L782.2 1091.8 L785.1 1096.2 L788.1 1100.3 L791 1104.1 L794 1107.8 L796.9 1111.2 L799.9 1114.4 L802.8 1117.5 L805.7 1120.4 L808.7 1123 L811.6 1125.5 L814.6 1127.8 L817.5 1129.9 L820.5 1131.9 L823.4 1133.7 L826.4 1135.3 L829.3 1136.8 L832.2 1138.2 L835.2 1139.5 L838.1 1140.7 L841.1 1141.7 L844 1142.7 L847 1143.7 L849.9 1144.5 L852.9 1145.2 L855.8 1145.9 L858.7 1146.5 L861.7 1147 L864.6 1147.6 L867.6 1148 L870.5 1148.5 L873.5 1148.9 L876.4 1149.3 L879.3 1149.6 L882.3 1149.9 L885.2 1150.3 L888.2 1150.5 L891.1 1150.8 L894.1 1151.1 L897 1151.3 L900 1151.6 L902.9 1151.8 L905.8 1152 L908.8 1152.2 L911.7 1152.4 L914.7 1152.6 L917.6 1152.8 L920.6 1152.9 L923.5 1153.1 L926.5 1153.3 L929.4 1153.4 L932.3 1153.6 L935.3 1153.7 L938.2 1153.9 L941.2 1154 L944.1 1154.1 L947.1 1154.2" fill="none" stroke="#0713c7" stroke-width="1.6" stroke-linejoin="round"/>
<path d="M564.3 1155.5 L567.3 1155.4 L570.2 1155.4 L573.2 1155.3 L576.1 1155.1 L579.1 1155 L582 1154.8 L584.9 1154.7 L587.9 1154.5 L590.8 1154.3 L593.8 1154 L596.7 1153.8 L599.7 1153.5 L602.6 1153.2 L605.6 1152.8 L608.5 1152.3 L611.4 1151.7 L614.4 1150.8 L617.3 1149.6 L620.3 1147.8 L623.2 1145.4 L626.2 1142.3 L629.1 1138.5 L632.1 1133.8 L635 1128.2 L637.9 1121.7 L640.9 1114.4 L643.8 1106.3 L646.8 1097.6 L649.7 1088.3 L652.7 1078.4 L655.6 1068.2 L658.5 1057.9 L661.5 1047.5 L664.4 1037.3 L667.4 1027.3 L670.3 1017.6 L673.3 1008.3 L676.2 999.7 L679.2 991.7 L682.1 984.5 L685 978.2 L688 972.8 L690.9 968.4 L693.9 964.9 L696.8 962.3 L699.8 960.8 L702.7 960.3 L705.7 960.7 L708.6 961.7 L711.5 963.4 L714.5 965.7 L717.4 968.5 L720.4 971.9 L723.3 975.6 L726.3 979.9 L729.2 984.5 L732.1 989.5 L735.1 994.8 L738 1000.6 L741 1006.6 L743.9 1012.9 L746.9 1019.4 L749.8 1025.9 L752.8 1032.5 L755.7 1039 L758.6 1045.5 L761.6 1051.8 L764.5 1057.9 L767.5 1063.8 L770.4 1069.5 L773.4 1075 L776.3 1080.2 L779.3 1085.2 L782.2 1090 L785.1 1094.5 L788.1 1098.7 L791 1102.7 L794 1106.5 L796.9 1110 L799.9 1113.3 L802.8 1116.5 L805.7 1119.5 L808.7 1122.3 L811.6 1124.8 L814.6 1127.2 L817.5 1129.4 L820.5 1131.4 L823.4 1133.2 L826.4 1134.9 L829.3 1136.4 L832.2 1137.9 L835.2 1139.2 L838.1 1140.4 L841.1 1141.5 L844 1142.5 L847 1143.5 L849.9 1144.3 L852.9 1145.1 L855.8 1145.8 L858.7 1146.4 L861.7 1146.9 L864.6 1147.5 L867.6 1147.9 L870.5 1148.4 L873.5 1148.8 L876.4 1149.2 L879.3 1149.6 L882.3 1149.9 L885.2 1150.2 L888.2 1150.5 L891.1 1150.8 L894.1 1151.1 L897 1151.3 L900 1151.5 L902.9 1151.8 L905.8 1152 L908.8 1152.2 L911.7 1152.4 L914.7 1152.6 L917.6 1152.8 L920.6 1152.9 L923.5 1153.1 L926.5 1153.3 L929.4 1153.4 L932.3 1153.6 L935.3 1153.7 L938.2 1153.9 L941.2 1154 L944.1 1154.1 L947.1 1154.2" fill="none" stroke="#0611c2" stroke-width="1.6" stroke-linejoin="round"/>
<path d="M564.3 1155.6 L567.3 1155.6 L570.2 1155.5 L573.2 1155.4 L576.1 1155.2 L579.1 1155.1 L582 1154.9 L584.9 1154.8 L587.9 1154.6 L590.8 1154.4 L593.8 1154.1 L596.7 1153.8 L599.7 1153.5 L602.6 1153.2 L605.6 1152.8 L608.5 1152.4 L611.4 1151.7 L614.4 1150.8 L617.3 1149.5 L620.3 1147.7 L623.2 1145.2 L626.2 1142.1 L629.1 1138.1 L632.1 1133.3 L635 1127.6 L637.9 1120.9 L640.9 1113.3 L643.8 1105 L646.8 1096 L649.7 1086.4 L652.7 1076.2 L655.6 1065.7 L658.5 1055 L661.5 1044.4 L664.4 1033.8 L667.4 1023.5 L670.3 1013.5 L673.3 1004 L676.2 995 L679.2 986.8 L682.1 979.4 L685 972.9 L688 967.4 L690.9 962.8 L693.9 959.2 L696.8 956.6 L699.8 955 L702.7 954.5 L705.7 954.9 L708.6 956 L711.5 957.8 L714.5 960.1 L717.4 963 L720.4 966.5 L723.3 970.4 L726.3 974.7 L729.2 979.5 L732.1 984.6 L735.1 990.2 L738 996.1 L741 1002.3 L743.9 1008.8 L746.9 1015.5 L749.8 1022.3 L752.8 1029 L755.7 1035.8 L758.6 1042.4 L761.6 1048.9 L764.5 1055.2 L767.5 1061.4 L770.4 1067.2 L773.4 1072.9 L776.3 1078.3 L779.3 1083.4 L782.2 1088.3 L785.1 1093 L788.1 1097.3 L791 1101.4 L794 1105.3 L796.9 1108.9 L799.9 1112.4 L802.8 1115.6 L805.7 1118.7 L808.7 1121.5 L811.6 1124.2 L814.6 1126.6 L817.5 1128.8 L820.5 1130.9 L823.4 1132.8 L826.4 1134.5 L829.3 1136.1 L832.2 1137.6 L835.2 1138.9 L838.1 1140.1 L841.1 1141.3 L844 1142.3 L847 1143.3 L849.9 1144.2 L852.9 1144.9 L855.8 1145.6 L858.7 1146.3 L861.7 1146.8 L864.6 1147.4 L867.6 1147.9 L870.5 1148.3 L873.5 1148.8 L876.4 1149.1 L879.3 1149.5 L882.3 1149.9 L885.2 1150.2 L888.2 1150.5 L891.1 1150.8 L894.1 1151 L897 1151.3 L900 1151.5 L902.9 1151.7 L905.8 1152 L908.8 1152.2 L911.7 1152.4 L914.7 1152.6 L917.6 1152.7 L920.6 1152.9 L923.5 1153.1 L926.5 1153.3 L929.4 1153.4 L932.3 1153.6 L935.3 1153.7 L938.2 1153.9 L941.2 1154 L944.1 1154.1 L947.1 1154.2" fill="none" stroke="#050fbb" stroke-width="1.6" stroke-linejoin="round"/>
<path d="M564.3 1155.8 L567.3 1155.7 L570.2 1155.6 L573.2 1155.5 L576.1 1155.4 L579.1 1155.2 L582 1155.1 L584.9 1154.9 L587.9 1154.7 L590.8 1154.5 L593.8 1154.2 L596.7 1153.9 L599.7 1153.6 L602.6 1153.3 L605.6 1152.9 L608.5 1152.4 L611.4 1151.7 L614.4 1150.8 L617.3 1149.4 L620.3 1147.5 L623.2 1145 L626.2 1141.7 L629.1 1137.6 L632.1 1132.5 L635 1126.5 L637.9 1119.5 L640.9 1111.6 L643.8 1102.9 L646.8 1093.5 L649.7 1083.5 L652.7 1072.8 L655.6 1061.8 L658.5 1050.7 L661.5 1039.6 L664.4 1028.5 L667.4 1017.8 L670.3 1007.3 L673.3 997.3 L676.2 988 L679.2 979.4 L682.1 971.7 L685 964.9 L688 959.1 L690.9 954.3 L693.9 950.5 L696.8 947.8 L699.8 946.2 L702.7 945.7 L705.7 946.1 L708.6 947.3 L711.5 949.1 L714.5 951.6 L717.4 954.6 L720.4 958.2 L723.3 962.3 L726.3 966.9 L729.2 971.9 L732.1 977.3 L735.1 983.1 L738 989.3 L741 995.8 L743.9 1002.6 L746.9 1009.6 L749.8 1016.7 L752.8 1023.8 L755.7 1030.8 L758.6 1037.7 L761.6 1044.6 L764.5 1051.2 L767.5 1057.6 L770.4 1063.7 L773.4 1069.6 L776.3 1075.3 L779.3 1080.6 L782.2 1085.8 L785.1 1090.6 L788.1 1095.2 L791 1099.5 L794 1103.5 L796.9 1107.3 L799.9 1110.9 L802.8 1114.3 L805.7 1117.5 L808.7 1120.4 L811.6 1123.2 L814.6 1125.7 L817.5 1128 L820.5 1130.1 L823.4 1132.1 L826.4 1133.9 L829.3 1135.6 L832.2 1137.1 L835.2 1138.5 L838.1 1139.8 L841.1 1140.9 L844 1142 L847 1143 L849.9 1143.9 L852.9 1144.7 L855.8 1145.5 L858.7 1146.1 L861.7 1146.7 L864.6 1147.2 L867.6 1147.8 L870.5 1148.2 L873.5 1148.7 L876.4 1149.1 L879.3 1149.4 L882.3 1149.8 L885.2 1150.1 L888.2 1150.4 L891.1 1150.7 L894.1 1151 L897 1151.2 L900 1151.5 L902.9 1151.7 L905.8 1151.9 L908.8 1152.1 L911.7 1152.3 L914.7 1152.5 L917.6 1152.7 L920.6 1152.9 L923.5 1153.1 L926.5 1153.3 L929.4 1153.4 L932.3 1153.6 L935.3 1153.7 L938.2 1153.9 L941.2 1154 L944.1 1154.1 L947.1 1154.2" fill="none" stroke="#050eb1" stroke-width="1.6" stroke-linejoin="round"/>
<path d="M564.3 1155.9 L567.3 1155.9 L570.2 1155.8 L573.2 1155.7 L576.1 1155.5 L579.1 1155.4 L582 1155.2 L584.9 1155 L587.9 1154.8 L590.8 1154.6 L593.8 1154.3 L596.7 1154 L599.7 1153.7 L602.6 1153.3 L605.6 1152.9 L608.5 1152.4 L611.4 1151.7 L614.4 1150.8 L617.3 1149.4 L620.3 1147.4 L623.2 1144.8 L626.2 1141.4 L629.1 1137.1 L632.1 1131.9 L635 1125.6 L637.9 1118.4 L640.9 1110.2 L643.8 1101.2 L646.8 1091.4 L649.7 1081 L652.7 1070 L655.6 1058.6 L658.5 1047 L661.5 1035.4 L664.4 1024 L667.4 1012.8 L670.3 1002 L673.3 991.7 L676.2 982 L679.2 973.1 L682.1 965 L685 958 L688 952 L690.9 947.1 L693.9 943.1 L696.8 940.3 L699.8 938.7 L702.7 938.1 L705.7 938.6 L708.6 939.8 L711.5 941.7 L714.5 944.3 L717.4 947.4 L720.4 951.2 L723.3 955.5 L726.3 960.2 L729.2 965.4 L732.1 971 L735.1 977 L738 983.4 L741 990.2 L743.9 997.3 L746.9 1004.5 L749.8 1011.9 L752.8 1019.2 L755.7 1026.5 L758.6 1033.8 L761.6 1040.8 L764.5 1047.7 L767.5 1054.3 L770.4 1060.7 L773.4 1066.8 L776.3 1072.7 L779.3 1078.3 L782.2 1083.6 L785.1 1088.6 L788.1 1093.3 L791 1097.8 L794 1102 L796.9 1105.9 L799.9 1109.6 L802.8 1113.1 L805.7 1116.4 L808.7 1119.5 L811.6 1122.3 L814.6 1124.9 L817.5 1127.3 L820.5 1129.5 L823.4 1131.5 L826.4 1133.4 L829.3 1135.1 L832.2 1136.7 L835.2 1138.1 L838.1 1139.4 L841.1 1140.6 L844 1141.8 L847 1142.8 L849.9 1143.7 L852.9 1144.6 L855.8 1145.3 L858.7 1146 L861.7 1146.6 L864.6 1147.1 L867.6 1147.7 L870.5 1148.1 L873.5 1148.6 L876.4 1149 L879.3 1149.4 L882.3 1149.7 L885.2 1150.1 L888.2 1150.4 L891.1 1150.7 L894.1 1151 L897 1151.2 L900 1151.5 L902.9 1151.7 L905.8 1151.9 L908.8 1152.1 L911.7 1152.3 L914.7 1152.5 L917.6 1152.7 L920.6 1152.9 L923.5 1153.1 L926.5 1153.3 L929.4 1153.4 L932.3 1153.6 L935.3 1153.7 L938.2 1153.9 L941.2 1154 L944.1 1154.1 L947.1 1154.2" fill="none" stroke="#050ca7" stroke-width="1.6" stroke-linejoin="round"/>
<path d="M564.3 1156.1 L567.3 1156.1 L570.2 1156 L573.2 1155.9 L576.1 1155.7 L579.1 1155.5 L582 1155.4 L584.9 1155.2 L587.9 1155 L590.8 1154.7 L593.8 1154.4 L596.7 1154.1 L599.7 1153.8 L602.6 1153.4 L605.6 1153 L608.5 1152.5 L611.4 1151.7 L614.4 1150.7 L617.3 1149.3 L620.3 1147.2 L623.2 1144.5 L626.2 1140.9 L629.1 1136.4 L632.1 1131 L635 1124.5 L637.9 1116.9 L640.9 1108.3 L643.8 1098.8 L646.8 1088.6 L649.7 1077.7 L652.7 1066.1 L655.6 1054.2 L658.5 1042.1 L661.5 1029.9 L664.4 1018 L667.4 1006.2 L670.3 994.9 L673.3 984.1 L676.2 973.9 L679.2 964.6 L682.1 956.2 L685 948.8 L688 942.5 L690.9 937.3 L693.9 933.3 L696.8 930.3 L699.8 928.6 L702.7 928 L705.7 928.5 L708.6 929.8 L711.5 931.8 L714.5 934.5 L717.4 937.8 L720.4 941.8 L723.3 946.3 L726.3 951.2 L729.2 956.7 L732.1 962.5 L735.1 968.9 L738 975.6 L741 982.8 L743.9 990.2 L746.9 997.8 L749.8 1005.5 L752.8 1013.2 L755.7 1020.9 L758.6 1028.4 L761.6 1035.8 L764.5 1043 L767.5 1050 L770.4 1056.7 L773.4 1063.1 L776.3 1069.2 L779.3 1075.1 L782.2 1080.7 L785.1 1085.9 L788.1 1090.9 L791 1095.5 L794 1099.9 L796.9 1104 L799.9 1107.9 L802.8 1111.6 L805.7 1115 L808.7 1118.2 L811.6 1121.2 L814.6 1123.9 L817.5 1126.4 L820.5 1128.7 L823.4 1130.8 L826.4 1132.7 L829.3 1134.5 L832.2 1136.1 L835.2 1137.6 L838.1 1139 L841.1 1140.3 L844 1141.4 L847 1142.5 L849.9 1143.5 L852.9 1144.3 L855.8 1145.1 L858.7 1145.8 L861.7 1146.4 L864.6 1147 L867.6 1147.5 L870.5 1148 L873.5 1148.5 L876.4 1148.9 L879.3 1149.3 L882.3 1149.7 L885.2 1150 L888.2 1150.3 L891.1 1150.6 L894.1 1150.9 L897 1151.2 L900 1151.4 L902.9 1151.7 L905.8 1151.9 L908.8 1152.1 L911.7 1152.3 L914.7 1152.5 L917.6 1152.7 L920.6 1152.9 L923.5 1153.1 L926.5 1153.3 L929.4 1153.4 L932.3 1153.6 L935.3 1153.7 L938.2 1153.9 L941.2 1154 L944.1 1154.1 L947.1 1154.2" fill="none" stroke="#050b9d" stroke-width="1.6" stroke-linejoin="round"/>
<path d="M564.3 1156.3 L567.3 1156.2 L570.2 1156.1 L573.2 1156 L576.1 1155.8 L579.1 1155.7 L582 1155.5 L584.9 1155.3 L587.9 1155 L590.8 1154.8 L593.8 1154.5 L596.7 1154.2 L599.7 1153.9 L602.6 1153.5 L605.6 1153 L608.5 1152.5 L611.4 1151.8 L614.4 1150.7 L617.3 1149.2 L620.3 1147.1 L623.2 1144.3 L626.2 1140.6 L629.1 1136 L632.1 1130.4 L635 1123.7 L637.9 1115.9 L640.9 1107.1 L643.8 1097.4 L646.8 1086.9 L649.7 1075.6 L652.7 1063.7 L655.6 1051.4 L658.5 1039 L661.5 1026.5 L664.4 1014.2 L667.4 1002.1 L670.3 990.4 L673.3 979.3 L676.2 968.9 L679.2 959.3 L682.1 950.7 L685 943.1 L688 936.6 L690.9 931.3 L693.9 927.1 L696.8 924.1 L699.8 922.3 L702.7 921.7 L705.7 922.2 L708.6 923.5 L711.5 925.6 L714.5 928.4 L717.4 931.9 L720.4 935.9 L723.3 940.5 L726.3 945.6 L729.2 951.2 L732.1 957.3 L735.1 963.8 L738 970.8 L741 978.1 L743.9 985.7 L746.9 993.6 L749.8 1001.5 L752.8 1009.4 L755.7 1017.3 L758.6 1025.1 L761.6 1032.7 L764.5 1040.1 L767.5 1047.3 L770.4 1054.2 L773.4 1060.8 L776.3 1067.1 L779.3 1073.1 L782.2 1078.9 L785.1 1084.3 L788.1 1089.4 L791 1094.1 L794 1098.6 L796.9 1102.9 L799.9 1106.8 L802.8 1110.6 L805.7 1114.2 L808.7 1117.5 L811.6 1120.5 L814.6 1123.3 L817.5 1125.8 L820.5 1128.2 L823.4 1130.3 L826.4 1132.3 L829.3 1134.1 L832.2 1135.8 L835.2 1137.3 L838.1 1138.7 L841.1 1140 L844 1141.2 L847 1142.3 L849.9 1143.3 L852.9 1144.2 L855.8 1145 L858.7 1145.7 L861.7 1146.3 L864.6 1146.9 L867.6 1147.4 L870.5 1147.9 L873.5 1148.4 L876.4 1148.8 L879.3 1149.2 L882.3 1149.6 L885.2 1150 L888.2 1150.3 L891.1 1150.6 L894.1 1150.9 L897 1151.2 L900 1151.4 L902.9 1151.7 L905.8 1151.9 L908.8 1152.1 L911.7 1152.3 L914.7 1152.5 L917.6 1152.7 L920.6 1152.9 L923.5 1153.1 L926.5 1153.2 L929.4 1153.4 L932.3 1153.6 L935.3 1153.7 L938.2 1153.9 L941.2 1154 L944.1 1154.1 L947.1 1154.2" fill="none" stroke="#050a92" stroke-width="1.6" stroke-linejoin="round"/>
<path d="M564.3 1156.5 L567.3 1156.4 L570.2 1156.3 L573.2 1156.2 L576.1 1156 L579.1 1155.8 L582 1155.6 L584.9 1155.4 L587.9 1155.2 L590.8 1154.9 L593.8 1154.6 L596.7 1154.3 L599.7 1153.9 L602.6 1153.5 L605.6 1153.1 L608.5 1152.5 L611.4 1151.8 L614.4 1150.7 L617.3 1149.1 L620.3 1146.9 L623.2 1144 L626.2 1140.2 L629.1 1135.4 L632.1 1129.6 L635 1122.6 L637.9 1114.4 L640.9 1105.2 L643.8 1095 L646.8 1084.1 L649.7 1072.3 L652.7 1059.9 L655.6 1047.1 L658.5 1034 L661.5 1021 L664.4 1008.2 L667.4 995.6 L670.3 983.4 L673.3 971.7 L676.2 960.8 L679.2 950.8 L682.1 941.8 L685 933.9 L688 927.2 L690.9 921.6 L693.9 917.2 L696.8 914.1 L699.8 912.2 L702.7 911.6 L705.7 912.1 L708.6 913.5 L711.5 915.7 L714.5 918.7 L717.4 922.3 L720.4 926.5 L723.3 931.3 L726.3 936.7 L729.2 942.5 L732.1 948.9 L735.1 955.7 L738 963 L741 970.6 L743.9 978.6 L746.9 986.8 L749.8 995.1 L752.8 1003.4 L755.7 1011.6 L758.6 1019.8 L761.6 1027.7 L764.5 1035.5 L767.5 1043 L770.4 1050.2 L773.4 1057 L776.3 1063.6 L779.3 1070 L782.2 1075.9 L785.1 1081.6 L788.1 1086.9 L791 1091.9 L794 1096.6 L796.9 1101 L799.9 1105.1 L802.8 1109.1 L805.7 1112.8 L808.7 1116.2 L811.6 1119.4 L814.6 1122.3 L817.5 1124.9 L820.5 1127.3 L823.4 1129.6 L826.4 1131.6 L829.3 1133.5 L832.2 1135.3 L835.2 1136.8 L838.1 1138.3 L841.1 1139.6 L844 1140.9 L847 1142 L849.9 1143 L852.9 1143.9 L855.8 1144.7 L858.7 1145.5 L861.7 1146.1 L864.6 1146.7 L867.6 1147.3 L870.5 1147.8 L873.5 1148.3 L876.4 1148.8 L879.3 1149.2 L882.3 1149.5 L885.2 1149.9 L888.2 1150.2 L891.1 1150.5 L894.1 1150.8 L897 1151.1 L900 1151.4 L902.9 1151.6 L905.8 1151.9 L908.8 1152.1 L911.7 1152.3 L914.7 1152.5 L917.6 1152.7 L920.6 1152.9 L923.5 1153.1 L926.5 1153.2 L929.4 1153.4 L932.3 1153.6 L935.3 1153.7 L938.2 1153.9 L941.2 1154 L944.1 1154.1 L947.1 1154.2" fill="none" stroke="#040988" stroke-width="1.6" stroke-linejoin="round"/>
<path d="M564.3 1156.7 L567.3 1156.6 L570.2 1156.5 L573.2 1156.3 L576.1 1156.2 L579.1 1156 L582 1155.8 L584.9 1155.6 L587.9 1155.3 L590.8 1155.1 L593.8 1154.8 L596.7 1154.4 L599.7 1154 L602.6 1153.6 L605.6 1153.1 L608.5 1152.6 L611.4 1151.8 L614.4 1150.6 L617.3 1149 L620.3 1146.7 L623.2 1143.7 L626.2 1139.7 L629.1 1134.8 L632.1 1128.7 L635 1121.4 L637.9 1112.9 L640.9 1103.3 L643.8 1092.7 L646.8 1081.3 L649.7 1069 L652.7 1056.1 L655.6 1042.7 L658.5 1029.1 L661.5 1015.5 L664.4 1002.1 L667.4 989 L670.3 976.3 L673.3 964.1 L676.2 952.8 L679.2 942.3 L682.1 933 L685 924.7 L688 917.7 L690.9 911.9 L693.9 907.3 L696.8 904.1 L699.8 902.1 L702.7 901.5 L705.7 902.1 L708.6 903.6 L711.5 905.8 L714.5 908.9 L717.4 912.7 L720.4 917.1 L723.3 922.2 L726.3 927.8 L729.2 933.9 L732.1 940.5 L735.1 947.6 L738 955.2 L741 963.2 L743.9 971.5 L746.9 980 L749.8 988.7 L752.8 997.3 L755.7 1006 L758.6 1014.4 L761.6 1022.8 L764.5 1030.8 L767.5 1038.6 L770.4 1046.1 L773.4 1053.3 L776.3 1060.2 L779.3 1066.8 L782.2 1073 L785.1 1078.9 L788.1 1084.5 L791 1089.7 L794 1094.5 L796.9 1099.1 L799.9 1103.4 L802.8 1107.5 L805.7 1111.4 L808.7 1114.9 L811.6 1118.2 L814.6 1121.2 L817.5 1124 L820.5 1126.5 L823.4 1128.8 L826.4 1130.9 L829.3 1132.9 L832.2 1134.7 L835.2 1136.4 L838.1 1137.9 L841.1 1139.3 L844 1140.5 L847 1141.7 L849.9 1142.8 L852.9 1143.7 L855.8 1144.5 L858.7 1145.3 L861.7 1146 L864.6 1146.6 L867.6 1147.2 L870.5 1147.7 L873.5 1148.2 L876.4 1148.7 L879.3 1149.1 L882.3 1149.5 L885.2 1149.8 L888.2 1150.2 L891.1 1150.5 L894.1 1150.8 L897 1151.1 L900 1151.3 L902.9 1151.6 L905.8 1151.8 L908.8 1152.1 L911.7 1152.3 L914.7 1152.5 L917.6 1152.7 L920.6 1152.9 L923.5 1153.1 L926.5 1153.2 L929.4 1153.4 L932.3 1153.6 L935.3 1153.7 L938.2 1153.9 L941.2 1154 L944.1 1154.1 L947.1 1154.2" fill="none" stroke="#04087e" stroke-width="1.6" stroke-linejoin="round"/>
<path d="M564.3 1156.7 L567.3 1156.7 L570.2 1156.6 L573.2 1156.4 L576.1 1156.2 L579.1 1156.1 L582 1155.9 L584.9 1155.6 L587.9 1155.4 L590.8 1155.1 L593.8 1154.8 L596.7 1154.5 L599.7 1154.1 L602.6 1153.7 L605.6 1153.2 L608.5 1152.6 L611.4 1151.8 L614.4 1150.6 L617.3 1149 L620.3 1146.7 L623.2 1143.6 L626.2 1139.5 L629.1 1134.5 L632.1 1128.3 L635 1120.9 L637.9 1112.3 L640.9 1102.6 L643.8 1091.8 L646.8 1080.2 L649.7 1067.8 L652.7 1054.6 L655.6 1041 L658.5 1027.2 L661.5 1013.5 L664.4 999.8 L667.4 986.5 L670.3 973.6 L673.3 961.3 L676.2 949.8 L679.2 939.2 L682.1 929.6 L685 921.3 L688 914.1 L690.9 908.2 L693.9 903.6 L696.8 900.3 L699.8 898.4 L702.7 897.7 L705.7 898.3 L708.6 899.8 L711.5 902.1 L714.5 905.2 L717.4 909.1 L720.4 913.6 L723.3 918.7 L726.3 924.4 L729.2 930.6 L732.1 937.3 L735.1 944.5 L738 952.2 L741 960.4 L743.9 968.8 L746.9 977.5 L749.8 986.3 L752.8 995.1 L755.7 1003.8 L758.6 1012.4 L761.6 1020.9 L764.5 1029.1 L767.5 1037 L770.4 1044.6 L773.4 1051.9 L776.3 1058.9 L779.3 1065.6 L782.2 1071.9 L785.1 1077.9 L788.1 1083.5 L791 1088.8 L794 1093.8 L796.9 1098.4 L799.9 1102.8 L802.8 1107 L805.7 1110.8 L808.7 1114.5 L811.6 1117.8 L814.6 1120.8 L817.5 1123.6 L820.5 1126.2 L823.4 1128.5 L826.4 1130.7 L829.3 1132.7 L832.2 1134.5 L835.2 1136.2 L838.1 1137.7 L841.1 1139.1 L844 1140.4 L847 1141.6 L849.9 1142.7 L852.9 1143.6 L855.8 1144.4 L858.7 1145.2 L861.7 1145.9 L864.6 1146.5 L867.6 1147.1 L870.5 1147.7 L873.5 1148.2 L876.4 1148.6 L879.3 1149.1 L882.3 1149.4 L885.2 1149.8 L888.2 1150.2 L891.1 1150.5 L894.1 1150.8 L897 1151.1 L900 1151.3 L902.9 1151.6 L905.8 1151.8 L908.8 1152 L911.7 1152.3 L914.7 1152.5 L917.6 1152.7 L920.6 1152.9 L923.5 1153.1 L926.5 1153.2 L929.4 1153.4 L932.3 1153.6 L935.3 1153.7 L938.2 1153.9 L941.2 1154 L944.1 1154.1 L947.1 1154.2" fill="none" stroke="#040674" stroke-width="1.6" stroke-linejoin="round"/>
<path d="M564.3 1156.9 L567.3 1156.8 L570.2 1156.7 L573.2 1156.6 L576.1 1156.4 L579.1 1156.2 L582 1156 L584.9 1155.8 L587.9 1155.5 L590.8 1155.2 L593.8 1154.9 L596.7 1154.5 L599.7 1154.2 L602.6 1153.7 L605.6 1153.2 L608.5 1152.6 L611.4 1151.8 L614.4 1150.6 L617.3 1148.9 L620.3 1146.5 L623.2 1143.3 L626.2 1139.2 L629.1 1134 L632.1 1127.7 L635 1120.1 L637.9 1111.2 L640.9 1101.1 L643.8 1090.1 L646.8 1078.1 L649.7 1065.3 L652.7 1051.8 L655.6 1037.8 L658.5 1023.5 L661.5 1009.4 L664.4 995.3 L667.4 981.6 L670.3 968.3 L673.3 955.6 L676.2 943.7 L679.2 932.8 L682.1 923 L685 914.4 L688 907 L690.9 901 L693.9 896.2 L696.8 892.8 L699.8 890.8 L702.7 890.2 L705.7 890.8 L708.6 892.3 L711.5 894.7 L714.5 897.9 L717.4 901.9 L720.4 906.6 L723.3 911.8 L726.3 917.7 L729.2 924.1 L732.1 931 L735.1 938.4 L738 946.4 L741 954.8 L743.9 963.5 L746.9 972.4 L749.8 981.5 L752.8 990.6 L755.7 999.6 L758.6 1008.4 L761.6 1017.2 L764.5 1025.6 L767.5 1033.8 L770.4 1041.6 L773.4 1049.1 L776.3 1056.3 L779.3 1063.2 L782.2 1069.7 L785.1 1075.9 L788.1 1081.7 L791 1087.1 L794 1092.2 L796.9 1097 L799.9 1101.5 L802.8 1105.8 L805.7 1109.8 L808.7 1113.5 L811.6 1116.9 L814.6 1120.1 L817.5 1122.9 L820.5 1125.6 L823.4 1128 L826.4 1130.2 L829.3 1132.2 L832.2 1134.1 L835.2 1135.8 L838.1 1137.4 L841.1 1138.8 L844 1140.1 L847 1141.4 L849.9 1142.5 L852.9 1143.4 L855.8 1144.3 L858.7 1145.1 L861.7 1145.8 L864.6 1146.4 L867.6 1147 L870.5 1147.6 L873.5 1148.1 L876.4 1148.6 L879.3 1149 L882.3 1149.4 L885.2 1149.8 L888.2 1150.1 L891.1 1150.4 L894.1 1150.8 L897 1151 L900 1151.3 L902.9 1151.6 L905.8 1151.8 L908.8 1152 L911.7 1152.2 L914.7 1152.5 L917.6 1152.7 L920.6 1152.9 L923.5 1153 L926.5 1153.2 L929.4 1153.4 L932.3 1153.6 L935.3 1153.7 L938.2 1153.9 L941.2 1154 L944.1 1154.1 L947.1 1154.2" fill="none" stroke="#040569" stroke-width="1.6" stroke-linejoin="round"/>
<path d="M564.3 1157.1 L567.3 1157 L570.2 1156.9 L573.2 1156.7 L576.1 1156.5 L579.1 1156.3 L582 1156.1 L584.9 1155.9 L587.9 1155.6 L590.8 1155.3 L593.8 1155 L596.7 1154.6 L599.7 1154.2 L602.6 1153.8 L605.6 1153.3 L608.5 1152.6 L611.4 1151.8 L614.4 1150.6 L617.3 1148.8 L620.3 1146.4 L623.2 1143.1 L626.2 1138.8 L629.1 1133.5 L632.1 1126.9 L635 1119.1 L637.9 1109.9 L640.9 1099.5 L643.8 1088.1 L646.8 1075.8 L649.7 1062.6 L652.7 1048.6 L655.6 1034.1 L658.5 1019.5 L661.5 1004.8 L664.4 990.3 L667.4 976.1 L670.3 962.4 L673.3 949.3 L676.2 937 L679.2 925.8 L682.1 915.6 L685 906.8 L688 899.2 L690.9 892.9 L693.9 888 L696.8 884.5 L699.8 882.4 L702.7 881.8 L705.7 882.4 L708.6 884 L711.5 886.5 L714.5 889.8 L717.4 893.9 L720.4 898.8 L723.3 904.2 L726.3 910.3 L729.2 916.9 L732.1 924 L735.1 931.7 L738 939.9 L741 948.6 L743.9 957.6 L746.9 966.8 L749.8 976.2 L752.8 985.5 L755.7 994.8 L758.6 1004 L761.6 1013 L764.5 1021.8 L767.5 1030.2 L770.4 1038.3 L773.4 1046.1 L776.3 1053.5 L779.3 1060.6 L782.2 1067.3 L785.1 1073.7 L788.1 1079.7 L791 1085.3 L794 1090.5 L796.9 1095.5 L799.9 1100.1 L802.8 1104.5 L805.7 1108.6 L808.7 1112.5 L811.6 1116 L814.6 1119.2 L817.5 1122.2 L820.5 1124.9 L823.4 1127.3 L826.4 1129.6 L829.3 1131.7 L832.2 1133.7 L835.2 1135.4 L838.1 1137 L841.1 1138.5 L844 1139.9 L847 1141.1 L849.9 1142.2 L852.9 1143.2 L855.8 1144.1 L858.7 1144.9 L861.7 1145.6 L864.6 1146.3 L867.6 1146.9 L870.5 1147.5 L873.5 1148 L876.4 1148.5 L879.3 1148.9 L882.3 1149.3 L885.2 1149.7 L888.2 1150.1 L891.1 1150.4 L894.1 1150.7 L897 1151 L900 1151.3 L902.9 1151.5 L905.8 1151.8 L908.8 1152 L911.7 1152.2 L914.7 1152.4 L917.6 1152.6 L920.6 1152.8 L923.5 1153 L926.5 1153.2 L929.4 1153.4 L932.3 1153.6 L935.3 1153.7 L938.2 1153.9 L941.2 1154 L944.1 1154.1 L947.1 1154.2" fill="none" stroke="#04045f" stroke-width="1.6" stroke-linejoin="round"/>
</g>
<rect x="564.3" y="866.2" width="383.9" height="309.8" fill="none" stroke="#000" stroke-width="2" />
<line x1="558.3" y1="1158.5" x2="564.3" y2="1158.5" stroke="#000" stroke-width="2" />
<text x="553.8" y="1164.7" font-size="17.6" font-weight="bold" font-style="normal" text-anchor="end" fill="#000" >0</text>
<line x1="558.3" y1="1109.7" x2="564.3" y2="1109.7" stroke="#000" stroke-width="2" />
<text x="553.8" y="1115.9" font-size="17.6" font-weight="bold" font-style="normal" text-anchor="end" fill="#000" >3000</text>
<line x1="558.3" y1="1060.9" x2="564.3" y2="1060.9" stroke="#000" stroke-width="2" />
<text x="553.8" y="1067.1" font-size="17.6" font-weight="bold" font-style="normal" text-anchor="end" fill="#000" >6000</text>
<line x1="558.3" y1="1012.1" x2="564.3" y2="1012.1" stroke="#000" stroke-width="2" />
<text x="553.8" y="1018.3" font-size="17.6" font-weight="bold" font-style="normal" text-anchor="end" fill="#000" >9000</text>
<line x1="558.3" y1="963.3" x2="564.3" y2="963.3" stroke="#000" stroke-width="2" />
<text x="553.8" y="969.5" font-size="17.6" font-weight="bold" font-style="normal" text-anchor="end" fill="#000" >12000</text>
<line x1="558.3" y1="914.5" x2="564.3" y2="914.5" stroke="#000" stroke-width="2" />
<text x="553.8" y="920.7" font-size="17.6" font-weight="bold" font-style="normal" text-anchor="end" fill="#000" >15000</text>
<line x1="558.3" y1="865.7" x2="564.3" y2="865.7" stroke="#000" stroke-width="2" />
<text x="553.8" y="871.9" font-size="17.6" font-weight="bold" font-style="normal" text-anchor="end" fill="#000" >18000</text>
<line x1="560.8" y1="1134.1" x2="564.3" y2="1134.1" stroke="#000" stroke-width="2" />
<line x1="560.8" y1="1085.3" x2="564.3" y2="1085.3" stroke="#000" stroke-width="2" />
<line x1="560.8" y1="1036.5" x2="564.3" y2="1036.5" stroke="#000" stroke-width="2" />
<line x1="560.8" y1="987.7" x2="564.3" y2="987.7" stroke="#000" stroke-width="2" />
<line x1="560.8" y1="938.9" x2="564.3" y2="938.9" stroke="#000" stroke-width="2" />
<line x1="560.8" y1="890.1" x2="564.3" y2="890.1" stroke="#000" stroke-width="2" />
<line x1="608.5" y1="1176" x2="608.5" y2="1182" stroke="#000" stroke-width="2" />
<text x="608.5" y="1199.2" font-size="17.6" font-weight="bold" font-style="normal" text-anchor="middle" fill="#000" >350</text>
<line x1="682.1" y1="1176" x2="682.1" y2="1182" stroke="#000" stroke-width="2" />
<text x="682.1" y="1199.2" font-size="17.6" font-weight="bold" font-style="normal" text-anchor="middle" fill="#000" >400</text>
<line x1="755.7" y1="1176" x2="755.7" y2="1182" stroke="#000" stroke-width="2" />
<text x="755.7" y="1199.2" font-size="17.6" font-weight="bold" font-style="normal" text-anchor="middle" fill="#000" >450</text>
<line x1="829.3" y1="1176" x2="829.3" y2="1182" stroke="#000" stroke-width="2" />
<text x="829.3" y="1199.2" font-size="17.6" font-weight="bold" font-style="normal" text-anchor="middle" fill="#000" >500</text>
<line x1="902.9" y1="1176" x2="902.9" y2="1182" stroke="#000" stroke-width="2" />
<text x="902.9" y="1199.2" font-size="17.6" font-weight="bold" font-style="normal" text-anchor="middle" fill="#000" >550</text>
<line x1="571.7" y1="1176" x2="571.7" y2="1179.5" stroke="#000" stroke-width="2" />
<line x1="645.3" y1="1176" x2="645.3" y2="1179.5" stroke="#000" stroke-width="2" />
<line x1="718.9" y1="1176" x2="718.9" y2="1179.5" stroke="#000" stroke-width="2" />
<line x1="792.5" y1="1176" x2="792.5" y2="1179.5" stroke="#000" stroke-width="2" />
<line x1="866.1" y1="1176" x2="866.1" y2="1179.5" stroke="#000" stroke-width="2" />
<line x1="939.7" y1="1176" x2="939.7" y2="1179.5" stroke="#000" stroke-width="2" />
<text x="755.5" y="1221" font-size="17.5" font-weight="bold" font-style="normal" text-anchor="middle" fill="#000" >Wavelength (nm)</text>
<text x="501.5" y="1020.5" font-size="17.5" font-weight="bold" font-style="normal" text-anchor="middle" fill="#000" transform="rotate(-90 501.5 1020.5)" >Intensity (a.u.)</text>
<text transform="translate(481.7 861.5) scale(1.06 1)" font-size="26.3" font-weight="bold" font-style="normal" text-anchor="start" fill="#000" >f)</text>
<text x="615.6" y="898.3" font-size="15.9" font-weight="bold" font-style="normal" text-anchor="middle" fill="#0a1ad6" >1700 uL</text>
<text x="614.2" y="971.3" font-size="16" font-weight="bold" font-style="normal" text-anchor="middle" fill="#0a1ad6" >0 uL</text>
<line x1="613.6" y1="956.5" x2="613.6" y2="920" stroke="#0a1ad6" stroke-width="2.5" />
<polygon points="613.6,909 609.1,923.5 618.1,923.5" fill="#0a1ad6" stroke="none" stroke-width="1" />
<line x1="787.8" y1="876.3" x2="787.8" y2="1002.15" stroke="#000" stroke-width="1.5" />
<line x1="787.05" y1="1001.4" x2="937.8" y2="1001.4" stroke="#000" stroke-width="1.5" />
<line x1="806.5" y1="1001.4" x2="806.5" y2="1005.4" stroke="#000" stroke-width="1.3" />
<text x="806.5" y="1012.6" font-size="8.6" font-weight="bold" font-style="normal" text-anchor="middle" fill="#000" >4.2</text>
<line x1="833.3" y1="1001.4" x2="833.3" y2="1005.4" stroke="#000" stroke-width="1.3" />
<text x="833.3" y="1012.6" font-size="8.6" font-weight="bold" font-style="normal" text-anchor="middle" fill="#000" >4.4</text>
<line x1="860.6" y1="1001.4" x2="860.6" y2="1005.4" stroke="#000" stroke-width="1.3" />
<text x="860.6" y="1012.6" font-size="8.6" font-weight="bold" font-style="normal" text-anchor="middle" fill="#000" >4.6</text>
<line x1="887.4" y1="1001.4" x2="887.4" y2="1005.4" stroke="#000" stroke-width="1.3" />
<text x="887.4" y="1012.6" font-size="8.6" font-weight="bold" font-style="normal" text-anchor="middle" fill="#000" >4.8</text>
<line x1="914.5" y1="1001.4" x2="914.5" y2="1005.4" stroke="#000" stroke-width="1.3" />
<text x="914.5" y="1012.6" font-size="8.6" font-weight="bold" font-style="normal" text-anchor="middle" fill="#000" >5.0</text>
<line x1="793" y1="1001.4" x2="793" y2="1003.7" stroke="#000" stroke-width="1.1" />
<line x1="820" y1="1001.4" x2="820" y2="1003.7" stroke="#000" stroke-width="1.1" />
<line x1="847" y1="1001.4" x2="847" y2="1003.7" stroke="#000" stroke-width="1.1" />
<line x1="874" y1="1001.4" x2="874" y2="1003.7" stroke="#000" stroke-width="1.1" />
<line x1="901" y1="1001.4" x2="901" y2="1003.7" stroke="#000" stroke-width="1.1" />
<line x1="928" y1="1001.4" x2="928" y2="1003.7" stroke="#000" stroke-width="1.1" />
<line x1="783.8" y1="884" x2="787.8" y2="884" stroke="#000" stroke-width="1.3" />
<text x="782.5" y="887.1" font-size="8.6" font-weight="bold" font-style="normal" text-anchor="end" fill="#000" >3.8</text>
<line x1="783.8" y1="934.6" x2="787.8" y2="934.6" stroke="#000" stroke-width="1.3" />
<text x="782.5" y="937.7" font-size="8.6" font-weight="bold" font-style="normal" text-anchor="end" fill="#000" >3.6</text>
<line x1="783.8" y1="985.3" x2="787.8" y2="985.3" stroke="#000" stroke-width="1.3" />
<text x="782.5" y="988.4" font-size="8.6" font-weight="bold" font-style="normal" text-anchor="end" fill="#000" >3.4</text>
<line x1="785.5" y1="909.3" x2="787.8" y2="909.3" stroke="#000" stroke-width="1.1" />
<line x1="785.5" y1="960" x2="787.8" y2="960" stroke="#000" stroke-width="1.1" />
<rect x="793.6" y="988.3" width="8" height="8" fill="#000" stroke="none" stroke-width="1" />
<rect x="803.6" y="979.6" width="8" height="8" fill="#000" stroke="none" stroke-width="1" />
<rect x="822.5" y="964" width="8" height="8" fill="#000" stroke="none" stroke-width="1" />
<rect x="842.8" y="949.8" width="8" height="8" fill="#000" stroke="none" stroke-width="1" />
<rect x="862.4" y="935.3" width="8" height="8" fill="#000" stroke="none" stroke-width="1" />
<rect x="872.5" y="925.3" width="8" height="8" fill="#000" stroke="none" stroke-width="1" />
<rect x="882" y="915.7" width="8" height="8" fill="#000" stroke="none" stroke-width="1" />
<rect x="890.7" y="905" width="8" height="8" fill="#000" stroke="none" stroke-width="1" />
<rect x="901.2" y="897.3" width="8" height="8" fill="#000" stroke="none" stroke-width="1" />
<rect x="909.8" y="890.5" width="8" height="8" fill="#000" stroke="none" stroke-width="1" />
<rect x="923.1" y="884.2" width="8" height="8" fill="#000" stroke="none" stroke-width="1" />
<line x1="797.6" y1="993" x2="927.1" y2="885.2" stroke="#ff0000" stroke-width="1.4" />
<text x="791.3" y="887.5" font-size="13.6" font-weight="bold" font-style="normal" text-anchor="start" fill="#000" ><tspan font-style="italic">K</tspan> = 0.44529 CFU/mL</text>
<text x="791.3" y="906.7" font-size="13.6" font-weight="bold" font-style="normal" text-anchor="start" fill="#000" ><tspan font-style="italic">R</tspan><tspan font-size="8.5" dy="-5">2</tspan><tspan dy="5"> = 0.995</tspan></text>
<text x="862.5" y="1030.5" font-size="11.2" font-weight="bold" font-style="normal" text-anchor="middle" fill="#000" >log[<tspan font-style="italic">S. albus</tspan>, CFU/mL]</text>
<text x="766" y="939" font-size="11.87" font-weight="bold" font-style="normal" text-anchor="middle" fill="#000" transform="rotate(-90 766 939)" >log[Intensity, a.u.]</text>
</g>
</svg>
</body></html>
